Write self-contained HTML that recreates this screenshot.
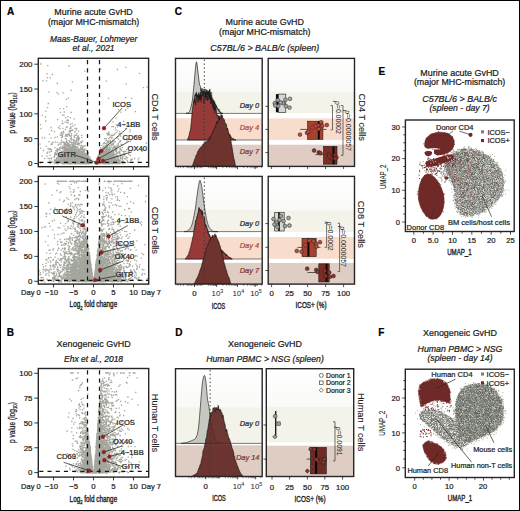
<!DOCTYPE html>
<html><head><meta charset="utf-8"><style>
html,body{margin:0;padding:0;background:#fff;width:520px;height:511px;overflow:hidden;font-family:"Liberation Sans", sans-serif;}
svg text{font-family:"Liberation Sans", sans-serif;}
</style></head><body>
<svg width="520" height="511" viewBox="0 0 520 511" font-family='"Liberation Sans", sans-serif' style="display:block">
<rect x="0" y="0" width="520" height="511" fill="#fff"/>
<text x="7.1" y="14.8" font-size="10" text-anchor="start" fill="#000" stroke="#000" stroke-width="0.22" font-weight="bold">A</text>
<text x="6.7" y="335.6" font-size="10" text-anchor="start" fill="#000" stroke="#000" stroke-width="0.22" font-weight="bold">B</text>
<text x="174.8" y="14.8" font-size="10" text-anchor="start" fill="#000" stroke="#000" stroke-width="0.22" font-weight="bold">C</text>
<text x="175.3" y="336.1" font-size="10" text-anchor="start" fill="#000" stroke="#000" stroke-width="0.22" font-weight="bold">D</text>
<text x="378.4" y="75.3" font-size="10" text-anchor="start" fill="#000" stroke="#000" stroke-width="0.22" font-weight="bold">E</text>
<text x="378.3" y="336.3" font-size="10" text-anchor="start" fill="#000" stroke="#000" stroke-width="0.22" font-weight="bold">F</text>
<text transform="translate(93.6,15) scale(1,1.1)" x="0" y="0" font-size="8.95" text-anchor="middle" fill="#1a1a1a" stroke="#1a1a1a" stroke-width="0.22">Murine acute GvHD</text>
<text transform="translate(93.6,25.3) scale(1,1.1)" x="0" y="0" font-size="8.85" text-anchor="middle" fill="#1a1a1a" stroke="#1a1a1a" stroke-width="0.22">(major MHC-mismatch)</text>
<text transform="translate(93.6,42.2) scale(1,1.1)" x="0" y="0" font-size="8.4" text-anchor="middle" fill="#1a1a1a" stroke="#1a1a1a" stroke-width="0.22" font-style="italic">Maas-Bauer, Lohmeyer</text>
<text transform="translate(93.6,51.3) scale(1,1.1)" x="0" y="0" font-size="8.5" text-anchor="middle" fill="#1a1a1a" stroke="#1a1a1a" stroke-width="0.22" font-style="italic">et al., 2021</text>
<text transform="translate(264.8,25.3) scale(1,1.1)" x="0" y="0" font-size="8.95" text-anchor="middle" fill="#1a1a1a" stroke="#1a1a1a" stroke-width="0.22">Murine acute GvHD</text>
<text transform="translate(264.8,35) scale(1,1.1)" x="0" y="0" font-size="8.85" text-anchor="middle" fill="#1a1a1a" stroke="#1a1a1a" stroke-width="0.22">(major MHC-mismatch)</text>
<text transform="translate(264.8,51.2) scale(1,1.1)" x="0" y="0" font-size="8.9" text-anchor="middle" fill="#1a1a1a" stroke="#1a1a1a" stroke-width="0.22" font-style="italic">C57BL/6 &gt; BALB/c (spleen)</text>
<text transform="translate(459.6,75.5) scale(1,1.1)" x="0" y="0" font-size="8.95" text-anchor="middle" fill="#1a1a1a" stroke="#1a1a1a" stroke-width="0.22">Murine acute GvHD</text>
<text transform="translate(459.6,85.3) scale(1,1.1)" x="0" y="0" font-size="8.85" text-anchor="middle" fill="#1a1a1a" stroke="#1a1a1a" stroke-width="0.22">(major MHC-mismatch)</text>
<text transform="translate(459.6,102.2) scale(1,1.1)" x="0" y="0" font-size="8.95" text-anchor="middle" fill="#1a1a1a" stroke="#1a1a1a" stroke-width="0.22" font-style="italic">C57BL/6 &gt; BALB/c</text>
<text transform="translate(459.6,111.3) scale(1,1.1)" x="0" y="0" font-size="8.7" text-anchor="middle" fill="#1a1a1a" stroke="#1a1a1a" stroke-width="0.22" font-style="italic">(spleen - day 7)</text>
<text transform="translate(93.6,347.3) scale(1,1.1)" x="0" y="0" font-size="8.95" text-anchor="middle" fill="#1a1a1a" stroke="#1a1a1a" stroke-width="0.22">Xenogeneic GvHD</text>
<text transform="translate(93.6,362.3) scale(1,1.1)" x="0" y="0" font-size="8.5" text-anchor="middle" fill="#1a1a1a" stroke="#1a1a1a" stroke-width="0.22" font-style="italic">Ehx et al., 2018</text>
<text transform="translate(265,347.2) scale(1,1.1)" x="0" y="0" font-size="8.95" text-anchor="middle" fill="#1a1a1a" stroke="#1a1a1a" stroke-width="0.22">Xenogeneic GvHD</text>
<text transform="translate(265,362) scale(1,1.1)" x="0" y="0" font-size="8.66" text-anchor="middle" fill="#1a1a1a" stroke="#1a1a1a" stroke-width="0.22" font-style="italic">Human PBMC &gt; NSG (spleen)</text>
<text transform="translate(460,336.3) scale(1,1.1)" x="0" y="0" font-size="8.95" text-anchor="middle" fill="#1a1a1a" stroke="#1a1a1a" stroke-width="0.22">Xenogeneic GvHD</text>
<text transform="translate(460,351.6) scale(1,1.1)" x="0" y="0" font-size="8.76" text-anchor="middle" fill="#1a1a1a" stroke="#1a1a1a" stroke-width="0.22" font-style="italic">Human PBMC &gt; NSG</text>
<text transform="translate(460,361) scale(1,1.1)" x="0" y="0" font-size="8.7" text-anchor="middle" fill="#1a1a1a" stroke="#1a1a1a" stroke-width="0.22" font-style="italic">(spleen - day 14)</text>
<clipPath id="vc1"><rect x="38.3" y="58.3" width="110.3" height="108.39999999999999"/></clipPath>
<g clip-path="url(#vc1)">
<path d="M106.9 155.6h0M101.4 161.0h0M73.5 163.1h0M63.9 154.2h0M101.8 162.9h0M103.9 155.1h0M74.6 150.9h0M97.9 162.8h0M60.5 142.9h0M90.0 162.1h0M74.7 160.6h0M74.5 151.6h0M74.6 149.5h0M67.2 158.8h0M62.9 123.5h0M78.4 160.2h0M86.1 158.9h0M81.0 161.1h0M75.1 161.8h0M118.0 136.6h0M97.3 158.8h0M68.1 163.1h0M102.0 161.9h0M107.3 157.8h0M125.4 163.0h0M113.5 159.4h0M78.4 153.8h0M85.8 154.4h0M87.8 155.7h0M68.6 145.9h0M73.6 146.0h0M61.7 154.6h0M104.2 155.8h0M91.1 161.7h0M69.6 159.5h0M58.4 157.2h0M99.9 162.8h0M90.6 161.9h0M107.4 158.1h0M67.1 144.9h0M71.0 156.5h0M54.0 162.5h0M86.6 161.2h0M102.0 156.4h0M70.4 124.1h0M81.5 152.0h0M79.7 161.7h0M79.2 162.6h0M68.2 143.5h0M66.6 144.6h0M74.2 158.6h0M105.0 163.8h0M70.1 156.8h0M106.5 158.4h0M111.4 137.9h0M79.9 162.4h0M106.8 159.5h0M76.2 162.0h0M98.8 160.6h0M109.7 158.0h0M86.1 160.7h0M88.3 152.3h0M98.7 162.5h0M67.2 161.7h0M101.5 163.2h0M75.2 156.5h0M76.9 162.5h0M84.1 162.5h0M76.8 163.8h0M75.1 149.1h0M72.3 160.5h0M98.3 159.1h0M79.2 138.0h0M70.0 162.2h0M112.8 159.5h0M99.1 163.3h0M98.6 163.2h0M57.3 162.5h0M65.9 157.6h0M72.8 156.2h0M68.3 160.0h0M87.9 162.6h0M76.6 158.6h0M72.8 159.3h0M61.6 161.1h0M71.9 159.3h0M113.4 155.4h0M101.2 161.7h0M98.7 162.2h0M83.3 162.8h0M115.5 158.9h0M97.3 163.8h0M100.7 161.2h0M77.3 162.4h0M74.7 157.0h0M82.2 163.4h0M75.4 158.8h0M70.8 159.2h0M48.5 149.1h0M97.5 162.7h0M75.2 158.2h0M103.2 159.5h0M68.9 146.7h0M77.6 153.2h0M68.4 157.6h0M98.2 159.6h0M86.0 163.1h0M70.9 138.6h0M110.7 155.0h0M81.5 161.0h0M60.2 161.1h0M118.6 146.1h0M107.5 148.7h0M109.6 153.3h0M109.8 137.4h0M71.3 136.9h0M68.2 159.7h0M116.1 157.3h0M71.7 160.7h0M125.6 110.0h0M67.2 157.6h0M73.7 151.2h0M70.9 162.2h0M78.4 158.6h0M101.5 162.7h0M102.6 151.4h0M75.7 161.1h0M120.4 156.4h0M75.0 128.3h0M80.4 160.3h0M80.5 158.5h0M78.9 156.3h0M75.8 153.6h0M80.5 155.2h0M78.0 159.3h0M86.4 156.4h0M73.0 161.3h0M99.0 158.4h0M75.5 156.3h0M60.4 154.3h0M72.5 156.6h0M70.1 160.5h0M76.6 162.6h0M75.6 147.3h0M67.4 162.6h0M103.6 156.4h0M79.1 160.1h0M74.7 162.2h0M114.1 162.8h0M74.4 162.3h0M75.0 161.1h0M109.5 149.2h0M99.4 161.1h0M112.7 163.5h0M90.1 163.2h0M47.5 77.6h0M102.7 151.6h0M72.8 160.8h0M81.2 162.4h0M72.9 162.7h0M69.7 151.4h0M109.0 161.3h0M114.8 161.1h0M113.5 153.0h0M84.2 161.2h0M103.2 161.1h0M59.9 148.5h0M56.0 161.2h0M75.2 155.7h0M82.6 163.1h0M105.4 162.8h0M58.5 162.9h0M107.3 163.7h0M70.3 163.5h0M79.7 160.5h0M75.3 161.2h0M62.9 151.7h0M80.8 163.4h0M89.0 163.8h0M103.6 161.1h0M102.6 160.1h0M99.8 156.5h0M105.5 156.9h0M107.4 161.8h0M70.2 158.0h0M57.3 161.2h0M82.4 162.9h0M80.8 149.3h0M67.0 158.7h0M108.8 134.8h0M105.9 161.3h0M70.8 159.7h0M63.7 108.6h0M68.6 154.3h0M103.1 159.7h0M70.7 160.9h0M91.8 163.4h0M69.7 163.2h0M109.1 145.6h0M67.9 152.6h0M79.6 150.8h0M87.6 158.8h0M86.8 160.0h0M48.3 103.5h0M76.5 156.0h0M110.8 158.2h0M84.6 162.1h0M77.6 155.9h0M111.3 154.6h0M70.5 161.4h0M64.9 158.8h0M122.4 159.4h0M99.1 162.9h0M84.5 163.5h0M83.2 162.4h0M90.1 161.0h0M84.0 160.9h0M86.2 161.4h0M110.9 143.0h0M72.6 162.6h0M75.7 158.9h0M66.2 160.2h0M72.7 155.5h0M82.0 163.4h0M125.9 67.4h0M69.8 159.8h0M107.1 163.7h0M47.8 65.7h0M76.4 156.2h0M77.2 160.2h0M75.4 147.9h0M106.9 158.1h0M69.5 155.9h0M87.5 157.8h0M99.3 163.7h0M106.3 155.2h0M100.7 161.1h0M78.6 154.1h0M103.2 161.7h0M71.5 142.4h0M105.4 160.6h0M71.5 150.3h0M108.2 158.5h0M73.0 157.9h0M66.4 156.2h0M61.2 132.6h0M75.0 154.8h0M82.3 153.7h0M105.3 158.9h0M83.5 161.5h0M75.7 154.1h0M88.2 163.5h0M106.9 161.3h0M101.0 163.7h0M71.0 159.5h0M83.7 161.0h0M71.8 148.9h0M110.0 155.5h0M74.3 159.4h0M71.0 161.5h0M69.8 156.0h0M125.9 128.6h0M120.8 158.3h0M74.8 163.1h0M87.9 162.7h0M62.8 154.2h0M70.5 158.3h0M82.0 153.1h0M110.7 149.2h0M84.1 160.6h0M63.7 142.5h0M85.8 160.0h0M105.8 163.8h0M107.1 148.9h0M71.0 159.0h0M107.2 157.7h0M103.1 157.1h0M78.4 163.4h0M99.0 158.9h0M73.9 144.0h0M124.2 125.4h0M82.1 161.1h0M101.4 153.9h0M58.2 157.1h0M74.7 163.7h0M110.9 161.2h0M69.3 151.0h0M88.7 160.7h0M82.9 152.2h0M105.4 161.1h0M111.9 137.3h0M69.7 157.8h0M87.7 161.9h0M107.9 155.0h0M79.1 160.1h0M83.0 159.8h0M73.3 153.9h0M74.4 135.1h0M117.1 162.4h0M99.5 161.1h0M101.9 161.1h0M81.4 158.3h0M128.1 139.5h0M82.3 158.1h0M65.5 157.9h0M103.5 161.2h0M58.6 161.5h0M91.2 163.0h0M112.0 163.5h0M102.9 159.3h0M105.5 145.8h0M104.7 159.5h0M70.0 128.4h0M109.7 160.3h0M109.6 157.7h0M72.7 158.5h0M106.5 159.5h0M68.7 151.5h0M104.3 160.7h0M81.3 160.3h0M98.6 160.1h0M114.6 158.7h0M81.4 163.6h0M49.5 158.8h0M105.6 158.8h0M99.3 155.5h0M81.3 151.9h0M104.5 159.7h0M73.6 159.4h0M87.2 160.3h0M77.5 157.4h0M96.2 163.6h0M83.3 162.6h0M82.2 163.8h0M74.0 153.3h0M111.2 162.4h0M69.5 152.2h0M102.6 161.8h0M104.3 155.4h0M83.1 162.8h0M87.7 162.3h0M81.7 135.4h0M105.4 160.1h0M107.5 161.5h0M73.3 156.2h0M108.0 156.9h0M71.8 150.1h0M66.9 134.6h0M71.3 158.9h0M84.7 154.2h0M82.1 160.3h0M106.8 163.4h0M60.8 158.3h0M61.0 161.9h0M100.1 162.2h0M72.6 163.3h0M56.2 153.7h0M69.4 161.8h0M80.6 142.2h0M80.2 163.1h0M64.6 162.5h0M106.2 162.3h0M66.4 163.2h0M64.1 145.2h0M83.2 163.7h0M67.1 162.3h0M88.0 160.8h0M103.9 154.8h0M102.2 160.6h0M68.5 163.5h0M103.8 156.0h0M80.5 163.5h0M86.7 163.5h0M108.3 154.8h0M75.9 163.1h0M102.7 163.7h0M51.5 130.5h0M71.5 153.0h0M80.2 156.3h0M103.0 157.7h0M104.2 157.9h0M109.0 147.9h0M111.4 163.5h0M78.0 158.3h0M102.6 160.5h0M108.7 162.0h0M100.7 161.4h0M65.6 147.7h0M79.2 162.1h0M103.1 154.4h0M71.0 157.3h0M85.7 157.7h0M108.6 153.6h0M104.0 160.9h0M74.1 155.0h0M84.9 160.7h0M113.3 145.1h0M105.9 153.8h0M78.5 162.9h0M88.3 162.7h0M79.6 160.9h0M80.8 161.9h0M115.3 159.4h0M70.4 159.7h0M118.6 156.1h0M109.5 150.3h0M79.7 162.0h0M109.1 163.8h0M71.5 158.7h0M73.6 160.4h0M86.3 161.7h0M60.8 157.3h0M100.8 162.9h0M98.8 160.8h0M102.1 160.3h0M81.9 163.3h0M112.9 147.4h0M102.3 157.7h0M118.7 161.7h0M79.9 150.1h0M102.9 148.4h0M108.9 154.1h0M118.2 143.5h0M68.1 162.6h0M76.0 156.3h0M78.5 159.3h0M114.2 162.9h0M72.8 155.7h0M74.6 154.6h0M71.7 162.9h0M61.8 163.7h0M69.7 153.6h0M64.3 149.2h0M70.8 158.7h0M67.8 151.0h0M114.7 161.0h0M83.5 162.6h0M81.8 163.5h0M105.8 157.9h0M55.0 147.6h0M103.3 152.7h0M81.1 162.6h0M76.4 155.4h0M69.7 130.5h0M42.0 156.2h0M104.5 157.6h0M86.1 155.9h0M101.6 158.8h0M101.6 159.2h0M81.6 160.9h0M70.9 157.1h0M139.2 137.9h0M80.4 162.9h0M113.3 156.0h0M69.4 152.5h0M80.7 154.6h0M100.6 163.0h0M72.0 157.5h0M78.4 151.7h0M76.2 159.7h0M104.5 161.6h0M103.3 162.2h0M62.6 157.8h0M128.6 162.3h0M71.5 162.1h0M103.6 162.1h0M103.2 163.1h0M87.7 157.6h0M108.1 150.0h0M87.0 157.0h0M66.3 156.3h0M107.1 154.5h0M86.0 163.4h0M81.4 161.4h0M70.2 132.2h0M86.7 163.7h0M90.3 159.1h0M69.8 162.9h0M70.9 163.4h0M81.9 158.7h0M61.5 162.9h0M84.0 149.7h0M99.0 162.9h0M123.5 121.3h0M71.6 160.9h0M77.0 162.0h0M71.4 156.3h0M110.5 162.1h0M75.1 156.0h0M104.8 149.1h0M79.1 153.8h0M64.1 158.5h0M75.3 162.9h0M104.4 157.4h0M72.9 147.4h0M99.1 159.2h0M79.1 154.5h0M61.5 140.3h0M80.8 163.3h0M104.2 162.5h0M75.0 158.9h0M75.2 131.9h0M85.4 161.2h0M98.2 158.3h0M86.9 157.3h0M79.0 162.5h0M74.8 157.1h0M105.3 153.2h0M109.2 157.1h0M103.8 161.9h0M103.8 161.8h0M119.0 162.1h0M71.6 161.6h0M79.3 160.6h0M70.2 160.4h0M69.3 149.6h0M70.7 162.3h0M74.2 158.6h0M71.6 161.6h0M103.4 160.4h0M120.3 140.7h0M84.0 157.3h0M66.4 152.1h0M82.6 162.5h0M84.1 162.9h0M62.6 158.4h0M103.7 154.5h0M66.1 160.8h0M105.1 160.3h0M58.0 163.4h0M104.6 162.1h0M112.7 156.5h0M107.2 156.0h0M75.7 141.9h0M66.3 155.0h0M80.2 162.1h0M108.9 145.0h0M104.5 148.3h0M64.2 156.1h0M70.4 139.1h0M109.3 159.3h0M58.3 161.9h0M70.1 159.1h0M47.7 152.1h0M102.2 163.5h0M113.8 155.0h0M81.0 162.3h0M80.6 160.7h0M85.9 157.5h0M106.1 158.9h0M100.3 153.0h0M73.9 163.1h0M58.3 156.6h0M104.5 138.6h0M111.4 152.4h0M73.6 154.2h0M83.1 160.0h0M72.7 157.4h0M76.7 159.4h0M111.8 160.9h0M79.1 152.5h0M81.1 148.0h0M99.0 159.9h0M97.8 163.6h0M113.6 152.3h0M83.2 161.9h0M84.6 163.7h0M80.1 151.0h0M78.6 161.1h0M110.4 158.9h0M85.3 160.8h0M117.1 152.8h0M85.2 162.8h0M86.7 163.3h0M66.0 147.2h0M106.9 163.3h0M69.8 160.4h0M81.2 155.4h0M61.3 133.3h0M77.7 159.3h0M105.2 162.0h0M103.5 153.2h0M117.4 163.7h0M60.8 159.5h0M132.8 138.1h0M81.6 155.3h0M108.1 160.7h0M71.8 157.7h0M73.0 160.6h0M99.6 160.9h0M70.8 159.6h0M108.7 150.0h0M83.0 156.2h0M87.4 159.5h0M71.4 163.7h0M111.5 138.1h0M107.1 159.0h0M67.1 154.9h0M68.8 143.5h0M63.3 160.6h0M89.9 158.9h0M121.1 144.3h0M108.4 160.5h0M82.3 157.4h0M102.8 163.2h0M82.7 157.3h0M71.5 143.1h0M78.9 151.5h0M100.5 161.3h0M78.8 150.9h0M82.8 163.5h0M73.7 151.1h0M100.0 160.9h0M86.8 160.5h0M109.6 162.4h0M76.0 160.3h0M64.0 115.2h0M109.2 161.6h0M71.9 142.6h0M80.6 151.5h0M98.6 160.5h0M114.6 157.0h0M99.2 161.0h0M58.6 158.4h0M68.3 162.7h0M75.7 158.7h0M71.8 154.4h0M78.6 158.5h0M85.8 158.4h0M65.0 154.3h0M76.9 161.4h0M60.6 156.2h0M121.0 158.2h0M106.1 158.3h0M79.4 159.9h0M120.3 158.1h0M109.5 161.1h0M67.2 142.5h0M115.2 160.0h0M72.8 130.0h0M108.0 157.0h0M81.2 158.3h0M85.6 160.8h0M75.2 158.0h0M69.6 160.4h0M79.4 156.8h0M65.9 157.8h0M67.4 126.8h0M76.8 151.3h0M107.9 159.4h0M87.7 160.7h0M100.1 161.9h0M120.4 136.0h0M56.7 161.3h0M82.1 157.0h0M65.5 159.2h0M116.4 132.4h0M104.2 160.9h0M54.5 156.6h0M96.7 163.6h0M119.5 151.7h0M114.2 156.2h0M84.3 163.4h0M72.0 162.9h0M73.2 153.5h0M75.7 157.5h0M74.5 159.7h0M70.6 130.3h0M104.8 154.2h0M103.3 155.8h0M86.4 160.1h0M88.4 161.8h0M77.2 149.4h0M77.8 143.2h0M81.3 148.5h0M119.8 131.6h0M78.3 155.4h0M88.1 162.4h0M73.3 146.4h0M102.3 161.1h0M103.4 159.1h0M73.8 144.5h0M60.8 159.5h0M70.4 151.1h0M87.9 152.8h0M111.9 155.7h0M83.0 158.4h0M68.3 159.7h0M104.5 161.1h0M99.9 155.9h0M92.2 161.8h0M116.2 156.0h0M79.1 161.8h0M107.7 160.0h0M76.2 152.1h0M77.2 162.9h0M77.9 160.6h0M81.1 162.7h0M107.5 157.6h0M84.1 161.5h0M112.8 154.1h0M109.7 159.7h0M113.7 161.1h0M63.5 149.0h0M83.4 162.4h0M75.6 160.8h0M64.5 160.7h0M126.8 137.9h0M65.2 158.7h0M71.0 158.4h0M105.9 150.9h0M56.4 159.0h0M115.3 162.4h0M66.1 161.3h0M51.6 158.1h0M103.1 156.4h0M70.5 163.8h0M87.2 161.4h0M87.1 155.2h0M117.3 147.1h0M108.2 141.6h0M84.6 162.8h0M54.4 160.9h0M82.3 161.9h0M73.0 150.8h0M106.7 158.7h0M61.7 159.8h0M69.2 154.8h0M77.5 137.2h0M71.4 163.3h0M69.3 154.8h0M110.4 158.0h0M59.2 154.0h0M102.0 163.2h0M106.4 156.9h0M65.7 163.0h0M72.0 160.1h0M75.1 160.6h0M76.6 161.1h0M120.3 157.4h0M86.4 163.8h0M62.4 158.0h0M87.8 161.3h0M105.8 157.3h0M99.6 159.1h0M105.9 139.0h0M84.0 162.4h0M77.4 163.6h0M80.0 157.2h0M81.9 151.5h0M111.4 163.7h0M106.0 152.0h0M102.2 162.6h0M113.0 151.6h0M77.2 161.0h0M60.5 148.2h0M111.5 160.2h0M112.4 163.8h0M81.5 160.1h0M71.3 163.4h0M105.7 156.1h0M68.9 145.3h0M101.6 161.8h0M74.6 161.3h0M84.9 162.2h0M85.6 161.1h0M69.4 161.6h0M76.0 159.9h0M85.3 156.7h0M69.5 158.2h0M113.9 158.1h0M107.9 133.7h0M103.2 150.8h0M77.4 154.8h0M81.4 159.8h0M102.1 156.7h0M65.3 153.9h0M108.2 162.6h0M100.0 160.0h0M76.8 162.7h0M102.4 159.4h0M71.6 162.8h0M85.0 149.1h0M99.6 158.5h0M70.5 163.6h0M65.8 134.4h0M69.4 156.9h0M66.5 162.9h0M100.6 156.0h0M114.7 159.9h0M50.0 149.6h0M72.9 160.3h0M66.2 153.1h0M72.3 159.8h0M79.0 162.4h0M72.2 162.3h0M68.7 155.4h0M69.1 158.3h0M84.9 157.8h0M81.2 162.9h0M71.5 162.3h0M64.9 142.5h0M102.1 153.8h0M107.5 157.9h0M72.2 145.3h0M103.2 162.2h0M82.6 160.3h0M78.2 148.3h0M79.5 163.8h0M102.4 154.5h0M62.3 161.7h0M66.0 160.8h0M66.7 154.3h0M68.5 120.9h0M81.3 162.5h0M107.6 161.5h0M87.9 162.4h0M104.7 162.3h0M65.3 160.3h0M65.0 145.8h0M62.9 158.7h0M85.5 159.9h0M82.4 155.6h0M104.5 163.8h0M70.8 155.6h0M103.7 163.6h0M101.5 157.4h0M77.5 162.5h0M102.2 158.8h0M112.5 158.0h0M68.6 161.4h0M77.6 162.7h0M50.0 163.4h0M79.9 154.0h0M109.2 161.0h0M62.9 128.3h0M63.9 161.7h0M102.7 161.6h0M81.7 159.0h0M105.0 163.7h0M68.6 163.4h0M70.3 161.2h0M98.9 163.7h0M70.5 158.7h0M107.7 161.0h0M100.1 159.8h0M70.6 159.4h0M113.6 152.4h0M65.3 162.1h0M111.9 161.3h0M77.0 156.3h0M119.5 163.1h0M65.9 150.7h0M85.7 163.1h0M74.0 155.4h0M79.8 150.0h0M106.0 161.3h0M98.3 162.4h0M66.2 162.2h0M76.1 156.1h0M75.0 163.3h0M119.7 142.0h0M71.8 162.4h0M67.2 150.9h0M69.7 162.0h0M104.0 158.6h0M77.3 159.5h0M101.4 162.7h0M109.7 150.0h0M120.6 141.0h0M105.7 163.2h0M83.4 163.7h0M69.2 161.2h0M74.3 158.5h0M103.2 158.4h0M71.3 156.1h0M66.3 157.8h0M72.8 156.7h0M83.6 161.5h0M105.7 157.1h0M65.0 143.6h0M114.7 157.5h0M72.4 157.3h0M84.0 159.1h0M96.8 159.7h0M80.2 151.9h0M65.1 157.7h0M103.7 159.9h0M102.2 163.7h0M81.9 159.2h0M117.6 160.6h0M73.4 155.8h0M71.2 161.2h0M74.9 159.4h0M73.6 163.3h0M80.5 161.9h0M72.3 159.4h0M104.1 163.2h0M85.1 156.9h0M75.4 154.7h0M87.5 160.4h0M58.8 144.4h0M104.7 155.8h0M99.0 163.7h0M109.0 157.3h0M87.9 162.8h0M98.4 161.3h0M69.3 162.3h0M98.6 157.3h0M119.1 162.2h0M81.5 155.1h0M51.2 137.8h0M86.8 154.5h0M75.7 135.3h0M76.4 138.5h0M100.4 163.3h0M116.2 147.7h0M67.7 156.8h0M83.0 158.6h0M87.8 162.8h0M98.1 163.6h0M99.0 159.5h0M63.3 152.0h0M70.5 149.4h0M77.9 159.4h0M72.6 157.5h0M65.4 163.5h0M65.6 162.5h0M102.0 155.8h0M77.1 155.7h0M73.6 147.6h0M61.0 142.6h0M65.8 152.1h0M89.1 161.4h0M54.6 155.7h0M75.2 146.5h0M67.3 163.3h0M71.8 153.9h0M68.3 160.4h0M78.0 156.1h0M100.9 154.6h0M70.2 117.7h0M72.5 158.4h0M81.4 161.8h0M80.9 160.1h0M107.2 153.5h0M103.3 161.5h0M73.9 160.3h0M108.0 161.6h0M85.0 153.5h0M112.0 138.1h0M120.0 163.7h0M74.2 118.9h0M73.2 154.6h0M80.3 160.5h0M109.0 162.0h0M80.3 162.5h0M81.0 157.1h0M77.1 162.7h0M76.2 159.2h0M147.2 87.1h0M106.1 160.5h0M86.1 163.4h0M80.1 152.7h0M97.8 163.5h0M108.4 155.1h0M102.1 161.1h0M72.3 161.2h0M90.4 160.4h0M83.8 162.9h0M69.0 161.6h0M57.7 153.8h0M91.5 163.5h0M110.2 161.2h0M101.7 161.3h0M76.3 157.1h0M78.1 162.0h0M78.3 150.8h0M87.3 161.7h0M65.8 158.0h0M65.0 158.5h0M104.4 162.3h0M79.0 161.6h0M79.3 162.1h0M111.5 163.2h0M117.7 160.9h0M130.5 141.4h0M79.6 159.9h0M76.9 163.0h0M73.8 158.2h0M72.6 156.5h0M84.0 157.2h0M102.6 161.4h0M110.8 135.8h0M104.7 161.3h0M76.6 162.1h0M67.0 144.6h0M81.9 158.6h0M78.6 162.3h0M106.1 150.5h0M85.2 163.6h0M71.2 160.1h0M112.3 149.9h0M104.8 150.9h0M75.4 163.7h0M72.5 149.1h0M100.7 161.7h0M105.9 153.9h0M105.3 160.2h0M74.4 153.5h0M107.7 135.2h0M87.6 161.1h0M67.9 153.1h0M82.5 161.6h0M72.2 161.5h0M103.4 163.2h0M101.3 162.8h0M71.8 160.0h0M64.3 160.6h0M106.5 162.1h0M73.7 152.4h0M106.9 160.1h0M76.7 147.3h0M55.2 160.5h0M78.8 163.3h0M68.1 149.7h0M77.7 161.3h0M106.8 155.4h0M117.8 160.4h0M74.6 154.3h0M71.7 157.5h0M80.6 147.2h0M83.9 159.6h0M83.6 158.5h0M100.3 162.0h0M106.1 154.5h0M74.7 161.5h0M71.8 147.3h0M62.3 148.4h0M112.9 145.2h0M82.2 153.5h0M110.0 149.5h0M101.0 163.2h0M78.9 161.8h0M85.3 154.8h0M68.5 162.0h0M98.6 162.6h0M107.6 155.1h0M70.5 162.5h0M77.3 162.4h0M113.3 158.1h0M77.2 160.3h0M108.0 161.0h0M86.5 163.4h0M109.2 163.7h0M104.4 157.2h0M123.4 151.3h0M88.3 158.4h0M115.2 150.3h0M78.5 160.4h0M58.3 145.1h0M75.4 155.0h0M101.5 160.5h0M77.7 159.3h0M76.9 139.4h0M108.9 151.1h0M81.1 145.3h0M70.4 144.9h0M112.8 149.6h0M107.4 155.0h0M64.3 161.4h0M106.8 154.9h0M73.7 161.6h0M74.4 161.8h0M83.9 161.1h0M107.7 161.5h0M105.0 158.2h0M80.1 163.0h0M75.0 157.5h0M73.1 142.6h0M79.0 157.9h0M59.9 108.6h0M65.6 161.5h0M105.2 158.0h0M87.8 162.7h0M85.3 163.5h0M75.4 148.5h0M104.4 161.3h0M71.6 162.9h0M59.8 160.5h0M99.3 159.1h0M100.9 152.2h0M65.2 152.7h0M115.5 127.8h0M109.4 153.7h0M65.7 156.3h0M75.2 160.0h0M76.3 156.1h0M76.9 141.9h0M74.9 163.2h0M73.8 163.6h0M107.8 154.2h0M74.3 156.5h0M109.0 157.4h0M105.0 160.2h0M103.6 163.2h0M122.0 155.4h0M84.1 162.8h0M107.0 159.6h0M86.8 158.8h0M76.0 160.7h0M102.4 159.2h0M70.6 163.3h0M96.2 162.2h0M101.0 156.2h0M104.0 148.7h0M81.4 152.4h0M78.2 158.7h0M84.7 162.3h0M70.9 157.4h0M89.4 160.6h0M84.0 154.4h0M104.0 157.0h0M59.7 162.6h0M87.1 160.4h0M50.0 155.2h0M103.6 162.3h0M65.8 151.2h0M90.9 161.7h0M101.5 160.4h0M105.7 160.0h0M85.6 155.9h0M73.5 163.7h0M105.5 154.9h0M75.0 158.6h0M130.1 129.9h0M64.2 112.0h0M98.7 157.0h0M78.9 163.5h0M72.1 159.1h0M84.7 157.0h0M62.6 156.2h0M102.5 163.1h0M103.9 163.7h0M111.9 161.5h0M109.4 161.8h0M65.9 160.6h0M71.7 162.6h0M70.1 158.2h0M78.4 160.4h0M102.0 160.6h0M72.2 156.0h0M77.2 160.5h0M70.6 155.5h0M72.5 155.2h0M69.9 157.9h0M98.8 162.8h0M109.5 155.7h0M86.6 160.2h0M65.0 159.0h0M76.3 163.7h0M90.7 161.0h0M116.4 150.8h0M96.8 163.1h0M60.0 155.0h0M52.3 74.5h0M99.1 162.8h0M69.7 151.4h0M83.5 163.4h0M59.9 128.6h0M70.7 161.9h0M77.7 155.0h0M108.8 159.9h0M103.7 159.3h0M87.4 161.0h0M109.7 162.2h0M73.2 158.2h0M103.1 153.5h0M69.4 159.1h0M81.9 163.4h0M70.4 150.4h0M73.5 149.2h0M100.0 159.9h0M119.4 153.0h0M73.8 156.6h0M75.4 163.6h0M66.3 157.1h0M68.2 157.2h0M78.9 160.4h0M83.6 160.6h0M104.5 160.6h0M128.8 147.1h0M82.9 159.4h0M102.7 158.3h0M102.8 157.9h0M88.0 161.8h0M102.9 161.6h0M106.2 157.5h0M106.8 156.6h0M109.0 160.9h0M106.6 163.7h0M78.7 151.5h0M77.6 159.1h0M113.5 163.1h0M66.3 162.3h0M105.4 163.5h0M100.6 160.5h0M85.0 161.0h0M105.7 163.0h0M101.3 162.0h0M78.0 160.7h0M105.4 163.5h0M97.4 161.6h0M62.8 141.8h0M75.7 148.9h0M108.7 162.4h0M83.3 162.0h0M100.5 154.6h0M76.1 129.8h0M73.4 144.9h0M101.4 158.2h0M108.3 142.7h0M106.6 162.8h0M79.6 155.6h0M104.3 163.3h0M86.3 159.0h0M71.8 161.8h0M73.5 160.7h0M65.1 155.6h0M73.1 161.0h0M80.4 151.8h0M99.4 163.3h0M76.4 163.4h0M70.2 162.7h0M101.6 159.9h0M77.4 137.8h0M69.2 135.0h0M108.7 142.8h0M102.5 160.2h0M68.6 161.9h0M82.7 163.0h0M55.2 163.5h0M109.8 155.0h0M71.3 150.7h0M113.2 148.4h0M70.5 158.9h0M104.7 162.0h0M72.6 158.0h0M68.7 159.1h0M112.4 156.9h0M113.3 126.6h0M103.1 152.4h0M80.4 149.2h0M73.8 156.4h0M84.5 162.2h0M99.5 158.8h0M105.0 162.6h0M84.5 161.7h0M65.1 162.0h0M65.6 151.0h0M101.2 159.3h0M106.8 161.2h0M108.7 159.9h0M85.3 162.2h0M103.7 149.3h0M74.2 161.1h0M73.4 162.3h0M62.9 162.5h0M68.3 154.4h0M89.0 160.7h0M99.3 157.2h0M101.0 160.3h0M103.6 162.5h0M109.5 160.0h0M91.3 161.4h0M90.1 163.2h0M108.5 150.9h0M101.1 155.6h0M60.9 157.8h0M98.7 162.3h0M82.8 161.6h0M64.1 160.9h0M87.5 153.8h0M72.8 158.6h0M100.6 159.7h0M104.5 162.9h0M75.3 162.6h0M81.5 154.3h0M103.5 160.5h0M118.4 163.7h0M110.0 163.2h0M69.8 158.9h0M80.4 156.0h0M66.6 106.7h0M82.1 160.8h0M81.1 154.2h0M84.7 159.2h0M143.0 149.1h0M105.2 156.7h0M79.4 158.5h0M116.7 149.4h0M100.8 155.8h0M114.4 154.1h0M75.7 162.9h0M81.7 163.8h0M109.0 155.6h0M88.3 158.2h0M78.8 161.8h0M70.6 150.6h0M107.8 162.9h0M89.1 162.7h0M104.0 161.5h0M98.6 161.7h0M72.2 158.2h0M88.5 163.7h0M76.3 163.7h0M68.9 161.1h0M88.0 159.7h0M66.1 158.0h0M101.9 162.6h0M107.5 161.6h0M99.7 161.7h0M90.5 161.8h0M72.1 163.1h0M80.7 161.5h0M74.9 156.7h0M71.9 161.6h0M78.9 161.2h0M103.9 145.8h0M102.7 153.4h0M81.5 142.7h0M69.3 151.8h0M104.8 162.2h0M43.5 150.5h0M51.9 143.2h0M49.9 160.8h0M87.7 162.0h0M108.8 154.8h0M75.5 159.3h0M85.7 158.1h0M72.1 161.0h0M132.1 159.5h0M107.9 157.5h0M59.7 155.2h0M82.1 156.5h0M97.6 162.9h0M72.8 158.4h0M98.3 156.7h0M88.1 153.7h0M104.4 142.4h0M105.9 163.4h0M83.7 162.1h0M78.7 160.4h0M105.7 163.2h0M72.9 144.3h0M74.9 148.5h0M101.3 161.5h0M105.4 158.5h0M99.5 161.2h0M73.8 159.7h0M61.0 148.2h0M69.1 140.6h0M82.1 159.3h0M88.1 161.9h0M85.4 163.3h0M70.2 158.9h0M78.7 159.6h0M68.5 163.4h0M80.6 156.7h0M82.5 161.5h0M76.3 163.4h0M70.3 162.4h0M128.8 154.5h0M89.7 162.0h0M86.7 163.3h0M111.7 154.8h0M82.0 158.7h0M72.8 161.9h0M77.2 157.6h0M71.5 163.1h0M72.6 162.9h0M81.8 160.7h0M87.5 158.4h0M99.7 163.8h0M98.3 161.7h0M80.4 163.0h0M68.6 159.5h0M114.2 162.3h0M112.0 162.9h0M83.0 158.7h0M107.1 156.1h0M83.4 159.4h0M106.8 156.5h0M110.7 155.9h0M79.3 163.1h0M105.4 161.3h0M79.7 163.4h0M63.7 132.7h0M97.8 163.5h0M88.8 163.6h0M97.1 161.7h0M73.5 159.7h0M77.1 162.5h0M68.3 98.1h0M97.7 161.5h0M102.2 159.0h0M75.0 163.5h0M64.3 159.8h0M68.5 143.4h0M77.5 163.5h0M98.0 163.1h0M68.3 153.6h0M107.8 163.6h0M79.2 161.5h0M99.4 154.0h0M106.0 150.2h0M88.2 162.1h0M102.2 155.2h0M72.3 153.7h0M61.7 157.3h0M105.2 162.3h0M111.5 155.1h0M81.0 162.7h0M114.1 163.6h0M76.1 152.8h0M106.1 154.7h0M66.2 156.8h0M82.6 147.8h0M104.9 159.6h0M67.7 157.9h0M62.9 156.3h0M107.9 151.6h0M61.6 133.9h0M73.6 159.0h0M51.0 127.5h0M109.3 162.3h0M104.4 160.5h0M60.1 160.7h0M67.2 152.9h0M85.7 155.9h0M115.8 146.4h0M96.0 163.2h0M65.6 143.1h0M115.2 141.4h0M108.9 156.2h0M57.3 83.5h0M73.0 162.5h0M138.9 158.2h0M106.4 162.1h0M78.6 131.2h0M103.3 159.4h0M62.0 142.1h0M101.7 157.7h0M109.7 157.1h0M77.4 160.0h0M83.2 161.1h0M100.6 162.9h0M60.2 161.2h0M111.3 162.3h0M86.6 156.5h0M108.0 155.6h0M76.1 162.5h0M106.6 162.6h0M80.9 161.6h0M70.7 154.8h0M74.2 154.6h0M82.2 154.3h0M103.3 157.5h0M47.0 73.7h0M77.4 160.7h0M112.4 149.7h0M116.8 149.9h0M101.6 163.0h0M109.0 147.9h0M74.1 163.7h0M78.7 163.2h0M102.9 151.9h0M106.6 150.7h0M78.6 162.2h0M75.2 159.4h0M102.3 161.4h0M86.4 162.9h0M90.6 162.2h0M68.0 163.5h0M81.5 155.6h0M66.5 127.3h0M78.4 159.4h0M70.0 142.2h0M57.3 158.1h0M76.0 162.9h0M68.0 162.8h0M95.9 163.6h0M80.8 159.8h0M110.1 154.6h0M97.5 163.3h0M80.1 160.3h0M77.5 159.6h0M107.3 162.0h0M114.1 160.2h0M107.1 160.5h0M78.7 162.5h0M126.8 140.8h0M81.8 157.9h0M83.0 160.9h0M106.4 158.4h0M83.3 154.6h0M78.8 163.2h0M83.7 161.9h0M71.8 147.9h0M102.2 160.8h0M70.7 150.7h0M76.1 147.2h0M103.7 163.5h0M69.7 152.7h0M110.2 153.5h0M65.5 159.8h0M99.1 162.2h0M61.6 155.1h0M106.1 160.2h0M89.5 162.9h0M71.0 159.6h0M129.8 126.2h0M81.8 158.2h0M86.1 163.5h0M79.7 158.0h0M77.0 160.9h0M108.5 155.1h0M115.7 147.3h0M77.8 161.0h0M75.3 159.5h0M81.8 157.1h0M59.2 149.8h0M85.9 161.6h0M111.1 157.0h0M102.8 163.6h0M50.3 77.9h0M75.7 144.4h0M80.6 157.8h0M110.8 162.0h0M76.0 161.3h0M70.5 152.4h0M77.5 158.1h0M71.9 150.3h0M70.1 163.8h0M106.7 156.5h0M130.0 131.9h0M74.2 136.6h0M77.2 152.2h0M71.0 128.2h0M80.7 160.6h0M86.4 162.8h0M69.6 160.2h0M59.4 159.9h0M107.0 133.7h0M99.9 162.6h0M63.6 163.8h0M107.9 134.9h0M86.7 160.9h0M69.9 161.0h0M70.5 159.5h0M106.1 156.1h0M78.5 151.0h0M80.1 160.8h0M104.9 157.3h0M79.4 162.2h0M101.0 159.8h0M61.2 133.2h0M120.2 149.7h0M66.9 156.0h0M105.6 163.2h0M88.0 160.5h0M83.0 160.0h0M98.2 159.3h0M71.8 156.7h0M86.5 159.3h0M115.7 154.9h0M63.1 155.7h0M40.6 163.1h0M73.0 154.3h0M97.6 157.9h0M77.0 156.2h0M87.7 161.5h0M105.5 149.4h0M85.8 163.0h0M66.0 162.9h0M68.8 156.2h0M119.3 153.7h0M98.5 163.5h0M107.4 161.8h0M95.4 162.6h0M107.0 158.6h0M81.4 161.5h0M115.2 163.7h0M71.6 147.7h0M78.7 158.1h0M68.2 144.6h0M87.3 163.0h0M67.5 156.9h0M114.2 134.6h0M105.6 160.6h0M106.9 163.8h0M74.8 157.5h0M99.6 163.5h0M113.0 163.3h0M75.3 162.3h0M75.8 141.8h0M96.7 161.5h0M68.1 122.9h0M102.6 150.4h0M61.5 153.1h0M84.8 163.7h0M69.4 162.4h0M79.7 160.4h0M64.1 162.9h0M68.9 148.4h0M71.7 161.8h0M49.5 134.4h0M45.5 117.0h0M79.9 162.2h0M70.3 142.0h0M123.4 153.7h0M109.5 134.3h0M68.8 158.8h0M81.1 162.1h0M70.1 162.8h0M99.2 160.7h0M68.1 162.2h0M73.6 162.8h0M83.4 161.0h0M105.1 158.6h0M89.5 161.0h0M83.7 162.1h0M101.9 163.7h0M101.5 153.5h0M84.1 160.1h0M112.7 144.2h0M102.5 159.2h0M77.4 146.8h0M112.2 162.9h0M86.0 161.7h0M113.3 140.4h0M67.7 145.6h0M81.8 156.7h0M73.3 163.5h0M90.6 159.5h0M86.2 157.2h0M112.9 162.2h0M103.7 161.7h0M77.5 158.9h0M100.8 159.7h0M81.3 162.7h0M48.1 158.2h0M86.7 162.8h0M116.0 159.9h0M69.7 162.2h0M65.2 155.4h0M58.5 94.1h0M112.8 163.4h0M107.3 163.4h0M108.8 163.8h0M104.1 159.9h0M99.4 163.5h0M76.2 151.4h0M78.0 137.2h0M82.5 160.4h0M82.2 162.3h0M77.7 162.2h0M111.6 159.0h0M77.1 162.4h0M82.6 161.8h0M114.5 163.0h0M107.6 162.6h0M107.5 155.7h0M82.6 161.4h0M66.8 158.5h0M90.3 160.8h0M120.5 160.2h0M73.7 151.7h0M110.6 159.8h0M70.4 162.4h0M82.6 160.0h0M66.6 151.3h0M75.3 163.3h0M73.0 161.0h0M73.1 159.9h0M64.4 144.2h0M70.0 161.5h0M63.3 157.5h0M101.6 161.4h0M127.4 160.3h0M64.3 146.6h0M118.1 163.6h0M84.8 163.0h0M105.2 161.8h0M67.1 155.2h0M106.0 159.8h0M73.9 161.2h0M99.2 163.7h0M102.1 160.3h0M88.4 160.5h0M79.9 156.0h0M77.5 154.4h0M83.4 163.8h0M78.9 155.5h0M101.6 151.1h0M90.9 161.0h0M84.2 157.5h0M97.2 163.3h0M79.9 160.4h0M85.0 153.9h0M62.4 137.1h0M72.9 163.6h0M58.6 160.7h0M73.4 163.5h0M70.5 163.6h0M120.8 157.4h0M70.0 156.5h0M67.5 155.0h0M68.6 162.0h0M105.7 158.3h0M71.9 130.5h0M77.7 161.2h0M55.5 152.7h0M98.8 159.3h0M111.9 162.6h0M63.2 159.5h0M74.4 163.2h0M86.1 156.3h0M45.8 111.2h0M70.5 159.2h0M116.5 125.0h0M62.8 157.1h0M107.1 151.1h0M98.2 163.5h0M84.5 162.8h0M102.0 155.6h0M68.9 163.5h0M68.1 160.0h0M77.1 149.4h0M104.5 160.8h0M99.2 162.5h0M86.2 162.2h0M112.7 157.2h0M63.6 160.7h0M112.8 161.8h0M67.0 159.0h0M114.9 146.4h0M74.7 163.5h0M135.4 111.7h0M106.5 161.1h0M86.3 160.6h0M106.3 162.4h0M73.6 159.5h0M76.9 163.2h0M103.2 159.4h0M101.0 162.6h0M64.7 150.1h0M68.6 162.4h0M71.1 153.6h0M70.7 163.3h0M78.8 151.8h0M99.1 157.0h0M120.3 133.9h0M103.4 162.4h0M74.0 160.3h0M61.2 163.2h0M71.1 158.1h0M99.6 163.1h0M89.4 159.0h0M86.9 163.6h0M104.8 159.2h0M76.6 156.9h0M107.3 156.1h0M73.2 162.8h0M71.9 157.1h0M111.2 160.0h0M57.3 148.6h0M74.0 162.8h0M84.9 161.8h0M118.5 109.6h0M68.2 162.0h0M62.2 158.3h0M71.4 158.7h0M90.7 162.1h0M79.6 160.9h0M71.5 161.3h0M71.7 161.1h0M72.7 155.6h0M83.4 155.7h0M72.7 160.7h0M111.8 135.1h0M68.9 161.0h0M68.5 156.2h0M72.3 151.6h0M83.1 150.9h0M69.9 160.6h0M105.1 155.2h0M109.1 148.3h0M71.7 162.2h0M104.2 156.8h0M77.5 157.6h0M70.0 148.5h0M81.6 149.3h0M76.9 158.0h0M98.5 162.9h0M105.3 163.4h0M64.2 157.8h0M74.6 137.3h0M69.6 158.3h0M81.8 162.3h0M100.5 161.3h0M65.3 149.0h0M77.2 159.7h0M69.3 163.0h0M100.7 163.4h0M104.1 162.3h0M102.5 156.1h0M78.7 160.3h0M67.2 154.0h0M78.6 162.3h0M100.4 161.8h0M84.1 155.3h0M72.9 152.7h0M79.7 161.0h0M102.0 151.2h0M85.5 161.2h0M67.9 160.8h0M119.1 160.5h0M84.1 154.2h0M58.0 162.2h0M115.1 160.7h0M77.4 163.4h0M67.6 159.5h0M73.7 160.8h0M81.3 156.9h0M108.1 158.8h0M71.3 162.7h0M95.7 162.7h0M63.3 158.3h0M69.1 135.7h0M69.6 161.3h0M81.1 163.1h0M100.7 69.1h0M113.6 157.8h0M83.3 163.2h0M67.6 156.8h0M80.6 160.8h0M75.8 155.6h0M79.2 160.7h0M87.8 162.8h0M106.0 156.6h0M64.9 145.6h0M80.3 159.6h0M83.9 161.4h0M102.2 159.0h0M57.8 162.7h0M79.7 143.7h0M66.5 159.0h0M78.2 156.8h0M70.8 156.2h0M65.6 162.9h0M100.6 156.7h0M109.5 161.3h0M78.2 161.5h0M51.5 149.6h0M104.3 158.0h0M82.9 162.3h0M73.6 155.1h0M61.9 161.4h0M103.5 154.6h0M83.2 151.0h0M101.3 162.9h0M80.8 157.9h0M73.3 158.6h0M112.5 163.1h0M89.0 162.7h0M108.8 159.4h0M71.3 155.8h0M79.0 153.8h0M69.8 155.3h0M125.7 151.5h0M100.1 162.7h0M84.9 162.1h0M105.3 162.9h0M72.2 156.2h0M115.0 158.7h0M70.5 156.7h0M105.3 150.9h0M72.2 146.9h0M82.6 160.6h0M80.1 161.2h0M76.1 160.9h0M68.8 161.9h0M73.8 161.6h0M87.0 162.6h0M73.5 163.0h0M66.4 163.3h0M89.0 161.6h0M72.6 150.8h0M77.6 161.5h0M107.8 150.9h0M106.2 146.5h0M82.2 163.1h0M79.1 161.9h0M68.8 159.5h0M119.8 152.1h0M76.0 154.3h0M98.3 161.0h0M104.9 160.3h0M88.0 156.6h0M70.1 163.5h0M104.8 163.6h0M72.5 160.1h0M63.6 159.5h0M58.6 157.2h0M104.7 163.2h0M107.5 151.9h0M103.5 163.1h0M77.1 160.9h0M75.1 157.3h0M114.1 156.9h0M61.7 137.7h0M91.3 162.8h0M107.5 157.9h0M80.9 163.1h0M114.4 163.1h0M66.5 139.2h0M111.8 155.3h0M99.3 162.8h0M116.5 147.6h0M81.8 145.6h0M110.7 161.7h0M64.9 149.6h0M78.1 161.7h0M69.3 146.5h0M105.3 162.7h0M96.6 159.9h0M98.8 163.2h0M105.6 151.0h0M88.5 156.5h0M109.1 150.5h0M63.7 147.6h0M102.6 162.2h0M114.9 133.6h0M72.6 163.1h0M100.7 162.9h0M82.3 147.1h0M102.1 152.1h0M106.6 148.7h0M74.3 163.0h0M108.8 157.9h0M100.0 162.3h0M82.6 152.1h0M70.8 159.5h0M103.8 149.9h0M71.5 157.7h0M88.6 161.0h0M74.2 160.5h0M111.0 145.3h0M66.7 161.2h0M74.6 131.8h0M106.9 159.1h0M77.3 162.1h0M62.9 157.9h0M71.8 163.1h0M117.3 162.6h0M75.8 157.4h0M103.8 157.4h0M96.5 161.4h0M73.7 156.6h0M75.6 144.6h0M70.0 155.5h0M106.3 156.9h0M143.5 87.6h0M60.7 161.8h0M65.3 144.0h0M77.6 161.4h0M62.2 136.6h0M98.3 163.4h0M83.9 153.8h0M81.5 157.7h0M103.6 161.1h0M67.1 155.4h0M107.4 155.4h0M70.6 153.5h0M88.5 163.1h0M64.2 154.2h0M81.3 159.5h0M77.1 161.0h0M120.5 155.5h0M90.1 163.6h0M107.5 160.7h0M99.8 157.8h0M79.1 154.9h0M84.8 159.1h0M84.8 163.6h0M89.5 163.7h0M78.4 162.3h0M78.8 144.4h0M67.2 157.3h0M70.6 162.8h0M87.2 162.0h0M79.5 157.3h0M71.1 160.7h0M65.0 122.1h0M81.1 159.2h0M75.3 163.8h0M68.4 161.9h0M78.9 162.4h0M67.2 161.9h0M104.3 155.6h0M128.8 152.6h0M103.1 159.6h0M109.9 161.6h0M75.0 157.9h0M81.6 163.4h0M120.4 148.1h0M71.1 160.8h0M56.6 163.4h0M102.3 150.3h0M82.0 157.3h0M54.8 153.4h0M75.1 163.0h0M70.3 162.1h0M77.4 157.6h0M74.2 162.1h0M107.7 155.4h0M74.1 160.8h0M76.6 163.2h0M115.6 149.0h0M74.8 149.4h0M64.6 148.9h0M71.9 163.3h0M61.6 160.8h0M107.2 146.0h0M71.4 160.5h0M118.2 157.9h0M74.4 150.5h0M75.1 150.8h0M84.9 153.8h0M79.5 162.2h0M99.3 159.0h0M96.1 163.8h0M115.5 162.6h0M109.6 155.9h0M107.9 155.3h0M87.2 162.0h0M60.7 158.4h0M60.6 160.7h0M78.9 161.0h0M116.8 162.9h0M107.7 153.5h0M102.4 163.5h0M66.9 160.6h0M72.1 155.4h0M78.9 139.1h0M76.5 162.5h0M81.5 160.4h0M70.7 158.3h0M74.8 157.0h0M68.4 163.7h0M84.1 151.7h0M100.6 163.6h0M66.2 148.4h0M66.1 163.3h0M64.6 149.5h0M84.3 161.7h0M81.6 137.7h0M81.5 142.0h0M82.6 162.2h0M99.7 161.6h0M70.7 163.3h0M96.4 162.7h0M74.3 159.2h0M66.0 162.8h0M80.0 155.8h0M76.7 157.5h0M118.8 161.9h0M70.0 162.1h0M87.7 162.0h0M79.9 156.5h0M110.0 159.7h0M101.2 159.3h0M99.9 156.3h0M65.6 163.3h0M62.7 162.3h0M85.3 156.4h0M81.0 158.9h0M104.6 160.4h0M110.6 162.1h0M82.4 159.7h0M76.8 157.8h0M88.8 156.9h0M100.2 155.7h0M56.9 150.5h0M77.9 162.3h0M66.7 147.0h0M84.2 146.2h0M76.3 162.9h0M79.6 157.7h0M54.4 131.7h0M104.6 161.3h0M78.9 143.6h0M69.1 151.8h0M104.8 163.3h0M71.0 162.7h0M65.8 161.5h0M105.8 161.4h0M68.9 161.6h0M98.7 162.6h0M107.4 160.1h0M73.2 159.0h0M121.5 150.5h0M106.9 154.5h0M98.7 161.6h0M75.6 149.7h0M105.2 163.5h0M104.4 152.4h0M99.0 155.1h0M118.6 159.4h0M89.4 159.0h0M46.6 80.9h0M76.6 156.5h0M70.2 161.6h0M108.9 150.1h0M77.6 163.4h0M79.8 156.8h0M89.2 160.9h0M108.1 157.7h0M101.7 162.0h0M73.7 158.8h0M83.2 160.3h0M98.9 161.8h0M69.2 152.8h0M84.8 159.1h0M86.4 160.1h0M104.9 147.7h0M69.9 156.2h0M56.3 150.1h0M115.9 129.9h0M109.8 148.2h0M71.1 162.8h0M88.1 156.1h0M87.3 161.7h0M97.9 161.3h0M80.3 163.4h0M105.9 163.7h0M73.6 162.0h0M76.9 162.8h0M127.8 108.1h0M103.7 150.7h0M90.1 163.3h0M79.5 156.5h0M78.0 160.9h0M103.0 158.7h0M82.5 156.4h0M105.8 157.3h0M103.2 162.8h0M74.1 153.2h0M86.4 162.6h0M81.0 160.8h0M90.5 162.4h0M68.1 163.2h0M78.8 157.0h0M103.6 163.0h0M86.9 162.8h0M84.5 161.2h0M123.5 161.1h0M71.1 161.2h0M82.0 156.7h0M106.2 163.6h0M70.7 159.9h0M105.9 156.7h0M106.1 162.1h0M101.2 163.3h0M78.3 139.8h0M63.8 156.0h0M130.4 155.5h0M122.8 157.4h0M73.4 162.6h0M68.5 155.1h0M84.3 158.8h0M75.4 143.6h0M72.5 157.6h0M66.9 150.4h0M77.4 162.4h0M120.8 154.1h0M64.6 144.1h0M82.2 149.3h0M77.6 162.6h0M78.6 152.2h0M76.9 162.4h0M111.8 163.3h0M67.1 149.6h0M98.7 158.8h0M104.9 159.9h0M67.7 162.6h0M81.2 153.9h0M95.4 163.5h0M102.5 151.7h0M65.7 161.4h0M76.0 161.6h0M72.8 153.9h0M117.4 69.5h0M105.6 153.3h0M99.1 163.2h0M87.0 160.3h0M51.4 149.8h0M89.5 161.5h0M87.6 162.5h0M106.8 152.5h0M42.2 115.3h0M83.2 161.7h0M65.3 159.1h0M73.4 153.2h0M87.7 156.7h0M82.6 158.6h0M78.3 161.0h0M103.8 162.5h0M84.0 162.1h0M75.9 160.4h0M102.9 160.2h0M80.1 157.8h0M103.1 163.3h0M102.8 159.1h0M62.3 121.2h0M113.2 156.5h0M61.6 156.9h0M106.0 160.7h0M105.3 161.4h0M72.0 150.6h0M79.7 161.0h0M84.4 162.1h0M73.4 151.8h0M74.7 157.0h0M70.9 158.5h0M69.1 148.6h0M79.6 160.4h0M66.4 99.3h0M103.6 159.5h0M66.2 163.5h0M103.0 162.2h0M76.9 159.3h0M119.5 160.2h0M64.3 151.2h0M70.8 162.4h0M67.1 163.3h0M82.0 160.0h0M66.3 163.5h0M76.2 161.4h0M98.8 162.6h0M80.7 155.2h0M80.1 162.2h0M70.5 131.2h0M107.1 155.7h0M113.8 147.9h0M112.0 159.7h0M106.7 154.8h0M72.9 161.9h0M106.1 155.0h0M70.4 160.5h0M64.5 148.5h0M83.5 163.4h0M82.2 163.7h0M63.6 153.4h0M84.4 162.6h0M76.7 128.5h0M56.6 158.0h0M110.1 161.2h0M85.6 158.8h0M78.6 153.8h0M61.0 152.7h0M78.2 149.6h0M74.9 124.9h0M121.6 161.9h0M78.6 161.5h0M120.4 162.3h0M73.3 150.1h0M118.4 163.0h0M67.2 154.9h0M71.2 156.2h0M88.1 158.4h0M90.6 162.2h0M76.4 161.3h0M107.0 157.1h0M66.2 159.3h0M101.5 162.6h0M138.3 159.8h0M79.3 161.6h0M115.8 151.6h0M65.0 156.1h0M104.7 162.0h0M110.7 154.1h0M77.3 158.4h0M80.1 162.6h0M65.8 160.1h0M82.1 163.1h0M102.4 163.7h0M65.8 148.7h0M114.4 161.0h0M109.1 146.5h0M101.9 163.1h0M82.6 155.9h0M78.0 159.4h0M79.9 153.5h0M64.9 152.3h0M81.3 158.7h0M74.8 141.0h0M112.1 135.5h0M76.9 163.5h0M110.9 155.8h0M75.5 161.8h0M114.1 147.2h0M108.6 141.2h0M87.6 161.5h0M76.6 141.5h0M84.2 157.0h0M74.6 154.7h0M99.9 160.7h0M76.5 140.4h0M71.5 160.8h0M106.7 147.0h0M104.4 162.1h0M71.7 159.2h0M73.9 159.4h0M64.8 162.4h0M76.8 153.7h0M82.1 158.7h0M102.8 159.4h0M109.8 162.9h0M76.2 158.0h0M66.3 153.6h0M71.2 162.7h0M72.3 163.5h0M99.4 163.8h0M101.1 161.3h0M65.1 147.3h0M105.5 158.7h0M72.7 157.8h0M127.5 157.6h0M73.0 153.9h0M81.4 161.1h0M85.7 153.8h0M79.3 163.0h0M79.5 161.3h0M72.9 160.5h0M77.7 161.3h0M91.9 163.7h0M82.8 158.2h0M113.5 155.9h0M73.1 139.3h0M70.6 152.0h0M65.6 162.6h0M62.4 160.2h0M105.5 153.6h0M44.7 158.3h0M106.0 156.0h0M100.1 160.3h0M76.9 155.2h0M63.0 160.1h0M106.0 152.9h0M79.7 157.4h0M59.4 160.8h0M79.9 160.1h0M81.4 163.1h0M83.9 163.6h0M102.1 162.9h0M100.5 158.6h0M45.7 121.0h0M75.2 153.1h0M88.8 163.2h0M101.3 160.6h0M68.0 149.3h0M70.3 158.9h0M87.9 157.1h0M79.0 163.2h0M73.3 154.5h0M80.2 157.6h0M99.2 163.5h0M68.9 161.1h0M108.4 160.4h0M77.3 160.1h0M126.1 156.9h0M71.8 140.3h0M73.2 161.6h0M71.0 158.4h0M40.1 144.2h0M95.7 163.3h0M115.1 149.2h0M40.8 148.2h0M67.0 159.1h0M113.0 143.5h0M69.2 157.5h0M85.9 163.8h0M69.5 161.9h0M87.9 158.3h0M104.2 158.8h0M83.7 163.4h0M80.2 155.2h0M78.6 143.0h0M74.1 163.0h0M75.0 160.9h0M135.2 122.1h0M64.5 155.1h0M72.6 151.9h0M67.1 159.7h0M69.3 163.7h0M99.4 162.7h0M85.6 163.4h0M79.0 156.3h0M84.5 158.5h0M106.5 151.3h0M99.3 156.6h0M75.3 156.6h0M90.9 160.1h0M110.6 155.9h0M65.7 159.8h0M73.4 162.7h0M65.4 138.7h0M82.6 148.3h0M82.1 163.2h0M104.7 161.7h0M131.8 159.1h0M109.1 163.7h0M48.0 148.7h0M116.0 147.8h0M96.4 162.1h0M64.3 147.3h0M81.9 159.3h0M50.2 148.7h0M103.5 158.7h0M88.9 162.0h0M105.2 162.3h0M115.3 158.7h0M73.0 160.6h0M80.8 163.5h0M78.3 158.9h0M86.2 163.1h0M103.7 159.1h0M68.1 155.6h0M101.2 163.0h0M83.7 157.8h0M96.6 162.6h0M65.6 159.5h0M64.2 145.6h0M85.4 163.6h0M103.5 161.4h0M71.3 163.6h0M101.8 145.4h0M82.7 159.6h0M77.8 161.7h0M105.1 162.7h0M77.0 163.3h0M88.6 161.1h0M60.7 147.2h0M82.9 149.3h0M84.1 160.9h0M56.6 154.9h0M57.6 151.2h0M65.6 144.4h0M85.2 160.6h0M69.3 157.6h0M73.5 163.0h0M66.4 155.8h0M78.2 148.1h0M81.2 160.3h0M105.6 163.2h0M64.9 156.0h0M81.0 151.8h0M77.2 162.3h0M102.8 151.0h0M81.7 162.5h0M78.0 161.3h0M107.2 152.9h0M116.1 162.6h0M47.0 153.3h0M55.7 160.9h0M106.5 162.0h0M70.0 163.1h0M79.5 163.8h0M101.3 158.8h0M71.8 158.4h0M65.4 160.7h0M80.5 153.7h0M72.7 160.3h0M90.0 157.1h0M105.0 159.0h0M71.7 161.6h0M71.4 146.8h0M107.0 149.6h0M110.4 153.8h0M56.0 159.7h0M61.1 158.4h0M75.7 162.4h0M108.7 158.7h0M51.5 158.5h0M82.5 141.0h0M90.8 161.2h0M109.0 156.4h0M76.6 158.1h0M87.6 156.3h0M75.8 155.0h0M67.3 162.5h0M106.8 161.2h0M71.9 163.3h0M87.7 99.1h0M106.3 159.6h0M77.6 157.7h0M66.5 142.2h0M106.4 162.7h0M106.6 145.8h0M105.5 152.7h0M76.8 149.8h0M81.2 163.8h0M81.3 156.0h0M104.8 161.7h0M75.7 155.0h0M75.8 163.2h0M111.8 154.4h0M73.3 153.1h0M67.8 116.6h0M69.3 155.2h0M106.3 160.0h0M61.2 155.5h0M75.5 161.2h0M121.2 133.8h0M82.5 152.8h0M86.4 162.8h0M68.0 159.8h0M99.0 161.5h0M84.8 163.1h0M72.2 162.8h0M70.7 162.1h0M103.6 160.8h0M90.1 163.5h0M74.7 143.1h0M99.9 157.6h0M117.8 130.8h0M69.2 153.8h0M88.9 161.2h0M85.8 159.5h0M102.4 157.8h0M113.4 159.0h0M73.9 159.4h0M71.4 159.0h0M107.5 161.7h0M96.9 162.4h0M106.3 156.7h0M117.8 163.4h0M103.9 155.5h0M109.0 150.9h0M66.5 135.7h0M69.6 162.0h0M70.9 155.9h0M85.7 160.2h0M75.5 161.0h0M66.5 158.5h0M120.2 160.2h0M72.2 158.8h0M104.0 154.5h0M52.0 161.4h0M78.6 159.8h0M85.5 155.4h0M63.7 159.3h0M71.5 135.4h0M78.8 158.3h0M84.2 154.0h0M70.2 162.7h0M77.3 162.3h0M62.0 132.5h0M116.3 161.9h0M77.8 162.4h0M87.3 159.1h0M69.5 141.7h0M102.3 162.4h0M76.0 155.7h0M75.0 161.7h0M63.5 131.3h0M99.3 162.0h0M83.8 162.2h0M70.6 156.6h0M90.9 159.6h0M90.8 162.4h0M70.6 159.8h0M102.9 159.0h0M64.9 157.1h0M99.7 158.0h0M84.1 162.0h0M101.7 162.2h0M72.8 155.7h0M99.6 163.7h0M68.4 161.5h0M85.1 162.7h0M106.6 162.5h0M69.2 160.2h0M80.5 161.9h0M60.2 142.8h0M104.0 158.1h0M101.8 161.9h0M80.4 159.4h0M77.5 163.4h0M65.7 149.6h0M112.9 160.2h0M78.3 156.1h0M61.6 151.5h0M100.1 162.8h0M84.6 163.4h0M68.8 133.9h0M72.4 81.9h0M86.9 163.3h0M106.7 144.4h0M80.7 161.4h0M76.4 160.9h0M124.5 151.4h0M99.1 163.4h0M108.6 151.9h0M105.2 152.2h0M103.7 158.4h0M81.3 163.7h0M99.7 162.1h0M70.9 163.8h0M75.7 163.1h0M77.5 160.1h0M108.8 133.3h0M100.3 162.0h0M74.6 163.5h0M83.6 159.5h0M85.9 162.4h0M103.6 157.6h0M76.7 159.5h0M108.3 161.5h0M78.3 158.5h0M71.7 160.9h0M104.6 152.6h0M85.1 160.6h0M80.8 156.1h0M73.9 141.3h0M60.6 162.2h0M106.2 160.9h0M69.3 162.5h0M83.0 161.9h0M76.7 160.9h0M107.9 151.4h0M104.8 163.6h0M98.6 160.9h0M100.9 155.8h0M70.5 162.7h0M72.3 159.8h0M64.8 162.8h0M97.8 161.7h0M101.3 162.6h0M73.5 154.5h0M105.5 160.7h0M100.2 157.7h0M78.2 135.9h0M66.4 155.7h0M66.7 155.3h0M117.8 159.1h0M72.9 163.1h0M81.4 162.9h0M67.7 162.9h0M91.3 162.4h0M97.1 160.2h0M73.9 156.2h0M66.3 148.4h0M83.0 157.3h0M67.2 154.9h0M78.6 162.0h0M72.3 158.1h0M71.3 162.7h0M82.8 154.4h0M57.3 152.2h0M110.0 157.8h0M66.5 154.2h0M117.8 156.8h0M72.1 161.4h0M122.7 156.5h0M79.5 161.6h0M110.4 159.9h0M87.8 163.5h0M81.6 161.9h0M78.8 161.4h0M72.3 163.7h0M87.7 158.1h0M78.0 161.6h0M71.7 163.3h0M70.7 163.3h0M76.8 149.6h0M78.6 138.5h0M101.3 160.2h0M82.0 163.6h0M84.7 162.5h0M72.1 159.9h0M99.9 163.3h0M65.0 156.4h0M105.6 149.8h0M85.1 162.0h0M109.5 161.5h0M106.6 163.2h0M81.2 163.3h0M76.0 152.9h0M76.1 162.3h0M107.6 151.4h0M103.2 163.4h0M95.1 163.0h0M107.2 152.5h0M73.1 162.4h0M86.5 150.3h0M72.8 152.1h0M100.9 163.1h0M67.5 159.7h0M70.2 159.0h0M98.6 160.0h0M114.8 147.3h0M123.6 162.9h0M128.4 151.6h0M107.6 158.2h0M107.4 158.8h0M69.8 163.1h0M69.1 159.0h0M113.9 156.0h0M104.2 157.9h0M75.1 161.2h0M65.8 162.1h0M71.3 148.0h0M76.8 162.2h0M81.4 161.5h0M113.1 147.7h0M68.7 161.1h0M78.8 163.7h0M88.2 158.0h0M106.0 155.8h0M73.0 157.3h0M62.5 163.0h0M57.7 161.7h0M57.5 142.4h0M72.1 159.8h0M71.1 90.3h0M75.5 161.7h0M77.8 161.5h0M101.8 159.4h0M129.0 152.0h0M68.5 160.7h0M76.8 161.6h0M55.4 142.2h0M97.5 162.7h0M102.7 159.8h0M110.7 157.9h0M83.0 162.9h0M79.3 158.3h0M69.5 155.7h0M79.6 155.4h0M142.2 151.4h0M66.4 158.8h0M41.0 128.7h0M74.6 156.4h0M117.2 155.5h0M78.6 156.8h0M67.9 163.0h0M102.6 157.7h0M103.9 163.5h0M102.2 163.4h0M80.7 163.1h0M68.2 149.0h0M116.3 162.6h0M86.0 157.2h0M100.6 161.8h0M127.7 162.5h0M70.9 160.8h0M70.9 155.5h0M87.1 162.8h0M79.4 160.9h0M68.1 158.8h0M100.5 157.1h0M84.3 160.7h0M81.9 163.6h0M81.0 162.8h0M73.5 159.0h0M67.1 155.7h0M75.8 146.5h0M69.1 154.9h0M74.9 162.1h0M81.1 158.5h0M64.4 154.1h0M75.2 162.9h0M78.1 163.7h0M101.8 160.0h0M107.7 142.8h0M113.4 160.3h0M62.4 154.7h0M87.4 163.0h0M73.0 162.4h0M62.8 134.5h0M105.7 157.9h0M70.2 163.5h0M85.3 163.4h0M76.8 133.6h0M57.2 163.8h0M81.4 155.6h0M67.5 157.2h0M102.3 163.2h0M72.6 161.0h0M84.8 156.0h0M65.0 163.8h0M71.5 162.6h0M66.2 136.1h0M101.0 159.2h0M89.4 159.8h0M72.7 152.3h0M70.6 157.3h0M106.6 162.8h0M108.6 153.8h0M68.2 158.1h0M62.7 151.2h0M103.9 158.6h0M117.2 138.2h0M99.3 155.7h0M102.2 156.9h0M83.1 159.0h0M100.2 160.4h0M77.0 143.8h0M124.8 158.6h0M114.3 134.3h0M42.9 80.6h0M105.4 162.2h0M98.6 155.3h0M104.2 159.4h0M73.4 152.2h0M72.2 158.8h0M57.8 149.7h0M73.7 159.3h0M84.4 162.3h0M116.7 157.1h0M79.0 158.0h0M76.6 141.5h0M114.0 147.4h0M66.6 160.8h0M99.1 159.1h0M101.0 151.5h0M70.9 160.5h0M72.9 154.8h0M66.3 159.1h0M89.4 159.7h0M78.1 154.0h0M84.9 163.0h0M88.7 159.6h0M86.8 162.1h0M85.2 157.8h0M82.2 160.7h0M76.2 158.4h0M112.6 141.4h0M68.2 160.0h0M142.0 151.0h0M65.0 153.6h0M73.7 161.1h0M74.0 139.6h0M99.6 157.5h0M71.1 156.9h0M63.2 92.9h0M112.9 153.8h0M65.6 117.7h0M116.6 149.9h0M62.5 162.9h0M67.0 149.0h0M84.5 162.4h0M76.9 153.2h0M75.1 158.4h0M72.4 159.0h0M108.0 155.3h0M74.1 145.7h0M97.9 161.4h0M114.8 162.3h0M79.8 161.8h0M63.7 161.0h0M63.8 161.3h0M68.8 160.0h0M83.4 158.9h0M91.3 160.2h0M86.5 162.6h0M108.3 160.2h0M67.4 155.1h0M77.1 162.5h0M119.8 160.9h0M78.9 155.5h0M121.1 149.7h0M81.0 155.1h0M73.4 161.0h0M108.5 156.6h0M110.9 160.5h0M83.4 161.2h0M71.3 163.6h0M107.5 163.7h0M78.9 163.6h0M110.2 155.2h0M80.7 156.4h0M113.2 135.3h0M105.8 158.1h0M73.0 159.2h0M84.0 158.9h0M56.8 159.8h0M100.6 147.7h0M76.4 158.9h0M105.8 156.0h0M104.7 156.0h0M76.3 158.6h0M105.5 161.7h0M98.0 161.6h0M103.9 157.5h0M111.2 158.8h0M73.4 159.7h0M103.5 155.2h0M104.4 159.6h0M71.0 161.8h0M111.7 153.9h0M122.4 161.3h0M109.8 153.3h0M98.8 163.8h0M68.2 156.9h0M101.1 156.5h0M88.0 163.8h0M107.6 161.3h0M60.5 159.2h0M113.4 158.1h0M103.4 163.6h0M102.7 160.4h0M78.4 137.8h0M78.8 153.9h0M108.8 161.0h0M79.8 156.4h0M85.4 159.7h0M98.3 158.1h0M108.0 160.9h0M68.6 159.4h0M76.7 160.8h0M81.7 152.7h0M80.9 160.1h0M86.4 163.7h0M70.5 162.9h0M60.2 155.2h0M88.5 163.4h0M116.5 157.8h0M85.5 158.2h0M103.2 161.7h0M97.6 159.2h0M73.5 161.3h0M84.4 163.1h0M72.0 149.5h0M100.0 161.5h0M104.4 162.1h0M75.2 163.4h0M84.9 162.2h0M100.5 159.6h0M88.4 161.3h0M69.9 153.5h0M100.0 159.0h0M62.3 148.4h0M102.1 158.4h0M112.6 162.2h0M75.6 163.3h0M99.3 162.8h0M84.8 153.5h0M78.0 161.2h0M86.1 162.8h0M106.2 140.7h0M67.7 156.2h0M109.6 158.2h0M47.6 107.6h0M78.8 160.7h0M105.3 162.9h0M73.3 148.0h0M66.0 163.0h0M102.8 147.5h0M74.6 153.0h0M107.7 155.8h0M75.6 152.1h0M107.6 157.8h0M107.9 163.3h0M119.3 163.6h0M98.8 161.3h0M108.8 138.4h0M78.8 162.9h0M99.4 159.2h0M84.1 151.4h0M90.2 161.2h0M81.6 163.5h0M111.8 144.6h0M83.0 152.3h0M78.0 158.5h0M106.6 158.8h0M101.5 163.5h0M79.3 161.2h0M61.2 135.3h0M71.6 156.4h0M78.3 157.4h0M101.9 155.5h0M68.3 160.5h0M70.4 157.4h0M108.4 153.5h0M74.2 141.0h0M73.4 159.6h0M75.7 159.2h0M71.9 144.6h0M54.7 154.8h0M46.8 156.0h0M110.2 140.1h0M117.7 145.6h0M71.5 162.9h0M101.9 163.6h0M64.6 153.2h0M104.0 156.5h0M107.6 158.3h0M78.5 163.0h0M100.7 159.4h0M83.1 146.1h0M104.0 162.8h0M112.9 161.9h0M62.1 123.6h0M104.0 163.3h0M76.9 161.3h0M67.0 146.6h0M81.9 156.2h0M69.6 163.5h0M85.3 159.7h0M87.6 162.2h0M70.2 163.4h0M104.9 159.2h0M87.8 163.4h0M78.0 163.6h0M81.3 163.6h0M79.5 160.6h0M111.1 160.2h0M62.7 155.5h0M109.4 163.8h0M70.1 147.4h0M107.5 149.8h0M103.3 158.6h0M116.5 155.9h0M109.3 157.0h0M102.9 150.4h0M72.1 157.0h0M67.8 120.0h0M100.6 162.2h0M108.6 155.7h0M106.4 161.7h0M86.5 160.1h0M87.7 163.2h0M87.4 160.6h0M71.8 162.8h0M110.8 158.7h0M86.0 162.5h0M103.9 158.0h0M67.2 159.4h0M79.4 160.9h0M110.4 159.2h0M60.3 135.1h0M110.5 158.1h0M54.3 157.3h0M100.9 163.0h0M82.0 162.6h0M95.9 161.9h0M83.7 162.8h0M81.0 142.1h0M101.1 153.3h0M68.8 163.5h0M80.7 163.2h0M103.3 161.2h0M105.1 162.8h0M110.9 141.5h0M103.6 162.3h0M71.1 138.2h0M130.7 159.8h0M107.4 162.5h0M108.3 157.9h0M75.5 163.3h0M102.3 160.0h0M76.7 157.6h0M73.4 162.7h0M74.2 160.3h0M126.7 149.6h0M103.9 155.8h0M67.5 153.6h0M80.7 160.0h0M70.0 162.5h0M110.7 160.9h0M78.9 150.0h0M49.0 141.7h0M102.5 153.8h0M67.7 152.3h0M82.8 163.6h0M106.7 154.8h0M81.3 153.4h0M106.3 160.9h0M109.8 148.5h0M82.0 157.9h0M102.7 154.9h0M49.0 91.8h0M88.5 163.7h0M64.5 158.6h0M80.2 158.0h0M78.3 160.1h0M78.3 161.8h0M103.9 145.9h0M112.5 163.5h0M73.7 161.1h0M106.5 155.2h0M116.0 163.7h0M76.5 135.3h0M68.8 151.1h0M106.0 156.8h0M107.9 142.0h0M110.4 162.5h0M70.4 161.0h0M106.6 154.0h0M101.5 159.7h0M68.9 159.6h0M105.2 158.8h0M64.0 156.0h0M85.2 163.8h0M82.6 162.4h0M70.5 147.3h0M44.8 137.8h0M103.5 143.6h0M84.6 163.6h0M71.9 162.6h0M76.2 152.5h0M62.7 146.4h0M76.1 162.8h0M102.8 159.2h0M122.0 145.0h0M113.2 157.1h0M74.5 163.5h0M72.8 158.1h0M71.4 162.2h0M67.9 150.2h0M61.7 162.8h0M85.4 156.3h0M76.4 162.9h0M108.8 142.5h0M105.7 155.4h0M72.6 158.1h0M105.2 161.5h0M110.9 157.8h0M119.7 148.9h0M40.9 64.0h0M104.8 157.2h0M78.8 161.2h0M79.7 163.4h0M75.5 154.2h0M71.4 138.8h0M65.4 155.2h0M80.3 159.6h0M71.9 162.4h0M104.4 163.6h0M88.4 163.2h0M60.2 161.5h0M106.2 158.1h0M98.6 159.6h0M90.0 160.1h0M117.4 159.7h0M75.3 161.0h0M77.7 161.6h0M70.6 163.7h0M69.5 160.9h0M57.7 119.6h0M69.9 146.0h0M109.7 161.6h0M69.1 157.3h0M64.2 158.3h0M101.2 158.6h0M50.7 163.2h0M86.7 163.6h0M66.3 163.4h0M78.9 145.0h0M72.5 162.4h0M108.6 155.7h0M85.8 158.0h0M62.7 161.8h0M109.9 154.6h0M124.1 152.9h0M103.2 163.5h0M111.2 147.3h0M84.2 162.3h0M65.4 150.9h0M78.6 156.6h0M68.5 159.0h0M85.5 163.5h0M81.8 149.7h0M83.8 163.6h0M100.8 163.5h0M85.7 163.2h0M108.7 132.2h0M114.5 146.7h0M66.7 163.1h0M118.4 159.4h0M86.2 161.2h0M97.9 162.4h0M80.3 153.7h0M88.8 160.8h0M77.8 151.3h0M87.3 154.8h0M70.5 158.7h0M85.6 162.7h0M113.1 121.9h0M104.1 149.1h0M67.9 134.2h0M75.4 142.6h0M107.9 152.6h0M99.0 162.6h0M67.1 163.0h0M65.9 158.3h0M72.2 123.3h0M74.6 150.7h0M126.0 158.9h0M124.2 155.6h0M111.6 152.0h0M109.5 156.1h0M69.2 162.5h0M55.1 162.8h0M86.3 163.2h0M74.4 157.7h0M108.0 162.7h0M107.3 160.7h0M81.4 158.2h0M126.9 126.0h0M74.2 163.6h0M77.0 155.0h0M104.1 162.7h0M81.6 159.2h0M82.1 149.9h0M105.7 163.5h0M61.2 155.6h0M116.2 157.0h0M107.1 145.2h0M106.5 155.7h0M52.0 161.9h0M73.9 160.4h0M99.6 163.1h0M106.4 155.2h0M113.7 158.6h0M77.6 162.8h0M107.3 163.2h0M109.0 158.5h0M56.5 161.4h0M114.4 146.2h0M95.7 162.4h0M105.7 149.9h0M67.4 143.5h0M55.0 137.5h0M113.6 143.2h0M74.6 160.8h0M70.0 162.0h0M69.3 161.7h0M66.7 156.1h0M80.4 162.2h0M103.4 154.7h0M110.6 142.4h0M74.3 163.4h0M80.0 161.8h0M70.6 150.9h0M100.9 149.6h0M69.3 160.3h0M88.0 160.9h0M139.5 73.3h0M102.5 162.8h0M54.3 159.9h0M68.9 150.7h0M86.6 162.3h0M60.8 152.6h0M107.4 159.7h0M122.8 163.6h0M109.5 150.9h0M70.8 160.9h0M69.4 163.5h0M114.8 150.0h0M68.2 156.5h0M97.2 162.3h0M76.8 162.9h0M67.1 154.6h0M73.4 154.5h0M103.5 152.8h0M99.2 162.5h0M88.9 158.6h0M72.5 161.5h0M130.1 125.8h0M75.1 157.6h0M71.2 112.5h0M106.4 161.4h0M65.2 152.3h0M75.6 163.7h0M98.5 163.2h0M80.8 160.1h0M100.3 153.7h0M83.8 161.3h0M66.8 120.3h0M69.0 162.5h0M73.4 143.8h0M69.9 163.2h0M102.7 162.3h0M61.2 154.6h0M104.4 151.7h0M100.7 163.1h0M100.9 161.1h0M99.9 162.4h0M85.1 158.9h0M124.6 154.7h0M65.1 161.2h0M51.3 144.7h0M103.3 162.2h0M67.9 152.5h0M71.4 133.7h0M79.9 163.5h0M81.4 159.9h0M116.3 148.4h0M84.1 160.0h0M72.3 163.7h0M65.8 154.0h0M73.8 160.8h0M108.1 142.7h0M108.5 155.3h0M83.4 160.6h0M80.9 163.1h0M70.9 161.9h0M112.9 153.1h0M106.2 147.7h0M70.6 160.3h0M73.1 157.9h0M100.6 161.8h0M98.0 156.9h0M82.8 147.3h0M88.0 162.9h0M122.4 161.1h0M87.4 157.0h0M113.0 162.3h0M117.1 153.3h0M101.4 163.7h0M105.6 155.0h0M101.9 151.2h0M73.5 163.1h0M85.7 157.7h0M108.4 160.3h0M81.2 158.3h0M108.2 154.7h0M81.0 159.8h0M116.0 153.9h0M103.2 159.2h0M75.7 163.4h0M75.5 160.4h0M108.6 98.4h0M46.4 146.3h0M74.5 160.2h0M74.1 161.3h0M69.8 163.7h0M98.2 159.9h0M76.4 151.0h0M91.4 163.1h0M108.9 162.9h0M67.0 157.5h0M78.8 150.1h0M75.9 158.4h0M66.2 162.2h0M72.7 162.4h0M77.5 162.3h0M105.0 162.7h0M78.9 163.7h0M70.2 154.8h0M80.4 160.8h0M107.0 160.5h0M68.1 163.6h0M74.4 155.7h0M66.7 158.5h0M58.8 149.4h0M101.3 160.3h0M65.6 162.7h0M110.4 152.6h0M104.3 153.8h0M77.7 158.2h0M74.8 161.1h0M68.6 154.2h0M105.9 160.6h0M110.7 143.6h0M69.0 153.1h0M71.7 155.3h0M84.1 162.6h0M67.0 155.8h0M74.0 162.0h0M98.9 162.6h0M112.8 155.7h0M71.6 156.2h0M104.1 160.9h0M79.7 162.8h0M64.2 144.4h0M68.2 163.8h0M61.1 157.8h0M59.2 156.7h0M83.4 160.3h0M113.5 153.7h0M81.7 162.9h0M84.0 160.4h0M73.8 160.0h0M105.3 162.6h0M55.2 154.7h0M101.7 160.1h0M70.6 152.9h0M63.8 161.5h0M110.8 159.9h0M51.5 151.4h0M84.6 159.5h0M74.0 162.2h0M76.4 156.3h0M88.0 163.6h0M101.9 161.9h0M113.3 151.1h0M84.1 160.8h0M69.2 153.4h0M67.3 136.2h0M112.8 160.6h0M72.7 162.7h0M111.9 126.7h0M75.3 161.4h0M76.9 160.1h0M118.6 139.2h0M62.6 146.7h0M73.3 151.4h0M105.3 148.4h0M99.9 161.1h0M68.4 161.8h0M75.7 161.4h0M98.1 159.2h0M72.9 145.5h0M106.6 146.2h0M82.3 160.6h0M104.0 162.8h0M67.2 152.7h0M78.2 161.2h0M74.6 149.8h0M95.3 162.5h0M65.4 129.4h0M106.1 158.8h0M70.9 155.3h0M98.0 156.3h0M98.8 155.4h0M75.4 160.2h0M69.6 162.1h0M73.5 147.6h0M65.4 163.5h0M72.6 158.6h0M72.6 161.5h0M105.2 160.8h0M76.2 163.0h0M117.1 145.2h0M70.9 163.2h0M66.8 122.3h0M105.7 158.8h0M87.4 157.9h0M90.2 161.9h0M59.6 147.8h0M75.9 160.9h0M77.9 157.1h0M98.8 163.1h0M85.6 156.8h0M70.8 126.8h0M52.3 144.2h0M81.2 160.9h0M74.2 155.4h0M99.0 160.6h0M84.5 161.6h0M99.0 162.7h0M101.1 154.2h0M70.6 150.1h0M105.5 158.4h0M71.2 162.4h0M84.6 162.2h0M104.5 162.4h0M85.8 153.4h0M62.8 148.9h0M77.8 155.0h0M63.4 156.1h0M64.1 162.1h0M83.7 155.1h0M114.5 159.3h0M102.8 158.4h0M68.8 154.2h0M62.6 115.2h0M73.6 151.7h0M71.7 163.7h0M100.5 163.7h0M84.4 149.1h0M109.3 157.2h0M83.3 162.4h0M113.7 161.8h0M77.6 159.3h0M68.7 161.7h0M110.4 160.4h0M105.0 163.3h0M84.8 159.6h0M113.8 153.1h0M100.2 162.9h0M72.8 151.4h0M85.3 145.9h0M83.1 159.1h0M126.2 83.8h0M96.2 161.5h0M91.0 163.1h0M105.3 154.2h0M72.7 161.1h0M82.1 160.2h0M70.1 152.1h0M111.2 151.0h0M90.5 161.3h0M82.9 152.7h0M67.6 163.1h0M80.7 163.5h0M118.6 163.4h0M63.7 157.7h0M90.3 161.5h0M67.5 148.6h0M80.0 151.3h0M68.2 156.1h0M76.1 154.7h0M81.2 160.3h0M85.8 158.6h0M63.2 161.5h0M106.0 154.8h0M73.8 152.6h0M82.9 158.7h0M72.0 156.6h0M101.4 162.2h0M77.0 155.2h0M99.7 162.3h0M62.5 136.1h0M80.7 156.8h0M103.6 163.7h0M110.7 157.7h0M103.9 160.9h0M58.2 159.1h0M110.0 156.7h0M77.4 161.5h0M82.4 160.0h0M88.2 152.7h0M120.9 112.1h0M68.0 160.5h0M83.7 156.1h0M73.9 163.6h0M79.0 162.0h0M112.1 157.8h0M66.2 157.5h0M102.3 159.8h0M81.0 158.1h0M103.5 162.9h0M116.6 161.8h0M109.5 152.3h0M84.1 152.8h0M69.1 157.7h0M80.4 162.2h0M102.4 162.1h0M102.9 163.1h0M66.9 154.8h0M112.6 151.6h0M65.4 157.9h0M76.5 152.7h0M102.6 162.4h0M116.3 117.8h0M100.1 163.0h0M73.4 161.7h0M103.7 163.2h0M78.4 136.9h0M115.6 163.1h0M84.7 156.0h0M77.0 156.6h0M73.8 153.2h0M86.2 162.8h0M102.0 157.4h0M76.9 156.8h0M66.8 160.0h0M103.9 156.6h0M62.0 160.5h0M73.3 153.0h0M71.7 156.1h0M108.5 161.5h0M71.0 162.8h0M71.2 162.3h0M60.0 126.2h0M79.2 160.1h0M101.3 159.5h0M69.8 144.8h0M66.5 145.3h0M76.9 155.1h0M66.8 141.0h0M111.7 157.5h0M69.7 161.9h0M109.0 163.4h0M71.0 151.5h0M119.6 163.5h0M79.3 152.4h0M84.1 163.7h0M68.2 159.6h0M75.0 157.4h0M81.7 163.5h0M86.2 163.7h0M86.8 160.0h0M70.6 154.5h0M82.6 159.0h0M99.2 157.8h0M69.0 160.9h0M102.8 150.5h0M88.7 162.3h0M88.5 163.7h0M66.8 154.0h0M114.2 156.0h0M82.6 158.5h0M82.5 162.5h0M104.2 147.1h0M116.2 160.8h0M69.9 163.6h0M87.0 160.6h0M80.5 153.8h0M79.5 162.6h0M69.3 134.4h0M68.0 158.9h0M70.9 155.9h0M87.0 157.2h0M78.4 156.5h0M60.9 144.5h0M111.2 162.4h0M105.3 162.0h0M79.7 154.7h0M78.6 158.7h0M67.9 156.4h0M82.9 154.5h0M75.5 160.1h0M75.8 158.4h0M75.7 158.5h0M71.5 162.3h0M65.1 136.2h0M111.2 145.6h0M108.2 153.0h0M69.7 159.0h0M116.0 162.0h0M72.4 156.4h0M108.8 149.8h0M131.2 160.3h0M85.6 163.6h0M84.8 155.9h0M85.3 163.8h0M105.7 157.4h0M106.1 152.8h0M82.4 155.4h0M68.4 148.5h0M105.8 162.0h0M71.4 161.1h0M75.3 160.0h0M68.9 161.2h0M77.5 157.9h0M110.2 162.4h0M75.7 156.6h0M73.0 159.6h0M99.9 162.0h0M80.6 157.1h0M104.8 160.5h0M103.7 162.1h0M104.1 158.7h0M110.9 157.5h0M125.7 97.6h0M87.4 162.1h0M83.2 157.3h0M87.8 159.9h0M73.4 159.6h0M72.3 163.5h0M72.4 162.4h0M76.7 161.3h0M40.4 124.7h0M79.6 153.8h0M103.6 161.6h0M88.2 159.7h0M67.5 160.2h0M85.1 158.0h0M80.7 156.2h0M106.1 153.0h0M77.3 157.7h0M66.5 156.8h0M88.5 157.9h0M80.1 159.3h0M71.9 159.5h0M101.6 155.7h0M55.8 150.9h0M69.5 162.3h0M67.8 156.4h0M62.2 163.6h0M69.3 160.8h0M110.4 143.7h0M78.5 160.8h0M116.9 152.4h0M66.8 155.0h0M98.7 157.5h0M65.4 161.5h0M78.0 160.5h0M103.3 151.3h0M102.8 158.3h0M88.7 162.9h0M57.4 136.8h0M77.1 157.1h0M75.0 158.6h0M102.7 160.0h0M65.8 161.4h0M79.6 149.3h0M76.1 153.8h0M53.1 142.2h0M60.9 154.6h0M106.7 155.3h0M107.3 155.5h0M106.0 162.6h0M115.1 141.5h0M73.5 162.3h0M102.7 153.6h0M78.4 160.5h0M77.3 159.1h0M87.2 163.0h0M99.4 163.8h0M100.9 158.1h0M72.8 156.8h0M64.1 150.9h0M87.8 160.8h0M76.6 162.4h0M100.7 158.3h0M71.9 161.8h0M106.9 158.7h0M79.8 158.9h0M70.6 157.1h0M107.1 158.2h0M96.7 161.2h0M84.8 150.9h0M60.0 150.7h0M122.7 158.6h0M121.6 150.8h0M66.7 160.4h0M103.3 163.1h0M106.9 158.5h0M74.4 163.8h0M55.3 161.2h0M111.6 150.8h0M100.6 161.3h0M76.2 154.6h0M80.7 153.6h0M68.4 147.1h0M70.4 162.9h0M74.7 159.2h0M69.5 134.9h0M131.8 98.4h0M127.3 161.1h0M116.2 161.7h0M57.0 92.7h0M77.0 152.4h0M107.1 152.3h0M86.8 163.7h0M122.4 147.5h0M77.2 152.7h0M83.4 157.3h0M117.0 163.0h0M81.0 158.4h0M108.6 160.9h0M107.3 147.5h0M69.8 163.2h0M85.7 162.9h0M100.3 162.5h0M102.5 159.9h0M107.7 152.4h0M102.7 163.2h0M77.5 144.5h0M101.2 158.9h0M78.2 158.6h0M73.5 159.5h0M81.5 151.5h0M111.7 157.7h0M87.5 163.0h0M106.6 140.6h0M109.6 162.1h0M62.9 147.4h0M125.8 159.1h0M100.4 161.1h0M105.7 159.2h0M79.0 139.6h0M112.1 156.0h0M83.8 153.1h0M106.9 161.7h0M104.5 163.4h0M73.1 161.1h0M102.1 162.7h0M83.8 156.6h0M69.6 158.4h0M70.9 162.3h0M100.0 163.4h0M70.2 156.5h0M69.4 161.0h0M101.0 162.8h0M58.2 156.0h0M82.8 158.7h0M77.3 155.4h0M117.1 161.7h0M65.2 160.9h0M98.7 163.2h0M60.5 112.3h0M84.3 163.7h0M74.4 163.2h0M134.7 158.5h0M76.7 162.9h0M73.7 162.2h0M90.6 161.8h0M67.3 158.3h0M65.0 147.8h0M73.0 156.7h0M76.0 153.5h0M88.2 154.1h0M104.6 163.4h0M67.1 158.1h0M114.3 141.9h0M83.0 161.5h0M99.9 161.0h0M113.0 143.7h0M51.0 158.1h0M65.1 158.5h0M110.2 141.4h0M67.0 160.7h0M69.6 153.9h0M68.5 163.6h0M111.4 162.6h0M73.5 162.9h0M75.4 158.3h0M67.0 160.5h0M74.7 163.1h0M100.4 163.1h0M106.3 163.7h0M73.9 151.1h0M81.6 157.4h0M98.5 161.5h0M76.0 151.5h0M98.5 162.8h0M96.1 162.4h0M71.3 159.4h0M112.1 153.1h0M72.6 146.7h0M78.4 140.8h0M75.5 163.1h0M69.7 136.0h0M78.2 161.0h0M67.6 157.7h0M71.7 157.8h0M101.2 162.7h0M109.2 157.3h0M80.1 159.6h0M74.5 157.8h0M77.7 162.3h0M100.7 159.8h0M103.2 159.4h0M112.8 149.4h0M58.5 127.6h0M119.1 161.3h0M69.2 66.0h0M75.8 160.1h0M109.0 163.1h0M101.7 163.1h0M101.0 163.6h0M72.9 163.7h0M103.6 154.2h0M71.9 162.0h0M76.2 162.2h0M105.2 156.9h0M81.4 153.3h0M60.2 152.9h0M131.1 139.6h0M74.9 158.0h0M66.1 152.4h0M101.5 161.1h0M76.5 163.2h0M80.1 163.0h0M78.0 163.0h0M99.6 163.1h0M84.9 71.2h0M83.6 163.3h0M67.4 149.2h0M72.9 126.0h0M59.2 157.8h0M78.2 163.7h0M106.7 159.7h0M59.1 160.6h0M113.1 154.8h0M83.6 152.4h0M76.3 156.3h0M73.8 161.4h0M78.7 158.7h0M102.3 157.9h0M101.9 160.7h0M104.5 159.2h0M62.6 160.8h0M65.9 152.0h0M102.5 160.5h0M109.6 151.3h0M72.9 163.6h0M106.3 81.1h0M81.8 159.9h0M99.0 158.3h0M106.4 163.1h0M106.3 155.9h0M126.2 157.2h0M110.3 163.5h0M99.7 163.2h0M114.6 160.1h0M107.0 142.6h0M60.8 159.6h0M68.7 157.2h0M74.1 146.8h0M105.0 163.4h0M104.5 162.4h0M106.2 163.8h0M115.3 151.5h0M83.1 162.4h0M101.9 163.2h0M62.7 162.9h0M75.3 152.7h0M79.8 155.5h0M111.2 163.6h0M89.3 162.0h0M70.3 142.0h0M105.0 162.7h0M105.7 157.0h0M105.5 157.4h0M108.9 152.6h0M106.6 162.5h0M69.4 161.0h0M80.9 158.8h0M74.8 160.9h0M114.3 156.2h0M105.0 143.7h0M69.0 156.6h0M81.9 151.7h0M106.0 143.8h0M68.9 151.5h0M105.3 152.9h0M102.6 160.1h0M87.3 158.0h0M81.5 162.7h0M81.5 163.4h0M88.6 161.0h0M57.8 163.8h0M100.8 157.8h0M68.5 160.9h0M66.2 160.0h0M102.2 160.1h0M102.1 158.7h0M82.5 160.1h0M57.7 162.4h0M61.0 159.1h0M105.1 154.0h0M100.5 149.4h0M108.1 141.0h0M108.4 155.0h0M69.0 159.2h0M70.6 153.5h0M76.8 161.0h0M117.6 162.4h0M80.1 157.8h0M81.7 163.0h0M86.2 158.1h0M90.2 163.7h0M124.9 153.8h0M80.3 159.7h0M78.6 153.4h0M73.6 159.2h0M66.5 153.2h0M49.7 152.0h0M80.6 155.7h0M72.2 149.2h0M80.7 148.1h0M85.6 162.9h0M110.5 153.9h0M86.9 155.2h0M66.8 157.8h0M71.7 156.9h0M76.0 157.4h0M84.5 163.5h0M71.9 158.7h0M104.9 163.4h0M71.8 163.5h0M87.1 157.7h0M64.0 160.2h0M104.7 163.3h0M64.5 159.4h0M76.8 160.9h0M88.8 163.7h0M91.7 161.4h0M109.6 160.9h0M102.5 162.5h0M115.2 148.5h0M66.7 160.8h0M80.1 152.4h0M59.2 162.0h0M73.1 158.3h0M105.2 159.0h0M103.6 162.6h0M118.5 152.1h0M103.0 162.6h0M106.7 161.5h0M119.1 133.7h0M110.5 163.5h0M146.4 143.2h0M116.7 160.1h0M80.5 161.1h0M89.1 161.9h0M72.1 160.2h0M88.6 161.4h0M97.0 162.6h0M81.9 160.1h0M77.2 159.8h0M105.4 160.0h0M79.5 159.2h0M116.8 163.5h0M73.9 161.7h0M81.9 163.3h0M75.5 163.8h0M65.6 160.3h0M107.5 163.3h0M100.9 162.6h0M91.8 161.4h0M80.8 160.8h0M85.3 161.9h0M69.9 135.9h0M89.1 162.3h0M94.5 163.4h0M84.3 163.1h0M78.7 156.8h0M76.0 148.0h0M100.9 162.4h0M72.2 148.1h0M68.7 163.0h0M113.4 143.5h0M73.4 161.4h0M65.6 158.7h0M109.2 153.0h0M88.1 160.9h0M62.5 160.4h0M114.7 158.4h0M78.3 143.4h0M66.6 151.4h0M78.3 163.6h0M77.1 153.8h0M76.5 156.3h0M115.2 163.0h0M81.9 161.2h0M86.8 160.0h0M66.6 157.1h0M69.2 131.6h0M112.3 157.6h0M77.2 161.3h0M117.6 126.8h0M42.3 137.8h0M88.3 162.1h0M74.1 163.6h0M106.2 138.9h0M73.1 163.0h0M82.8 155.1h0M124.2 155.0h0M79.2 138.3h0M71.8 160.4h0M69.1 158.2h0M70.3 160.5h0M90.2 162.7h0M118.1 145.2h0" stroke="#a3a69c" stroke-width="1.3" stroke-linecap="square" fill="none"/>
<line x1="87.5" y1="60.1" x2="87.5" y2="166.7" stroke="#151515" stroke-width="1.25" stroke-dasharray="4.1 4.1"/>
<line x1="99.5" y1="60.1" x2="99.5" y2="166.7" stroke="#151515" stroke-width="1.25" stroke-dasharray="4.1 4.1"/>
<line x1="39.3" y1="162.4" x2="148.6" y2="162.4" stroke="#151515" stroke-width="1.25" stroke-dasharray="4.1 4.1"/>
<line x1="104" y1="128.2" x2="121.9" y2="108.2" stroke="#2a2a2a" stroke-width="0.75"/>
<line x1="101.3" y1="150.8" x2="127.2" y2="128.2" stroke="#2a2a2a" stroke-width="0.75"/>
<line x1="98.6" y1="158.8" x2="129.2" y2="141.2" stroke="#2a2a2a" stroke-width="0.75"/>
<line x1="103" y1="160.9" x2="131.9" y2="151.9" stroke="#2a2a2a" stroke-width="0.75"/>
<line x1="96.6" y1="162.5" x2="75.5" y2="155.2" stroke="#2a2a2a" stroke-width="0.75"/>
<circle cx="104" cy="128.2" r="1.85" fill="#9d1c1e" stroke="#701214" stroke-width="0.4"/>
<circle cx="101.3" cy="150.8" r="1.85" fill="#9d1c1e" stroke="#701214" stroke-width="0.4"/>
<circle cx="98.6" cy="158.8" r="1.85" fill="#9d1c1e" stroke="#701214" stroke-width="0.4"/>
<circle cx="103" cy="160.9" r="1.85" fill="#9d1c1e" stroke="#701214" stroke-width="0.4"/>
<circle cx="96.6" cy="162.5" r="1.85" fill="#9d1c1e" stroke="#701214" stroke-width="0.4"/>
</g>
<text x="112.4" y="106.7" font-size="7.6" text-anchor="start" fill="#222" stroke="#222" stroke-width="0.22">ICOS</text>
<text x="117.3" y="127.1" font-size="7.6" text-anchor="start" fill="#222" stroke="#222" stroke-width="0.22">4−1BB</text>
<text x="122.6" y="140" font-size="7.6" text-anchor="start" fill="#222" stroke="#222" stroke-width="0.22">CD69</text>
<text x="127.6" y="150.7" font-size="7.6" text-anchor="start" fill="#222" stroke="#222" stroke-width="0.22">OX40</text>
<text x="57.8" y="156.6" font-size="7.6" text-anchor="start" fill="#222" stroke="#222" stroke-width="0.22">GITR</text>
<rect x="38.3" y="58.3" width="110.3" height="108.4" fill="none" stroke="#262626" stroke-width="1.4"/>
<line x1="34.3" y1="163.5" x2="38.3" y2="163.5" stroke="#222" stroke-width="0.9"/>
<text x="32.5" y="166.35" font-size="7.9" text-anchor="end" fill="#222" stroke="#222" stroke-width="0.22">0</text>
<line x1="34.3" y1="138.68" x2="38.3" y2="138.68" stroke="#222" stroke-width="0.9"/>
<text x="32.5" y="141.53" font-size="7.9" text-anchor="end" fill="#222" stroke="#222" stroke-width="0.22">50</text>
<line x1="34.3" y1="113.85" x2="38.3" y2="113.85" stroke="#222" stroke-width="0.9"/>
<text x="32.5" y="116.7" font-size="7.9" text-anchor="end" fill="#222" stroke="#222" stroke-width="0.22">100</text>
<line x1="34.3" y1="89.03" x2="38.3" y2="89.03" stroke="#222" stroke-width="0.9"/>
<text x="32.5" y="91.88" font-size="7.9" text-anchor="end" fill="#222" stroke="#222" stroke-width="0.22">150</text>
<line x1="34.3" y1="64.2" x2="38.3" y2="64.2" stroke="#222" stroke-width="0.9"/>
<text x="32.5" y="67.05" font-size="7.9" text-anchor="end" fill="#222" stroke="#222" stroke-width="0.22">200</text>
<line x1="53.5" y1="166.7" x2="53.5" y2="170" stroke="#222" stroke-width="0.9"/>
<line x1="73.5" y1="166.7" x2="73.5" y2="170" stroke="#222" stroke-width="0.9"/>
<line x1="93.5" y1="166.7" x2="93.5" y2="170" stroke="#222" stroke-width="0.9"/>
<line x1="113.5" y1="166.7" x2="113.5" y2="170" stroke="#222" stroke-width="0.9"/>
<line x1="133.5" y1="166.7" x2="133.5" y2="170" stroke="#222" stroke-width="0.9"/>
<clipPath id="vc2"><rect x="38.3" y="176.3" width="110.39999999999999" height="107.80000000000001"/></clipPath>
<g clip-path="url(#vc2)">
<path d="M112.5 261.8h0M112.1 229.5h0M84.6 280.3h0M100.9 242.1h0M103.9 271.4h0M82.3 252.1h0M58.2 280.6h0M84.0 277.9h0M90.8 278.9h0M90.4 275.8h0M116.2 272.0h0M70.6 267.7h0M101.1 270.5h0M101.4 257.0h0M104.9 243.5h0M97.9 271.9h0M98.3 254.3h0M98.1 272.0h0M86.5 271.9h0M86.5 280.7h0M72.8 237.7h0M95.1 273.2h0M90.7 271.8h0M97.7 257.4h0M81.3 210.7h0M99.7 273.9h0M86.8 280.9h0M86.9 278.5h0M98.5 253.8h0M97.2 280.4h0M80.7 204.3h0M85.1 275.3h0M55.1 267.0h0M80.1 278.8h0M95.9 280.2h0M99.5 276.2h0M116.0 252.1h0M101.1 280.5h0M65.1 257.7h0M81.6 273.1h0M89.0 275.0h0M102.2 279.6h0M123.5 267.9h0M85.8 277.7h0M81.8 278.3h0M112.0 234.5h0M92.1 275.9h0M54.6 266.8h0M89.2 279.9h0M95.3 279.1h0M97.3 276.1h0M97.3 278.0h0M96.4 275.4h0M90.6 278.7h0M97.5 280.1h0M97.5 275.2h0M80.7 272.0h0M100.9 268.1h0M103.3 267.6h0M87.9 260.5h0M97.8 281.3h0M103.2 281.3h0M83.6 243.6h0M101.0 281.6h0M110.6 266.5h0M94.3 277.1h0M121.8 256.7h0M72.7 279.9h0M104.7 206.5h0M80.4 276.2h0M82.6 261.8h0M86.0 270.9h0M80.7 217.3h0M85.5 234.5h0M97.0 272.9h0M68.7 256.6h0M73.9 271.9h0M87.9 271.6h0M90.0 266.2h0M98.8 262.1h0M73.3 192.4h0M96.1 265.4h0M83.7 216.9h0M75.2 263.8h0M96.4 278.7h0M78.8 235.5h0M82.5 263.3h0M100.8 274.5h0M80.9 276.0h0M88.7 254.1h0M69.1 258.5h0M104.8 280.4h0M91.2 278.6h0M111.1 276.2h0M98.3 274.5h0M78.5 255.2h0M92.1 279.6h0M105.6 277.5h0M100.3 281.3h0M123.9 269.1h0M120.6 251.2h0M71.7 273.2h0M92.0 280.8h0M86.4 270.2h0M97.8 278.6h0M73.9 273.7h0M52.4 273.6h0M59.7 199.9h0M66.2 267.9h0M89.9 262.2h0M102.9 269.3h0M113.6 223.0h0M99.5 278.2h0M73.2 226.2h0M86.0 276.0h0M63.7 265.9h0M121.9 254.6h0M75.7 237.6h0M87.2 280.2h0M91.6 280.8h0M99.1 270.4h0M64.2 264.5h0M82.0 244.5h0M107.5 271.8h0M130.5 250.0h0M76.8 275.8h0M103.0 265.0h0M85.0 273.2h0M74.3 281.4h0M90.3 269.8h0M104.1 276.7h0M89.3 265.3h0M86.3 260.7h0M87.2 255.4h0M89.2 276.2h0M87.1 276.1h0M86.6 248.8h0M88.0 270.9h0M106.4 277.7h0M117.4 236.0h0M86.9 280.5h0M124.8 209.7h0M79.7 251.9h0M110.1 269.6h0M103.9 278.6h0M109.1 266.4h0M94.9 280.1h0M99.8 239.9h0M77.3 273.5h0M103.8 236.3h0M67.3 271.1h0M108.2 280.1h0M87.8 270.1h0M102.9 266.1h0M91.5 269.2h0M82.0 204.5h0M100.2 261.2h0M91.9 274.1h0M95.3 279.4h0M83.5 270.4h0M92.8 279.7h0M87.5 277.8h0M109.6 261.8h0M89.9 268.1h0M104.0 265.3h0M86.7 281.6h0M89.2 274.0h0M89.9 266.2h0M76.4 182.8h0M65.8 244.6h0M70.9 228.6h0M113.9 272.9h0M96.5 260.0h0M96.4 279.9h0M84.3 281.1h0M119.5 277.3h0M98.1 251.4h0M64.6 261.8h0M114.7 278.2h0M83.8 274.4h0M77.3 269.1h0M91.0 273.3h0M103.0 273.6h0M67.0 260.3h0M72.0 276.7h0M74.7 275.7h0M75.1 259.2h0M100.9 272.2h0M95.6 275.7h0M103.8 281.8h0M71.7 253.1h0M108.0 226.1h0M76.8 271.1h0M113.4 259.9h0M88.4 263.7h0M101.4 276.8h0M71.9 268.9h0M100.5 278.7h0M137.0 240.8h0M116.6 275.4h0M89.1 263.6h0M82.8 272.7h0M95.4 276.0h0M117.7 186.0h0M116.8 257.9h0M94.7 279.7h0M101.5 273.6h0M73.7 270.6h0M76.1 274.3h0M85.9 274.8h0M99.0 281.7h0M100.0 272.9h0M111.4 274.8h0M99.6 265.8h0M90.6 279.4h0M54.9 276.6h0M90.2 261.9h0M97.4 255.4h0M100.3 273.0h0M86.9 265.1h0M85.3 276.2h0M70.8 280.3h0M74.4 244.7h0M119.6 267.2h0M86.0 277.7h0M99.6 253.3h0M80.3 245.9h0M106.8 254.8h0M113.4 265.3h0M99.6 279.7h0M80.1 275.8h0M112.4 268.8h0M119.8 220.8h0M88.2 258.9h0M71.3 233.7h0M51.4 269.6h0M102.4 267.6h0M99.3 281.7h0M102.8 233.8h0M103.2 242.3h0M115.1 276.3h0M71.5 271.9h0M110.0 279.5h0M79.8 280.4h0M103.9 266.2h0M83.0 279.7h0M69.7 236.7h0M87.9 264.9h0M87.5 274.8h0M89.7 280.8h0M95.1 281.0h0M105.5 272.4h0M96.7 259.6h0M80.9 245.4h0M102.8 205.0h0M111.6 273.3h0M102.3 274.7h0M97.0 275.9h0M43.7 279.7h0M104.7 274.3h0M84.6 248.7h0M96.3 280.3h0M65.2 278.9h0M102.1 254.0h0M87.2 253.1h0M84.2 272.0h0M96.3 275.4h0M74.6 280.2h0M88.8 278.9h0M66.5 275.3h0M110.1 262.2h0M85.5 190.3h0M113.2 243.5h0M72.1 269.8h0M101.0 267.9h0M96.7 279.7h0M52.4 221.0h0M91.6 274.6h0M77.4 224.3h0M85.6 281.5h0M87.7 273.3h0M80.7 230.4h0M111.3 265.9h0M87.2 281.2h0M99.6 251.9h0M87.8 277.1h0M87.2 248.2h0M106.5 278.2h0M123.6 258.9h0M76.9 236.3h0M74.9 281.3h0M79.0 243.1h0M90.3 273.6h0M88.7 270.9h0M115.7 256.1h0M101.1 267.8h0M108.9 229.1h0M98.3 260.5h0M102.3 280.7h0M78.3 259.3h0M98.9 250.9h0M79.8 254.5h0M95.5 281.4h0M83.2 278.3h0M106.1 279.5h0M107.0 279.5h0M87.3 281.1h0M109.4 276.4h0M89.8 276.8h0M111.3 271.2h0M82.5 254.2h0M115.5 265.3h0M63.0 233.1h0M100.0 260.1h0M97.6 268.1h0M133.3 241.2h0M100.8 274.3h0M95.1 273.7h0M88.7 267.0h0M98.9 276.0h0M111.9 281.5h0M111.5 281.6h0M107.9 280.4h0M99.8 262.3h0M106.0 273.3h0M84.0 277.8h0M53.9 269.0h0M87.8 260.4h0M68.3 279.0h0M65.8 274.7h0M91.1 281.1h0M85.1 261.1h0M87.7 272.5h0M72.9 266.5h0M89.4 270.5h0M82.9 258.6h0M120.6 264.7h0M72.3 279.9h0M84.9 255.2h0M92.5 281.0h0M78.4 275.9h0M95.5 275.3h0M88.3 255.8h0M113.9 181.3h0M92.7 281.3h0M112.9 281.6h0M75.8 280.7h0M72.5 266.2h0M46.1 269.1h0M73.2 276.7h0M88.7 276.0h0M80.4 247.1h0M87.3 277.5h0M86.7 259.3h0M104.7 276.7h0M64.3 265.7h0M106.9 269.1h0M104.0 270.3h0M88.0 280.4h0M59.5 260.2h0M84.2 265.2h0M67.8 271.6h0M118.0 245.2h0M109.6 242.7h0M86.0 273.3h0M84.4 266.4h0M85.3 273.5h0M102.7 279.0h0M105.8 275.2h0M96.4 276.7h0M100.3 281.5h0M75.9 279.1h0M96.8 263.6h0M101.7 273.9h0M66.8 261.5h0M99.6 266.9h0M64.3 200.5h0M93.0 280.4h0M63.3 277.9h0M104.6 260.9h0M82.6 278.8h0M103.1 250.1h0M107.5 245.1h0M92.0 281.0h0M100.6 246.9h0M111.8 189.9h0M91.9 280.0h0M80.7 266.9h0M89.4 276.6h0M101.1 258.9h0M72.4 240.4h0M101.1 281.1h0M103.1 272.9h0M101.1 273.0h0M84.8 262.1h0M97.4 266.1h0M47.1 279.1h0M110.5 232.4h0M108.8 274.1h0M97.6 276.3h0M107.3 269.8h0M88.9 278.9h0M81.4 277.3h0M118.6 252.3h0M74.8 274.6h0M90.2 266.5h0M80.9 268.7h0M78.1 246.7h0M99.0 259.8h0M91.5 271.9h0M71.5 273.5h0M89.5 273.1h0M92.3 279.2h0M64.7 253.8h0M97.1 272.5h0M86.9 253.2h0M100.7 271.6h0M96.5 275.7h0M57.0 269.5h0M104.7 275.1h0M118.2 237.8h0M72.4 263.7h0M90.6 280.8h0M106.9 270.1h0M98.2 280.3h0M106.3 280.4h0M87.5 272.2h0M142.5 273.7h0M99.8 276.9h0M106.5 268.1h0M80.0 279.8h0M89.5 268.4h0M96.7 271.8h0M91.3 280.7h0M92.5 281.7h0M66.3 181.3h0M101.5 259.8h0M86.6 240.0h0M102.4 273.1h0M90.7 274.5h0M95.0 280.5h0M122.4 281.2h0M114.1 263.2h0M88.3 276.1h0M98.2 280.5h0M80.7 269.6h0M73.1 276.4h0M81.2 248.0h0M98.4 270.3h0M85.4 255.1h0M106.1 259.8h0M70.0 279.0h0M77.9 279.6h0M73.4 278.1h0M95.6 274.0h0M83.1 254.8h0M85.0 252.3h0M59.6 227.8h0M107.1 253.5h0M83.0 280.4h0M84.4 245.8h0M145.4 201.5h0M120.9 206.4h0M61.1 250.3h0M76.1 280.7h0M80.6 245.7h0M82.3 261.1h0M121.5 273.2h0M127.8 247.5h0M89.2 271.7h0M113.1 271.4h0M82.2 267.5h0M134.6 230.0h0M107.6 273.6h0M104.6 278.8h0M94.6 279.4h0M84.5 280.2h0M77.1 264.4h0M81.8 241.4h0M106.8 268.9h0M99.8 277.0h0M114.1 268.9h0M109.5 207.6h0M78.9 273.6h0M64.0 276.0h0M73.6 258.9h0M91.5 276.5h0M105.9 248.8h0M118.2 250.6h0M98.2 277.4h0M100.3 268.4h0M97.9 262.6h0M59.4 264.5h0M99.0 279.9h0M121.3 274.4h0M98.5 278.8h0M98.8 268.4h0M90.7 273.0h0M97.4 281.3h0M104.4 247.1h0M96.9 264.7h0M84.0 261.2h0M119.6 272.8h0M79.0 272.1h0M121.8 275.8h0M107.0 276.2h0M88.3 191.7h0M74.2 254.8h0M99.0 276.7h0M101.5 280.7h0M88.4 278.4h0M99.3 280.5h0M77.0 248.8h0M98.7 278.5h0M86.4 273.3h0M115.7 276.3h0M86.3 280.9h0M85.8 258.0h0M127.1 261.2h0M104.9 281.2h0M71.1 252.5h0M67.8 277.1h0M75.1 280.2h0M73.3 268.4h0M90.0 276.5h0M96.0 268.3h0M142.6 280.9h0M97.4 281.6h0M98.5 263.7h0M105.8 275.4h0M95.9 266.4h0M118.4 281.5h0M116.1 270.8h0M74.2 277.9h0M97.9 280.6h0M83.7 268.8h0M86.6 278.9h0M112.7 241.1h0M87.7 281.0h0M81.7 279.3h0M82.8 249.8h0M68.6 281.1h0M96.8 277.1h0M76.8 273.4h0M101.5 263.4h0M88.2 251.1h0M62.6 181.2h0M96.7 277.0h0M127.1 260.3h0M120.6 244.0h0M75.2 276.4h0M87.0 280.1h0M89.2 271.6h0M85.6 265.5h0M87.4 268.5h0M92.3 277.8h0M60.5 259.0h0M91.0 274.6h0M98.6 278.0h0M84.1 233.7h0M90.8 265.8h0M114.6 273.6h0M121.1 281.5h0M95.6 277.6h0M71.9 270.8h0M78.6 215.2h0M74.4 278.8h0M64.5 278.5h0M112.2 266.9h0M80.7 268.0h0M84.8 254.4h0M76.1 278.1h0M79.7 264.9h0M98.6 277.2h0M105.3 263.3h0M76.9 257.5h0M97.4 277.9h0M125.4 181.3h0M107.6 265.4h0M72.9 279.0h0M99.2 264.5h0M101.3 281.6h0M59.5 181.2h0M99.5 270.1h0M97.2 267.1h0M105.7 279.1h0M130.6 261.9h0M80.3 276.3h0M96.3 275.9h0M85.6 258.0h0M86.5 280.2h0M72.1 270.8h0M53.4 266.6h0M69.5 275.1h0M107.6 259.7h0M74.8 279.9h0M93.2 280.0h0M108.8 243.3h0M85.7 252.5h0M98.4 278.3h0M107.4 279.9h0M85.8 281.7h0M117.1 236.0h0M87.3 265.8h0M79.6 245.2h0M112.5 240.5h0M91.1 276.8h0M98.9 272.2h0M95.6 270.7h0M87.0 272.8h0M103.3 281.2h0M87.6 272.3h0M68.0 269.1h0M67.2 280.0h0M81.6 273.1h0M104.5 268.3h0M90.4 278.0h0M81.5 279.1h0M78.8 240.5h0M107.9 181.4h0M61.2 234.2h0M113.3 256.0h0M72.0 279.2h0M86.7 181.3h0M91.0 272.1h0M45.9 263.3h0M71.0 264.6h0M91.7 280.6h0M101.8 279.7h0M87.5 252.4h0M96.6 279.9h0M110.8 251.8h0M89.3 275.8h0M96.5 279.4h0M97.8 279.9h0M88.8 278.7h0M74.9 268.4h0M108.5 216.6h0M55.4 280.0h0M89.2 260.2h0M108.3 262.9h0M80.7 262.3h0M86.1 244.1h0M57.8 181.3h0M75.8 262.4h0M90.3 263.4h0M88.5 273.1h0M78.6 199.7h0M98.5 278.6h0M81.7 274.5h0M80.9 272.3h0M76.3 276.1h0M111.4 242.4h0M79.8 246.8h0M113.0 224.6h0M65.7 268.1h0M102.1 281.0h0M104.9 278.4h0M82.3 258.6h0M79.2 259.8h0M100.1 278.6h0M103.5 244.7h0M89.0 280.0h0M66.6 270.7h0M117.6 196.8h0M100.1 281.4h0M119.2 273.6h0M83.6 258.1h0M101.0 229.1h0M104.5 278.3h0M80.5 267.9h0M99.1 268.2h0M80.3 249.2h0M67.0 274.8h0M85.5 264.7h0M91.2 281.4h0M78.7 267.1h0M101.7 270.8h0M101.4 233.4h0M106.5 267.1h0M71.5 280.3h0M63.4 278.6h0M91.6 274.7h0M109.2 267.9h0M86.4 250.1h0M104.8 280.1h0M83.8 268.9h0M102.6 276.7h0M75.5 275.4h0M97.6 275.5h0M80.1 281.7h0M85.5 275.1h0M128.1 238.4h0M84.6 265.4h0M65.8 262.8h0M90.4 275.8h0M99.0 278.6h0M72.2 239.0h0M88.3 251.8h0M141.5 225.0h0M79.2 270.3h0M124.0 266.6h0M81.6 263.6h0M91.7 270.9h0M79.3 250.5h0M65.4 262.9h0M81.9 280.0h0M78.3 270.9h0M86.3 278.7h0M115.3 277.6h0M74.0 281.4h0M116.6 239.5h0M103.0 242.7h0M85.5 278.5h0M95.4 281.6h0M86.3 277.6h0M87.0 273.6h0M101.1 252.5h0M83.0 273.1h0M100.6 280.0h0M97.8 262.4h0M101.7 265.8h0M125.4 215.6h0M100.8 260.6h0M115.2 277.2h0M50.2 249.9h0M126.0 281.2h0M103.0 259.9h0M88.2 251.3h0M95.5 280.6h0M87.0 243.5h0M99.6 279.1h0M87.8 281.0h0M70.0 264.3h0M52.9 277.5h0M98.9 242.1h0M93.0 279.1h0M110.0 269.6h0M105.1 210.3h0M83.1 265.0h0M84.7 273.6h0M87.1 278.2h0M83.4 250.7h0M86.5 273.6h0M102.0 261.7h0M85.3 277.8h0M114.8 263.9h0M92.9 279.1h0M106.8 263.9h0M97.3 262.9h0M129.5 216.1h0M88.9 274.1h0M86.8 273.5h0M89.3 281.1h0M95.0 276.6h0M101.8 221.6h0M89.4 274.2h0M78.1 252.4h0M94.0 279.3h0M91.7 277.3h0M106.1 276.3h0M85.1 229.7h0M101.2 277.5h0M89.4 272.9h0M79.2 278.7h0M92.6 279.2h0M103.8 217.0h0M117.5 269.6h0M97.4 275.2h0M85.7 281.8h0M86.1 260.3h0M108.2 266.5h0M121.4 181.2h0M64.3 262.6h0M91.8 280.1h0M96.0 269.3h0M112.7 279.7h0M97.2 272.3h0M77.4 251.8h0M46.1 273.8h0M105.8 260.3h0M98.4 263.4h0M98.4 279.2h0M116.7 268.7h0M107.8 277.1h0M86.9 270.3h0M112.3 270.4h0M85.9 277.0h0M98.7 281.7h0M85.9 273.8h0M98.4 260.9h0M98.2 278.9h0M72.9 249.8h0M105.0 209.0h0M97.9 250.0h0M97.9 276.0h0M85.2 275.7h0M99.5 268.1h0M89.3 281.6h0M98.2 251.4h0M45.8 271.0h0M83.3 279.7h0M97.9 277.4h0M100.1 268.8h0M79.8 269.5h0M110.0 266.8h0M76.7 267.3h0M119.4 243.7h0M96.3 281.0h0M87.9 248.9h0M88.2 245.5h0M97.9 267.2h0M107.4 259.7h0M102.4 278.0h0M101.4 270.9h0M86.2 277.0h0M97.4 275.9h0M89.4 279.7h0M97.0 265.7h0M87.8 280.8h0M83.3 275.7h0M72.0 277.9h0M98.7 273.6h0M96.6 275.1h0M87.0 278.8h0M87.2 239.8h0M104.6 271.3h0M91.0 277.1h0M103.3 240.4h0M80.8 275.7h0M110.9 270.7h0M96.9 281.4h0M58.1 276.6h0M90.3 271.3h0M102.0 277.8h0M84.5 280.8h0M95.2 274.7h0M87.3 255.6h0M91.7 277.7h0M97.2 259.3h0M90.1 277.0h0M62.3 269.0h0M69.8 277.7h0M86.3 231.3h0M56.8 190.5h0M75.2 273.2h0M130.6 181.2h0M96.2 262.9h0M95.6 268.4h0M85.5 278.6h0M76.4 281.3h0M78.8 246.6h0M66.9 213.0h0M82.8 255.7h0M110.4 253.0h0M107.6 280.3h0M91.4 277.9h0M83.9 265.9h0M87.9 263.4h0M89.3 264.2h0M108.0 273.7h0M76.8 275.1h0M77.8 278.4h0M90.9 280.1h0M106.8 267.7h0M106.2 278.2h0M87.7 255.6h0M118.8 276.1h0M64.7 239.5h0M82.1 255.2h0M87.3 281.3h0M91.3 280.5h0M98.9 281.4h0M128.7 208.5h0M105.1 271.4h0M92.3 279.9h0M62.0 271.6h0M131.9 271.6h0M85.3 270.3h0M84.0 245.6h0M98.5 267.0h0M106.1 275.9h0M88.5 258.2h0M89.2 279.4h0M115.0 277.0h0M111.2 280.1h0M84.8 281.5h0M58.6 272.8h0M97.4 262.4h0M89.4 271.9h0M97.5 272.2h0M109.3 278.4h0M91.3 280.7h0M88.1 265.6h0M83.3 279.9h0M119.3 257.7h0M101.7 256.1h0M120.7 275.5h0M81.0 279.1h0M102.2 212.5h0M77.7 270.8h0M67.2 265.1h0M103.2 276.3h0M98.9 242.6h0M98.6 275.9h0M98.0 258.5h0M88.6 270.7h0M105.7 263.1h0M87.2 260.0h0M89.2 273.0h0M83.6 275.7h0M103.1 277.7h0M86.0 250.5h0M84.8 281.7h0M116.1 273.0h0M97.4 266.5h0M97.9 272.9h0M86.1 258.9h0M80.6 247.4h0M120.8 274.5h0M99.3 275.0h0M89.4 272.7h0M78.7 265.3h0M96.2 262.7h0M97.5 259.7h0M108.0 280.8h0M103.1 219.9h0M99.8 257.9h0M96.7 267.2h0M108.1 280.4h0M102.3 272.7h0M104.7 280.8h0M70.5 252.8h0M96.0 262.0h0M81.4 276.4h0M91.6 277.1h0M102.2 271.4h0M74.4 270.0h0M60.5 223.1h0M104.0 273.1h0M107.0 276.1h0M92.1 276.4h0M95.9 276.7h0M85.4 280.2h0M107.1 272.8h0M101.5 281.2h0M75.9 280.8h0M116.9 246.9h0M108.2 270.4h0M100.5 249.8h0M108.6 279.7h0M90.9 279.0h0M110.9 241.8h0M105.6 278.7h0M86.5 261.7h0M82.0 272.9h0M88.0 256.8h0M43.3 272.1h0M95.9 264.4h0M96.3 263.8h0M101.9 216.7h0M101.7 275.2h0M113.1 276.6h0M50.8 262.4h0M99.4 265.6h0M131.5 271.1h0M56.3 264.8h0M108.1 253.4h0M98.9 273.4h0M101.5 221.3h0M87.1 247.6h0M57.7 266.9h0M130.5 271.0h0M78.4 266.3h0M61.5 245.4h0M79.1 209.6h0M79.9 274.1h0M79.5 211.7h0M69.8 264.6h0M74.9 244.5h0M101.3 267.4h0M101.6 279.9h0M88.3 280.5h0M82.7 280.3h0M66.0 274.2h0M101.8 240.4h0M90.6 265.1h0M94.1 279.9h0M89.9 279.6h0M64.7 263.7h0M100.5 230.4h0M110.3 262.2h0M84.6 271.0h0M91.0 274.3h0M102.6 265.8h0M116.1 279.1h0M103.4 270.6h0M110.5 181.3h0M118.5 276.5h0M83.0 262.9h0M72.2 253.8h0M68.2 264.8h0M89.9 273.2h0M79.4 278.1h0M77.2 277.5h0M90.6 269.4h0M91.9 281.6h0M97.7 280.6h0M64.2 263.0h0M118.3 181.2h0M86.1 276.6h0M97.6 265.7h0M119.3 268.8h0M79.5 276.3h0M98.7 258.1h0M100.4 272.5h0M84.0 266.7h0M88.0 275.5h0M103.3 281.6h0M95.7 279.4h0M71.3 277.3h0M89.5 268.1h0M88.9 281.7h0M63.1 244.6h0M77.2 272.7h0M120.8 278.5h0M91.0 271.3h0M75.5 257.0h0M83.7 258.3h0M102.9 280.3h0M87.2 275.8h0M89.7 271.7h0M84.8 278.8h0M90.9 279.4h0M119.2 278.7h0M74.0 262.8h0M68.7 273.0h0M59.9 265.5h0M132.6 279.3h0M128.6 257.5h0M115.6 278.3h0M91.6 279.0h0M100.7 241.9h0M86.7 260.7h0M111.7 241.2h0M97.3 273.3h0M65.8 181.2h0M88.1 279.5h0M100.6 272.3h0M73.2 264.8h0M102.8 280.3h0M91.4 276.6h0M87.7 278.4h0M87.0 278.0h0M113.7 274.2h0M103.6 258.8h0M102.0 252.6h0M101.4 270.4h0M114.1 260.8h0M64.4 258.6h0M101.5 280.1h0M81.7 210.9h0M75.4 279.3h0M61.1 276.6h0M104.8 242.0h0M84.2 270.3h0M104.2 251.3h0M84.5 262.3h0M87.6 260.3h0M121.4 280.3h0M79.0 271.1h0M67.9 221.9h0M98.0 263.0h0M101.6 281.5h0M79.0 277.6h0M89.4 266.0h0M78.8 239.3h0M88.8 279.6h0M99.6 270.4h0M104.9 263.3h0M79.1 279.7h0M88.8 276.7h0M96.8 272.2h0M106.8 269.2h0M84.1 265.4h0M97.0 270.3h0M68.5 268.2h0M97.6 277.4h0M88.2 261.6h0M79.7 269.0h0M81.2 256.8h0M87.1 279.2h0M58.5 181.3h0M102.0 247.2h0M98.7 254.3h0M89.7 257.9h0M85.9 265.1h0M104.4 271.7h0M92.2 281.4h0M83.1 281.4h0M89.7 272.1h0M101.4 275.4h0M124.3 192.9h0M45.9 259.6h0M89.0 263.3h0M88.3 264.0h0M62.0 258.4h0M96.6 279.2h0M77.1 262.5h0M73.1 278.3h0M109.1 261.9h0M86.4 266.6h0M96.3 267.9h0M83.2 277.6h0M100.5 270.9h0M146.1 196.0h0M84.3 276.0h0M84.4 279.5h0M87.4 260.9h0M58.1 262.9h0M135.8 255.7h0M75.5 281.7h0M79.3 274.9h0M87.3 267.0h0M88.0 253.1h0M96.7 275.7h0M89.9 270.0h0M113.4 246.3h0M95.2 277.1h0M88.3 279.4h0M116.9 252.7h0M85.2 270.9h0M97.9 273.2h0M89.2 278.5h0M103.8 257.5h0M108.4 258.0h0M91.1 280.7h0M88.0 279.8h0M90.3 264.3h0M88.4 270.0h0M130.7 269.9h0M88.0 278.0h0M101.9 270.0h0M90.7 277.3h0M91.1 281.8h0M87.6 247.3h0M108.8 273.8h0M69.9 264.7h0M89.9 277.0h0M94.3 281.0h0M100.6 269.1h0M110.0 254.4h0M90.4 261.6h0M99.5 264.0h0M101.8 274.2h0M98.9 244.7h0M110.8 281.5h0M104.9 259.4h0M93.3 281.7h0M86.8 268.2h0M86.3 240.7h0M80.7 224.6h0M92.6 280.1h0M108.7 224.0h0M96.4 264.4h0M89.8 273.9h0M73.3 256.5h0M73.1 222.9h0M109.3 278.5h0M107.6 259.1h0M91.3 280.0h0M72.5 276.5h0M81.1 237.1h0M104.5 248.6h0M89.3 280.7h0M84.3 261.6h0M81.2 280.7h0M87.3 270.7h0M89.3 269.7h0M115.3 281.4h0M85.9 276.4h0M128.6 279.2h0M97.2 267.2h0M112.9 205.1h0M84.0 252.9h0M100.6 273.1h0M89.1 273.1h0M94.9 273.5h0M117.6 279.5h0M103.9 281.6h0M68.2 258.2h0M92.1 277.6h0M77.6 269.4h0M86.7 253.9h0M81.7 277.8h0M72.4 272.6h0M120.2 226.0h0M98.7 244.9h0M107.4 271.5h0M118.3 269.4h0M89.4 259.3h0M106.2 247.1h0M118.4 242.5h0M90.8 270.9h0M88.5 273.6h0M97.4 277.1h0M120.0 277.1h0M102.7 280.7h0M69.4 239.9h0M87.1 262.1h0M90.4 280.8h0M122.6 254.5h0M112.2 278.2h0M88.5 254.1h0M95.6 270.2h0M91.1 276.2h0M76.8 280.9h0M101.4 270.6h0M79.9 250.4h0M97.4 279.3h0M102.1 261.2h0M84.9 272.5h0M88.7 260.4h0M94.7 275.9h0M75.4 275.2h0M61.3 260.2h0M89.6 268.0h0M87.7 268.0h0M97.7 281.6h0M91.5 281.6h0M97.8 255.6h0M86.7 252.5h0M86.1 273.5h0M80.3 273.2h0M99.8 276.0h0M93.1 281.2h0M95.1 273.4h0M91.2 280.4h0M109.1 181.2h0M118.9 267.4h0M83.9 258.5h0M91.5 279.6h0M96.9 274.5h0M83.9 263.8h0M87.5 279.3h0M81.9 268.9h0M61.9 242.3h0M70.8 205.3h0M138.6 278.8h0M104.5 253.0h0M79.4 279.0h0M117.2 278.0h0M70.9 273.8h0M99.6 281.4h0M91.1 265.0h0M82.5 272.2h0M82.4 266.7h0M96.1 277.8h0M108.8 280.7h0M118.7 257.2h0M99.2 245.0h0M66.3 251.8h0M68.8 263.9h0M73.4 260.6h0M94.2 280.0h0M73.1 221.4h0M109.1 278.7h0M68.9 262.4h0M115.7 272.3h0M100.6 278.4h0M83.9 267.5h0M60.1 271.2h0M134.0 269.6h0M124.6 193.3h0M75.3 261.5h0M87.1 274.4h0M101.3 280.0h0M53.4 265.1h0M88.5 279.9h0M72.6 273.3h0M111.9 266.6h0M103.6 278.9h0M61.0 261.9h0M88.3 276.4h0M85.4 272.2h0M97.6 257.4h0M95.9 266.7h0M130.5 275.3h0M82.2 244.9h0M106.0 274.5h0M67.7 259.5h0M102.6 273.2h0M82.2 258.4h0M79.8 281.5h0M87.3 258.7h0M106.6 265.7h0M80.3 279.2h0M103.4 278.5h0M58.5 270.6h0M75.5 257.5h0M89.9 274.5h0M97.7 279.0h0M90.4 268.6h0M86.5 272.9h0M103.8 279.8h0M91.8 280.7h0M104.7 270.5h0M62.5 269.3h0M90.9 280.3h0M87.0 280.6h0M78.4 233.1h0M86.4 251.7h0M112.9 248.4h0M73.3 255.5h0M89.1 280.7h0M91.3 276.3h0M88.2 274.3h0M103.3 263.6h0M76.0 261.5h0M120.5 234.9h0M75.7 280.5h0M84.5 256.2h0M87.2 257.7h0M128.7 280.1h0M96.9 272.4h0M96.2 272.9h0M110.9 276.1h0M99.7 269.6h0M104.3 279.6h0M87.5 275.8h0M104.7 263.9h0M79.3 270.7h0M140.2 223.2h0M54.4 234.9h0M83.4 235.3h0M113.8 267.5h0M97.5 264.6h0M95.4 280.3h0M80.2 277.3h0M92.8 280.4h0M69.0 267.3h0M94.8 280.0h0M76.8 252.8h0M95.5 270.7h0M107.2 266.3h0M95.3 280.4h0M81.0 268.8h0M102.0 217.3h0M88.6 255.6h0M88.9 260.5h0M101.9 277.9h0M91.9 273.5h0M87.3 248.1h0M128.7 259.9h0M98.7 275.9h0M75.2 253.8h0M102.8 250.3h0M91.1 270.2h0M86.1 249.9h0M97.0 276.7h0M68.8 264.3h0M58.7 184.1h0M86.1 263.7h0M102.9 190.5h0M87.4 281.6h0M85.3 278.1h0M77.5 262.0h0M87.2 257.3h0M87.5 275.8h0M83.5 275.1h0M78.9 195.0h0M98.3 274.1h0M87.5 278.5h0M137.2 267.2h0M81.0 276.8h0M79.0 269.8h0M65.5 278.3h0M95.6 279.6h0M72.3 280.9h0M106.9 265.6h0M97.7 272.3h0M100.5 275.1h0M103.6 275.4h0M113.4 250.0h0M84.7 277.5h0M88.3 262.5h0M100.7 250.1h0M99.0 279.3h0M86.6 264.2h0M89.8 279.2h0M64.0 233.1h0M96.9 270.1h0M114.7 261.5h0M103.4 250.8h0M78.3 256.8h0M92.2 280.1h0M77.1 231.8h0M91.5 280.2h0M73.6 250.6h0M82.4 272.6h0M84.4 267.5h0M89.8 270.1h0M117.1 238.5h0M98.1 257.7h0M99.1 275.2h0M103.8 251.9h0M81.7 251.9h0M72.6 261.0h0M86.5 272.6h0M109.1 266.0h0M98.9 275.6h0M84.7 266.3h0M116.7 281.5h0M76.8 278.9h0M98.5 245.1h0M100.0 271.5h0M100.0 252.1h0M98.5 261.5h0M104.0 242.5h0M81.4 266.8h0M112.9 258.1h0M96.5 275.4h0M91.0 276.8h0M81.0 247.0h0M111.2 268.2h0M100.3 269.6h0M103.7 279.2h0M77.7 226.3h0M64.9 280.8h0M85.8 261.4h0M83.0 261.8h0M87.3 279.8h0M78.3 272.0h0M79.7 232.4h0M69.7 281.5h0M81.6 272.6h0M51.9 281.0h0M86.2 275.6h0M110.2 281.0h0M124.7 181.2h0M124.6 181.3h0M86.6 281.1h0M94.5 278.9h0M82.5 265.7h0M81.7 269.1h0M98.4 271.5h0M120.9 273.9h0M99.8 279.6h0M76.4 212.8h0M96.7 260.1h0M85.3 276.6h0M107.6 271.1h0M123.6 276.5h0M96.3 276.7h0M100.2 274.5h0M81.1 262.1h0M87.3 272.9h0M101.2 255.8h0M77.1 281.0h0M67.4 273.5h0M79.4 280.1h0M82.7 268.2h0M104.0 259.4h0M87.7 278.1h0M104.3 274.6h0M105.0 278.3h0M86.9 272.8h0M54.3 273.5h0M83.1 278.4h0M62.5 269.6h0M92.4 280.7h0M125.3 277.9h0M90.3 261.5h0M101.9 260.4h0M108.9 254.9h0M88.5 265.6h0M80.1 280.9h0M81.4 278.7h0M97.2 258.8h0M114.1 269.5h0M66.4 274.0h0M92.1 277.1h0M90.4 277.2h0M98.4 269.9h0M91.0 277.0h0M108.3 264.4h0M79.8 238.9h0M116.6 262.4h0M98.6 273.4h0M102.5 278.6h0M80.7 275.1h0M126.2 244.7h0M118.6 271.4h0M79.7 275.5h0M97.2 264.5h0M84.1 263.4h0M69.1 258.8h0M88.1 279.0h0M85.7 277.5h0M68.8 279.8h0M87.6 278.8h0M111.2 267.1h0M104.4 268.8h0M87.6 279.4h0M97.2 278.4h0M111.5 257.6h0M64.1 270.2h0M85.2 280.5h0M90.3 269.4h0M75.0 267.3h0M57.7 244.5h0M75.4 272.4h0M95.7 275.4h0M86.4 241.8h0M84.1 281.7h0M90.6 268.2h0M112.9 279.7h0M83.2 275.6h0M108.6 223.6h0M147.2 278.7h0M77.3 276.6h0M87.3 246.9h0M83.6 272.2h0M128.7 181.4h0M90.3 276.8h0M107.1 280.1h0M89.8 277.7h0M100.1 259.8h0M90.3 276.0h0M56.5 260.7h0M88.3 268.0h0M102.9 270.2h0M101.0 222.5h0M89.0 280.7h0M99.2 260.1h0M64.7 280.2h0M102.5 241.6h0M77.1 232.4h0M109.6 267.3h0M114.2 254.7h0M102.9 279.9h0M81.7 261.5h0M102.0 280.4h0M95.0 277.7h0M96.6 264.6h0M97.6 274.9h0M99.8 270.3h0M101.5 281.3h0M95.6 279.7h0M137.0 279.1h0M98.6 269.3h0M101.0 272.2h0M99.5 272.1h0M81.9 278.8h0M87.6 241.4h0M95.9 272.5h0M91.2 278.0h0M122.3 250.5h0M102.1 277.6h0M88.7 281.4h0M85.4 274.6h0M105.6 250.3h0M96.9 272.2h0M80.5 278.9h0M84.5 275.8h0M90.1 280.4h0M96.1 267.0h0M87.2 258.3h0M90.1 274.4h0M79.8 235.1h0M99.3 281.0h0M104.9 255.0h0M90.3 277.7h0M85.7 270.9h0M104.0 233.7h0M86.3 261.2h0M88.3 280.6h0M112.1 260.8h0M81.6 259.6h0M129.4 264.6h0M96.2 275.4h0M64.0 269.0h0M134.7 277.9h0M130.4 188.4h0M95.2 276.4h0M72.2 264.1h0M83.0 224.3h0M119.9 232.2h0M74.1 277.0h0M92.3 279.4h0M108.2 264.5h0M90.3 270.3h0M76.4 274.5h0M89.9 269.0h0M75.7 250.6h0M85.5 226.9h0M97.9 269.4h0M97.7 261.2h0M101.4 275.1h0M97.5 280.4h0M60.1 239.5h0M98.4 271.8h0M98.4 275.1h0M91.5 272.1h0M72.7 247.8h0M96.1 275.4h0M90.6 274.1h0M78.5 277.3h0M116.6 270.2h0M78.9 270.1h0M95.9 275.4h0M75.9 279.1h0M56.2 275.7h0M108.5 276.4h0M90.1 277.7h0M84.1 265.6h0M97.4 257.6h0M102.2 281.5h0M87.3 260.7h0M80.9 273.9h0M61.6 281.8h0M98.7 262.4h0M95.8 280.1h0M98.1 255.7h0M77.5 279.1h0M75.0 228.8h0M96.8 265.9h0M94.0 281.6h0M107.6 273.8h0M84.5 255.5h0M106.2 276.4h0M98.3 281.7h0M98.9 278.8h0M80.9 255.0h0M103.0 274.2h0M92.3 278.7h0M80.9 264.9h0M66.0 281.2h0M85.2 252.7h0M48.2 258.6h0M89.5 256.4h0M85.7 277.2h0M77.7 239.3h0M98.6 247.8h0M112.0 257.7h0M61.0 264.9h0M53.2 265.0h0M108.6 247.5h0M92.6 277.6h0M79.3 274.2h0M89.5 279.8h0M85.8 274.4h0M74.7 237.7h0M92.8 281.5h0M97.6 276.2h0M104.5 243.6h0M99.2 277.2h0M85.2 278.9h0M104.8 279.3h0M109.5 277.5h0M91.5 274.1h0M99.5 267.4h0M68.2 264.1h0M100.5 240.8h0M65.6 223.7h0M98.7 259.3h0M91.8 280.8h0M102.4 281.8h0M99.7 258.9h0M84.9 238.3h0M108.1 254.5h0M85.4 272.5h0M97.5 281.0h0M85.3 280.7h0M96.1 281.2h0M85.5 237.3h0M95.7 274.2h0M102.4 252.6h0M95.0 275.1h0M117.3 200.3h0M104.0 228.9h0M101.9 243.7h0M82.6 266.2h0M85.2 263.6h0M98.0 271.6h0M103.2 265.6h0M84.7 278.3h0M99.3 269.2h0M88.8 272.8h0M73.2 273.3h0M96.7 269.0h0M116.4 280.5h0M78.0 243.5h0M88.0 266.1h0M112.8 212.0h0M87.3 278.0h0M89.8 278.2h0M96.9 261.7h0M99.7 267.6h0M99.5 272.7h0M99.4 274.0h0M76.6 207.4h0M87.7 276.2h0M71.9 278.3h0M107.8 264.3h0M86.8 281.3h0M103.7 277.2h0M96.7 277.9h0M105.5 278.2h0M115.9 238.0h0M60.0 281.8h0M99.9 281.2h0M96.7 280.4h0M107.3 263.5h0M84.3 281.6h0M75.6 269.6h0M113.3 269.7h0M116.7 252.9h0M101.9 278.8h0M78.0 278.8h0M68.7 271.7h0M67.2 253.6h0M81.7 215.9h0M134.9 256.9h0M111.6 276.6h0M89.8 279.5h0M43.3 269.3h0M108.4 266.7h0M69.6 181.3h0M88.5 267.5h0M100.1 279.6h0M86.4 267.2h0M87.5 252.9h0M74.0 262.5h0M113.2 239.4h0M99.8 263.7h0M88.0 275.1h0M90.1 267.5h0M79.0 271.7h0M74.4 259.7h0M89.9 260.1h0M85.5 267.5h0M74.7 280.4h0M98.8 277.8h0M79.2 252.9h0M65.5 258.9h0M91.8 274.2h0M90.2 270.1h0M103.0 271.4h0M115.1 259.0h0M86.6 256.2h0M65.0 212.2h0M69.5 253.6h0M102.3 281.3h0M121.7 266.6h0M107.0 281.6h0M105.5 258.6h0M85.4 237.3h0M108.6 279.5h0M97.1 279.9h0M94.6 280.8h0M71.2 268.0h0M90.8 275.2h0M70.9 271.2h0M108.4 244.0h0M105.8 268.4h0M80.9 273.2h0M104.5 266.8h0M106.1 279.8h0M95.2 274.0h0M82.8 270.1h0M88.2 261.4h0M70.8 254.8h0M113.3 276.1h0M97.4 271.4h0M136.7 269.3h0M115.2 267.8h0M78.5 267.7h0M119.7 258.5h0M97.0 277.3h0M87.2 262.0h0M101.1 261.2h0M88.2 268.2h0M66.1 280.3h0M117.5 253.0h0M89.4 281.6h0M100.4 280.3h0M104.8 261.4h0M111.5 276.5h0M90.1 278.3h0M84.7 262.8h0M81.8 276.1h0M132.5 266.2h0M105.9 272.0h0M41.7 277.9h0M65.1 272.2h0M102.4 257.3h0M57.3 181.2h0M73.6 255.9h0M96.8 262.8h0M84.8 266.2h0M84.0 275.3h0M106.8 277.6h0M99.5 267.3h0M104.2 260.9h0M98.6 271.0h0M96.6 277.1h0M88.2 262.8h0M77.9 279.5h0M86.5 239.1h0M99.0 262.5h0M84.2 258.5h0M91.5 274.6h0M95.0 277.6h0M83.0 228.9h0M91.2 277.4h0M82.4 278.2h0M54.5 220.2h0M77.7 266.4h0M91.3 268.9h0M87.0 267.8h0M111.5 272.3h0M105.0 224.0h0M115.3 270.3h0M77.2 237.8h0M110.0 277.7h0M77.5 280.1h0M68.5 274.6h0M75.6 270.5h0M84.2 279.5h0M129.3 279.6h0M72.8 206.7h0M73.7 268.5h0M78.8 225.0h0M75.8 236.8h0M105.2 264.1h0M54.8 208.1h0M81.3 280.3h0M91.4 280.1h0M104.3 278.4h0M90.4 277.2h0M82.7 281.8h0M96.5 272.6h0M106.3 276.7h0M54.2 276.2h0M96.7 272.7h0M104.5 238.6h0M60.7 267.4h0M105.4 187.8h0M80.0 228.5h0M84.6 263.5h0M75.4 260.2h0M103.5 278.4h0M90.0 279.8h0M135.2 272.1h0M101.3 259.5h0M101.3 223.9h0M68.1 254.2h0M87.4 270.0h0M96.8 273.6h0M101.3 239.2h0M86.6 267.0h0M96.6 273.4h0M102.9 204.0h0M82.1 210.8h0M100.5 256.0h0M107.9 251.8h0M77.9 274.3h0M84.8 263.4h0M85.3 266.0h0M95.2 279.9h0M78.0 275.0h0M112.6 270.5h0M52.9 260.4h0M99.2 261.4h0M73.0 228.2h0M104.9 216.7h0M110.8 258.0h0M71.5 181.1h0M63.4 251.4h0M82.1 265.6h0M98.2 272.1h0M85.9 273.8h0M67.6 272.2h0M87.2 272.5h0M120.1 181.4h0M84.4 276.9h0M86.6 249.3h0M90.2 271.4h0M101.0 279.6h0M101.7 275.4h0M102.8 279.5h0M102.8 224.4h0M88.7 275.0h0M99.2 270.2h0M114.0 276.0h0M81.3 263.1h0M41.4 281.3h0M124.6 181.3h0M106.0 246.2h0M90.3 261.9h0M106.0 278.3h0M63.5 201.7h0M82.9 279.6h0M87.0 275.7h0M77.8 181.1h0M75.5 261.8h0M96.4 277.2h0M81.2 254.3h0M101.6 273.0h0M82.1 246.9h0M97.0 255.5h0M102.8 259.3h0M79.2 241.8h0M84.4 240.8h0M100.9 253.4h0M87.3 276.5h0M52.8 250.2h0M55.8 264.3h0M79.6 281.6h0M74.1 274.7h0M103.8 242.0h0M96.3 280.3h0M63.8 256.5h0M107.4 265.9h0M87.0 277.6h0M97.1 278.1h0M80.6 269.4h0M89.5 260.1h0M114.9 249.5h0M103.1 274.9h0M103.7 235.9h0M104.2 278.6h0M98.5 262.8h0M125.2 275.2h0M85.5 276.1h0M99.4 254.8h0M122.7 279.7h0M78.4 272.1h0M97.7 281.4h0M90.9 268.4h0M86.9 275.1h0M110.8 268.7h0M84.9 248.0h0M70.4 241.2h0M64.2 276.3h0M77.6 259.7h0M86.0 259.2h0M94.5 279.5h0M88.9 276.3h0M90.4 279.8h0M91.6 278.4h0M77.4 210.7h0M97.0 278.4h0M96.1 270.5h0M97.4 263.9h0M83.2 244.2h0M84.3 233.3h0M99.6 277.8h0M138.5 185.5h0M79.0 247.3h0M79.2 274.8h0M78.8 274.1h0M85.5 256.7h0M72.9 277.0h0M96.1 266.9h0M97.0 268.2h0M104.0 281.7h0M100.1 260.4h0M91.9 274.4h0M83.2 254.8h0M89.2 262.4h0M86.0 258.3h0M79.9 246.0h0M98.9 267.8h0M110.7 268.4h0M90.8 271.4h0M68.5 277.9h0M79.7 257.2h0M106.5 277.8h0M90.4 266.8h0M108.8 225.7h0M89.2 278.6h0M89.5 276.8h0M94.6 280.0h0M97.0 271.1h0M50.7 266.8h0M86.0 232.0h0M122.0 237.1h0M90.9 276.6h0M90.8 276.5h0M99.8 261.7h0M115.9 267.9h0M81.8 267.3h0M80.1 251.1h0M58.1 227.6h0M96.9 260.3h0M78.7 260.8h0M97.1 266.5h0M104.6 275.0h0M114.5 280.9h0M102.8 272.5h0M87.8 274.0h0M86.3 269.9h0M100.6 235.8h0M97.1 275.2h0M85.2 278.5h0M75.0 276.9h0M84.1 279.4h0M72.8 276.3h0M83.3 276.4h0M89.4 281.7h0M79.4 278.0h0M90.4 281.5h0M100.4 271.0h0M61.8 181.3h0M95.7 278.9h0M112.0 279.0h0M100.5 254.5h0M90.5 271.9h0M82.4 274.1h0M87.4 252.6h0M98.6 272.2h0M103.4 276.9h0M101.2 273.9h0M89.1 281.2h0M98.6 278.7h0M59.9 281.1h0M86.9 272.3h0M86.2 263.2h0M73.5 271.1h0M90.1 281.2h0M74.5 182.7h0M85.2 234.9h0M79.0 280.3h0M93.0 280.1h0M121.5 269.4h0M99.9 250.5h0M103.4 279.9h0M85.5 277.2h0M67.5 281.6h0M108.3 241.9h0M80.8 275.2h0M89.8 275.3h0M72.8 277.4h0M108.2 279.4h0M85.0 275.1h0M96.1 280.1h0M80.4 263.6h0M83.3 245.7h0M67.2 273.9h0M110.5 272.5h0M78.8 249.4h0M122.0 183.7h0M107.4 222.8h0M105.5 262.1h0M114.0 269.7h0M87.7 267.0h0M86.3 251.9h0M82.7 267.1h0M90.9 280.1h0M87.2 255.8h0M83.0 278.8h0M88.8 281.0h0M119.2 206.3h0M79.0 270.0h0M48.8 257.7h0M102.8 279.8h0M91.8 274.5h0M91.3 278.7h0M96.7 270.5h0M127.4 234.7h0M126.9 267.6h0M82.1 247.8h0M85.5 272.8h0M84.4 251.4h0M95.8 279.7h0M92.4 278.0h0M90.7 272.5h0M107.5 251.5h0M86.6 276.3h0M88.4 281.3h0M119.7 275.3h0M85.3 275.1h0M48.9 250.4h0M110.5 270.1h0M85.6 264.4h0M76.9 239.2h0M72.4 278.6h0M98.8 264.7h0M78.3 271.3h0M78.8 204.5h0M99.9 277.6h0M83.2 269.1h0M90.4 264.3h0M87.4 269.5h0M94.6 280.5h0M97.7 275.8h0M87.0 270.4h0M125.1 249.5h0M50.0 226.3h0M92.8 277.5h0M79.8 240.9h0M87.7 263.7h0M81.2 281.1h0M83.0 228.9h0M101.9 261.1h0M108.6 277.2h0M83.9 274.7h0M82.1 272.5h0M70.7 217.6h0M68.3 239.2h0M68.1 264.7h0M88.3 274.8h0M90.0 277.9h0M82.9 273.6h0M73.7 264.3h0M88.6 260.4h0M86.2 273.3h0M112.1 265.2h0M110.3 267.4h0M130.3 257.0h0M88.2 259.1h0M84.1 217.7h0M78.0 274.8h0M108.3 254.4h0M104.3 261.2h0M115.7 261.7h0M96.2 281.0h0M71.8 275.4h0M125.3 275.0h0M77.6 277.0h0M100.3 258.4h0M109.1 275.8h0M94.8 276.9h0M89.2 254.6h0M114.8 269.8h0M81.6 245.7h0M98.1 274.4h0M114.3 181.3h0M91.1 279.8h0M112.2 265.5h0M82.9 235.6h0M64.7 212.4h0M111.1 281.1h0M106.0 281.5h0M81.2 280.3h0M62.2 181.2h0M98.7 258.7h0M97.2 255.7h0M84.7 264.0h0M86.3 267.7h0M95.0 271.2h0M126.3 260.0h0M84.5 269.2h0M81.0 262.5h0M74.6 269.5h0M85.1 258.4h0M90.2 275.9h0M79.6 281.0h0M84.8 268.8h0M102.0 273.1h0M103.3 260.2h0M90.0 274.4h0M84.2 269.4h0M115.7 233.3h0M117.8 280.6h0M77.2 278.7h0M108.7 280.8h0M66.9 271.9h0M45.8 265.9h0M117.0 273.9h0M76.1 243.2h0M118.4 276.4h0M113.4 272.1h0M66.0 265.6h0M85.1 265.5h0M78.7 243.5h0M82.1 268.0h0M102.6 253.4h0M83.0 279.4h0M103.2 280.5h0M84.1 228.0h0M85.2 281.8h0M101.9 279.0h0M98.2 264.1h0M71.8 280.5h0M100.5 271.5h0M95.4 272.5h0M91.1 268.0h0M84.6 280.3h0M100.8 279.5h0M112.4 277.5h0M104.2 278.3h0M86.5 271.0h0M78.9 267.0h0M87.2 273.8h0M91.7 281.5h0M89.7 277.2h0M91.8 279.7h0M82.5 277.8h0M53.6 280.5h0M84.4 262.8h0M89.2 262.0h0M87.0 266.1h0M94.9 281.6h0M100.1 255.7h0M88.9 273.8h0M77.8 266.0h0M90.3 275.0h0M80.0 220.6h0M91.0 271.0h0M99.2 238.4h0M61.6 275.9h0M78.2 281.7h0M92.2 278.0h0M88.6 266.9h0M89.0 275.3h0M95.6 276.0h0M84.5 217.7h0M107.7 251.3h0M90.2 277.1h0M98.9 250.9h0M117.1 274.1h0M82.4 221.1h0M76.8 240.6h0M88.7 275.1h0M75.1 269.9h0M111.9 276.0h0M86.1 278.4h0M75.7 214.9h0M86.9 277.8h0M114.0 277.1h0M79.2 251.0h0M98.8 276.1h0M101.7 278.7h0M89.2 256.2h0M64.0 226.1h0M100.8 268.5h0M98.9 268.5h0M76.1 270.4h0M83.3 271.7h0M103.0 267.3h0M96.5 277.4h0M88.7 278.6h0M86.2 270.6h0M77.7 231.5h0M89.9 273.6h0M99.0 279.3h0M105.7 271.8h0M80.8 270.4h0M112.2 275.4h0M109.0 229.9h0M76.5 248.0h0M84.5 273.9h0M118.9 188.9h0M80.6 279.4h0M83.8 272.2h0M99.5 276.3h0M98.7 276.0h0M127.8 281.8h0M61.7 281.6h0M82.8 275.2h0M89.7 267.9h0M81.6 252.9h0M68.5 278.6h0M87.0 263.2h0M89.0 256.2h0M79.4 233.7h0M91.7 276.4h0M99.7 242.2h0M91.0 271.7h0M107.4 278.5h0M84.5 259.1h0M56.8 211.0h0M99.0 264.0h0M97.6 269.3h0M53.4 273.8h0M120.6 272.5h0M81.6 257.8h0M97.8 256.0h0M76.5 242.4h0M103.4 276.1h0M103.5 262.8h0M85.6 273.7h0M89.1 277.5h0M87.3 279.5h0M102.7 276.1h0M99.0 258.1h0M82.4 279.2h0M95.0 278.9h0M80.5 250.1h0M77.7 257.0h0M108.1 262.1h0M99.3 246.7h0M80.4 208.9h0M108.4 280.4h0M61.1 278.2h0M62.1 271.5h0M95.7 278.4h0M88.4 269.0h0M101.7 277.4h0M88.8 277.7h0M101.0 279.8h0M97.7 271.2h0M84.2 272.2h0M131.1 278.0h0M115.1 254.9h0M104.6 181.4h0M88.5 276.1h0M83.6 277.6h0M97.4 267.8h0M91.8 274.8h0M69.1 256.8h0M120.8 268.3h0M91.7 281.1h0M73.6 224.0h0M92.2 275.1h0M83.7 244.6h0M76.0 267.0h0M102.9 229.8h0M82.2 276.6h0M75.2 278.9h0M99.8 276.3h0M84.4 272.8h0M118.9 276.3h0M84.3 280.7h0M114.5 273.8h0M110.8 224.2h0M108.7 272.8h0M88.4 264.9h0M82.7 231.6h0M95.8 265.0h0M98.9 275.5h0M87.7 256.7h0M87.9 273.2h0M87.6 278.3h0M83.2 280.8h0M87.8 252.9h0M98.0 267.0h0M104.4 280.7h0M77.0 267.4h0M90.9 270.8h0M68.9 248.6h0M54.8 271.9h0M91.2 269.2h0M59.7 276.3h0M89.2 267.0h0M85.8 278.1h0M78.4 279.7h0M65.1 273.0h0M110.8 188.4h0M81.6 249.7h0M72.2 272.8h0M85.3 260.1h0M124.0 270.8h0M73.0 181.3h0M54.6 238.1h0M85.5 256.3h0M68.5 277.0h0M82.9 226.1h0M81.7 277.0h0M66.2 277.4h0M103.9 220.5h0M113.4 279.6h0M84.7 259.5h0M75.6 262.8h0M86.0 268.0h0M102.5 257.6h0M97.3 270.9h0M135.3 277.2h0M89.9 255.9h0M87.4 181.3h0M98.0 266.2h0M92.8 278.6h0M60.8 181.4h0M70.7 217.2h0M83.2 271.7h0M87.7 281.7h0M83.8 245.7h0M80.3 273.3h0M80.9 281.0h0M85.6 237.8h0M90.6 277.1h0M115.5 259.4h0M62.2 279.6h0M98.5 275.8h0M110.8 280.1h0M100.5 260.1h0M87.7 272.2h0M69.6 246.7h0M80.6 278.6h0M104.5 279.3h0M107.7 264.3h0M97.1 277.2h0M70.7 271.4h0M97.6 267.6h0M109.8 241.8h0M86.1 260.2h0M73.6 277.5h0M105.6 277.2h0M74.2 264.3h0M84.6 279.5h0M53.6 259.3h0M78.5 275.5h0M105.6 274.8h0M84.7 239.6h0M105.0 269.6h0M120.0 276.7h0M101.6 280.3h0M88.8 279.9h0M114.5 261.1h0M89.4 275.2h0M70.6 242.9h0M96.0 264.1h0M118.0 255.7h0M97.5 277.2h0M74.5 195.4h0M76.4 280.2h0M124.2 271.0h0M94.1 280.8h0M77.4 278.1h0M79.9 280.2h0M100.8 272.8h0M111.3 273.8h0M89.5 281.5h0M105.0 241.2h0M66.1 243.7h0M68.3 278.6h0M109.2 256.5h0M74.0 263.7h0M112.6 277.5h0M85.4 273.5h0M98.0 280.0h0M101.2 237.6h0M87.5 271.4h0M101.2 267.8h0M88.6 274.8h0M76.1 250.1h0M89.5 262.7h0M117.7 241.4h0M101.1 280.3h0M109.1 260.0h0M85.6 181.2h0M69.5 271.4h0M104.4 275.8h0M135.4 272.9h0M103.6 269.0h0M130.4 272.0h0M97.9 264.3h0M141.2 221.9h0M54.4 277.3h0M90.9 281.5h0M90.0 265.2h0M103.7 264.0h0M98.6 259.8h0M56.1 263.2h0M78.8 247.0h0M94.5 277.7h0M80.3 276.6h0M96.8 262.3h0M71.6 280.6h0M90.7 270.9h0M118.2 275.2h0M97.0 279.2h0M85.5 181.3h0M100.5 280.2h0M118.5 278.1h0M120.9 253.5h0M51.2 272.7h0M49.0 275.5h0M91.2 278.5h0M107.9 243.4h0M88.7 259.9h0M78.0 245.7h0M90.3 273.1h0M96.2 273.8h0M112.8 273.4h0M106.5 232.1h0M77.0 230.9h0M68.3 251.6h0M72.8 272.3h0M109.9 279.8h0M100.8 267.8h0M95.5 275.4h0M86.4 262.9h0M56.4 273.3h0M92.4 276.5h0M79.8 278.7h0M101.5 268.7h0M103.7 268.9h0M55.6 261.9h0M104.1 262.2h0M88.8 270.5h0M80.1 258.6h0M111.2 202.8h0M107.8 270.3h0M83.8 252.4h0M64.6 254.3h0M117.0 279.7h0M99.7 281.4h0M90.3 274.3h0M70.8 276.5h0M107.2 280.1h0M88.5 275.8h0M104.9 181.3h0M91.6 280.4h0M99.5 269.9h0M58.2 181.3h0M89.8 267.7h0M85.7 266.8h0M90.2 278.7h0M97.2 277.7h0M85.2 278.0h0M87.5 278.3h0M83.8 277.9h0M88.1 270.4h0M69.5 274.6h0M136.0 264.2h0M124.7 231.3h0M99.8 276.7h0M96.4 267.7h0M129.0 181.2h0M80.2 281.5h0M92.8 277.6h0M97.5 260.7h0M86.7 275.3h0M79.2 266.8h0M91.2 279.0h0M90.0 278.1h0M110.7 281.4h0M102.7 261.9h0M101.2 281.4h0M84.0 181.4h0M51.9 195.2h0M106.5 242.5h0M102.9 238.8h0M83.5 277.6h0M58.8 281.7h0M102.8 280.9h0M78.9 268.1h0M80.9 226.9h0M96.0 268.8h0M73.3 272.0h0M86.4 247.6h0M108.4 257.0h0M80.5 269.1h0M98.2 253.3h0M117.6 199.9h0M44.5 281.8h0M68.9 242.4h0M101.4 276.4h0M104.4 278.8h0M82.6 281.5h0M92.1 275.2h0M92.7 277.1h0M89.9 269.0h0M128.4 261.0h0M98.6 277.3h0M84.5 278.4h0M125.6 279.1h0M104.3 266.6h0M87.4 244.6h0M118.4 253.6h0M88.4 263.2h0M98.5 279.0h0M74.9 265.2h0M106.5 266.8h0M104.5 279.7h0M70.1 188.7h0M77.1 205.0h0M91.4 268.1h0M68.1 245.5h0M68.2 199.3h0M87.1 243.4h0M72.5 274.2h0M103.1 280.9h0M105.8 278.6h0M99.7 238.8h0M70.7 278.6h0M103.3 236.2h0M92.5 281.0h0M63.9 251.8h0M69.1 266.9h0M81.5 259.5h0M107.1 261.3h0M90.5 274.5h0M96.0 267.3h0M119.3 265.6h0M83.0 280.6h0M65.1 243.7h0M80.1 276.1h0M64.5 256.0h0M81.2 248.2h0M72.3 273.1h0M99.2 280.0h0M92.5 280.1h0M103.6 277.0h0M103.3 249.2h0M71.3 280.5h0M84.1 256.2h0M89.2 276.4h0M97.3 279.0h0M81.3 242.3h0M90.9 271.6h0M82.6 276.9h0M110.5 249.9h0M82.7 237.5h0M97.0 259.7h0M86.9 276.5h0M89.4 276.6h0M102.6 276.9h0M109.2 240.3h0M120.4 277.4h0M57.5 271.4h0M89.1 267.5h0M88.2 263.4h0M115.6 196.9h0M81.6 274.0h0M104.5 236.8h0M76.6 245.5h0M95.8 276.9h0M98.1 275.8h0M88.3 273.2h0M89.3 265.8h0M89.9 260.8h0M67.1 281.1h0M83.4 280.9h0M83.2 276.9h0M101.5 250.5h0M87.3 244.4h0M98.0 280.4h0M81.9 268.6h0M110.7 263.8h0M96.4 267.2h0M99.0 271.1h0M91.0 274.2h0M74.0 272.2h0M77.1 233.8h0M80.5 258.7h0M103.5 281.6h0M69.3 246.6h0M86.4 257.3h0M109.4 267.6h0M96.9 274.7h0M87.3 261.7h0M99.6 268.8h0M107.3 197.7h0M85.1 269.2h0M101.0 274.0h0M109.2 272.8h0M84.0 264.2h0M100.1 258.2h0M105.0 280.6h0M104.7 276.2h0M65.0 248.0h0M90.6 279.2h0M105.0 242.2h0M94.8 280.6h0M57.8 279.7h0M112.5 274.8h0M106.7 272.1h0M99.9 253.6h0M83.0 280.7h0M94.6 278.1h0M86.8 281.7h0M111.3 277.4h0M66.6 208.5h0M88.3 278.6h0M106.7 261.1h0M105.4 274.0h0M89.2 256.4h0M86.4 274.4h0M92.0 279.7h0M126.9 280.1h0M88.8 275.9h0M77.3 278.2h0M64.7 278.4h0M96.4 279.9h0M119.7 279.4h0M89.1 267.6h0M89.1 261.7h0M96.2 278.4h0M69.3 280.0h0M113.1 272.3h0M108.9 262.8h0M98.3 275.8h0M76.7 278.7h0M78.0 258.0h0M95.6 281.5h0M91.5 276.3h0M83.2 240.6h0M95.8 270.5h0M103.4 258.2h0M90.2 281.1h0M80.4 235.9h0M84.7 277.4h0M95.2 275.9h0M102.3 273.1h0M111.1 259.1h0M113.7 254.0h0M115.1 222.1h0M91.6 276.5h0M90.1 275.8h0M90.7 263.6h0M83.4 281.2h0M95.4 280.4h0M84.9 261.9h0M99.9 277.1h0M88.2 272.2h0M104.2 274.4h0M116.0 181.2h0M102.2 277.7h0M96.5 268.2h0M106.2 271.9h0M97.2 261.8h0M111.7 270.5h0M73.2 264.1h0M107.4 256.2h0M68.5 265.4h0M89.5 279.9h0M104.0 280.3h0M87.0 274.6h0M100.8 271.8h0M89.4 274.1h0M102.4 266.2h0M96.6 261.5h0M73.8 270.5h0M89.3 276.6h0M85.1 280.7h0M100.6 276.8h0M96.9 272.9h0M116.3 258.2h0M89.0 279.3h0M99.2 269.0h0M91.5 271.7h0M107.2 267.7h0M83.3 231.5h0M101.5 234.9h0M89.1 258.0h0M99.4 272.8h0M80.9 269.3h0M98.3 271.9h0M84.1 246.3h0M50.2 265.5h0M77.8 259.4h0M110.8 276.2h0M83.4 279.3h0M74.9 278.6h0M105.3 281.4h0M105.8 275.2h0M79.8 280.9h0M76.8 273.6h0M91.6 269.7h0M81.9 271.1h0M102.3 273.5h0M73.8 280.2h0M44.8 270.0h0M46.7 260.1h0M67.1 271.9h0M99.2 275.4h0M104.2 260.7h0M96.4 278.5h0M103.0 269.5h0M86.1 273.4h0M80.7 212.4h0M94.2 279.3h0M75.3 229.6h0M99.7 270.6h0M89.6 267.9h0M87.1 252.0h0M84.0 260.4h0M63.4 278.7h0M81.5 278.0h0M81.9 220.7h0M68.4 243.1h0M88.0 270.3h0M87.4 266.4h0M84.0 271.9h0M83.7 277.3h0M109.0 266.4h0M96.1 267.0h0M100.9 249.5h0M142.3 280.4h0M115.2 277.7h0M116.3 268.0h0M64.9 252.6h0M80.3 280.4h0M87.0 277.8h0M84.1 244.8h0M77.3 246.7h0M107.9 274.5h0M88.6 269.5h0M82.5 279.6h0M79.4 273.3h0M43.1 277.7h0M70.4 206.4h0M73.1 264.2h0M61.0 191.6h0M102.1 274.0h0M79.8 269.8h0M79.3 266.5h0M99.5 246.7h0M88.0 275.2h0M89.3 259.1h0M95.0 281.0h0M86.5 280.5h0M124.3 273.1h0M99.0 272.2h0M39.9 274.6h0M98.9 277.0h0M95.8 275.6h0M76.7 198.7h0M71.1 274.7h0M67.3 253.7h0M97.4 270.9h0M79.8 264.6h0M75.7 241.1h0M95.4 277.8h0M84.5 228.6h0M102.2 244.6h0M87.4 244.7h0M125.9 248.7h0M136.2 277.8h0M126.1 247.2h0M86.8 274.0h0M104.3 235.5h0M83.5 270.6h0M86.9 245.6h0M108.0 252.3h0M101.6 280.7h0M79.4 265.4h0M106.5 276.1h0M60.1 280.9h0M105.5 274.1h0M101.6 249.6h0M93.0 281.2h0M86.8 241.6h0M67.8 277.7h0M96.3 273.5h0M115.5 181.1h0M71.8 259.3h0M101.9 230.5h0M71.5 260.5h0M100.2 276.4h0M98.1 278.8h0M85.6 235.8h0M114.8 243.0h0M65.6 252.5h0M116.6 279.3h0M130.9 249.7h0M90.7 271.4h0M106.1 276.9h0M90.4 279.7h0M91.5 271.9h0M97.4 281.2h0M86.4 276.3h0M77.3 277.6h0M86.9 265.1h0M96.0 279.3h0M88.2 281.6h0M85.1 274.1h0M89.3 262.9h0M98.2 281.6h0M97.6 275.2h0M83.1 281.4h0M82.5 268.6h0M91.4 277.5h0M84.1 214.9h0M99.5 276.2h0M90.3 264.1h0M84.8 261.5h0M98.0 257.8h0M87.0 268.5h0M98.1 264.4h0M98.5 268.8h0M101.3 250.3h0M106.7 234.0h0M58.3 211.6h0M104.2 274.8h0M100.3 271.4h0M58.5 248.5h0M97.5 270.3h0M100.1 279.9h0M99.7 276.1h0M99.9 247.2h0M111.7 266.3h0M87.2 272.2h0M90.9 275.3h0M127.7 181.3h0M88.9 277.4h0M75.1 227.8h0M119.1 258.4h0M129.2 263.7h0M95.9 272.9h0M82.1 245.1h0M79.0 275.3h0M116.9 263.7h0M96.5 276.7h0M97.8 263.4h0M102.7 265.2h0M112.1 263.0h0M108.8 251.2h0M83.8 271.6h0M130.7 258.7h0M89.0 260.7h0M85.9 275.4h0M131.6 274.5h0M99.5 266.6h0M85.1 242.7h0M81.5 254.5h0M77.9 239.8h0M78.6 248.3h0M90.9 269.9h0M85.4 276.3h0M64.8 249.8h0M86.1 230.9h0M112.3 269.5h0M82.7 281.4h0M104.6 252.5h0M110.4 270.3h0M108.9 233.8h0M88.9 256.9h0M113.6 184.4h0M95.2 272.4h0M85.8 269.0h0M113.7 231.2h0M67.8 219.2h0M83.0 264.9h0M97.1 280.2h0M101.6 268.4h0M79.9 206.2h0M111.0 258.3h0M107.5 281.6h0M90.0 270.0h0M82.9 280.5h0M86.0 263.6h0M96.4 268.9h0M95.7 277.9h0M108.1 271.3h0M49.7 213.7h0M111.0 190.8h0M77.1 253.0h0M90.8 269.8h0M106.3 270.2h0M83.1 247.3h0M98.4 276.7h0M109.1 269.5h0M82.8 252.1h0M101.3 249.9h0M102.9 257.7h0M88.8 278.7h0M107.4 265.0h0M48.1 273.4h0M89.3 272.3h0M78.5 281.4h0M114.8 214.6h0M101.3 253.0h0M87.4 271.2h0M99.5 280.9h0M73.5 277.1h0M100.4 277.2h0M83.7 278.5h0M69.6 263.3h0M127.4 196.6h0M82.1 280.2h0M106.7 236.6h0M54.5 265.2h0M95.0 281.6h0M112.2 257.2h0M85.9 233.1h0M107.0 260.3h0M98.5 276.1h0M82.3 273.0h0M96.7 261.0h0M90.6 274.8h0M87.5 281.3h0M95.6 273.9h0M84.9 273.4h0M108.2 270.6h0M79.0 280.5h0M81.7 219.8h0M98.5 252.7h0M123.0 277.2h0M101.5 271.3h0M88.9 249.3h0M104.7 247.2h0M71.1 280.2h0M118.1 191.1h0M97.7 277.2h0M76.4 257.6h0M79.5 247.8h0M101.8 279.2h0M65.8 275.4h0M104.1 281.0h0M118.9 223.8h0M56.9 278.9h0M86.6 259.7h0M68.3 220.6h0M55.5 276.8h0M96.7 281.5h0M50.9 257.4h0M99.7 240.2h0M46.0 213.5h0M102.4 235.3h0M97.6 275.4h0M81.3 262.4h0M99.9 280.4h0M106.0 271.4h0M81.9 276.6h0M114.6 277.8h0M91.8 274.0h0M94.2 279.8h0M106.6 274.1h0M107.8 277.1h0M85.1 279.7h0M103.8 275.9h0M79.2 277.8h0M97.0 263.9h0M104.1 204.9h0M109.7 279.4h0M97.9 281.1h0M91.4 277.5h0M100.4 270.5h0M71.4 249.1h0M116.9 268.7h0M98.8 266.9h0M116.5 262.1h0M109.1 247.3h0M101.0 253.2h0M92.4 280.1h0M88.5 273.1h0M99.3 244.5h0M81.0 269.0h0M112.2 237.8h0M91.4 273.0h0M120.2 273.4h0M72.5 257.3h0M100.9 269.0h0M85.1 238.4h0M97.7 266.1h0M89.1 281.3h0M87.0 268.7h0M97.5 254.3h0M84.0 280.3h0M87.2 181.2h0M101.1 276.3h0M88.5 270.6h0M99.2 264.8h0M99.9 269.4h0M92.7 278.9h0M108.5 252.7h0M53.2 273.0h0M102.7 217.3h0M126.8 279.6h0M129.3 236.9h0M114.1 278.9h0M78.8 262.6h0M76.5 212.4h0M55.0 278.6h0M85.2 233.1h0M84.1 276.4h0M60.6 242.0h0M101.2 279.4h0M78.4 277.3h0M75.0 278.7h0M84.7 243.2h0M134.5 275.4h0M60.9 277.0h0M79.7 242.5h0M84.0 275.9h0M95.6 275.2h0M101.9 277.0h0M109.1 238.5h0M99.7 263.8h0M116.0 271.7h0M83.6 181.1h0M113.6 229.7h0M77.6 270.2h0M98.6 279.2h0M85.8 276.5h0M63.0 258.2h0M88.3 281.4h0M74.8 277.8h0M86.0 279.4h0M80.8 274.9h0M79.6 276.3h0M103.0 261.8h0M101.2 268.8h0M91.0 269.8h0M100.8 276.6h0M68.7 248.2h0M97.9 275.3h0M79.8 252.4h0M88.5 270.0h0M109.0 276.4h0M74.6 256.3h0M84.9 235.4h0M136.4 275.1h0M114.7 281.1h0M112.9 280.0h0M111.1 188.2h0M92.0 278.4h0M103.6 271.2h0M82.6 238.3h0M96.5 268.3h0M91.1 272.2h0M88.5 264.0h0M72.0 268.2h0M120.6 192.4h0M68.3 204.3h0M83.1 263.7h0M122.0 280.5h0M109.7 194.6h0M96.4 280.7h0M105.2 254.4h0M91.4 276.9h0M96.8 271.1h0M102.6 260.4h0M58.1 181.4h0M97.2 277.3h0M85.0 265.9h0M67.4 276.7h0M91.5 269.5h0M91.2 268.7h0M78.8 265.8h0M85.1 276.1h0M101.3 264.9h0M60.6 181.3h0M119.9 267.5h0M100.4 280.1h0M78.3 271.2h0M130.4 181.3h0M75.4 273.4h0M108.9 281.3h0M88.5 265.3h0M116.2 279.9h0M95.8 280.6h0M92.2 273.2h0M76.0 181.3h0M119.2 281.3h0M96.1 278.1h0M84.8 249.4h0M84.0 211.4h0M84.6 240.2h0M113.4 269.8h0M102.7 268.0h0M118.9 274.8h0M89.9 269.7h0M80.7 275.8h0M65.4 267.7h0M88.7 262.1h0M78.9 277.3h0M91.3 277.0h0M67.0 262.1h0M81.0 249.4h0M120.4 278.7h0M126.5 231.7h0M49.1 271.3h0M83.1 241.9h0M103.5 249.1h0M81.8 233.2h0M98.6 265.7h0M67.9 275.1h0M86.5 273.7h0M77.6 272.3h0M109.8 278.0h0M107.0 268.2h0M96.1 276.1h0M69.0 263.7h0M106.5 280.9h0M79.8 223.5h0M104.4 260.0h0M88.5 270.4h0M77.7 280.7h0M106.3 215.2h0M61.6 278.1h0M119.8 261.2h0M86.4 279.1h0M90.9 279.2h0M48.1 262.2h0M96.1 268.8h0M76.3 280.4h0M96.2 276.8h0M87.0 269.8h0M84.6 229.2h0M99.6 258.1h0M64.1 261.8h0M89.5 279.4h0M86.5 276.2h0M91.5 269.2h0M108.8 277.9h0M98.1 273.9h0M106.6 251.5h0M133.6 203.1h0M97.8 281.2h0M72.1 272.5h0M62.5 248.5h0M120.0 269.5h0M115.7 263.3h0M118.0 277.7h0M104.6 280.4h0M91.0 267.7h0M132.1 271.5h0M108.0 251.1h0M96.8 276.1h0M85.6 279.5h0M98.6 270.5h0M83.1 277.2h0M103.0 281.3h0M74.0 270.1h0M88.8 268.5h0M81.3 281.0h0M104.3 247.0h0M97.4 269.0h0M101.6 273.5h0M74.3 220.7h0M117.5 239.4h0M79.0 262.6h0M79.8 281.3h0M73.4 264.9h0M95.5 275.6h0M81.3 243.0h0M114.9 235.3h0M88.4 268.6h0M71.8 268.5h0M99.6 276.0h0M66.6 239.1h0M82.6 271.4h0M98.7 271.9h0M82.6 260.4h0M91.9 275.4h0M99.6 258.4h0M72.7 271.0h0M80.2 247.7h0M90.0 278.9h0M76.3 276.1h0M95.8 281.2h0M81.2 268.3h0M90.0 265.4h0M89.9 275.8h0M87.0 268.0h0M67.3 266.8h0M109.2 251.4h0M66.4 277.0h0M125.6 275.9h0M96.4 279.6h0M105.7 207.8h0M95.2 273.8h0M101.8 247.1h0M137.1 268.6h0M90.3 267.7h0M85.1 263.6h0M81.7 275.9h0M92.5 280.0h0M83.0 278.4h0M102.1 256.3h0M106.6 273.5h0M101.6 278.6h0M99.0 254.2h0M76.2 280.6h0M105.5 260.1h0M97.9 280.0h0M92.7 279.9h0M117.7 242.8h0M81.9 249.7h0M97.3 278.0h0M84.5 278.8h0M77.3 274.7h0M116.8 270.9h0M71.0 270.7h0M80.1 280.5h0M86.9 266.5h0M86.7 236.9h0M98.7 278.1h0M101.6 275.6h0M99.6 248.7h0M104.2 275.3h0M75.4 254.4h0M55.5 279.1h0M81.8 213.1h0M97.7 276.7h0M73.5 268.4h0M57.7 267.6h0M78.4 273.4h0M96.6 272.5h0M121.6 275.9h0M83.0 256.1h0M86.8 274.9h0M89.0 255.1h0M112.7 269.4h0M101.3 261.2h0M103.4 216.3h0M107.3 269.2h0M98.7 245.4h0M94.8 281.3h0M99.1 254.3h0M102.4 277.8h0M53.7 278.2h0M105.6 270.5h0M87.7 261.5h0M100.2 230.3h0M88.1 279.2h0M72.7 181.1h0M76.0 256.7h0M110.8 271.2h0M91.1 269.8h0M81.4 276.3h0M102.3 257.8h0M126.1 266.7h0M70.3 253.0h0M127.2 267.7h0M108.5 278.4h0M86.2 277.5h0M113.0 277.9h0M98.0 272.9h0M82.1 270.1h0M95.1 277.7h0M130.9 270.5h0M89.6 275.4h0M77.3 208.8h0M96.0 280.0h0M89.1 277.3h0M99.6 274.1h0M91.5 274.8h0M71.1 184.3h0M91.1 279.5h0M96.7 281.4h0M80.0 213.8h0M130.7 272.6h0M106.3 263.1h0M96.3 268.8h0M70.8 272.3h0M88.4 281.4h0M83.8 267.7h0M143.8 270.0h0M101.1 270.3h0M97.1 279.4h0M112.7 254.9h0M67.8 269.9h0M105.0 275.1h0M96.4 280.0h0M97.2 276.5h0M104.8 259.1h0M104.9 181.1h0M100.5 275.1h0M113.4 263.3h0M100.6 264.7h0M87.4 273.4h0M85.3 267.9h0M87.2 253.1h0M105.3 269.8h0M97.6 270.2h0M77.7 264.7h0M87.7 281.6h0M86.2 254.9h0M85.3 250.4h0M95.7 268.2h0M83.9 281.1h0M78.2 279.0h0M87.9 190.8h0M85.6 231.6h0M109.5 263.3h0M89.4 255.0h0M88.3 260.1h0M100.9 269.9h0M113.8 233.2h0M50.1 269.1h0M107.3 261.4h0M87.0 280.3h0M91.5 278.9h0M89.2 279.3h0M91.7 276.1h0M99.6 235.9h0M111.7 280.2h0M119.3 249.9h0M107.2 273.1h0M70.5 280.2h0M88.1 267.8h0M84.2 277.8h0M110.5 273.0h0M58.9 248.1h0M83.4 278.2h0M97.6 253.3h0M88.0 277.2h0M74.5 216.8h0M87.5 259.1h0M85.3 272.8h0M102.5 238.8h0M117.6 198.8h0M92.1 281.6h0M83.0 257.5h0M117.4 263.3h0M80.7 275.9h0M86.0 274.6h0M98.2 277.9h0M113.6 281.4h0M113.9 266.1h0M79.8 195.0h0M89.9 271.8h0M85.0 251.6h0M116.4 247.3h0M70.4 269.8h0M76.3 281.3h0M96.0 275.8h0M88.9 279.2h0M105.0 281.0h0M120.8 257.1h0M84.8 242.8h0M78.3 275.7h0M102.1 280.7h0M90.3 278.6h0M86.6 181.3h0M103.1 263.0h0M71.0 276.3h0M83.5 271.5h0M107.1 269.6h0M67.4 275.3h0M90.2 266.7h0M67.0 273.8h0M100.2 258.5h0M71.2 226.0h0M101.6 225.2h0M86.0 280.5h0M75.0 270.2h0M119.4 181.2h0M90.1 279.0h0M95.0 274.6h0M118.3 222.7h0M102.9 246.5h0M113.4 269.6h0M71.8 243.6h0M98.1 252.0h0M80.8 275.6h0M84.2 266.6h0M106.4 277.3h0M80.7 263.5h0M82.0 271.6h0M97.7 263.4h0M109.0 275.9h0M58.1 181.4h0M71.2 267.8h0M87.6 276.8h0M96.1 274.5h0M87.6 270.6h0M86.5 240.3h0M81.5 264.4h0M65.1 277.4h0M100.9 269.1h0M88.5 272.5h0M90.9 267.1h0M121.5 267.0h0M54.7 279.3h0M86.4 278.8h0M142.1 253.6h0M68.6 265.8h0M95.8 278.1h0M98.4 251.8h0M79.3 264.2h0M79.9 261.9h0M106.1 272.0h0M66.7 197.8h0M130.2 250.0h0M90.5 271.1h0M95.8 274.3h0M95.7 276.2h0M105.5 255.0h0M87.5 271.0h0M111.0 265.9h0M96.7 280.3h0M74.9 274.0h0M90.9 270.6h0M108.1 269.2h0M97.6 273.0h0M96.2 268.0h0M91.3 280.9h0M82.8 278.2h0M107.6 265.3h0M79.6 276.6h0M80.7 260.3h0M111.0 272.5h0M77.9 278.3h0M92.4 278.9h0M136.9 265.9h0M104.9 274.3h0M111.4 217.0h0M84.1 256.6h0M109.4 270.5h0M106.8 259.7h0M95.1 273.4h0M78.7 281.5h0M54.2 271.8h0M98.6 254.7h0M99.4 272.8h0M95.4 274.0h0M48.8 203.0h0M97.0 264.7h0M121.0 242.1h0M53.2 279.7h0M77.6 270.7h0M88.4 248.6h0M97.4 265.7h0M78.7 227.2h0M84.9 240.6h0M115.2 204.6h0M92.1 273.9h0M75.8 273.3h0M109.0 241.5h0M101.5 272.5h0M119.9 279.8h0M102.9 214.2h0M96.7 269.3h0M64.6 279.4h0M114.0 260.3h0M82.8 267.3h0M71.5 275.2h0M88.1 273.6h0M83.0 273.2h0M100.5 261.2h0M88.1 263.3h0M85.8 267.4h0M79.0 181.2h0M85.9 272.3h0M74.4 278.1h0M91.8 276.0h0M83.6 262.4h0M116.9 260.3h0M88.2 277.5h0M99.0 256.7h0M105.7 260.2h0M63.3 274.7h0M110.7 244.4h0M84.4 275.9h0M73.9 266.1h0M105.5 277.5h0M68.4 267.6h0M86.7 265.4h0M105.8 253.5h0M85.5 240.9h0M55.4 280.0h0M40.9 274.4h0M119.2 281.3h0M85.4 274.0h0M90.1 270.5h0M102.0 275.7h0M98.9 273.2h0M97.6 274.0h0M96.7 262.4h0M72.1 265.3h0M95.9 279.6h0M85.5 279.6h0M112.5 236.5h0M103.9 278.8h0M66.3 278.5h0M89.4 277.5h0M103.4 234.7h0M103.4 214.2h0M88.3 259.7h0M101.6 257.1h0M99.8 256.2h0M101.8 271.6h0M103.6 270.7h0M112.6 235.7h0M97.7 272.1h0M100.0 271.6h0M94.4 276.5h0M98.1 269.8h0M83.3 264.7h0M81.0 279.0h0M99.5 239.1h0M115.4 181.4h0M82.0 265.1h0M116.2 273.5h0M97.3 276.5h0M87.9 267.3h0M96.5 281.7h0M108.5 193.0h0M90.1 278.5h0M89.3 280.8h0M98.2 255.2h0M100.9 273.8h0M81.0 270.9h0M73.6 278.6h0M87.2 278.4h0M73.8 260.2h0M76.8 277.2h0M78.3 276.3h0M98.1 267.9h0M103.5 277.2h0M70.6 275.2h0M98.0 270.7h0M90.2 276.7h0M80.4 278.4h0M81.5 257.5h0M87.1 281.1h0M113.2 273.7h0M80.1 275.2h0M64.9 259.2h0M120.7 276.8h0M82.1 268.6h0M98.5 278.4h0M73.9 261.4h0M76.6 262.3h0M97.6 272.2h0M85.8 270.4h0M67.4 264.4h0M95.0 275.0h0M81.2 270.4h0M89.0 270.0h0M100.6 281.8h0M101.6 265.5h0M89.2 272.9h0M109.3 273.5h0M90.7 263.5h0M86.5 268.0h0M77.8 277.6h0M75.2 264.2h0M97.2 264.5h0M99.5 274.1h0M113.8 265.0h0M116.8 279.8h0M97.4 259.7h0M84.0 277.8h0M79.9 263.9h0M110.8 280.4h0M80.8 271.9h0M118.7 181.2h0M66.7 277.0h0M90.6 278.3h0M84.5 272.9h0M100.9 267.8h0M85.0 275.2h0M90.7 280.4h0M98.5 274.3h0M91.8 280.2h0M82.0 280.9h0M85.9 266.1h0M129.6 266.2h0M81.6 250.8h0M81.9 268.0h0M83.2 280.7h0M91.9 275.5h0M114.0 237.3h0M70.8 276.4h0M107.7 276.4h0M72.8 223.2h0M81.4 281.5h0M98.2 281.7h0M73.9 189.6h0M69.5 251.9h0M91.8 281.2h0M76.8 263.9h0M84.3 268.6h0M80.6 278.7h0M81.0 281.1h0M92.5 278.2h0M78.6 253.4h0M87.7 275.8h0M83.5 264.3h0M117.8 275.7h0M48.2 236.1h0M123.0 181.2h0M100.5 277.6h0M99.3 245.1h0M136.5 260.9h0M81.8 275.4h0M78.0 269.7h0M86.7 280.4h0M73.5 280.3h0M64.8 281.1h0M59.0 273.7h0M108.7 275.7h0M92.2 274.0h0M98.6 277.5h0M87.9 251.0h0M70.7 281.0h0M97.6 280.4h0M89.2 281.0h0M111.4 279.2h0M91.7 273.8h0M60.0 192.5h0M83.6 277.1h0M82.2 271.8h0M78.3 280.6h0M87.0 279.0h0M88.3 261.0h0M97.7 253.1h0M144.9 244.7h0M108.1 264.1h0M80.9 259.0h0M107.3 236.0h0M107.4 264.0h0M105.0 272.9h0M102.5 281.2h0M99.3 263.2h0M69.9 268.8h0M91.8 278.4h0M72.0 279.2h0M90.0 278.9h0M94.8 280.5h0M95.6 281.0h0M89.7 280.8h0M73.4 269.1h0M86.6 268.1h0M104.7 279.6h0M91.4 269.5h0M117.5 280.1h0M97.0 263.9h0M43.6 267.0h0M91.7 274.3h0M79.3 250.1h0M100.2 240.0h0M61.3 255.3h0M95.6 267.3h0M74.9 278.8h0M100.1 280.2h0M85.0 259.4h0M110.6 277.0h0M83.4 258.3h0M89.2 266.0h0M86.2 229.2h0M103.3 273.0h0M87.4 271.4h0M91.9 275.3h0M66.5 253.4h0M91.7 279.2h0M101.9 256.6h0M103.9 272.8h0M99.0 239.6h0M57.5 183.4h0M68.0 228.8h0M130.6 280.6h0M89.0 274.4h0M74.1 258.8h0M87.8 272.1h0M84.8 259.0h0M78.2 251.8h0M83.0 276.7h0M110.7 278.8h0M69.8 275.7h0M88.4 277.4h0M97.9 266.8h0M98.4 278.2h0M61.6 242.6h0M99.9 276.7h0M101.9 281.5h0M81.6 276.3h0M86.5 276.2h0M88.5 251.6h0M90.7 266.8h0M73.4 268.0h0M78.6 277.0h0M73.7 281.1h0M68.6 261.0h0M86.7 273.2h0M135.0 255.9h0M104.0 202.2h0M126.3 266.5h0M118.3 277.3h0M89.6 280.9h0M65.0 279.4h0M112.3 260.1h0M99.6 280.5h0M77.3 271.1h0M96.7 261.4h0M88.9 276.4h0M95.6 269.0h0M104.6 240.6h0M102.3 281.6h0M128.3 266.9h0M98.2 279.6h0M102.4 281.1h0M57.7 250.4h0M116.5 269.4h0M58.6 281.8h0M121.1 273.9h0M79.3 273.6h0M102.2 262.2h0M88.1 258.7h0M111.9 222.3h0M80.6 244.8h0M117.8 275.7h0M84.9 244.5h0M68.9 279.7h0M76.7 281.3h0M73.5 269.8h0M101.8 270.7h0M131.3 212.1h0M88.4 274.1h0M95.9 278.4h0M65.5 260.4h0M110.2 181.3h0M65.1 256.2h0M96.1 276.9h0M103.5 279.9h0M109.8 266.7h0M100.5 267.9h0M62.8 266.9h0M89.8 277.0h0M115.2 181.4h0M107.1 254.0h0M115.7 265.7h0M80.4 281.2h0M102.9 280.8h0M93.1 281.5h0M68.4 277.1h0M104.6 280.8h0M95.1 279.4h0M83.1 280.8h0M90.4 271.4h0M109.9 281.3h0M99.8 251.5h0M97.8 270.6h0M83.8 276.2h0M97.3 272.4h0M99.3 258.8h0M82.8 274.8h0M136.1 250.1h0M88.0 279.3h0M83.4 243.2h0M88.3 257.9h0M82.7 278.1h0M102.1 241.4h0M85.6 279.6h0M103.7 268.0h0M96.4 279.4h0M115.7 271.7h0M102.3 237.6h0M105.9 266.9h0M129.7 278.4h0M98.9 265.4h0M83.8 251.8h0M72.1 238.9h0M74.8 199.6h0M99.3 267.4h0M89.0 253.5h0M82.7 269.2h0M86.2 261.1h0M85.9 266.3h0M112.8 271.8h0M105.7 267.2h0M101.1 275.1h0M80.6 225.5h0M100.7 230.6h0M92.4 281.0h0M73.5 271.1h0M86.8 281.2h0M78.4 277.7h0M96.3 275.5h0M94.7 280.9h0M71.8 260.2h0M90.3 266.3h0M73.0 278.5h0M86.2 260.8h0M121.2 238.6h0M64.1 275.8h0M80.5 277.6h0M87.4 259.6h0M96.6 281.7h0M82.9 231.3h0M104.2 263.4h0M111.0 249.8h0M85.5 248.0h0M100.9 279.3h0M87.3 271.4h0M90.0 259.3h0M41.0 277.7h0M100.3 278.5h0M108.0 234.0h0M90.2 272.1h0M83.6 243.6h0M102.0 281.2h0M47.3 270.0h0M117.8 235.9h0M117.5 281.6h0M106.6 261.6h0M73.1 264.5h0M134.7 260.0h0M101.6 276.6h0M74.5 266.8h0M100.3 272.5h0M109.6 277.2h0M100.3 244.2h0M111.7 254.0h0M94.5 279.5h0M74.2 266.7h0M106.4 232.5h0M103.3 276.7h0M108.7 280.9h0M98.0 276.7h0M90.3 275.9h0M67.5 268.7h0M106.5 251.6h0M81.7 278.4h0M88.0 255.2h0M101.3 237.2h0M94.2 281.8h0M59.1 275.1h0M107.4 278.0h0M115.7 263.6h0M127.2 263.4h0M83.5 270.2h0M66.1 277.7h0M78.1 225.8h0M138.7 277.4h0M87.9 263.7h0M66.5 270.2h0M87.2 265.4h0M110.4 269.6h0M123.6 256.7h0M86.7 279.4h0M114.4 260.9h0M95.2 280.7h0M99.8 263.6h0M95.7 276.3h0M99.7 245.2h0M119.0 274.7h0M90.8 280.6h0M72.1 280.6h0M82.0 270.6h0M82.1 181.3h0M89.8 263.4h0M90.1 274.5h0M73.7 257.5h0M77.7 250.5h0M88.6 269.8h0M106.0 192.5h0M90.8 270.5h0M97.2 281.1h0M71.4 261.1h0M106.5 265.1h0M87.2 251.0h0M76.0 269.5h0M89.1 263.7h0M49.1 272.0h0M86.7 267.9h0M82.4 265.6h0M112.9 281.4h0M79.5 255.6h0M96.8 275.1h0M115.9 256.6h0M81.6 268.9h0M74.0 273.0h0M83.4 239.4h0M90.7 268.5h0M126.3 236.0h0M112.2 265.6h0M86.2 266.0h0M101.4 279.3h0M110.8 281.1h0M95.9 266.8h0M103.7 251.6h0M100.1 249.4h0M95.8 272.6h0M96.2 268.2h0M102.8 253.4h0M121.0 250.6h0M75.9 269.0h0M95.6 276.9h0M123.3 278.0h0M111.7 260.8h0M99.8 263.4h0M120.4 277.9h0M75.2 267.4h0M87.1 263.7h0M110.1 268.8h0M52.7 265.9h0M96.0 277.5h0M88.7 249.1h0M81.2 276.9h0M90.2 277.8h0M118.3 266.6h0M87.3 261.9h0M74.6 221.9h0M100.0 266.8h0M104.9 275.2h0M96.9 275.5h0M98.0 277.4h0M83.7 276.9h0M96.4 281.6h0M77.9 277.6h0M87.4 269.4h0M88.9 271.2h0M101.0 277.8h0M106.3 251.3h0M98.7 271.5h0M101.0 262.7h0M101.3 253.7h0M95.3 279.1h0M95.5 275.1h0M86.5 250.7h0M86.7 272.6h0M90.7 272.5h0M98.5 244.8h0M87.3 277.6h0M86.5 276.7h0M79.1 277.7h0M89.4 262.0h0M102.7 240.8h0M113.5 279.8h0M89.7 269.5h0M85.0 280.9h0M109.2 266.4h0M68.0 277.6h0M75.5 265.9h0M69.5 263.3h0M118.3 277.6h0M104.1 262.1h0M99.2 272.9h0M100.3 279.1h0M97.7 278.4h0M100.8 275.7h0M101.7 273.3h0M95.7 274.9h0M58.6 279.5h0M112.3 277.6h0M87.8 268.2h0M95.8 274.4h0M63.4 269.5h0M73.2 219.1h0M95.2 281.5h0M85.6 239.4h0M96.1 272.5h0M84.5 262.5h0M104.5 280.6h0M50.2 253.3h0M88.3 280.4h0M83.1 242.3h0M87.5 268.3h0M100.8 271.8h0M75.1 256.5h0M106.2 256.3h0M115.9 276.3h0M105.0 267.3h0M65.4 181.4h0M100.4 249.9h0M73.9 221.4h0M71.4 278.8h0M86.3 281.0h0M82.6 273.0h0M86.6 277.8h0M109.2 257.4h0M112.1 219.4h0M89.1 281.0h0M95.7 264.6h0M106.6 239.0h0M117.6 280.6h0M70.6 209.0h0M87.1 275.9h0M81.1 247.0h0M80.0 240.8h0M102.1 263.1h0M61.3 280.1h0M98.4 273.7h0M72.6 274.1h0M81.4 265.3h0M82.9 261.3h0M62.0 181.1h0M66.6 261.2h0M107.7 246.2h0M91.1 274.8h0M112.4 263.2h0M87.7 270.4h0M89.7 275.1h0M110.3 263.8h0M120.5 245.9h0M80.8 279.6h0M96.4 280.8h0M72.7 279.9h0M97.5 267.7h0M91.1 270.2h0M98.2 269.6h0M109.5 247.9h0M79.6 275.8h0M88.5 273.0h0M138.3 279.2h0M91.3 270.7h0M82.4 265.7h0M105.3 258.3h0M109.1 182.5h0M81.8 274.7h0M75.0 269.5h0M87.9 251.9h0M122.5 181.3h0M94.6 281.5h0M82.4 275.8h0M114.7 246.1h0M100.9 277.5h0M94.6 279.4h0M87.8 281.2h0M109.7 251.8h0M96.3 276.9h0M66.9 238.9h0M65.5 281.3h0M130.9 272.0h0M42.2 281.2h0M105.4 266.3h0M89.6 262.7h0M75.4 214.7h0M98.5 276.1h0M76.8 281.2h0M71.7 266.6h0M83.3 255.6h0M114.3 281.5h0M104.7 277.1h0M75.5 204.5h0M104.0 255.3h0M92.8 279.8h0M91.7 279.3h0M96.8 273.1h0M80.6 245.6h0M87.3 250.1h0M108.6 279.5h0M91.3 280.0h0M78.3 227.4h0M99.2 263.6h0M74.1 269.4h0M104.3 256.6h0M62.9 276.9h0M96.3 280.4h0M85.3 280.7h0M88.0 253.5h0M99.7 279.4h0M97.0 267.3h0M84.1 261.7h0M88.7 279.1h0M100.6 255.6h0M87.4 275.9h0M91.1 274.6h0M139.8 264.8h0M111.5 279.9h0M84.8 226.5h0M95.7 269.1h0M75.7 278.5h0M111.1 280.2h0M84.1 280.9h0M91.4 279.3h0M106.4 250.8h0M76.7 270.6h0M86.8 278.7h0M88.8 254.5h0M62.8 181.2h0M104.2 272.5h0M83.5 280.2h0M85.6 235.2h0M86.4 239.4h0M76.3 276.6h0M84.0 264.7h0M73.6 208.0h0M82.4 277.3h0M89.2 276.0h0M82.6 250.7h0M107.0 280.2h0M104.7 263.3h0M87.2 258.2h0M88.5 260.2h0M118.1 238.8h0M88.9 259.0h0M97.2 270.1h0M97.6 259.5h0M98.2 272.3h0M83.0 263.1h0M94.8 275.0h0M96.7 279.0h0M86.3 281.6h0M89.8 273.3h0M66.4 217.0h0M113.4 267.4h0M95.3 275.0h0M39.2 270.8h0M91.8 279.5h0M84.1 250.9h0M78.1 274.7h0M95.1 276.2h0M81.9 226.3h0M77.1 262.1h0M102.5 281.4h0M99.8 249.1h0M84.1 261.1h0M98.1 248.5h0M66.0 277.4h0M91.1 268.8h0M106.0 278.5h0M67.9 227.0h0M75.4 261.6h0M76.9 264.0h0M97.6 269.0h0M85.4 233.3h0M96.6 278.5h0M73.4 274.6h0M87.4 280.6h0M79.1 277.6h0M53.9 281.4h0M104.0 272.3h0M144.8 274.0h0M103.7 257.1h0M92.9 281.0h0M100.6 237.2h0M101.5 273.2h0M107.5 270.7h0M105.9 269.3h0M107.2 253.8h0M91.1 281.1h0M82.0 276.4h0M111.9 255.9h0M88.4 278.9h0M98.9 251.9h0M103.7 272.5h0M84.2 267.8h0M45.3 184.2h0M86.5 281.7h0M95.5 270.2h0M83.1 254.8h0M139.5 267.0h0M89.1 257.8h0M88.8 281.2h0M98.6 261.2h0M86.3 258.9h0M67.0 260.8h0M91.9 277.7h0M80.0 248.6h0M99.0 253.9h0M88.0 263.7h0M113.8 260.0h0M57.6 279.6h0M62.6 278.0h0M65.3 278.7h0M90.3 268.8h0M102.9 236.2h0M76.8 280.3h0M97.9 267.3h0M86.1 268.5h0M70.9 266.6h0M107.5 272.3h0M105.3 265.8h0M129.6 257.2h0M90.3 278.1h0M99.8 256.3h0M72.9 274.9h0M85.2 273.9h0M84.8 272.5h0M113.2 268.2h0M85.8 281.4h0M58.2 269.4h0M124.7 273.9h0M87.8 256.8h0M84.8 248.9h0M72.5 278.5h0M111.3 181.3h0M105.7 266.7h0M104.5 234.2h0M104.5 279.5h0M85.3 278.1h0M82.9 279.3h0M98.0 271.4h0M88.1 260.9h0M105.3 272.0h0M81.1 277.8h0M81.6 247.0h0M120.4 272.9h0M87.6 280.1h0M86.5 270.9h0M100.2 258.2h0M84.0 273.1h0M109.1 277.1h0M105.7 278.2h0M126.2 181.3h0M72.4 181.1h0M88.8 266.8h0M94.0 281.5h0M101.7 224.2h0M80.9 280.1h0M76.3 268.0h0M101.3 250.2h0M80.4 277.0h0M83.0 271.6h0M85.4 267.0h0M87.8 274.9h0M82.5 246.8h0M104.5 280.8h0M92.8 279.8h0M97.4 277.3h0M103.6 278.0h0M58.0 258.7h0M74.7 270.9h0M86.2 272.1h0M88.1 257.5h0M81.9 277.5h0M85.8 279.0h0M87.5 249.1h0M87.3 261.1h0M66.0 230.6h0M86.1 252.8h0M99.3 280.6h0M104.1 281.0h0M111.7 274.3h0M84.0 260.1h0M89.6 265.4h0M90.3 279.4h0M83.0 247.6h0M86.1 268.9h0M79.2 245.8h0M66.8 259.8h0M106.6 246.8h0M92.5 278.6h0M98.5 262.2h0M102.9 264.2h0M68.5 280.4h0M80.8 274.0h0M102.0 264.0h0M86.2 278.5h0M90.7 269.8h0M64.5 278.5h0M102.7 247.8h0M107.6 258.8h0M87.3 251.8h0M106.2 242.0h0M70.2 268.9h0M55.6 253.8h0M112.0 274.0h0M91.5 270.9h0M88.2 271.3h0M95.8 265.2h0M102.1 273.8h0M86.1 268.2h0M87.3 281.1h0M78.4 279.3h0M90.9 266.2h0M98.6 264.5h0M103.1 281.6h0M115.3 276.8h0M89.2 275.7h0M86.7 279.9h0M123.6 258.4h0M62.6 270.1h0M100.2 254.3h0M76.2 267.4h0M97.4 276.8h0M84.7 240.3h0M100.2 280.0h0M117.3 262.6h0M88.5 272.5h0M83.2 276.7h0M114.8 181.4h0M85.7 280.9h0M87.1 275.9h0M81.8 245.9h0M110.6 278.9h0M86.5 278.9h0M98.2 259.7h0M80.9 277.1h0M99.9 273.5h0M137.3 256.1h0M74.7 276.7h0M98.4 276.9h0M77.2 273.6h0M72.8 281.6h0M80.9 263.8h0M99.4 271.1h0M118.0 236.7h0M81.8 278.3h0M89.2 280.2h0M75.2 243.0h0M81.9 261.7h0M89.8 277.5h0M90.7 277.4h0M67.7 275.5h0M107.5 270.2h0M105.9 271.6h0M78.2 273.1h0M100.7 252.4h0M92.2 276.0h0M79.1 271.8h0M118.7 214.2h0M78.0 272.4h0M83.7 244.1h0M121.0 281.5h0M75.9 263.7h0M100.0 279.2h0M65.0 229.1h0M99.1 280.2h0M105.1 276.9h0M82.7 266.7h0M83.6 264.5h0M111.4 271.4h0M91.0 277.3h0M105.6 272.8h0M72.4 265.6h0M82.7 236.2h0M72.9 279.7h0M90.3 280.4h0M98.3 272.6h0M68.9 247.9h0M108.1 236.0h0M119.2 256.7h0M100.2 281.3h0M77.1 265.5h0M89.3 275.9h0M108.8 269.9h0M109.6 228.6h0M82.0 269.9h0M97.1 276.7h0M105.9 279.6h0M83.5 261.7h0M96.7 279.9h0M114.1 255.6h0M85.3 259.0h0M77.5 264.6h0M84.8 270.2h0M105.7 280.8h0M99.5 280.9h0M116.3 280.1h0M104.0 259.1h0M87.6 251.1h0M78.9 222.9h0M81.5 280.1h0M107.5 280.8h0M97.2 271.4h0M95.1 277.4h0M102.2 280.9h0M88.6 271.4h0M90.8 271.1h0M88.1 278.9h0M101.7 254.2h0M106.9 281.2h0M114.2 275.6h0M90.3 274.2h0M80.7 265.7h0M65.2 248.8h0M114.9 257.8h0M62.1 259.0h0M78.1 267.2h0M99.8 245.5h0M64.0 181.2h0M114.0 242.5h0M99.6 264.5h0M53.4 278.7h0M88.2 212.7h0M91.9 276.0h0M89.1 274.6h0M103.6 278.6h0M86.1 273.8h0M89.7 260.0h0M96.5 274.1h0M85.9 264.7h0M71.8 233.8h0M108.6 274.8h0M86.8 265.0h0M98.4 279.7h0M107.1 274.7h0M113.2 219.4h0M99.8 256.9h0M99.2 243.5h0M71.8 259.4h0M113.0 277.7h0M100.4 259.4h0M109.3 273.6h0M98.6 274.6h0M85.9 249.7h0M103.6 264.5h0M95.6 272.7h0M97.3 276.8h0M77.6 243.7h0M98.4 273.9h0M105.8 278.0h0M91.7 275.5h0M85.2 267.9h0M87.2 253.0h0M91.6 280.7h0M123.8 270.7h0M100.4 242.6h0M91.9 278.3h0M96.0 277.3h0M126.9 181.3h0M44.5 226.9h0M78.3 274.3h0M87.6 279.7h0M91.2 277.2h0M76.7 281.5h0M78.2 277.1h0M110.7 272.8h0M70.6 203.5h0M89.9 269.8h0M106.7 260.9h0M58.0 277.2h0M114.3 267.2h0M108.0 268.3h0M108.4 212.7h0M88.6 265.6h0M96.5 274.3h0M84.1 279.6h0M80.9 280.2h0M105.0 235.4h0M119.2 271.4h0M85.1 277.0h0M87.7 261.8h0M89.8 257.7h0M114.5 258.9h0M73.6 181.3h0M61.3 259.9h0M95.9 277.3h0M96.1 281.2h0M92.4 280.2h0M95.8 281.7h0M91.2 275.5h0M96.0 274.9h0M71.1 253.2h0M133.5 242.3h0M116.8 263.9h0M73.2 274.0h0M74.4 257.0h0M78.0 278.4h0M75.1 266.1h0M86.0 259.6h0M88.8 275.2h0M92.1 276.1h0M80.9 273.4h0M76.3 280.6h0M75.5 277.8h0M129.9 233.7h0M77.3 181.3h0M77.7 275.1h0M99.9 258.9h0M74.2 181.2h0M80.7 250.0h0M116.3 234.0h0M89.0 279.4h0M75.2 271.4h0M83.7 254.0h0M69.0 276.1h0M83.9 280.5h0M99.9 281.3h0M107.4 211.8h0M84.5 275.3h0M111.8 269.9h0M87.0 272.2h0M101.2 279.3h0M70.1 262.9h0M80.6 274.5h0M67.8 268.6h0M123.0 275.7h0M99.1 270.0h0M101.3 278.9h0M103.6 236.1h0M70.7 237.7h0M89.6 262.1h0M103.4 281.2h0M101.8 275.9h0M76.1 267.2h0M91.7 281.6h0M85.9 246.3h0M118.4 253.5h0M82.3 244.0h0M101.5 273.5h0M104.5 258.5h0M90.9 278.2h0M71.2 266.8h0M84.3 274.7h0M49.1 223.3h0M105.1 212.4h0M74.2 246.4h0M73.5 260.2h0M80.7 269.2h0M87.6 254.1h0M113.1 252.5h0M89.7 280.0h0M87.7 270.7h0M88.9 279.7h0M85.0 278.7h0M80.5 278.1h0M88.0 272.6h0M111.9 192.9h0M113.5 264.0h0M70.7 274.1h0M104.1 257.1h0M103.2 281.1h0M59.4 276.1h0M81.0 261.9h0M78.9 276.1h0M87.7 277.1h0M91.1 277.0h0M88.2 277.8h0M69.3 262.0h0M99.7 280.7h0M129.3 181.1h0M112.2 227.8h0M98.3 244.9h0M99.9 268.1h0M77.4 270.6h0M98.4 278.0h0M97.6 274.3h0M91.3 275.4h0M119.2 280.9h0M102.7 280.4h0M88.0 281.1h0M101.8 275.6h0M89.0 278.3h0M98.5 273.3h0M102.3 280.6h0M109.3 260.9h0M109.3 277.9h0M86.1 259.4h0M88.8 274.9h0M114.3 237.5h0M99.3 257.8h0M108.6 268.5h0M79.5 224.1h0M92.3 276.9h0M99.8 230.3h0M103.9 272.6h0M103.2 223.9h0M88.9 273.8h0M91.1 276.5h0M92.4 279.4h0M89.8 280.3h0M91.5 277.2h0M83.3 277.4h0M80.8 271.3h0M96.6 278.9h0M111.5 274.1h0M112.8 274.6h0M80.2 280.5h0M100.9 274.2h0M91.3 278.4h0M108.9 187.3h0M77.0 271.3h0M74.2 265.1h0M80.2 276.2h0M102.8 262.1h0M131.6 274.4h0M89.0 257.1h0M102.6 268.3h0M79.4 259.7h0M82.8 263.4h0M77.7 259.2h0M115.4 274.3h0M90.4 280.2h0M101.0 277.4h0M97.9 260.9h0M57.2 262.1h0M95.0 279.4h0M97.4 280.2h0M87.4 280.0h0M80.7 260.7h0M85.0 276.7h0M99.5 280.1h0M109.5 275.6h0M79.4 258.6h0M134.6 247.2h0M104.6 275.2h0M77.4 254.3h0M80.9 264.7h0M98.4 277.6h0M104.3 280.2h0M108.3 212.5h0M99.9 281.4h0M102.1 240.5h0M106.3 260.0h0M101.3 262.0h0M99.2 278.8h0M116.1 281.2h0M92.6 280.7h0M98.2 273.8h0M76.0 264.5h0M103.3 253.1h0M83.8 268.6h0M84.3 275.9h0M45.5 241.7h0M89.5 280.7h0M110.4 277.6h0M91.7 271.5h0M86.9 268.3h0M83.7 274.9h0M105.1 280.7h0M64.1 245.1h0M98.8 281.8h0M88.7 267.6h0M88.6 271.6h0M85.6 249.3h0M100.3 278.8h0M98.0 277.2h0M78.1 273.4h0M90.7 268.7h0M82.0 270.2h0M104.7 181.1h0M74.6 268.3h0M80.7 212.5h0M98.2 259.0h0M103.1 280.7h0M79.0 273.0h0M125.5 254.0h0M74.8 262.7h0M100.6 273.0h0M60.6 272.5h0M74.5 249.9h0M92.5 281.3h0M76.3 276.0h0M107.7 221.0h0M63.2 244.6h0M118.0 278.6h0M104.7 260.1h0M76.6 277.7h0M90.7 269.0h0M90.1 261.5h0M106.2 278.8h0M91.6 274.6h0M96.0 275.0h0M99.8 275.8h0M83.7 278.4h0M58.4 213.3h0M97.8 277.0h0M88.3 257.7h0M98.6 272.1h0M99.4 271.7h0M84.3 224.8h0M79.7 277.9h0M108.3 234.1h0M126.6 221.7h0M98.5 268.9h0M87.2 278.9h0M110.4 217.8h0M98.2 278.8h0M74.8 242.6h0M76.9 260.2h0M98.7 263.9h0M83.4 246.5h0M118.8 276.3h0M99.2 271.1h0M84.7 254.3h0M77.4 274.9h0M83.1 265.0h0M77.4 278.7h0M98.1 277.6h0M115.8 277.8h0M94.5 277.5h0M88.8 273.9h0M75.6 240.3h0M94.0 280.1h0M78.0 269.6h0M113.2 221.9h0M104.0 280.0h0M83.3 278.8h0M74.4 278.0h0M85.1 248.3h0M124.3 271.5h0M77.1 245.0h0M91.5 277.0h0M75.1 264.0h0M85.7 279.7h0M131.9 181.3h0M99.2 238.1h0M65.9 267.6h0M99.0 269.7h0M99.0 268.1h0M116.2 246.9h0M108.3 216.8h0M77.8 280.7h0M85.4 281.6h0M95.7 279.9h0M96.3 271.9h0M60.5 254.0h0M88.9 265.6h0M106.7 268.5h0M105.9 259.6h0M112.2 279.1h0M95.2 281.4h0M101.2 255.6h0M59.6 273.0h0M119.6 253.2h0M87.3 269.7h0M108.6 215.5h0M97.6 270.0h0M81.5 233.8h0M83.7 273.9h0M84.0 279.4h0M100.1 275.6h0M107.2 280.8h0M77.8 280.6h0M85.6 243.2h0M81.6 278.0h0M64.6 273.9h0M87.2 250.9h0M98.4 262.5h0M102.6 277.6h0M84.9 279.3h0M77.0 279.5h0M98.7 255.6h0M109.1 281.4h0M103.4 269.0h0M90.5 268.4h0M90.0 277.3h0M102.8 271.6h0M81.5 264.4h0M98.5 251.8h0M97.9 272.3h0M108.1 259.3h0M86.5 271.2h0M86.5 251.3h0M91.6 275.2h0M84.3 276.3h0M78.2 187.6h0M74.6 218.3h0M99.5 264.4h0M77.5 224.3h0M113.4 241.8h0M77.0 278.5h0M70.6 181.4h0M105.2 249.6h0M100.6 277.4h0M114.8 239.7h0M112.3 234.0h0M73.3 271.5h0M104.0 278.9h0M102.1 254.5h0M94.5 281.5h0M114.1 275.6h0M101.1 251.0h0M87.4 276.8h0M117.9 233.7h0M94.8 275.6h0M104.7 267.2h0M89.6 264.1h0M89.1 275.8h0M48.5 280.8h0M85.0 267.7h0M112.8 270.7h0M73.9 276.2h0M77.1 260.6h0M86.0 279.5h0M102.9 219.5h0M97.0 279.7h0M90.5 278.9h0M82.4 277.5h0M82.2 274.5h0M86.6 263.4h0M86.9 278.2h0M85.2 275.6h0M104.6 265.8h0M83.5 261.0h0M98.7 280.8h0M84.5 247.8h0M88.6 266.2h0M70.8 272.1h0M108.3 274.4h0M91.2 270.1h0M110.1 280.5h0M74.9 258.2h0M83.5 271.6h0M99.6 239.2h0M102.8 279.6h0M101.5 279.7h0M97.8 280.0h0M86.2 247.3h0M101.2 279.4h0M112.0 194.7h0M88.6 256.1h0M81.0 272.1h0M100.8 266.3h0M81.2 264.5h0M98.3 279.5h0M103.3 273.3h0M97.2 274.4h0M75.9 262.3h0M104.5 281.7h0M68.3 271.8h0M85.7 264.9h0M78.3 263.2h0M79.8 181.1h0M98.7 278.1h0M87.1 268.6h0M97.5 259.8h0M86.7 277.5h0M90.5 276.7h0M80.0 277.0h0M101.9 267.1h0M82.5 237.0h0M74.6 229.6h0M88.8 271.9h0M95.5 276.4h0M71.7 254.3h0M98.0 277.8h0M72.9 248.6h0M80.1 262.1h0M64.5 243.4h0M99.9 253.8h0M103.7 275.9h0M98.1 279.7h0M95.2 278.0h0M84.2 271.3h0M125.7 277.0h0M64.3 248.5h0M79.1 277.6h0M96.2 275.0h0M105.2 250.5h0M87.0 261.5h0M81.0 276.6h0M122.8 255.9h0M98.2 278.1h0M91.8 272.7h0M118.5 280.1h0M88.1 265.9h0M67.8 274.1h0M102.9 281.5h0M123.5 278.1h0M84.7 221.3h0M99.3 243.3h0M110.5 249.8h0M115.2 280.5h0M106.7 264.7h0M86.9 270.2h0M107.5 254.1h0M128.6 276.0h0M103.2 251.5h0M86.5 239.7h0M50.3 260.8h0M106.3 260.5h0M103.7 276.4h0M98.3 270.0h0M94.7 279.4h0M80.6 232.0h0M123.1 276.7h0M112.0 277.9h0M115.9 245.4h0M97.1 281.2h0M104.7 181.3h0M104.9 262.8h0M76.3 275.6h0M109.8 273.7h0M78.3 236.9h0M77.1 262.8h0M102.0 281.6h0M75.5 253.6h0M84.2 222.0h0M91.0 278.4h0M98.1 278.3h0M112.2 234.7h0M99.9 248.2h0M92.5 276.6h0M57.6 241.5h0M74.7 196.1h0M59.8 260.0h0M99.7 251.5h0M116.1 280.4h0M86.0 280.1h0M121.7 277.4h0M104.0 196.9h0M68.8 275.6h0M112.0 240.6h0M86.9 273.9h0M85.3 275.1h0M84.5 256.7h0M120.6 277.0h0M101.6 281.7h0M78.6 276.9h0M79.8 259.0h0M81.0 268.6h0M78.3 272.1h0M85.4 270.2h0M102.6 271.7h0M86.6 255.6h0M91.3 278.0h0M105.2 280.6h0M88.5 252.4h0M75.4 261.3h0M110.7 266.7h0M98.8 253.8h0M100.4 261.6h0M71.9 277.3h0M71.5 243.5h0M98.0 277.4h0M118.7 262.8h0M60.7 280.5h0M98.1 268.4h0M91.3 268.4h0M97.9 279.9h0M72.1 267.4h0M56.7 253.1h0M82.2 243.0h0M69.8 246.3h0M100.7 277.4h0M138.8 278.8h0M102.4 263.5h0M90.6 273.4h0M99.0 184.0h0M75.3 246.7h0M98.6 280.4h0M74.5 241.6h0M85.9 281.7h0M100.7 259.5h0M81.9 263.0h0M73.5 278.6h0M103.0 264.1h0M83.3 278.0h0M101.9 226.0h0M87.1 276.3h0M88.7 259.1h0M101.5 271.5h0M97.3 281.6h0M96.1 268.8h0M86.2 264.3h0M80.6 258.8h0M102.4 266.0h0M99.7 277.8h0M80.5 259.7h0M96.8 277.2h0M100.0 253.9h0M108.1 245.0h0M82.6 276.3h0M90.3 275.5h0M105.3 263.0h0M102.1 260.2h0M100.2 280.9h0M61.4 278.1h0M100.7 258.5h0M114.9 233.8h0M107.0 275.6h0M77.0 274.9h0M126.2 281.3h0M88.1 267.2h0M116.0 240.5h0M123.3 268.4h0M91.4 278.2h0M106.2 278.9h0M81.7 276.4h0M112.1 278.3h0M73.6 264.2h0M87.8 250.9h0M45.8 275.4h0M88.0 278.7h0M106.4 269.8h0M89.5 274.2h0M96.6 273.2h0M91.2 280.0h0M112.3 279.2h0M91.0 273.4h0M70.3 238.7h0M100.4 256.7h0M99.2 278.1h0M97.7 280.1h0M77.5 273.8h0M95.0 278.4h0M71.1 253.8h0M64.3 273.8h0M55.3 257.2h0M101.7 278.2h0M58.0 234.5h0M102.7 259.9h0M99.2 268.5h0M90.6 265.3h0M97.6 270.6h0M86.5 275.7h0M98.3 259.7h0M97.5 262.9h0M78.4 246.2h0M85.9 270.0h0M81.6 276.1h0M98.6 242.1h0M95.9 270.7h0M91.6 270.3h0M104.9 209.4h0M74.3 254.2h0M96.9 262.1h0M123.8 259.7h0M92.8 281.6h0M79.4 271.1h0M73.7 259.5h0M92.0 273.4h0M95.2 280.0h0M83.5 264.1h0M120.7 278.1h0M89.1 260.9h0M87.8 268.1h0M98.6 276.4h0M99.3 271.0h0M69.4 277.9h0M88.3 280.4h0M92.2 276.8h0M121.8 275.4h0M130.7 201.7h0M108.6 254.9h0M89.4 252.7h0M102.0 212.4h0M99.8 281.4h0M79.7 276.6h0M87.8 280.7h0M75.1 280.6h0M56.8 274.8h0M110.5 272.6h0M82.2 256.3h0M87.8 279.7h0M85.1 271.1h0M78.5 254.3h0M147.7 279.1h0M76.6 271.1h0M97.4 256.6h0M88.4 249.1h0M75.2 249.0h0M114.8 271.9h0M91.4 272.8h0M105.6 248.2h0M83.8 264.7h0M91.6 275.6h0M90.5 280.0h0M84.5 278.8h0M99.7 259.8h0M80.6 243.9h0M86.8 274.9h0M79.0 274.6h0M73.5 272.7h0M108.6 272.4h0M105.0 271.4h0M91.4 278.3h0M81.6 181.3h0M80.4 272.6h0M104.7 235.9h0M96.4 281.6h0M99.4 279.0h0M99.6 275.7h0M105.0 277.1h0M88.0 272.1h0M88.1 261.4h0M89.9 278.0h0M119.5 200.6h0M76.8 275.0h0M99.6 267.4h0M91.7 272.0h0M89.6 281.6h0M108.1 223.7h0M102.3 218.2h0M100.4 228.3h0M80.6 242.9h0M80.8 274.0h0M88.5 258.1h0M82.4 265.3h0M98.2 281.6h0M92.8 277.2h0M92.2 273.4h0M79.5 272.5h0M96.8 281.6h0M82.5 272.9h0M82.3 269.6h0M86.6 261.9h0M86.3 277.6h0M122.8 253.5h0M72.5 264.7h0M95.7 276.7h0M106.1 267.0h0M94.3 281.3h0M121.7 256.6h0M82.1 278.2h0M95.6 279.9h0M91.8 279.1h0M97.6 272.9h0M105.9 280.0h0M100.3 267.4h0M114.6 232.0h0M121.5 181.3h0M97.1 275.7h0M100.2 268.2h0M102.9 264.4h0M58.2 181.1h0M98.5 276.7h0M69.2 275.5h0M91.4 273.6h0M89.5 264.0h0M99.1 273.8h0M53.7 273.7h0M118.4 279.9h0M112.8 278.0h0M106.9 234.4h0M103.7 261.3h0M85.5 280.6h0M100.9 266.1h0M100.6 240.2h0M125.0 222.7h0M89.4 274.1h0M111.8 277.8h0M117.6 266.0h0M87.0 281.1h0M92.1 275.3h0M87.8 254.1h0M106.4 275.8h0M110.2 263.5h0M79.4 281.0h0M75.4 270.6h0M87.1 280.5h0M76.7 265.3h0M72.5 274.8h0M90.2 280.3h0M111.5 281.4h0M85.9 259.3h0M106.8 258.1h0M91.0 280.6h0M95.2 278.4h0M106.4 198.4h0M78.0 276.2h0M78.9 218.9h0M97.1 257.9h0M84.0 280.8h0M83.4 277.8h0M97.1 262.1h0M142.3 269.4h0M96.2 267.6h0M90.7 273.5h0M112.5 275.5h0M110.1 264.5h0M95.7 278.9h0M88.8 280.9h0M91.7 276.7h0M99.7 271.2h0M128.3 276.4h0M97.3 271.5h0M129.6 208.6h0M78.4 270.6h0M102.3 278.5h0M96.4 281.4h0M108.5 279.0h0M113.9 248.6h0M109.0 202.3h0M112.8 281.3h0M80.8 279.7h0M95.8 278.0h0M83.5 238.2h0M85.0 266.8h0M98.6 277.6h0M98.6 250.9h0M96.9 277.8h0M100.0 256.3h0M111.1 275.3h0M95.9 269.0h0M108.3 272.1h0M86.3 274.2h0M96.8 277.8h0M123.3 246.2h0M72.4 276.8h0M93.0 280.3h0M116.0 255.0h0M79.0 267.3h0M111.5 242.1h0M99.6 244.9h0M84.8 236.6h0M125.5 258.3h0M118.1 270.0h0M83.7 269.3h0M89.7 270.8h0M95.2 278.3h0M80.0 259.3h0M103.8 253.0h0M106.4 279.9h0M98.6 244.7h0M100.5 255.0h0M69.6 280.5h0M88.3 273.5h0M116.4 279.7h0M100.1 248.4h0M80.4 281.7h0M117.5 271.9h0M110.0 274.2h0M91.5 281.5h0M113.6 269.6h0M81.2 264.7h0M101.9 261.3h0M91.1 272.5h0M99.9 255.8h0M115.6 252.0h0M99.1 260.2h0M88.7 266.2h0M108.9 263.0h0M97.4 277.7h0M115.0 243.0h0M69.6 281.4h0M97.1 254.8h0M78.4 198.3h0M98.2 280.6h0M100.2 265.5h0M70.0 272.7h0M65.1 253.1h0M115.5 275.6h0M81.0 258.5h0M91.8 281.3h0M92.7 277.5h0M86.7 271.0h0M85.3 267.3h0M109.5 243.7h0M81.5 181.3h0M89.8 271.9h0M87.7 247.6h0M106.4 265.7h0M102.8 262.2h0M115.7 281.0h0M100.9 277.1h0M111.0 279.3h0M87.1 261.5h0M76.0 248.0h0M88.0 245.4h0M83.8 272.8h0M75.1 280.7h0M77.1 276.6h0M49.4 280.1h0M113.3 248.0h0M111.0 245.3h0M99.8 278.7h0M116.2 272.4h0M97.6 277.0h0M73.7 276.7h0M115.5 267.8h0M96.8 266.0h0M103.6 272.9h0M67.0 266.1h0M100.3 266.6h0M91.6 278.4h0M74.8 258.3h0M89.4 281.3h0M113.4 281.6h0M104.6 271.9h0M90.4 281.6h0M70.0 250.4h0M71.4 194.8h0M86.1 264.1h0M86.0 266.6h0M90.5 270.2h0M97.0 279.1h0M102.6 220.3h0M84.0 259.3h0M78.6 239.7h0M117.3 263.0h0M98.1 249.0h0M79.2 266.2h0M101.8 281.2h0M130.3 264.9h0M63.8 264.4h0M102.0 264.0h0M108.0 278.1h0M87.9 268.7h0M112.3 280.5h0M84.8 181.3h0M87.2 258.2h0M86.7 263.6h0M103.9 271.9h0M88.7 277.7h0M102.4 248.8h0M101.8 257.0h0M68.2 281.4h0M104.2 239.0h0M104.6 267.4h0M70.6 265.0h0M98.1 258.2h0M78.4 266.5h0M76.8 266.1h0M117.5 279.6h0M101.2 254.3h0M121.8 181.1h0M114.9 273.2h0M82.5 270.5h0M102.4 262.0h0M78.7 250.0h0M97.4 266.6h0M74.5 209.8h0M103.7 245.8h0M99.9 279.2h0M113.7 277.3h0M48.8 270.2h0M96.4 281.0h0M85.2 270.7h0M104.3 263.8h0M75.2 241.3h0M101.6 272.5h0M79.9 249.2h0M68.5 249.5h0M74.4 249.0h0M99.0 277.6h0M103.8 280.5h0M98.8 241.5h0M89.2 266.5h0M89.8 272.0h0M113.2 274.4h0M66.2 268.9h0M85.3 262.9h0M73.3 277.0h0M102.9 254.1h0M98.4 276.5h0M89.6 258.1h0M106.3 280.6h0M108.2 260.9h0M86.8 280.7h0M82.6 265.4h0M91.8 270.6h0M82.3 277.1h0M85.7 278.2h0M73.7 235.3h0M78.1 277.2h0M108.7 239.1h0M85.6 273.0h0M87.4 273.2h0M73.7 259.9h0M99.1 275.6h0M82.6 256.4h0M83.8 252.4h0M54.9 279.2h0M117.4 248.8h0M105.6 279.6h0M97.4 251.0h0M97.4 278.5h0M99.8 268.1h0M79.6 268.9h0M67.9 209.9h0M81.9 257.4h0M119.2 269.6h0M136.1 272.9h0M91.9 276.6h0M92.8 280.0h0M108.7 267.0h0M84.7 223.9h0M110.4 263.4h0M63.0 277.6h0M82.7 219.9h0M106.6 240.9h0M123.9 274.1h0M89.6 269.9h0M108.6 274.4h0M103.8 199.5h0M102.1 239.1h0M139.8 279.8h0M90.9 273.0h0M100.2 271.3h0M113.3 256.7h0M85.8 272.8h0M98.3 255.6h0M82.8 236.7h0M116.6 205.5h0M86.5 279.9h0M91.1 269.5h0M75.2 279.2h0M76.6 260.0h0M89.5 261.1h0M76.6 279.4h0M84.4 273.4h0M90.2 271.7h0M91.0 280.5h0M84.2 266.1h0M98.5 244.9h0M66.7 241.5h0M115.5 273.2h0M106.6 243.7h0M83.0 259.2h0M111.6 238.8h0M120.3 267.4h0M91.0 270.3h0M90.5 273.9h0M100.6 278.1h0M96.9 277.3h0M103.1 271.3h0M43.1 269.7h0M85.5 260.3h0M104.5 269.0h0M79.4 280.1h0M102.0 280.0h0M78.7 236.5h0M111.2 275.6h0M89.0 258.8h0M79.1 278.5h0M102.0 265.0h0M91.7 276.9h0M120.6 270.6h0M73.3 272.9h0M80.3 191.5h0M98.7 281.8h0M107.7 264.4h0M90.8 281.3h0M119.5 276.5h0M111.8 268.1h0M64.9 275.4h0M87.9 277.8h0M89.5 259.5h0M106.6 279.4h0M83.7 281.2h0M81.7 245.3h0M89.2 260.5h0M99.6 243.3h0M89.6 256.0h0M95.6 281.6h0M96.4 281.1h0M99.7 274.0h0M79.5 252.8h0M72.3 202.9h0M89.6 269.8h0M104.7 268.9h0M96.2 277.6h0M101.5 229.9h0M90.7 266.6h0M90.2 264.0h0M70.2 281.4h0M98.4 281.5h0M71.7 244.2h0M105.0 279.6h0M99.6 275.7h0M83.2 277.4h0M82.8 274.6h0M65.1 281.5h0M129.2 258.9h0M111.8 261.0h0M98.8 275.8h0M95.9 275.3h0M79.5 270.7h0M86.2 251.6h0M101.3 261.5h0M97.9 280.1h0M98.1 267.6h0M88.0 247.5h0M89.9 272.7h0M119.1 279.5h0M82.7 211.7h0M81.8 252.4h0M79.7 259.2h0M99.8 279.0h0M115.0 263.2h0M76.8 236.5h0M98.9 280.7h0M106.4 263.6h0M94.8 278.6h0M79.5 251.1h0M106.5 254.5h0M88.9 267.4h0M98.5 243.3h0M105.2 281.1h0M88.6 268.7h0M93.9 281.8h0M118.1 224.5h0M80.1 279.9h0M95.8 272.3h0M73.7 267.2h0M84.7 280.6h0M84.1 274.1h0M83.6 258.0h0M91.0 281.5h0M85.1 257.8h0M81.5 270.7h0M83.2 231.8h0M91.0 276.9h0M94.5 280.7h0M100.3 263.4h0M89.5 279.9h0M75.9 245.3h0M87.2 272.3h0M86.8 276.4h0M106.3 277.0h0M72.9 269.7h0M89.7 273.2h0M70.7 269.0h0M62.2 181.3h0M82.4 274.9h0M80.1 268.4h0M86.1 270.5h0M91.0 268.9h0M90.1 276.2h0M134.6 271.1h0M91.6 280.8h0M117.0 181.2h0M95.4 277.8h0M94.6 276.8h0M108.6 220.1h0M121.0 265.5h0M84.3 279.6h0M89.6 278.7h0M87.4 253.8h0M85.0 274.0h0M82.4 237.7h0M81.3 272.0h0M87.1 275.1h0M73.6 267.7h0M90.9 281.7h0M85.7 232.4h0M95.8 272.3h0M76.8 270.7h0M90.0 268.6h0M112.5 195.1h0M54.0 274.9h0M87.5 270.1h0M99.6 266.8h0M91.8 276.2h0M70.6 191.8h0M101.5 280.8h0M77.0 244.3h0M86.6 260.9h0M90.0 281.4h0M66.9 274.0h0M109.3 206.0h0M108.8 270.1h0M121.9 279.6h0M105.6 278.7h0M96.6 273.1h0M141.3 258.1h0M99.9 274.5h0M88.0 248.9h0M98.5 269.4h0M119.4 237.9h0M76.2 271.8h0M85.8 269.0h0M122.0 230.1h0M78.9 269.9h0M75.3 278.0h0M96.8 272.6h0M108.3 280.1h0M124.2 281.2h0M92.1 279.3h0M75.3 231.3h0M92.8 278.5h0M92.2 278.8h0M75.2 206.4h0M69.3 269.0h0M42.6 264.6h0M98.1 281.6h0M91.0 276.0h0M88.1 269.8h0M91.1 278.6h0M128.3 248.7h0M102.3 230.6h0M91.4 277.3h0M100.6 235.3h0M100.5 273.5h0M90.8 270.3h0M81.0 245.8h0M110.8 244.9h0M101.0 254.8h0M105.3 252.9h0M80.6 277.5h0M76.9 250.7h0M88.5 259.0h0M103.0 276.3h0M95.9 279.0h0M88.4 245.7h0M95.7 268.3h0M110.5 273.1h0M95.6 273.9h0M104.9 277.9h0M46.8 213.8h0M96.1 277.2h0M101.1 257.6h0M111.7 274.8h0M84.1 265.4h0M103.8 210.5h0M74.1 277.1h0M111.6 273.5h0M103.8 271.6h0M75.2 280.4h0M87.6 258.8h0M104.9 274.9h0M90.8 281.5h0M89.4 266.0h0M91.3 279.2h0M109.3 271.4h0M87.4 254.6h0M96.6 273.7h0M97.6 267.6h0M106.3 280.0h0M120.9 281.8h0M100.4 276.4h0M79.3 281.3h0M114.4 194.2h0M74.9 267.3h0M92.7 280.8h0M69.5 238.3h0M91.6 271.1h0M102.7 212.9h0M88.5 279.5h0M98.4 279.3h0M99.0 243.5h0M118.3 260.2h0M76.8 216.6h0M87.1 242.2h0M125.1 279.3h0M79.2 267.3h0M86.1 243.0h0M98.5 262.4h0M69.1 278.0h0M91.7 281.3h0M100.4 268.2h0M103.9 264.5h0M80.2 273.3h0M85.0 267.8h0M82.5 232.9h0M98.3 278.2h0M104.3 273.3h0M95.8 280.2h0M98.8 251.6h0M81.6 268.1h0M118.7 267.4h0M79.0 257.5h0M104.5 281.6h0M96.4 280.5h0M101.4 263.2h0M119.7 254.2h0M85.1 264.7h0M78.3 254.2h0M110.5 256.4h0M92.0 276.4h0M103.6 278.3h0M88.4 246.2h0M117.6 249.8h0M111.9 279.3h0M73.1 247.7h0M92.1 280.4h0M143.5 254.6h0M86.4 275.2h0M108.6 269.5h0M86.0 277.1h0M120.5 278.8h0M87.8 259.8h0M72.3 273.1h0M84.9 273.9h0M82.8 238.4h0M83.4 274.5h0M59.6 274.9h0M91.0 277.7h0M88.3 280.1h0M141.9 275.0h0M95.6 269.3h0M108.8 237.1h0M96.9 270.8h0M91.5 277.1h0M98.4 280.0h0M104.2 279.7h0M104.6 276.2h0M88.5 278.7h0M78.9 255.0h0M118.4 272.2h0M106.0 195.7h0M85.3 280.3h0M77.3 246.8h0M42.2 227.6h0M90.0 261.2h0M104.4 181.2h0M112.7 264.4h0M100.8 280.0h0M94.6 278.1h0M87.6 280.2h0M48.0 245.3h0M84.6 265.5h0M88.3 252.6h0M53.4 248.9h0M87.4 269.4h0M107.8 270.2h0M85.2 269.0h0M85.4 252.6h0M103.6 244.1h0M84.5 274.9h0M90.1 276.6h0M119.4 275.9h0M113.1 274.4h0M107.1 275.8h0M83.0 264.3h0M89.2 270.2h0M106.5 276.6h0M121.2 181.2h0M87.7 260.6h0M59.2 276.0h0M90.2 281.6h0M109.1 270.6h0M98.9 274.6h0M99.4 269.8h0M83.1 259.2h0M113.0 251.1h0M102.6 280.5h0M91.9 275.4h0M82.8 266.3h0M96.5 264.0h0M73.8 279.8h0M100.6 258.5h0M88.1 272.5h0M101.8 272.0h0M108.0 270.3h0M75.1 240.5h0M89.9 281.1h0M46.5 253.1h0M79.6 239.4h0M74.2 272.7h0M83.7 250.1h0M100.0 278.5h0M70.2 253.3h0M112.0 273.6h0M91.1 271.2h0M95.2 281.0h0M103.7 204.4h0M101.9 244.8h0M89.0 280.8h0M64.2 267.7h0M98.6 274.6h0M101.5 270.8h0M81.6 274.2h0M101.7 269.1h0M95.6 280.5h0M79.5 275.7h0M120.0 270.4h0M105.6 281.5h0M45.6 226.8h0M74.8 278.9h0M84.5 275.8h0M85.9 275.7h0M125.2 277.2h0M91.2 280.5h0M97.1 263.0h0M103.0 277.7h0M110.9 280.1h0M74.1 191.5h0M82.7 276.4h0M101.0 273.3h0M85.2 279.4h0M84.0 229.7h0M102.1 259.6h0M80.2 278.9h0M106.6 234.0h0M85.9 252.4h0M89.3 258.5h0M97.3 276.9h0M104.9 277.3h0M69.1 186.7h0M98.3 276.3h0M104.8 275.6h0M91.3 280.5h0M99.2 279.4h0M90.3 275.3h0M99.4 238.4h0M106.6 258.8h0M102.5 261.2h0M97.5 267.7h0M91.0 275.3h0M81.0 245.9h0M89.8 278.6h0M112.7 235.8h0M91.9 278.4h0M98.5 274.3h0M89.4 269.5h0M80.0 260.7h0M74.4 269.8h0M117.8 230.0h0M85.7 277.6h0M124.1 263.5h0M77.9 250.7h0M109.3 277.9h0M88.6 276.0h0M83.7 275.4h0M85.9 269.5h0M84.7 278.5h0M113.3 267.4h0M111.9 198.9h0M83.8 241.9h0M130.5 181.3h0M96.3 270.8h0M121.0 274.9h0M91.5 278.7h0M85.1 241.3h0M67.5 278.2h0M82.8 249.9h0M90.3 276.9h0M107.4 280.6h0M85.5 268.3h0M77.6 271.4h0M104.5 266.3h0M110.2 259.3h0M88.5 203.6h0M106.7 199.8h0M131.3 181.2h0M97.7 261.7h0M84.7 268.1h0M91.4 275.9h0M70.7 259.9h0M98.1 255.9h0M76.3 198.7h0M80.6 278.6h0M96.5 260.1h0M106.3 281.5h0M102.2 231.4h0M107.0 268.5h0M85.4 270.5h0M78.7 258.8h0M120.9 279.6h0M84.1 272.6h0M75.4 279.9h0M78.8 274.6h0M79.0 267.9h0M70.4 272.7h0M90.8 269.5h0M89.5 266.5h0M73.2 275.5h0M89.1 267.0h0M77.9 280.7h0M96.4 271.1h0M97.0 278.9h0M106.9 280.1h0M99.0 272.6h0M98.9 269.0h0M97.8 270.9h0M95.7 273.3h0M68.9 259.7h0M46.4 216.4h0M108.1 272.9h0M102.0 272.2h0M100.7 263.4h0M92.0 276.8h0M92.5 281.3h0M97.1 279.0h0M83.4 267.6h0M85.9 276.1h0M89.7 266.1h0M80.0 236.8h0M106.5 275.8h0M121.6 215.3h0M79.1 277.9h0M80.7 277.8h0M101.1 275.6h0M125.7 274.6h0M96.7 271.8h0M111.2 224.8h0M50.7 209.4h0M78.1 281.2h0M84.9 269.4h0M95.4 275.5h0M97.4 268.4h0M87.0 246.6h0M52.8 230.2h0M109.5 246.7h0M98.2 281.6h0M109.4 240.6h0M70.7 217.6h0M68.7 268.1h0M105.9 256.9h0M61.1 276.0h0M91.6 281.6h0M107.5 181.4h0M107.5 281.4h0M102.3 281.4h0M85.7 264.7h0M86.3 251.5h0M127.1 203.7h0M81.2 276.4h0M52.7 278.5h0M84.0 260.4h0M98.6 276.1h0M84.2 263.9h0M78.8 240.0h0M75.1 260.0h0M67.6 266.0h0M100.2 272.2h0M89.1 280.3h0M94.7 274.5h0M116.1 271.7h0M90.7 267.9h0M82.7 277.5h0M107.2 195.5h0M88.8 270.5h0M65.7 256.6h0M120.6 281.2h0M70.0 228.2h0M120.3 264.9h0M74.0 277.6h0M104.0 270.5h0M84.7 279.5h0M66.6 271.5h0M98.3 274.1h0M73.4 274.6h0M103.7 272.5h0M40.3 272.7h0M53.6 279.5h0M73.8 280.6h0M83.7 233.6h0M79.7 272.6h0M87.2 274.4h0M85.5 246.8h0M101.3 277.7h0M119.6 245.5h0M95.5 276.5h0M105.6 276.7h0M90.0 258.2h0M113.8 280.0h0M85.5 281.1h0M80.8 268.8h0M92.4 279.1h0M80.6 263.4h0M97.2 271.1h0M104.8 263.0h0" stroke="#a3a69c" stroke-width="1.3" stroke-linecap="square" fill="none"/>
<line x1="87.5" y1="178.1" x2="87.5" y2="284.1" stroke="#151515" stroke-width="1.25" stroke-dasharray="4.1 4.1"/>
<line x1="99.5" y1="178.1" x2="99.5" y2="284.1" stroke="#151515" stroke-width="1.25" stroke-dasharray="4.1 4.1"/>
<line x1="39.3" y1="280.4" x2="148.7" y2="280.4" stroke="#151515" stroke-width="1.25" stroke-dasharray="4.1 4.1"/>
<line x1="82.8" y1="225.2" x2="62.3" y2="216" stroke="#2a2a2a" stroke-width="0.75"/>
<line x1="108.5" y1="236.3" x2="127.8" y2="225.5" stroke="#2a2a2a" stroke-width="0.75"/>
<line x1="101.3" y1="252.4" x2="132.1" y2="245.3" stroke="#2a2a2a" stroke-width="0.75"/>
<line x1="100.3" y1="270.1" x2="123.5" y2="261" stroke="#2a2a2a" stroke-width="0.75"/>
<line x1="95.1" y1="280" x2="115.6" y2="276.1" stroke="#2a2a2a" stroke-width="0.75"/>
<circle cx="82.8" cy="225.2" r="1.85" fill="#9d1c1e" stroke="#701214" stroke-width="0.4"/>
<circle cx="108.5" cy="236.3" r="1.85" fill="#9d1c1e" stroke="#701214" stroke-width="0.4"/>
<circle cx="101.3" cy="252.4" r="1.85" fill="#9d1c1e" stroke="#701214" stroke-width="0.4"/>
<circle cx="100.3" cy="270.1" r="1.85" fill="#9d1c1e" stroke="#701214" stroke-width="0.4"/>
<circle cx="95.1" cy="280" r="1.85" fill="#9d1c1e" stroke="#701214" stroke-width="0.4"/>
</g>
<text x="52.9" y="213.5" font-size="7.6" text-anchor="start" fill="#222" stroke="#222" stroke-width="0.22">CD69</text>
<text x="116.4" y="223.4" font-size="7.6" text-anchor="start" fill="#222" stroke="#222" stroke-width="0.22">4−1BB</text>
<text x="115.4" y="245.5" font-size="7.6" text-anchor="start" fill="#222" stroke="#222" stroke-width="0.22">ICOS</text>
<text x="114.7" y="258.9" font-size="7.6" text-anchor="start" fill="#222" stroke="#222" stroke-width="0.22">OX40</text>
<text x="115.4" y="276.8" font-size="7.6" text-anchor="start" fill="#222" stroke="#222" stroke-width="0.22">GITR</text>
<rect x="38.3" y="176.3" width="110.4" height="107.8" fill="none" stroke="#262626" stroke-width="1.4"/>
<line x1="34.3" y1="281.3" x2="38.3" y2="281.3" stroke="#222" stroke-width="0.9"/>
<text x="32.5" y="284.15" font-size="7.9" text-anchor="end" fill="#222" stroke="#222" stroke-width="0.22">0</text>
<line x1="34.3" y1="256.38" x2="38.3" y2="256.38" stroke="#222" stroke-width="0.9"/>
<text x="32.5" y="259.23" font-size="7.9" text-anchor="end" fill="#222" stroke="#222" stroke-width="0.22">50</text>
<line x1="34.3" y1="231.45" x2="38.3" y2="231.45" stroke="#222" stroke-width="0.9"/>
<text x="32.5" y="234.3" font-size="7.9" text-anchor="end" fill="#222" stroke="#222" stroke-width="0.22">100</text>
<line x1="34.3" y1="206.53" x2="38.3" y2="206.53" stroke="#222" stroke-width="0.9"/>
<text x="32.5" y="209.38" font-size="7.9" text-anchor="end" fill="#222" stroke="#222" stroke-width="0.22">150</text>
<line x1="34.3" y1="181.6" x2="38.3" y2="181.6" stroke="#222" stroke-width="0.9"/>
<text x="32.5" y="184.45" font-size="7.9" text-anchor="end" fill="#222" stroke="#222" stroke-width="0.22">200</text>
<line x1="53.5" y1="284.1" x2="53.5" y2="287.4" stroke="#222" stroke-width="0.9"/>
<line x1="73.5" y1="284.1" x2="73.5" y2="287.4" stroke="#222" stroke-width="0.9"/>
<line x1="93.5" y1="284.1" x2="93.5" y2="287.4" stroke="#222" stroke-width="0.9"/>
<line x1="113.5" y1="284.1" x2="113.5" y2="287.4" stroke="#222" stroke-width="0.9"/>
<line x1="133.5" y1="284.1" x2="133.5" y2="287.4" stroke="#222" stroke-width="0.9"/>
<clipPath id="vc3"><rect x="38.3" y="368.5" width="110.39999999999999" height="108.60000000000002"/></clipPath>
<g clip-path="url(#vc3)">
<path d="M104.7 447.2h0M119.4 472.9h0M116.7 453.6h0M96.4 468.2h0M112.6 444.5h0M96.7 470.0h0M86.4 436.5h0M87.7 472.3h0M109.7 431.0h0M99.5 472.0h0M106.0 401.0h0M99.4 442.6h0M111.2 430.7h0M87.5 467.5h0M83.6 457.6h0M81.0 384.7h0M95.0 473.0h0M82.5 423.1h0M113.1 433.9h0M85.3 463.7h0M106.7 463.6h0M107.0 401.7h0M78.5 465.0h0M89.1 452.5h0M88.6 472.2h0M105.5 465.9h0M87.2 433.7h0M89.1 472.7h0M97.6 457.7h0M85.6 457.7h0M103.8 465.0h0M95.4 464.4h0M100.3 441.1h0M88.1 473.0h0M101.3 441.7h0M85.6 430.6h0M79.6 455.4h0M103.5 432.3h0M103.1 464.3h0M127.8 452.7h0M96.2 461.8h0M96.9 460.5h0M95.6 471.6h0M100.0 416.4h0M83.5 461.9h0M87.3 449.2h0M97.1 461.8h0M92.0 465.8h0M98.4 455.4h0M108.7 379.9h0M96.6 471.8h0M96.0 466.0h0M102.7 460.9h0M124.9 460.5h0M86.9 457.3h0M87.6 470.7h0M87.3 452.5h0M100.9 435.7h0M87.4 472.2h0M98.1 460.0h0M110.4 455.4h0M108.7 465.7h0M100.5 412.6h0M111.2 463.7h0M90.4 457.2h0M99.8 463.8h0M96.1 452.3h0M115.9 469.1h0M100.1 458.1h0M122.6 421.6h0M90.7 465.0h0M95.0 468.5h0M88.2 471.7h0M101.6 437.4h0M99.5 462.7h0M95.5 467.9h0M89.3 466.5h0M97.8 443.8h0M96.1 454.3h0M96.3 472.8h0M96.5 463.1h0M105.7 464.3h0M83.8 450.9h0M94.9 466.4h0M99.7 472.8h0M98.5 458.2h0M106.7 458.3h0M98.9 436.8h0M67.4 453.6h0M79.3 469.9h0M95.9 465.7h0M96.4 448.4h0M104.1 458.3h0M99.6 457.8h0M86.5 470.7h0M95.9 472.6h0M89.6 463.1h0M95.4 470.7h0M106.3 372.9h0M84.7 469.7h0M87.8 462.0h0M99.7 469.5h0M103.1 449.9h0M99.0 468.7h0M106.5 388.6h0M89.6 466.3h0M83.6 451.1h0M82.7 462.7h0M102.1 440.3h0M88.9 438.7h0M96.2 459.2h0M101.3 464.7h0M104.3 402.9h0M97.8 423.4h0M112.7 419.8h0M90.3 465.9h0M88.3 470.8h0M98.5 465.7h0M87.1 433.1h0M87.2 466.7h0M103.3 383.3h0M90.4 462.6h0M89.8 452.1h0M91.0 469.9h0M98.6 471.4h0M89.1 461.9h0M85.4 471.8h0M82.5 432.8h0M85.4 471.8h0M101.1 413.8h0M85.3 455.7h0M103.9 453.6h0M106.4 423.6h0M98.2 438.4h0M91.7 459.8h0M96.5 462.7h0M97.1 444.5h0M90.0 466.1h0M82.5 454.7h0M91.3 468.3h0M101.1 437.5h0M87.2 450.3h0M108.7 378.8h0M108.3 458.2h0M90.5 470.4h0M91.6 469.8h0M90.8 472.3h0M102.5 434.7h0M99.4 406.7h0M95.8 457.7h0M100.3 450.5h0M94.7 468.0h0M112.0 461.4h0M100.0 433.5h0M92.2 466.0h0M97.7 469.2h0M86.2 466.0h0M86.6 443.6h0M98.8 426.4h0M89.5 453.4h0M89.4 471.4h0M90.7 464.5h0M91.1 468.8h0M92.0 467.8h0M100.8 470.8h0M84.0 439.1h0M114.0 472.4h0M80.1 468.0h0M95.6 466.0h0M110.5 447.7h0M91.9 470.3h0M114.3 468.4h0M97.5 433.3h0M99.6 416.3h0M108.5 450.5h0M125.5 401.8h0M94.9 468.0h0M113.1 451.6h0M106.9 401.2h0M96.4 465.4h0M108.1 452.4h0M94.7 472.7h0M108.0 413.0h0M99.6 472.7h0M83.1 440.3h0M132.2 455.4h0M89.2 441.8h0M99.5 411.6h0M107.4 456.7h0M99.4 462.1h0M99.3 450.9h0M102.6 459.2h0M87.8 451.8h0M110.0 466.8h0M89.1 463.2h0M98.2 443.5h0M88.7 450.1h0M87.7 472.6h0M100.5 422.6h0M102.7 465.4h0M101.8 439.8h0M97.0 438.6h0M81.5 466.4h0M88.1 449.6h0M87.7 449.7h0M97.4 468.7h0M98.5 467.7h0M99.8 435.4h0M86.3 429.4h0M110.8 449.1h0M92.3 470.8h0M97.4 467.0h0M101.5 460.5h0M102.8 467.1h0M98.7 448.1h0M85.4 469.8h0M89.6 461.2h0M102.9 417.4h0M101.4 407.2h0M101.4 436.3h0M111.5 410.1h0M121.5 405.1h0M104.5 458.4h0M85.4 450.8h0M92.4 471.6h0M91.4 470.9h0M98.6 451.9h0M90.6 470.0h0M90.8 467.0h0M97.7 444.9h0M90.2 460.3h0M106.6 399.3h0M95.8 447.2h0M101.1 404.2h0M72.6 466.6h0M86.8 441.2h0M112.9 469.2h0M113.0 422.9h0M97.6 440.8h0M98.5 465.2h0M100.6 450.3h0M83.7 436.7h0M105.2 468.2h0M82.4 382.6h0M85.6 468.3h0M77.7 465.7h0M95.3 465.6h0M104.0 468.2h0M95.1 471.2h0M96.7 451.6h0M103.4 464.1h0M84.2 438.9h0M87.1 442.3h0M84.8 470.9h0M99.8 411.5h0M99.9 456.1h0M81.2 466.0h0M98.2 454.7h0M102.0 455.0h0M88.4 468.2h0M88.8 454.4h0M109.0 466.1h0M96.8 459.0h0M112.9 443.9h0M99.9 433.4h0M99.8 465.2h0M85.8 471.5h0M82.1 452.1h0M87.9 451.3h0M95.7 454.2h0M88.4 452.3h0M88.7 468.2h0M86.6 456.4h0M101.1 427.0h0M91.5 464.5h0M101.5 435.3h0M110.3 423.4h0M94.5 468.6h0M101.8 450.4h0M92.1 468.7h0M107.2 460.0h0M105.2 465.5h0M103.5 455.3h0M87.8 458.7h0M86.0 465.4h0M83.2 418.8h0M109.7 421.7h0M96.2 453.3h0M90.3 468.2h0M137.9 404.9h0M95.6 462.6h0M98.2 461.6h0M95.7 462.6h0M81.8 464.8h0M87.8 451.7h0M99.4 434.4h0M76.5 415.9h0M115.9 471.9h0M101.5 459.0h0M98.0 447.2h0M96.2 466.9h0M107.9 389.1h0M106.9 419.5h0M81.3 422.2h0M112.4 470.9h0M104.0 430.1h0M104.6 407.7h0M86.2 467.7h0M102.1 381.3h0M82.8 468.9h0M87.3 445.8h0M90.1 455.9h0M95.7 471.6h0M113.8 438.8h0M98.3 423.2h0M92.9 472.9h0M96.7 446.8h0M95.0 472.4h0M71.9 421.5h0M97.7 463.7h0M95.0 460.6h0M91.2 467.9h0M119.8 430.3h0M86.8 427.3h0M101.8 456.2h0M116.6 391.5h0M115.7 445.2h0M86.3 418.5h0M100.4 448.6h0M94.7 470.0h0M90.0 459.8h0M115.8 438.7h0M103.4 468.4h0M82.7 439.3h0M123.9 425.6h0M100.7 460.5h0M97.8 465.1h0M96.6 472.7h0M97.7 470.9h0M109.2 421.9h0M113.7 373.1h0M85.6 465.1h0M96.4 440.7h0M109.7 438.8h0M98.2 468.4h0M88.0 460.4h0M102.1 458.3h0M94.7 465.3h0M106.0 443.5h0M87.7 454.3h0M107.9 446.2h0M105.5 385.7h0M85.5 436.5h0M108.5 372.8h0M100.3 434.4h0M87.6 459.0h0M76.1 378.6h0M91.0 454.9h0M102.1 449.8h0M84.5 445.2h0M102.9 472.4h0M85.7 471.2h0M76.8 454.0h0M99.3 472.7h0M112.6 463.7h0M86.1 436.3h0M96.2 455.9h0M90.5 467.9h0M103.8 447.9h0M99.4 465.1h0M97.8 461.9h0M104.6 451.4h0M104.4 457.6h0M101.8 466.5h0M97.4 433.7h0M95.3 472.0h0M99.3 455.1h0M96.1 452.0h0M95.3 472.0h0M102.1 465.1h0M84.9 470.6h0M88.0 447.3h0M85.5 452.4h0M99.6 468.8h0M133.4 442.4h0M99.5 442.6h0M103.5 444.7h0M91.2 465.8h0M102.5 403.3h0M100.0 434.9h0M101.5 455.5h0M95.9 466.9h0M95.3 462.8h0M95.9 468.5h0M91.8 473.0h0M97.7 441.8h0M91.8 467.0h0M84.1 452.5h0M101.1 433.3h0M114.1 454.9h0M100.1 398.5h0M95.1 469.9h0M97.2 440.4h0M113.4 428.2h0M86.6 457.5h0M101.1 444.9h0M99.7 461.7h0M100.5 463.2h0M99.9 452.6h0M89.2 454.4h0M94.4 472.7h0M88.4 442.5h0M98.6 465.5h0M100.1 461.3h0M84.8 471.3h0M95.9 461.8h0M98.1 460.6h0M104.8 468.1h0M101.0 473.0h0M95.7 455.2h0M108.1 462.3h0M91.6 464.8h0M88.8 469.4h0M89.9 456.1h0M99.2 442.7h0M98.7 431.2h0M92.7 472.6h0M91.9 466.8h0M100.7 455.8h0M90.1 471.3h0M99.5 440.0h0M92.2 468.0h0M92.6 470.0h0M102.8 420.3h0M98.5 449.3h0M89.3 441.7h0M102.9 414.3h0M99.6 418.1h0M118.3 418.2h0M114.5 434.9h0M113.2 462.1h0M88.9 469.5h0M100.4 462.6h0M92.1 468.4h0M123.6 415.5h0M92.8 471.9h0M89.8 469.6h0M111.7 395.7h0M109.8 470.1h0M79.4 456.1h0M89.8 463.1h0M91.4 458.5h0M91.2 463.5h0M103.3 463.0h0M107.4 432.0h0M99.1 442.6h0M96.6 445.6h0M95.5 468.7h0M99.0 430.9h0M98.6 472.1h0M88.6 447.0h0M128.2 457.1h0M95.5 454.9h0M100.6 457.3h0M116.1 408.5h0M99.2 458.2h0M100.3 470.7h0M97.6 470.8h0M97.1 449.2h0M85.0 462.5h0M97.9 465.7h0M101.4 406.0h0M98.6 472.1h0M120.1 384.8h0M97.5 467.6h0M99.9 459.0h0M96.5 471.2h0M115.0 469.6h0M106.7 445.1h0M77.0 451.5h0M103.0 402.0h0M106.2 436.9h0M106.1 459.4h0M100.6 469.3h0M89.4 468.3h0M97.1 454.0h0M92.0 464.2h0M87.6 451.1h0M91.2 465.2h0M98.9 427.4h0M79.7 465.8h0M89.9 449.2h0M97.8 465.2h0M90.6 471.8h0M102.5 410.7h0M100.4 423.2h0M87.4 436.0h0M88.2 460.0h0M96.8 449.1h0M91.1 465.0h0M100.0 399.5h0M107.9 446.4h0M92.1 470.9h0M101.2 467.3h0M97.8 453.6h0M101.3 456.1h0M105.8 409.8h0M102.6 409.2h0M87.6 441.5h0M97.6 464.1h0M90.9 469.4h0M89.0 446.0h0M90.1 467.4h0M101.2 424.1h0M100.7 418.1h0M95.1 470.6h0M96.8 472.0h0M100.8 458.7h0M96.4 463.9h0M98.7 460.8h0M137.9 467.1h0M101.2 457.4h0M96.6 467.0h0M81.0 428.1h0M88.8 452.1h0M96.2 470.8h0M100.3 455.0h0M85.8 432.6h0M98.7 435.0h0M91.6 464.6h0M100.1 460.5h0M103.6 419.8h0M101.0 447.3h0M99.0 428.5h0M91.2 468.9h0M111.3 422.3h0M88.2 461.2h0M100.4 452.8h0M114.9 449.0h0M103.6 444.5h0M83.4 445.3h0M98.9 471.1h0M92.1 467.5h0M95.8 462.3h0M98.0 421.1h0M90.5 471.8h0M94.7 468.2h0M101.1 468.3h0M99.2 437.6h0M89.6 451.3h0M96.7 464.9h0M98.3 460.4h0M85.5 426.4h0M95.9 451.1h0M84.1 457.9h0M101.0 444.0h0M86.9 468.6h0M99.1 469.1h0M82.5 472.7h0M87.2 438.5h0M91.5 466.5h0M100.1 449.3h0M100.2 469.8h0M96.3 472.1h0M98.2 468.3h0M95.4 461.9h0M102.7 467.5h0M96.3 447.5h0M98.3 460.4h0M91.6 471.9h0M100.2 438.5h0M85.7 467.1h0M96.1 458.4h0M92.5 469.5h0M98.4 430.7h0M87.4 467.6h0M105.1 443.7h0M90.4 457.7h0M98.0 462.7h0M80.1 385.6h0M83.2 466.5h0M101.9 457.0h0M108.4 432.0h0M122.9 430.1h0M101.8 414.3h0M91.1 470.2h0M89.3 457.5h0M116.7 423.3h0M89.3 446.5h0M100.2 466.5h0M71.5 400.8h0M90.3 461.7h0M90.0 458.0h0M101.9 435.7h0M101.1 467.8h0M105.5 471.4h0M87.7 456.9h0M97.1 456.5h0M108.7 450.7h0M117.7 466.8h0M77.0 454.3h0M110.8 471.3h0M115.3 425.5h0M71.7 431.9h0M91.3 471.7h0M103.6 449.1h0M92.6 471.1h0M108.8 430.7h0M96.5 452.5h0M91.6 468.8h0M101.4 450.9h0M103.6 460.2h0M116.3 454.2h0M87.8 469.6h0M92.2 467.4h0M88.8 436.8h0M91.0 470.2h0M106.0 409.8h0M98.7 420.3h0M105.1 422.1h0M102.8 432.4h0M92.4 468.5h0M101.4 386.5h0M96.8 470.5h0M100.8 470.6h0M106.9 407.4h0M96.1 453.7h0M110.7 443.2h0M111.0 458.7h0M99.0 472.8h0M100.4 430.0h0M97.6 470.8h0M107.6 402.5h0M100.1 460.3h0M97.6 469.7h0M95.0 469.7h0M98.6 440.7h0M99.5 449.4h0M84.5 463.8h0M96.4 468.6h0M85.9 468.3h0M100.0 437.2h0M91.7 464.4h0M100.2 468.8h0M112.1 460.0h0M111.4 469.6h0M99.9 435.2h0M97.5 472.0h0M98.2 453.4h0M98.3 466.3h0M95.7 472.9h0M109.1 469.9h0M87.5 472.6h0M97.8 427.8h0M107.3 451.5h0M95.4 460.2h0M89.7 472.8h0M99.1 453.6h0M102.6 444.4h0M100.5 465.3h0M88.4 464.9h0M102.5 433.8h0M98.5 466.9h0M100.7 446.3h0M90.5 464.1h0M90.7 455.8h0M81.6 458.8h0M89.6 442.9h0M95.4 458.8h0M99.0 438.0h0M102.6 417.5h0M104.0 470.7h0M89.1 445.1h0M99.2 444.2h0M86.8 444.6h0M90.8 472.9h0M98.7 464.8h0M105.9 436.6h0M87.8 451.5h0M90.8 456.0h0M79.4 428.6h0M87.9 460.0h0M101.0 442.1h0M91.0 471.1h0M89.9 459.7h0M101.3 459.1h0M95.6 469.0h0M88.6 438.0h0M98.1 417.5h0M100.0 469.0h0M89.7 453.2h0M86.6 465.5h0M89.9 459.6h0M87.0 432.5h0M108.3 420.9h0M116.9 372.9h0M89.0 441.8h0M97.9 444.1h0M96.6 467.3h0M121.6 445.8h0M101.2 437.4h0M99.3 442.3h0M106.9 429.7h0M106.8 460.3h0M115.1 467.8h0M88.2 452.4h0M80.4 448.3h0M91.8 471.0h0M79.0 405.0h0M90.2 467.9h0M106.7 431.1h0M97.2 460.2h0M96.1 472.7h0M101.6 468.8h0M87.0 471.0h0M100.3 408.3h0M107.0 434.7h0M95.9 458.9h0M99.5 436.1h0M108.4 416.5h0M104.0 462.8h0M96.1 453.2h0M90.5 469.1h0M97.2 448.0h0M100.5 441.1h0M98.5 461.9h0M99.9 414.8h0M95.4 469.9h0M90.3 466.1h0M105.2 431.9h0M91.8 464.7h0M107.6 437.8h0M113.0 472.4h0M102.1 467.1h0M98.9 467.3h0M88.2 467.6h0M108.2 471.3h0M100.3 416.4h0M96.8 440.5h0M106.3 472.6h0M108.0 471.4h0M129.1 462.6h0M99.9 451.2h0M101.8 441.9h0M103.1 445.8h0M91.5 463.8h0M108.8 458.5h0M89.6 468.0h0M97.3 469.6h0M99.8 467.3h0M87.8 458.2h0M85.7 415.1h0M97.4 454.4h0M91.6 462.8h0M89.9 466.6h0M86.6 445.8h0M101.4 458.2h0M84.2 461.6h0M92.9 470.1h0M79.5 403.9h0M113.2 457.2h0M97.6 468.6h0M102.4 434.9h0M87.7 444.9h0M101.3 454.6h0M102.1 430.8h0M106.3 399.1h0M100.2 447.5h0M97.9 441.7h0M87.6 440.9h0M92.0 471.2h0M100.7 472.3h0M86.2 462.9h0M85.5 455.4h0M96.4 447.0h0M98.9 419.3h0M97.5 441.4h0M102.5 411.1h0M97.3 472.0h0M103.2 459.1h0M91.5 465.0h0M107.4 466.6h0M74.9 422.3h0M97.7 459.9h0M89.7 460.8h0M105.4 471.7h0M102.0 462.3h0M87.0 461.5h0M85.3 465.0h0M97.5 453.7h0M100.8 391.3h0M99.1 437.9h0M100.7 452.5h0M87.8 446.4h0M90.9 464.5h0M111.5 417.2h0M92.4 467.4h0M101.6 465.1h0M105.3 430.4h0M85.1 470.6h0M85.3 466.3h0M92.6 470.0h0M100.3 403.3h0M91.6 470.0h0M79.2 415.5h0M114.1 375.5h0M91.1 461.6h0M113.2 461.3h0M106.9 415.7h0M107.5 435.9h0M98.9 450.0h0M84.8 468.1h0M100.7 420.0h0M109.7 467.2h0M102.4 390.9h0M97.7 472.9h0M97.5 466.5h0M90.3 465.9h0M116.3 462.7h0M91.7 464.6h0M92.0 469.9h0M67.7 456.4h0M111.7 419.9h0M85.2 462.3h0M92.0 472.1h0M98.2 444.6h0M96.1 460.0h0M97.7 457.9h0M79.7 453.8h0M92.6 472.9h0M96.9 456.9h0M90.6 457.5h0M110.8 459.3h0M100.6 428.3h0M88.3 459.0h0M86.4 443.5h0M115.2 412.5h0M90.0 465.1h0M95.7 461.7h0M99.0 440.6h0M97.1 444.8h0M103.2 468.5h0M97.0 443.1h0M98.3 453.4h0M89.6 465.8h0M100.1 461.7h0M112.2 397.7h0M119.8 442.1h0M90.4 466.9h0M100.7 413.0h0M88.3 451.0h0M85.8 461.5h0M96.3 448.7h0M89.5 467.3h0M90.0 461.8h0M102.8 448.5h0M100.8 417.8h0M98.6 463.4h0M104.2 444.2h0M79.7 427.0h0M87.9 453.3h0M97.9 451.2h0M80.1 409.6h0M95.7 463.8h0M89.7 453.7h0M90.0 463.2h0M83.6 459.9h0M99.2 454.5h0M106.8 435.8h0M100.2 467.3h0M108.0 407.7h0M88.4 471.3h0M119.6 451.0h0M95.8 457.0h0M102.8 378.9h0M86.3 471.1h0M105.1 465.7h0M81.6 466.2h0M97.3 462.0h0M88.9 462.9h0M116.5 444.1h0M102.6 446.6h0M95.9 472.4h0M89.6 446.2h0M89.2 462.0h0M100.2 435.2h0M96.9 462.6h0M90.0 467.5h0M92.2 471.8h0M90.0 458.5h0M92.7 471.5h0M103.6 441.9h0M88.7 469.9h0M89.3 472.8h0M86.8 445.9h0M108.9 447.6h0M97.4 469.2h0M87.3 450.2h0M99.0 471.2h0M91.5 464.4h0M88.1 436.0h0M97.5 435.1h0M106.2 400.0h0M89.4 471.6h0M102.6 466.6h0M109.4 429.6h0M101.2 463.2h0M83.8 425.1h0M105.1 385.2h0M120.4 468.9h0M76.2 409.7h0M89.0 449.5h0M101.5 470.1h0M92.5 472.2h0M100.0 441.4h0M86.7 442.1h0M100.4 407.5h0M84.5 418.3h0M96.1 461.7h0M96.7 470.6h0M90.0 462.4h0M100.3 464.0h0M105.4 465.4h0M86.3 456.7h0M105.7 416.0h0M92.6 473.0h0M90.1 471.1h0M96.5 444.4h0M97.7 462.4h0M97.9 460.8h0M107.9 461.5h0M90.7 468.9h0M81.3 472.0h0M95.6 462.6h0M108.3 446.2h0M83.5 471.4h0M108.5 406.9h0M86.1 471.7h0M104.5 426.8h0M98.5 429.0h0M101.3 456.6h0M95.8 461.3h0M71.8 427.9h0M92.5 472.8h0M98.4 463.9h0M104.6 466.7h0M85.8 454.0h0M99.4 411.6h0M104.6 463.4h0M104.5 402.6h0M103.6 411.2h0M100.5 471.0h0M106.2 459.8h0M97.3 455.0h0M88.9 470.2h0M90.0 464.8h0M90.7 462.5h0M91.5 465.2h0M93.0 471.5h0M100.8 453.8h0M90.8 471.5h0M91.3 467.2h0M89.8 454.1h0M98.8 473.0h0M107.2 466.8h0M98.4 440.8h0M89.2 458.6h0M86.6 444.4h0M81.5 466.2h0M84.5 443.8h0M109.0 445.7h0M106.6 403.6h0M77.0 441.2h0M103.2 401.5h0M90.6 462.6h0M80.5 472.1h0M116.7 453.5h0M86.3 440.2h0M79.4 470.2h0M115.6 450.6h0M98.9 464.3h0M100.4 412.4h0M95.3 472.9h0M90.0 470.2h0M117.0 468.6h0M99.7 461.4h0M102.3 468.6h0M101.0 462.3h0M96.8 471.1h0M73.4 463.9h0M103.8 472.7h0M89.3 464.2h0M101.9 432.0h0M99.2 414.9h0M101.8 403.7h0M88.7 470.3h0M92.2 469.7h0M100.5 469.2h0M104.4 437.1h0M110.2 447.8h0M86.9 445.2h0M90.0 453.8h0M101.1 468.2h0M78.1 455.8h0M103.4 454.3h0M107.9 385.6h0M96.2 451.4h0M99.2 454.2h0M89.6 453.8h0M78.9 463.8h0M88.5 448.4h0M96.6 448.0h0M90.9 463.8h0M86.1 454.7h0M100.3 431.8h0M87.4 464.2h0M106.9 425.3h0M103.0 445.3h0M86.6 468.9h0M98.5 458.3h0M101.7 466.6h0M89.7 463.8h0M87.5 438.6h0M82.5 433.2h0M103.2 468.6h0M99.5 460.3h0M96.1 469.7h0M89.0 470.8h0M78.7 449.8h0M97.5 457.8h0M97.0 439.5h0M101.7 465.5h0M101.3 383.3h0M84.5 471.3h0M102.5 465.6h0M108.3 426.2h0M87.2 462.4h0M84.8 447.6h0M89.6 462.0h0M101.0 395.4h0M99.0 417.3h0M108.8 450.0h0M91.3 462.6h0M87.8 433.4h0M104.5 435.6h0M90.8 457.1h0M99.1 461.3h0M83.6 463.4h0M97.5 472.5h0M86.6 436.5h0M100.4 471.1h0M85.0 464.9h0M105.7 471.7h0M104.0 460.7h0M77.8 461.4h0M82.8 437.0h0M90.0 467.8h0M99.8 471.7h0M88.2 449.0h0M110.9 444.3h0M96.7 443.7h0M95.6 472.6h0M103.7 423.0h0M86.4 465.4h0M99.0 451.5h0M91.2 459.2h0M87.8 462.8h0M92.0 471.4h0M99.7 454.0h0M103.8 467.1h0M99.5 450.4h0M80.4 423.4h0M96.2 465.8h0M95.5 462.4h0M86.1 434.0h0M108.9 460.0h0M110.3 372.9h0M98.4 420.1h0M88.4 459.9h0M114.9 456.7h0M86.7 422.5h0M95.5 456.8h0M91.1 461.7h0M90.9 466.0h0M95.7 456.5h0M97.1 448.8h0M97.8 465.1h0M106.3 404.1h0M95.3 467.2h0M107.6 451.4h0M97.9 433.2h0M104.8 432.7h0M99.1 414.5h0M98.4 453.3h0M96.3 468.0h0M89.9 454.4h0M86.7 447.8h0M91.9 467.6h0M89.5 470.9h0M95.7 468.0h0M105.0 394.5h0M96.6 458.1h0M89.5 459.1h0M98.4 444.7h0M101.2 402.2h0M90.6 466.5h0M98.5 468.8h0M100.6 451.8h0M88.1 466.6h0M99.9 445.9h0M97.5 436.9h0M90.5 465.3h0M82.7 469.2h0M89.0 468.7h0M100.2 414.4h0M87.5 465.9h0M105.9 434.0h0M122.3 443.2h0M104.7 412.7h0M100.5 454.0h0M100.1 449.4h0M92.9 470.8h0M84.3 465.8h0M94.5 466.7h0M103.9 466.4h0M104.8 439.2h0M65.9 466.2h0M97.1 472.2h0M112.1 402.5h0M104.8 424.7h0M95.7 463.2h0M91.0 468.0h0M86.2 440.0h0M87.6 438.2h0M101.4 438.9h0M107.3 419.9h0M99.3 439.9h0M101.3 436.1h0M98.3 463.6h0M105.3 466.6h0M89.3 457.4h0M108.5 463.8h0M99.0 425.4h0M84.3 464.7h0M94.8 471.7h0M99.5 431.2h0M105.4 460.5h0M97.8 459.1h0M90.4 455.1h0M96.0 464.0h0M114.5 426.4h0M97.2 438.4h0M101.0 440.8h0M102.6 449.6h0M88.5 464.3h0M90.5 457.3h0M91.6 461.1h0M89.9 466.3h0M103.0 465.4h0M75.8 458.6h0M90.5 452.2h0M95.3 465.6h0M95.9 470.2h0M81.4 437.7h0M103.2 467.6h0M86.6 440.6h0M86.7 458.2h0M107.5 449.3h0M99.2 466.4h0M114.9 423.4h0M96.9 464.8h0M90.9 454.4h0M100.2 469.9h0M101.1 459.8h0M103.1 425.2h0M112.4 431.7h0M97.8 462.3h0M104.1 461.0h0M110.7 422.6h0M92.8 472.9h0M102.8 436.7h0M89.0 461.2h0M96.1 459.6h0M98.7 455.0h0M86.6 449.4h0M86.9 461.8h0M103.8 465.5h0M94.9 467.9h0M98.2 462.4h0M92.0 472.0h0M106.8 462.7h0M110.0 435.2h0M96.2 462.9h0M98.1 458.1h0M104.7 385.4h0M98.7 463.9h0M85.6 459.1h0M96.9 440.9h0M95.8 463.6h0M87.7 465.1h0M87.9 457.8h0M88.3 471.4h0M83.0 438.7h0M81.0 442.5h0M91.4 472.7h0M87.5 454.3h0M105.3 431.9h0M108.9 470.1h0M111.8 427.2h0M95.8 456.6h0M97.1 437.0h0M87.8 449.3h0M85.7 471.8h0M83.8 440.8h0M83.8 433.7h0M88.0 455.9h0M92.2 469.3h0M91.0 456.7h0M121.1 431.3h0M97.5 470.7h0M97.5 465.1h0M86.5 460.4h0M92.7 471.5h0M88.5 461.9h0M88.1 462.6h0M92.5 472.9h0M91.1 468.8h0M95.9 468.2h0M72.9 446.1h0M100.2 458.7h0M101.6 415.4h0M88.7 438.6h0M79.4 423.9h0M100.4 433.3h0M114.7 440.7h0M97.4 434.1h0M106.8 456.4h0M99.5 402.5h0M123.0 470.9h0M107.5 373.1h0M90.2 465.0h0M89.9 468.3h0M98.2 424.5h0M74.7 450.7h0M85.8 472.0h0M99.4 453.4h0M90.1 451.2h0M126.7 443.4h0M104.0 452.6h0M84.5 461.4h0M101.1 462.2h0M97.5 433.5h0M111.6 395.0h0M100.8 469.6h0M95.9 458.5h0M91.9 465.8h0M91.7 470.1h0M97.7 465.4h0M89.5 463.0h0M88.6 472.3h0M87.3 465.6h0M101.9 451.7h0M103.1 459.1h0M72.5 373.0h0M107.5 392.8h0M87.3 438.3h0M88.7 441.1h0M105.2 472.3h0M89.6 454.7h0M98.5 447.9h0M94.9 463.9h0M99.8 461.3h0M111.2 388.7h0M90.2 472.4h0M134.9 372.9h0M89.3 457.0h0M83.7 457.6h0M89.5 455.5h0M99.6 428.7h0M100.2 421.2h0M113.6 434.4h0M105.3 450.9h0M97.4 447.4h0M87.0 454.8h0M87.8 449.0h0M76.6 432.9h0M107.8 467.8h0M97.3 467.1h0M96.3 455.4h0M88.8 460.3h0M81.8 427.5h0M96.8 466.4h0M70.8 373.0h0M99.2 460.6h0M103.1 437.3h0M103.4 427.9h0M110.0 470.8h0M100.1 399.8h0M134.8 372.9h0M92.0 469.8h0M81.3 446.7h0M87.3 458.3h0M101.3 466.5h0M95.3 470.2h0M101.7 443.5h0M104.7 463.1h0M95.1 466.6h0M105.6 470.7h0M99.6 470.8h0M103.4 454.5h0M120.7 373.1h0M90.9 456.3h0M86.4 438.2h0M83.9 469.1h0M96.1 459.4h0M92.2 472.5h0M92.6 468.0h0M122.6 457.5h0M98.3 459.4h0M97.0 448.9h0M103.5 441.8h0M87.8 469.6h0M90.8 464.6h0M82.8 423.7h0M90.0 454.2h0M90.3 469.9h0M96.6 444.1h0M102.4 395.3h0M105.0 450.5h0M105.2 416.8h0M96.1 472.4h0M96.6 467.7h0M86.4 461.3h0M101.5 414.7h0M98.5 434.9h0M89.5 453.3h0M86.7 455.5h0M90.2 467.0h0M89.5 463.5h0M82.1 448.6h0M90.3 460.5h0M102.5 472.0h0M96.0 472.4h0M107.6 461.2h0M100.1 464.6h0M121.2 373.0h0M88.1 437.9h0M89.2 470.3h0M88.9 466.1h0M99.0 465.3h0M102.3 459.1h0M125.6 467.1h0M109.9 458.1h0M116.3 458.2h0M97.7 462.7h0M100.5 398.2h0M101.0 390.4h0M87.3 448.4h0M94.8 466.4h0M97.0 443.5h0M89.1 463.7h0M101.8 461.3h0M80.7 432.7h0M105.0 391.8h0M97.4 468.2h0M91.1 466.1h0M103.9 450.0h0M97.6 468.2h0M98.0 444.8h0M77.4 468.6h0M103.3 442.4h0M78.4 414.6h0M99.1 454.3h0M97.4 454.6h0M90.1 452.2h0M96.6 452.6h0M89.2 451.4h0M109.5 374.5h0M100.6 435.5h0M91.6 472.6h0M89.2 457.2h0M87.8 441.2h0M89.6 472.3h0M94.7 472.9h0M77.3 428.1h0M96.8 435.8h0M101.2 417.9h0M92.4 468.9h0M101.9 465.1h0M114.7 392.0h0M118.0 441.1h0M84.5 444.8h0M134.9 372.9h0M85.5 451.5h0M89.0 466.1h0M99.8 453.0h0M98.8 430.2h0M97.0 438.5h0M90.5 458.8h0M71.7 372.9h0M98.9 465.0h0M96.7 452.7h0M92.1 469.2h0M91.3 467.5h0M85.5 468.6h0M84.4 462.8h0M101.8 444.3h0M89.3 463.9h0M101.1 464.1h0M98.7 445.1h0M98.4 435.5h0M89.7 472.1h0M86.6 461.7h0M95.6 458.6h0M103.3 460.8h0M95.1 471.4h0M110.7 470.8h0M97.7 466.1h0M105.7 402.3h0M94.6 471.8h0M101.4 435.0h0M126.2 459.3h0M96.8 447.3h0M99.6 440.7h0M95.3 467.9h0M104.6 413.6h0M85.1 417.6h0M90.9 467.5h0M85.0 425.9h0M97.8 451.5h0M106.7 467.8h0M100.1 468.5h0M88.3 464.3h0M113.9 469.0h0M95.7 462.7h0M73.1 438.7h0M99.1 439.4h0M89.6 454.9h0M72.4 380.0h0M106.6 457.1h0M92.1 472.6h0M97.8 440.2h0M102.7 422.1h0M98.9 426.4h0M96.2 467.5h0M96.2 465.0h0M83.3 454.4h0M99.0 460.6h0M96.4 469.9h0M103.1 415.5h0M90.0 451.6h0M100.3 450.0h0M102.8 466.7h0M102.2 450.2h0M87.5 453.6h0M102.1 428.9h0M109.9 449.3h0M102.6 450.0h0M79.0 469.7h0M94.7 470.7h0M98.2 430.6h0M97.9 466.7h0M92.2 467.6h0M77.0 442.1h0M97.1 464.6h0M105.1 442.6h0M77.5 443.4h0M97.8 449.0h0M123.0 444.1h0M111.7 382.4h0M95.3 462.0h0M101.5 464.8h0M101.3 469.5h0M91.9 470.2h0M98.7 468.5h0M83.0 424.2h0M95.7 454.9h0M92.2 467.7h0M95.3 465.1h0M82.4 447.0h0M95.8 470.1h0M102.4 450.2h0M89.4 469.8h0M107.1 419.0h0M88.9 467.8h0M96.7 445.0h0M103.1 469.8h0M97.6 472.7h0M87.1 462.6h0M101.0 472.5h0M103.2 434.4h0M96.3 468.3h0M101.1 467.8h0M90.0 460.4h0M111.9 458.4h0M89.3 469.5h0M104.4 405.8h0M88.6 463.1h0M98.2 468.3h0M98.1 423.1h0M121.4 461.6h0M100.5 451.5h0M90.1 454.3h0M106.7 416.2h0M100.1 465.2h0M119.0 455.5h0M83.3 460.5h0M97.8 437.3h0M90.9 460.3h0M97.2 452.2h0M101.3 437.7h0M107.6 467.4h0M89.9 466.1h0M96.0 457.2h0M85.6 468.1h0M105.9 443.3h0M112.8 439.6h0M85.5 468.1h0M102.8 451.8h0M82.9 434.0h0M97.1 472.8h0M100.6 468.4h0M101.1 458.4h0M108.2 397.4h0M99.7 429.9h0M86.9 461.0h0M97.4 452.8h0M105.2 443.9h0M87.4 461.2h0M105.7 373.0h0M98.5 427.8h0M106.4 443.8h0M90.3 466.9h0M105.9 423.4h0M85.8 442.4h0M98.9 446.4h0M96.0 470.9h0M81.6 469.5h0M104.2 453.8h0M87.1 445.6h0M98.4 435.2h0M95.8 471.8h0M102.3 396.8h0M101.5 425.8h0M96.5 465.8h0M103.8 429.6h0M107.6 401.0h0M88.8 454.4h0M103.8 455.0h0M94.6 469.9h0M86.3 471.0h0M87.7 448.8h0M115.4 467.3h0M101.2 469.9h0M115.5 437.1h0M88.4 467.2h0M98.5 471.2h0M91.7 467.3h0M86.5 440.9h0M85.0 430.6h0M88.2 448.3h0M109.0 403.8h0M88.6 466.7h0M96.1 470.9h0M96.9 440.3h0M99.6 467.6h0M109.3 450.5h0M86.8 432.5h0M131.7 420.0h0M91.5 467.6h0M95.3 466.6h0M100.1 429.8h0M105.7 391.5h0M92.5 472.5h0M98.3 454.4h0M104.2 471.4h0M113.6 405.5h0M88.0 452.8h0M85.2 432.9h0M103.4 453.3h0M85.4 457.1h0M109.7 393.9h0M96.4 452.0h0M91.3 471.4h0M104.2 405.3h0M85.7 420.5h0M88.2 439.7h0M87.8 457.8h0M89.3 457.4h0M97.0 462.4h0M112.3 464.8h0M91.6 469.9h0M87.2 431.1h0M89.6 462.4h0M99.2 447.7h0M84.5 413.5h0M91.2 460.4h0M106.8 454.1h0M99.7 440.9h0M109.4 464.8h0M96.6 460.0h0M84.6 435.6h0M105.2 447.3h0M91.1 457.6h0M103.5 437.8h0M99.3 465.6h0M107.0 465.1h0M84.1 464.8h0M92.1 470.1h0M87.8 457.2h0M103.3 440.7h0M99.6 461.9h0M106.9 454.0h0M101.9 447.9h0M89.3 464.2h0M90.1 448.3h0M113.6 469.6h0M91.8 468.0h0M110.3 382.7h0M99.0 446.2h0M88.4 453.6h0M91.4 465.4h0M105.8 445.2h0M90.8 469.1h0M95.9 455.8h0M103.7 437.9h0M87.8 456.3h0M95.9 446.7h0M99.9 453.1h0M99.1 455.0h0M91.2 470.1h0M92.2 471.4h0M97.0 453.0h0M100.1 413.2h0M110.4 402.6h0M92.5 468.0h0M91.2 458.3h0M101.9 394.8h0M102.0 443.8h0M83.5 461.3h0M88.1 464.8h0M108.9 425.6h0M94.3 469.3h0M79.6 417.9h0M99.9 457.9h0M91.6 463.4h0M109.8 426.5h0M99.5 427.4h0M98.6 458.1h0M98.1 472.4h0M97.8 430.5h0M106.2 426.6h0M96.2 461.2h0M100.7 403.9h0M85.7 412.1h0M91.8 465.7h0M98.5 460.8h0M104.0 444.7h0M96.2 470.8h0M95.1 465.1h0M73.7 424.1h0M87.5 462.3h0M95.8 455.3h0M90.9 462.8h0M102.6 471.9h0M108.0 419.5h0M86.7 433.6h0M84.2 470.0h0M90.7 472.4h0M104.7 398.2h0M100.1 461.5h0M97.2 445.1h0M94.9 470.9h0M103.4 423.1h0M100.1 454.7h0M91.1 468.7h0M91.2 470.7h0M96.3 445.4h0M86.3 473.0h0M119.6 459.4h0M101.6 437.8h0M85.5 471.2h0M80.0 469.9h0M85.0 454.6h0M96.9 471.3h0M96.9 471.3h0M89.8 471.4h0M103.4 470.2h0M97.3 455.4h0M86.5 452.1h0M100.3 438.5h0M90.4 455.2h0M90.6 458.7h0M97.1 446.5h0M97.2 446.3h0M107.4 468.7h0M80.1 463.4h0M100.1 462.5h0M95.2 464.7h0M109.3 469.4h0M91.1 470.9h0M89.6 464.4h0M102.6 459.0h0M90.3 459.2h0M86.5 464.3h0M98.9 439.8h0M100.2 424.6h0M91.7 461.2h0M116.1 424.0h0M101.0 446.9h0M127.5 377.7h0M87.8 458.4h0M96.7 451.7h0M94.6 469.3h0M101.4 456.8h0M107.2 460.1h0M101.7 469.6h0M98.4 459.4h0M96.0 471.3h0M84.1 467.7h0M97.2 463.1h0M91.5 462.9h0M95.5 472.6h0M99.9 454.7h0M108.2 468.8h0M107.6 454.1h0M111.3 464.0h0M92.1 468.3h0M114.6 456.9h0M108.6 462.2h0M95.5 467.4h0M86.5 453.8h0M83.2 428.6h0M103.2 436.6h0M84.2 467.3h0M96.8 438.5h0M88.9 458.2h0M89.5 459.5h0M107.5 436.2h0M102.7 463.7h0M91.9 466.9h0M91.8 472.1h0M88.5 463.3h0M101.4 465.2h0M120.7 401.3h0M104.7 378.1h0M95.3 467.0h0M97.0 470.0h0M107.2 468.1h0M72.9 373.0h0M101.3 453.6h0M96.7 451.4h0M99.2 466.8h0M89.3 454.1h0M104.2 462.0h0M89.0 470.1h0M89.2 448.7h0M99.2 470.8h0M114.2 436.2h0M86.8 472.1h0M120.7 462.7h0M95.2 458.8h0M95.8 464.8h0M119.1 455.6h0M100.7 455.3h0M123.9 443.6h0M90.6 455.2h0M99.1 456.3h0M85.5 451.3h0M100.4 472.5h0M102.2 408.3h0M98.5 441.9h0M101.9 427.5h0M98.0 432.0h0M98.4 441.0h0M107.4 473.0h0M89.1 461.4h0M97.0 458.6h0M84.9 420.2h0M90.3 447.5h0M84.0 425.2h0M91.3 460.1h0M88.5 456.1h0M90.5 463.5h0M104.0 462.0h0M87.9 447.6h0M97.9 468.8h0M98.1 423.4h0M112.0 452.1h0M91.6 468.9h0M78.6 467.9h0M94.9 471.0h0M87.3 427.8h0M70.1 469.9h0M105.8 462.0h0M86.4 431.4h0M114.5 453.5h0M97.4 443.5h0M90.1 454.6h0M97.6 456.0h0M88.1 455.1h0M129.9 373.0h0M98.2 438.8h0M110.8 472.2h0M94.7 469.3h0M97.3 439.7h0M87.4 440.1h0M100.6 465.0h0M97.8 428.9h0M100.1 472.3h0M109.2 455.2h0M113.0 450.8h0M99.9 453.0h0M88.7 443.3h0M92.8 471.5h0M108.4 402.4h0M72.4 443.9h0M91.5 463.7h0M97.1 441.3h0M89.9 466.0h0M98.8 458.6h0M95.6 463.1h0M102.2 422.8h0M90.8 470.2h0M87.6 442.4h0M106.7 440.9h0M87.9 469.4h0M89.8 466.9h0M90.9 460.5h0M95.5 466.7h0M105.0 435.7h0M108.9 456.3h0M88.1 430.8h0M87.0 456.2h0M111.3 459.6h0M105.2 412.1h0M86.1 460.9h0M110.6 421.3h0M100.7 442.8h0M85.2 424.5h0M99.1 429.8h0M96.2 463.2h0M91.4 465.0h0M87.4 457.3h0M91.5 468.6h0M85.7 465.7h0M97.2 454.6h0M127.0 471.7h0M124.9 466.4h0M83.2 451.8h0M109.2 421.6h0M98.2 429.5h0M98.0 470.9h0M90.3 458.3h0M97.4 459.1h0M96.6 444.5h0M107.6 457.6h0M96.7 442.3h0M97.1 439.9h0M101.5 463.6h0M98.5 447.3h0M90.5 462.3h0M96.8 437.1h0M102.6 468.6h0M97.8 448.2h0M90.8 463.2h0M82.8 452.8h0M85.8 422.4h0M87.6 468.2h0M87.1 458.0h0M104.6 461.3h0M99.4 469.8h0M96.0 454.5h0M98.1 441.1h0M96.2 470.0h0M114.7 427.7h0M90.5 460.4h0M81.5 465.0h0M89.8 471.7h0M106.2 424.8h0M115.3 444.0h0M85.6 472.2h0M94.6 472.8h0M96.8 468.5h0M87.5 468.9h0M107.0 411.4h0M83.9 405.1h0M97.3 469.9h0M92.3 472.8h0M76.6 410.8h0M82.4 469.2h0M77.5 377.8h0M86.2 447.7h0M90.0 453.3h0M97.9 467.6h0M100.6 469.1h0M106.3 445.5h0M115.7 469.5h0M89.3 472.7h0M108.5 468.9h0M95.5 456.4h0M96.2 461.9h0M90.0 467.6h0M94.8 461.5h0M89.9 466.1h0M99.0 449.4h0M88.9 472.2h0M90.4 469.5h0M95.7 463.2h0M104.0 443.8h0M109.6 464.9h0M83.2 431.1h0M91.6 470.3h0M111.8 455.0h0M97.7 448.7h0M84.9 465.6h0M97.2 443.0h0M101.5 467.4h0M96.2 463.4h0M90.9 466.4h0M86.5 430.5h0M98.8 421.6h0M106.6 446.7h0M99.4 450.8h0M89.4 466.4h0M107.9 464.4h0M96.4 465.9h0M97.5 452.9h0M85.9 433.2h0M97.2 442.6h0M98.0 446.2h0M84.0 457.1h0M120.9 373.1h0M108.2 472.1h0M92.5 466.6h0M85.9 468.4h0M102.5 420.2h0M95.0 468.1h0M89.0 467.2h0M98.5 447.0h0M112.1 468.8h0M90.0 453.3h0M95.4 460.8h0M88.5 460.2h0M81.2 399.3h0M87.0 470.0h0M102.3 447.5h0M91.4 462.4h0M106.0 446.9h0M99.9 440.0h0M95.7 454.4h0M95.5 456.9h0M96.9 459.2h0M101.5 431.0h0M86.7 432.7h0M96.6 443.6h0M91.0 469.8h0M105.2 472.5h0M90.4 450.0h0M98.8 434.5h0M90.1 467.3h0M89.0 455.6h0M94.8 472.6h0M125.5 433.8h0M86.0 438.9h0M107.3 412.2h0M100.2 418.7h0M96.5 471.6h0M90.3 469.2h0M113.0 403.1h0M83.5 463.7h0M102.1 448.7h0M101.4 467.2h0M97.6 427.2h0M96.7 467.2h0M96.3 466.0h0M97.0 467.2h0M114.2 432.3h0M91.3 465.0h0M88.7 456.2h0M89.5 468.5h0M98.0 432.5h0M90.1 467.4h0M106.4 416.7h0M98.1 423.1h0M121.4 448.8h0M99.9 422.3h0M91.5 470.5h0M104.9 439.8h0M82.9 467.0h0M86.1 435.7h0M81.8 448.7h0M100.2 467.4h0M85.0 452.6h0M105.8 461.5h0M88.2 464.6h0M89.9 460.2h0M88.5 459.4h0M107.7 471.8h0M99.8 471.4h0M69.7 464.3h0M102.6 467.9h0M100.7 422.5h0M88.7 449.1h0M100.1 444.9h0M97.9 451.3h0M95.7 466.3h0M99.5 402.9h0M123.2 373.0h0M91.0 470.8h0M100.2 469.4h0M97.2 448.8h0M88.6 456.9h0M105.5 460.1h0M100.8 431.7h0M94.5 465.9h0M85.9 472.3h0M88.2 438.4h0M102.2 449.0h0M100.8 462.8h0M88.8 459.2h0M97.4 452.9h0M107.1 437.4h0M89.4 468.2h0M101.3 462.5h0M88.7 461.3h0M90.8 471.9h0M82.8 430.1h0M90.0 450.6h0M103.7 428.3h0M102.5 447.2h0M103.4 451.0h0M91.5 467.2h0M90.8 467.2h0M122.8 465.3h0M103.6 467.6h0M92.4 468.5h0M86.4 436.4h0M116.5 465.5h0M97.0 463.5h0M91.0 468.5h0M106.1 467.5h0M92.2 470.2h0M100.3 454.5h0M106.2 459.0h0M97.8 467.4h0M91.5 468.5h0M98.5 465.1h0M94.9 467.0h0M102.2 413.9h0M100.7 390.8h0M102.7 435.0h0M89.7 460.7h0M88.1 468.5h0M90.3 464.4h0M88.6 455.1h0M86.1 469.3h0M97.5 445.7h0M89.4 457.5h0M95.3 456.9h0M74.5 458.4h0M87.6 446.8h0M107.4 447.9h0M90.1 448.6h0M102.3 440.1h0M89.3 471.7h0M116.0 462.9h0M98.9 472.7h0M108.7 453.9h0M96.9 435.9h0M112.0 433.8h0M90.4 469.7h0M89.5 454.9h0M104.1 454.1h0M89.1 446.2h0M100.6 452.3h0M90.0 456.9h0M88.9 458.5h0M97.7 459.7h0M90.5 467.1h0M95.0 466.6h0M99.4 460.0h0M98.0 423.9h0M96.1 461.3h0M89.7 455.6h0M90.9 464.9h0M80.5 470.5h0M97.4 458.3h0M88.8 450.7h0M94.7 468.6h0M119.0 467.4h0M99.4 432.4h0M80.6 449.7h0M96.7 470.1h0M122.0 452.4h0M90.1 467.5h0M119.0 465.7h0M89.9 446.5h0M90.9 469.4h0M100.6 406.7h0M100.0 471.5h0M99.3 412.7h0M82.2 472.7h0M88.1 457.3h0M99.9 453.3h0M87.8 445.2h0M97.2 470.5h0M103.7 403.1h0M103.5 463.0h0M84.4 457.4h0M97.7 468.5h0M96.7 469.9h0M87.4 467.1h0M100.9 395.0h0M89.7 469.5h0M104.1 422.4h0M88.7 468.2h0M98.9 459.7h0M90.9 472.6h0M91.9 471.6h0M99.1 434.0h0M88.2 463.4h0M84.1 433.4h0M92.0 467.0h0M96.8 433.6h0M88.6 444.6h0M88.7 453.1h0M99.9 471.3h0M98.7 434.4h0M104.7 388.2h0M111.8 461.0h0M84.8 471.3h0M97.8 457.8h0M90.5 472.8h0M112.9 443.7h0M105.8 470.5h0M82.6 456.5h0M101.8 429.7h0M89.7 461.1h0M88.0 459.8h0M88.0 443.9h0M102.1 442.3h0M100.5 447.5h0M95.7 462.2h0M88.9 451.8h0M94.8 470.8h0M85.7 432.6h0M89.8 460.3h0M98.4 443.9h0M86.9 447.7h0M97.8 440.6h0M98.8 465.2h0M97.5 456.1h0M109.0 391.2h0M121.1 457.9h0M100.7 463.4h0M96.8 433.6h0M98.1 428.9h0M86.8 437.5h0M133.3 373.0h0M90.3 470.2h0M86.1 449.4h0M100.6 464.4h0M89.9 471.6h0M88.0 434.9h0M96.1 459.6h0M88.3 452.2h0M110.3 451.2h0M100.4 472.2h0M99.6 463.4h0M102.9 462.8h0M104.4 457.7h0M98.8 472.0h0M89.2 461.2h0M94.1 470.7h0M92.4 468.9h0M86.2 459.5h0M88.4 465.7h0M119.2 461.5h0M85.9 462.5h0M117.4 442.5h0M97.4 445.4h0M89.4 470.6h0M89.2 443.5h0M100.1 439.0h0M100.9 440.9h0M90.5 464.5h0M97.0 434.5h0M96.6 448.7h0M99.8 446.1h0M101.4 443.0h0M88.0 437.7h0M115.2 462.0h0M120.3 467.8h0M120.2 435.5h0M91.5 462.5h0M95.4 459.3h0M90.5 462.5h0M87.4 457.0h0M102.7 410.4h0M95.7 470.9h0M87.9 464.6h0M97.7 471.1h0M98.7 432.3h0M95.4 455.6h0M100.8 462.7h0M96.1 469.6h0M105.7 458.9h0M102.9 462.5h0M107.4 385.1h0M100.8 452.3h0M90.9 469.7h0M98.1 424.6h0M96.3 461.9h0M104.2 468.6h0M99.0 462.5h0M88.9 452.3h0M98.0 452.5h0M103.0 395.5h0M91.0 469.1h0M91.4 467.5h0M98.8 465.8h0M87.2 442.1h0M69.8 399.2h0M81.3 431.8h0M96.0 459.8h0M122.5 460.6h0M91.7 472.2h0M85.4 459.3h0M103.9 469.5h0M95.2 460.2h0M129.1 441.0h0M90.2 462.7h0M86.8 457.2h0M85.0 471.1h0M91.2 461.8h0M87.3 460.0h0M106.6 372.8h0M76.9 463.4h0M86.8 442.3h0M85.0 437.8h0M89.4 463.8h0M85.3 412.7h0M84.0 459.6h0M88.7 448.8h0M96.3 466.6h0M89.0 445.5h0M105.7 403.9h0M100.1 448.4h0M102.2 398.1h0M99.1 466.5h0M97.9 443.6h0M124.6 426.2h0M106.3 441.8h0M90.7 455.5h0M83.3 470.3h0M94.4 472.9h0M84.8 466.0h0M96.9 457.6h0M110.0 424.4h0M91.3 469.6h0M95.5 457.0h0M101.3 393.2h0M89.8 462.2h0M81.0 452.2h0M91.8 461.8h0M89.7 465.7h0M108.2 457.8h0M104.9 462.7h0M107.0 442.3h0M88.6 456.7h0M97.6 445.8h0M90.8 464.8h0M90.0 471.3h0M95.7 466.9h0M88.6 439.6h0M89.2 467.0h0M90.1 464.7h0M95.1 471.3h0M108.5 437.2h0M84.5 470.0h0M97.8 453.4h0M120.2 414.9h0M116.8 452.8h0M89.1 453.6h0M104.7 455.3h0M84.1 461.1h0M97.8 468.7h0M113.9 429.8h0M98.9 409.5h0M90.4 455.5h0M110.4 450.1h0M85.5 464.8h0M100.6 425.1h0M102.6 427.3h0M105.4 416.0h0M67.1 431.0h0M88.0 472.4h0M89.4 462.0h0M90.1 447.0h0M100.1 449.2h0M98.3 453.4h0M104.0 461.2h0M78.2 414.6h0M80.6 406.7h0M104.8 427.3h0M111.9 434.6h0M100.2 430.3h0M92.1 471.9h0M79.8 436.9h0M129.6 375.7h0M89.9 467.2h0M80.0 446.6h0M92.8 472.0h0M100.4 458.7h0M90.0 453.6h0M107.0 445.4h0M97.5 449.4h0M81.8 467.5h0M97.9 461.4h0M110.5 428.7h0M102.2 445.7h0M103.7 443.0h0M91.9 468.2h0M90.8 469.2h0M90.1 452.4h0M97.8 468.9h0M99.3 469.4h0M83.6 471.6h0M97.5 467.4h0M86.4 465.4h0M88.5 456.2h0M84.5 432.3h0M110.3 437.0h0M100.7 472.7h0M83.4 454.0h0M96.0 467.3h0M131.3 463.2h0M88.3 456.7h0M97.9 459.2h0M86.0 472.8h0M85.6 454.4h0M89.9 470.9h0M99.9 468.0h0M90.8 468.2h0M95.2 471.4h0M120.2 455.0h0M99.1 463.2h0M101.3 465.3h0M69.7 468.3h0M97.8 451.2h0M87.9 448.4h0M87.4 437.9h0M83.9 432.9h0M90.7 461.4h0M98.3 426.5h0M114.1 469.0h0M98.9 471.7h0M124.1 454.2h0M97.3 462.5h0M94.4 469.7h0M87.8 462.7h0M89.6 459.6h0M86.1 460.3h0M86.3 467.2h0M102.9 472.2h0M90.3 471.7h0M97.8 435.8h0M83.0 457.6h0M106.5 428.3h0M109.5 428.3h0M90.5 467.2h0M83.2 466.5h0M90.6 466.2h0M101.9 454.4h0M83.6 462.6h0M90.5 463.9h0M106.0 461.1h0M89.4 449.0h0M102.7 396.8h0M102.9 433.1h0M112.7 468.4h0M85.1 472.1h0M85.2 471.4h0M98.7 410.7h0M76.3 413.9h0M87.6 437.2h0M95.1 472.9h0M89.3 444.4h0M81.6 472.1h0M98.0 460.4h0M88.8 443.0h0M88.6 466.5h0M98.3 470.9h0M92.8 472.5h0M100.0 461.7h0M84.8 437.2h0M92.1 470.8h0M85.6 461.2h0M99.5 443.0h0M75.3 441.1h0M114.8 471.2h0M91.9 471.6h0M95.4 469.4h0M101.7 462.9h0M89.1 470.2h0M97.8 468.2h0M90.4 464.5h0M97.5 430.4h0M101.6 425.8h0M102.7 462.2h0M100.4 462.5h0M100.9 457.0h0M97.3 445.2h0M91.0 469.8h0M95.2 467.7h0M100.2 400.8h0M87.9 449.5h0M96.5 448.2h0M99.8 467.8h0M75.7 411.7h0M98.8 410.7h0M98.1 471.8h0M109.1 377.7h0M101.2 463.3h0M108.8 450.6h0M88.9 459.3h0M104.2 420.9h0M104.6 445.0h0M104.4 382.3h0M86.0 438.5h0M97.6 424.3h0M104.7 412.4h0M88.8 455.6h0M100.6 450.8h0M91.6 463.1h0M84.7 455.1h0M95.5 459.1h0M85.9 465.7h0M80.7 465.6h0M111.1 444.8h0M97.2 447.5h0M103.7 441.6h0M90.6 471.0h0M96.7 452.9h0M101.3 421.9h0M91.7 469.3h0M115.3 394.7h0M96.4 454.8h0M113.4 448.5h0M89.4 462.7h0M95.2 463.2h0M90.8 472.8h0M113.9 435.5h0M101.5 467.2h0M89.3 466.0h0M94.5 473.0h0M91.4 462.6h0M101.5 399.0h0M111.8 452.9h0M91.2 469.1h0M84.1 467.6h0M100.7 472.1h0M90.6 465.2h0M100.5 455.5h0M98.7 461.7h0M99.6 434.0h0M131.4 470.2h0M92.4 470.2h0M100.3 449.0h0M117.2 417.1h0M98.4 465.2h0M87.6 462.6h0M109.4 458.8h0M99.1 434.3h0M119.9 460.8h0M87.9 452.5h0M100.5 418.5h0M85.7 434.5h0M88.2 467.8h0M126.4 382.1h0M89.5 464.5h0M92.0 469.3h0M107.3 443.1h0M92.0 468.2h0M90.8 471.1h0M81.8 384.1h0M88.7 460.9h0M82.9 454.1h0M80.9 455.1h0M110.6 439.8h0M74.8 467.5h0M101.2 451.0h0M100.6 444.3h0M90.8 462.6h0M99.2 438.3h0M101.9 422.8h0M103.8 463.3h0M105.7 434.1h0M86.2 438.5h0M91.8 468.3h0M81.6 460.2h0M99.9 399.4h0M95.0 466.8h0M96.8 464.3h0M102.7 440.2h0M106.8 440.4h0M91.7 465.4h0M99.1 446.9h0M98.3 467.7h0M101.1 445.0h0M96.9 468.4h0M106.5 450.6h0M103.3 437.2h0M97.7 471.0h0M109.6 468.8h0M101.5 452.2h0M86.0 447.9h0M96.6 448.7h0M104.3 469.9h0M101.5 451.3h0M96.7 441.6h0M95.9 471.7h0M96.1 471.7h0M112.3 444.8h0M103.2 452.2h0M103.0 470.6h0M87.3 468.9h0M112.2 391.7h0M94.4 470.6h0M95.8 455.4h0M88.0 470.1h0M75.1 471.8h0M102.2 452.1h0M86.2 428.5h0M98.5 458.2h0M114.7 441.7h0M100.0 446.4h0M90.1 459.6h0M103.9 442.2h0M97.3 450.8h0M92.4 471.1h0M110.1 408.6h0M102.5 472.5h0M103.9 457.4h0M97.2 447.2h0M102.1 445.3h0M99.1 441.0h0M103.5 438.1h0M107.7 460.9h0M95.1 467.2h0M87.9 446.3h0M88.5 468.1h0M98.6 467.3h0M88.0 464.0h0M94.5 467.9h0M116.7 470.5h0M86.2 453.4h0M101.8 470.4h0M102.2 435.3h0M88.0 443.6h0M73.0 449.3h0M102.2 442.5h0M90.1 459.6h0M96.4 445.6h0M98.5 470.7h0M102.1 453.3h0M81.9 445.0h0M112.8 429.4h0M82.5 468.3h0M99.2 456.4h0M91.9 464.2h0M102.7 416.7h0M103.8 451.9h0M86.9 452.6h0M98.3 460.0h0M101.8 464.7h0M109.7 465.1h0M100.1 427.0h0M89.4 452.8h0M89.1 442.1h0M96.6 462.0h0M114.8 453.6h0M96.9 451.8h0M101.6 450.9h0M100.4 464.6h0M109.3 462.5h0M111.6 408.5h0M109.7 458.6h0M79.1 407.9h0M106.8 466.6h0M87.7 466.2h0M99.9 401.2h0M99.8 399.2h0M116.2 464.0h0M96.3 469.7h0M90.6 467.9h0M91.0 471.7h0M107.3 449.8h0M99.3 456.7h0M86.3 430.5h0M99.4 452.1h0M84.9 437.9h0M97.8 429.7h0M88.5 442.3h0M102.2 460.1h0M88.5 464.8h0M92.1 471.8h0M106.4 402.2h0M97.8 447.8h0M83.1 472.7h0M100.0 438.8h0M81.9 465.0h0M101.3 385.0h0M98.8 452.5h0M96.5 448.6h0M116.3 401.3h0M103.6 470.1h0M105.2 462.1h0M98.3 471.7h0M96.1 467.6h0M105.4 452.6h0M104.6 443.2h0M98.2 471.2h0M107.9 451.3h0M95.4 471.6h0M97.0 445.6h0M96.7 459.2h0M102.0 388.5h0M100.8 467.7h0M101.1 452.3h0M91.5 472.5h0M108.1 384.4h0M100.2 437.5h0M88.7 466.6h0M106.0 465.0h0M91.8 470.6h0M104.2 457.0h0M96.8 445.3h0M84.4 458.0h0M96.1 465.4h0M106.1 450.1h0M83.7 422.8h0M98.9 468.8h0M90.2 460.7h0M100.6 404.1h0M105.0 449.2h0M113.6 374.1h0M104.8 407.2h0M84.9 422.5h0M97.1 438.0h0M97.8 449.1h0M107.2 372.8h0M84.0 408.1h0M82.5 469.6h0M124.1 373.0h0M104.6 405.3h0M95.6 459.2h0M99.2 435.1h0M89.7 445.1h0M98.7 433.3h0M97.8 459.8h0M81.6 402.2h0M85.8 464.1h0M98.9 468.2h0M95.1 465.2h0M80.5 470.2h0M101.2 429.8h0M87.2 470.2h0M79.1 456.1h0M100.1 411.1h0M107.4 458.8h0M106.0 459.0h0M104.1 391.1h0M87.1 454.5h0M112.2 439.0h0M84.2 427.3h0M91.8 467.4h0M97.2 453.9h0M100.9 465.3h0M99.6 436.4h0M98.0 463.3h0M98.7 466.1h0M97.9 442.4h0M91.2 470.8h0M86.6 471.4h0M97.3 456.6h0M100.2 428.7h0M87.9 469.5h0M87.1 448.5h0M85.6 470.1h0M109.6 441.5h0M98.6 437.6h0M82.3 461.4h0M98.5 449.0h0M86.7 450.2h0M86.6 464.7h0M82.5 469.4h0M96.7 471.1h0M100.8 459.4h0M87.9 472.1h0M90.7 458.5h0M98.0 470.3h0M94.9 468.1h0M104.2 402.8h0M117.8 446.5h0M91.7 467.9h0M89.2 453.1h0M101.6 471.5h0M84.9 465.4h0M95.6 456.7h0M109.7 452.6h0M102.0 472.1h0M91.1 456.7h0M89.8 459.7h0M99.6 426.8h0M95.3 465.8h0M101.2 420.9h0M104.8 413.7h0M90.2 450.9h0M90.4 455.0h0M87.9 451.3h0M99.6 457.5h0M89.5 464.6h0M89.9 471.0h0M100.8 449.6h0M99.8 421.3h0M87.6 464.8h0M103.9 439.6h0M88.1 464.7h0M84.4 455.2h0M88.2 452.2h0M106.6 435.9h0M89.2 459.0h0M108.7 436.3h0M80.3 435.7h0M114.9 432.7h0M117.2 434.6h0M88.0 469.8h0M90.2 469.9h0M88.5 461.8h0M90.7 471.7h0M83.1 443.3h0M112.2 442.3h0M105.0 460.2h0M106.2 454.1h0M90.1 460.6h0M108.2 457.8h0M124.8 410.6h0M98.7 450.1h0M88.4 447.1h0M89.6 458.8h0M97.3 435.8h0M128.3 472.7h0M100.6 445.4h0M76.1 470.0h0M102.6 425.9h0M106.8 463.3h0M87.6 434.9h0M137.2 377.8h0M117.0 465.2h0M105.0 442.6h0M103.2 429.5h0M91.0 467.3h0M98.9 425.9h0M98.0 452.0h0M91.0 467.3h0M105.3 417.9h0M82.4 467.8h0M89.7 467.2h0M89.8 471.9h0M99.8 418.2h0M90.2 457.5h0M104.1 430.9h0M98.0 448.1h0M97.5 432.1h0M101.0 472.5h0M83.7 454.8h0M99.6 451.0h0M77.4 453.8h0M97.0 468.0h0M91.3 468.9h0M106.8 456.2h0M80.6 452.3h0M100.8 461.2h0M91.6 472.0h0M96.8 467.7h0M110.6 471.9h0M87.8 393.9h0M88.8 457.3h0M97.1 464.1h0M102.7 456.5h0M110.2 466.9h0M89.0 444.0h0M97.0 469.4h0M92.3 468.9h0M96.3 466.3h0M103.1 465.2h0M81.7 454.2h0M101.7 445.6h0M92.7 472.6h0M101.6 388.8h0M89.4 442.8h0M89.9 469.8h0M82.4 447.9h0M96.8 447.4h0M100.3 425.9h0M86.3 456.7h0M100.5 469.3h0M87.3 455.4h0M87.7 429.1h0M101.7 444.9h0M99.2 418.6h0M95.7 469.5h0M83.7 442.8h0M76.4 466.7h0M90.7 458.7h0M96.2 471.1h0M95.1 459.4h0M116.0 465.9h0M91.7 472.5h0M103.6 391.9h0M100.9 386.9h0M114.2 466.0h0M92.8 472.8h0M99.5 413.7h0M100.1 469.7h0M102.9 452.8h0M89.9 460.4h0M100.7 411.0h0M92.3 466.6h0M90.3 461.6h0M98.4 435.1h0M99.6 463.8h0M87.8 468.0h0M102.1 397.5h0M107.3 436.7h0M98.0 470.1h0M102.4 401.4h0M128.3 446.5h0M91.4 470.2h0M98.6 420.0h0M89.6 451.0h0M101.8 457.2h0M106.4 432.7h0M104.9 395.6h0M96.0 467.8h0M90.7 465.4h0M86.9 472.3h0M107.0 435.2h0M84.6 451.3h0M91.0 467.8h0M92.1 472.3h0M89.5 445.0h0M95.9 457.2h0M100.9 449.4h0M86.1 433.6h0M89.7 467.8h0M88.2 470.8h0M87.2 437.9h0M103.3 461.0h0M104.5 453.6h0M99.1 470.4h0M102.2 451.6h0M121.6 421.9h0M90.9 468.6h0M96.4 459.5h0M102.4 411.8h0M118.1 434.0h0M95.2 460.0h0M103.8 449.5h0M109.0 413.1h0M98.3 460.0h0M91.1 458.7h0M98.3 464.8h0M88.0 472.7h0M103.9 448.7h0M89.5 467.3h0M106.5 463.8h0M104.3 434.5h0M102.0 452.4h0M99.7 444.1h0M84.3 427.0h0M106.2 448.4h0M106.7 451.6h0M98.0 427.8h0M115.5 440.5h0M100.8 435.2h0M97.7 453.2h0M95.6 462.2h0M86.7 436.3h0M74.2 471.5h0M98.5 467.2h0M77.7 372.9h0M97.3 469.6h0M106.5 405.1h0M97.5 464.2h0M85.9 450.7h0M88.0 430.2h0M100.4 472.9h0M103.4 452.0h0M83.8 456.8h0M84.9 472.6h0M107.2 444.3h0M95.3 462.6h0M105.2 399.4h0M97.6 426.5h0M99.9 464.1h0M103.1 468.3h0M108.8 421.3h0M100.8 454.1h0M97.6 446.8h0M113.0 423.8h0M95.4 457.9h0M122.9 472.4h0M83.5 469.6h0M86.6 455.1h0M91.6 472.9h0M119.8 472.3h0M95.5 467.8h0M81.7 442.5h0M90.2 465.1h0M99.8 409.5h0M90.3 464.3h0M104.9 449.5h0M89.5 458.4h0M73.0 418.5h0M86.7 458.1h0M100.3 402.6h0M98.5 425.7h0M99.0 467.3h0M91.1 460.1h0M107.6 440.2h0M110.1 466.0h0M102.1 380.8h0M103.4 444.3h0M121.4 459.6h0M107.0 439.5h0M100.6 417.5h0M100.5 466.4h0M115.7 412.0h0M114.5 449.9h0M105.3 422.0h0M88.5 438.8h0M98.6 462.3h0M82.7 443.4h0M97.4 451.9h0M88.0 461.6h0M98.9 433.5h0M85.2 463.0h0M97.2 471.7h0M87.3 436.5h0M97.2 435.0h0M98.9 456.3h0M98.3 455.6h0M108.7 431.4h0M82.7 460.9h0M97.4 453.2h0M95.7 455.1h0M101.9 455.6h0M95.2 461.3h0M134.9 446.6h0M101.8 467.8h0M89.8 464.1h0M100.9 440.6h0M86.5 442.9h0M91.6 468.5h0M96.6 469.4h0M103.7 458.3h0M104.1 472.6h0M89.0 456.1h0M76.2 464.0h0M97.4 440.2h0M102.7 400.6h0M96.2 472.6h0M100.1 465.5h0M82.9 448.2h0M103.6 382.3h0M97.8 426.0h0M87.3 470.9h0M100.5 457.3h0M87.8 448.6h0M89.5 459.7h0M90.3 462.8h0M88.5 460.2h0M109.7 453.0h0M95.9 459.8h0M110.9 442.3h0M90.8 459.8h0M106.5 444.2h0M87.9 461.1h0M97.0 455.0h0M100.1 438.4h0M80.5 433.3h0M100.1 454.2h0M103.4 450.3h0M98.0 430.5h0M95.0 471.2h0M88.7 452.7h0M102.2 441.4h0M96.3 470.7h0M87.2 445.6h0M82.6 450.8h0M87.6 463.4h0M98.0 450.0h0M89.9 466.6h0M85.5 417.1h0M91.3 459.9h0M101.9 457.7h0M113.1 426.7h0M100.2 429.9h0M106.2 454.1h0M110.8 463.0h0M103.0 409.0h0M90.4 471.8h0M106.6 471.9h0M91.2 469.0h0M91.0 465.6h0M82.4 461.4h0M102.4 470.3h0M88.8 449.9h0M120.0 435.4h0M89.2 446.2h0M86.8 467.6h0M97.3 469.5h0M80.1 437.5h0M100.7 418.4h0M102.7 425.9h0M96.7 437.7h0M97.0 464.5h0M106.9 441.4h0M99.4 428.4h0M108.5 453.8h0M97.7 469.5h0M103.0 472.0h0M98.7 428.9h0M104.1 467.2h0M96.0 463.6h0M129.3 466.5h0M98.4 412.7h0M87.7 463.0h0M86.5 457.1h0M86.8 440.6h0M99.2 451.9h0M91.2 458.7h0M95.5 472.5h0M104.4 467.1h0M79.9 471.8h0M98.6 471.3h0M91.3 471.2h0M102.9 426.2h0M97.9 423.6h0M107.9 412.5h0M97.9 455.1h0M89.4 448.8h0M99.4 407.4h0M114.0 472.5h0M107.3 457.6h0M91.8 466.7h0M101.8 440.6h0M91.3 467.2h0M105.6 455.8h0M95.6 466.2h0M109.7 472.2h0M100.2 446.4h0M119.9 431.4h0M89.4 465.5h0M86.1 450.2h0M82.2 450.8h0M89.3 443.1h0M100.9 452.0h0M85.7 472.4h0M105.4 461.0h0M89.8 469.3h0M100.2 394.0h0M83.7 464.8h0M92.4 469.7h0M108.8 462.1h0M108.5 466.0h0M114.8 419.1h0M109.4 446.2h0M86.9 469.1h0M104.8 469.8h0M101.9 453.9h0M84.9 472.4h0M87.5 470.8h0M109.2 470.7h0M94.8 472.6h0M98.9 452.9h0M100.0 426.8h0M91.0 468.8h0M102.4 419.1h0M104.6 399.6h0M90.3 454.9h0M101.3 442.7h0M96.9 464.5h0M108.2 469.4h0M97.5 466.8h0M97.0 460.6h0M120.4 461.6h0M80.9 462.5h0M88.1 439.6h0M97.2 470.4h0M109.5 442.3h0M100.5 401.8h0M102.9 469.9h0M99.7 471.0h0M88.0 446.1h0M108.7 453.4h0M99.0 436.3h0M97.0 469.5h0M98.8 424.1h0M98.5 472.1h0M102.9 412.7h0M88.3 455.3h0M95.6 469.1h0M99.1 461.0h0M94.8 463.6h0M87.5 452.1h0M116.7 395.0h0M109.0 456.1h0M90.5 459.8h0M103.6 401.0h0M101.0 404.7h0M98.7 454.5h0M94.8 467.4h0M97.6 465.5h0M96.7 460.3h0M86.2 460.8h0M91.7 471.5h0M96.4 458.8h0M103.3 466.9h0M83.5 463.0h0M106.1 453.4h0M97.0 455.4h0M105.1 467.5h0M104.0 468.8h0M91.9 473.0h0M95.0 461.9h0M97.7 444.2h0M97.1 446.4h0M87.0 472.4h0M90.4 468.4h0M91.8 464.2h0M98.9 426.6h0M100.2 439.9h0M116.8 458.4h0M101.9 445.4h0M90.8 461.5h0M88.3 437.1h0M104.5 443.5h0M108.6 462.1h0M96.7 472.0h0M100.8 469.3h0M98.8 453.5h0M91.5 471.3h0M101.6 418.3h0M119.0 408.1h0M100.2 458.3h0M112.9 458.7h0M90.2 467.3h0M95.4 457.5h0M107.3 413.2h0M90.0 450.7h0M87.0 470.0h0M131.7 457.5h0M108.4 469.8h0M105.0 459.2h0M73.4 435.4h0M97.0 438.4h0M100.5 471.2h0M96.0 472.0h0M99.6 469.8h0M113.5 443.6h0M116.1 434.1h0M86.0 452.7h0M92.4 468.9h0M88.7 441.3h0M91.3 467.4h0M96.3 462.0h0M86.9 465.6h0M81.5 459.5h0M99.5 453.3h0M88.0 468.0h0M85.0 460.6h0M105.5 401.6h0M96.7 467.3h0M85.8 470.6h0M98.5 411.4h0M135.7 392.4h0M108.0 461.3h0M97.4 449.0h0M109.5 458.5h0M89.8 469.1h0M99.3 467.4h0M113.1 434.5h0M105.2 469.6h0M91.3 461.3h0M94.9 470.7h0M99.7 443.4h0M94.7 464.2h0M96.6 449.2h0M101.6 441.7h0M100.8 406.8h0M101.5 443.4h0M88.1 443.7h0M98.5 418.2h0M92.5 472.9h0M97.4 468.1h0M103.2 405.3h0M85.6 442.5h0M94.7 470.3h0M106.2 394.8h0M108.3 394.3h0M98.5 470.5h0M101.8 469.8h0M88.7 463.4h0M98.7 426.0h0M111.9 430.1h0M99.7 450.9h0M106.3 457.4h0M98.0 467.8h0M113.2 466.2h0M108.1 426.5h0M97.6 462.0h0M87.7 437.2h0M92.3 469.3h0M103.0 409.3h0M109.2 436.9h0M95.8 459.4h0M100.6 454.9h0M82.2 454.5h0M112.8 455.8h0M97.8 439.8h0M86.5 461.8h0M103.9 416.7h0M87.5 459.7h0M99.8 472.2h0M91.8 472.3h0M99.4 455.6h0M96.0 454.4h0M111.8 458.2h0M101.8 456.6h0M96.3 462.3h0M105.7 472.5h0M99.1 468.9h0M87.4 439.4h0M101.8 446.5h0M100.8 432.0h0M106.3 384.4h0M103.0 466.1h0M95.3 462.8h0M85.3 420.4h0M89.1 463.1h0M96.0 468.4h0M96.4 454.9h0M111.6 422.1h0M92.2 467.7h0M106.4 458.7h0M103.7 465.4h0M97.2 464.3h0M96.9 461.0h0M99.3 459.9h0M94.9 467.1h0M86.1 469.9h0M89.5 467.8h0M114.2 449.5h0M89.1 463.4h0M106.9 390.8h0M79.3 436.8h0M104.8 468.8h0M85.7 459.0h0M87.3 467.2h0M108.6 459.9h0M103.1 467.7h0M85.5 456.1h0M99.1 432.2h0M94.6 472.2h0M88.2 444.8h0M100.9 401.7h0M86.1 466.9h0M117.8 460.3h0M132.0 399.2h0M95.1 462.9h0M115.1 450.7h0M87.1 465.5h0M91.5 472.5h0M105.3 463.4h0M97.8 460.2h0M81.8 431.9h0M86.0 448.8h0M107.3 458.6h0M96.2 443.5h0M100.1 411.4h0M101.1 466.6h0M86.0 470.5h0M129.2 372.9h0M107.5 444.2h0M111.7 455.2h0M68.3 417.2h0M96.5 445.1h0M97.1 456.2h0M97.6 460.2h0M96.3 451.4h0M105.0 432.5h0M89.4 464.9h0M100.4 466.4h0M86.6 471.0h0M91.1 461.0h0M87.1 453.6h0M105.2 441.2h0M90.2 453.3h0M114.0 462.5h0M102.3 434.1h0M95.4 469.5h0M98.1 471.3h0M112.3 406.1h0M83.7 467.7h0M100.1 459.1h0M104.7 456.9h0M90.9 458.3h0M97.5 455.6h0M88.1 462.7h0M82.5 464.8h0M109.1 457.8h0M104.4 441.9h0M91.8 471.8h0M98.8 443.3h0M89.0 443.9h0M100.0 439.4h0M96.2 462.8h0M82.7 471.8h0M100.0 433.1h0M91.8 472.9h0M104.1 457.0h0M96.9 437.0h0M105.8 455.2h0M99.2 419.7h0M85.5 470.3h0M113.0 465.4h0M98.3 462.1h0M102.8 447.5h0M111.1 380.5h0M100.1 431.7h0M99.9 416.3h0M105.1 399.1h0M92.1 467.9h0M108.5 471.6h0M89.4 459.7h0M99.9 455.7h0M106.0 467.5h0M88.7 456.0h0M121.4 450.9h0M106.0 462.8h0M97.3 469.3h0M108.3 453.1h0M96.3 462.8h0M90.1 472.3h0M69.0 413.2h0M90.0 471.5h0M104.6 440.4h0M94.5 467.7h0M95.3 463.5h0M90.1 472.2h0M109.9 456.8h0M97.4 463.9h0M85.0 460.5h0M101.3 448.6h0M97.9 454.2h0M96.3 472.0h0M108.0 438.3h0M102.2 463.0h0M110.1 442.8h0M89.2 465.4h0M90.4 471.5h0M84.8 451.7h0M100.5 434.8h0M96.0 459.0h0M97.1 443.4h0M118.1 468.4h0M95.0 472.3h0M98.9 470.4h0M97.9 428.4h0M101.1 446.0h0M101.1 466.0h0M91.5 461.3h0M100.0 461.8h0M94.3 470.1h0M98.6 436.7h0M88.6 457.5h0M98.0 469.2h0M88.6 439.2h0M101.5 461.6h0M86.4 445.9h0M88.8 463.2h0M108.2 440.3h0M102.5 471.2h0M96.0 471.0h0M106.9 428.5h0M91.8 466.8h0M109.6 439.9h0M112.1 405.5h0M97.1 461.8h0M83.0 463.1h0M116.3 455.5h0M95.8 468.4h0M88.2 466.3h0M90.3 457.4h0M103.8 391.6h0M84.5 413.5h0M89.7 465.2h0M100.3 455.7h0M85.4 462.8h0M107.4 446.6h0M87.0 468.4h0M83.1 467.8h0M107.7 386.1h0M118.6 433.3h0M87.4 458.2h0M96.3 447.7h0M99.2 408.2h0M106.6 422.4h0M112.1 470.4h0M83.3 438.8h0M90.1 458.7h0M86.2 464.9h0M89.1 453.1h0M86.3 449.4h0M109.1 453.5h0M96.8 468.9h0M90.8 467.1h0M86.7 469.2h0M92.0 468.1h0M85.7 414.9h0M87.3 471.4h0M100.6 422.3h0M91.8 472.0h0M85.7 454.6h0M91.0 467.0h0M97.7 472.7h0M81.8 459.8h0M118.0 430.2h0M94.8 467.8h0M92.1 469.6h0M86.8 467.5h0M86.6 432.1h0M87.8 464.6h0M91.6 460.5h0M87.5 431.3h0M90.5 469.7h0M85.1 460.2h0M103.5 419.7h0M105.0 466.9h0M101.4 424.6h0M95.4 472.9h0M114.9 469.6h0M99.8 472.4h0M92.5 471.4h0M98.1 466.0h0M101.7 442.8h0M84.4 452.3h0M98.3 436.3h0M97.3 468.0h0M102.2 460.1h0M81.9 455.3h0M85.4 467.8h0M87.7 457.1h0M116.2 471.7h0M101.6 415.3h0M98.9 469.7h0M103.5 462.0h0M99.8 453.0h0M102.4 425.4h0M103.9 451.7h0M100.8 455.9h0M89.4 464.8h0M96.4 451.6h0M90.5 471.3h0M102.0 470.1h0M103.0 456.3h0M109.3 385.7h0M98.1 441.2h0M91.5 466.9h0M87.5 430.4h0M103.6 468.3h0M105.9 440.4h0M80.0 451.8h0M98.2 467.0h0M95.5 458.9h0M100.9 385.6h0M92.4 471.7h0M102.5 446.0h0M89.4 455.0h0M102.2 399.2h0M77.6 457.8h0M91.1 465.7h0M96.2 462.2h0M95.9 457.2h0M115.9 465.1h0M98.3 460.4h0M89.5 458.4h0M103.2 459.9h0M90.7 464.4h0M97.5 454.5h0M112.6 448.0h0M84.9 472.4h0M91.5 466.9h0M88.1 443.0h0M96.1 465.9h0M89.4 458.7h0M86.5 425.4h0M96.2 470.9h0M107.9 457.3h0M85.7 467.2h0M98.2 463.9h0M90.0 459.6h0M86.0 457.4h0M95.6 472.1h0M107.8 470.9h0M98.7 460.1h0M110.7 466.1h0M131.1 446.3h0M100.3 440.1h0M87.2 469.3h0M85.3 466.5h0M117.7 469.7h0M91.1 467.3h0M90.5 466.6h0M82.9 450.1h0M100.4 456.2h0M99.3 468.7h0M87.6 444.1h0M104.9 448.0h0M98.6 463.1h0M95.5 463.4h0M91.2 461.4h0M119.4 412.6h0M88.2 434.6h0M105.5 448.8h0M109.4 436.7h0M97.2 459.5h0M86.1 468.7h0M83.9 433.1h0M101.9 464.8h0M99.8 463.0h0M102.0 451.3h0M129.1 429.8h0M89.1 465.5h0M96.0 464.9h0M98.4 433.2h0M96.7 470.8h0M87.3 472.2h0M84.5 465.7h0M86.2 431.6h0M85.5 455.4h0M80.7 472.3h0M90.8 457.9h0M87.6 447.4h0M97.3 447.3h0M99.4 470.6h0M109.3 450.3h0M113.2 419.9h0M95.2 472.9h0M84.6 469.2h0M96.8 467.4h0M87.7 437.1h0M98.9 420.5h0M115.2 435.7h0M109.8 461.9h0M81.0 436.1h0M101.1 468.7h0M100.8 448.3h0M90.6 466.9h0M81.8 450.0h0M87.2 468.6h0M98.4 452.9h0M89.8 461.7h0M97.4 471.6h0M99.3 431.3h0M85.9 428.1h0M83.9 453.5h0M96.0 465.1h0M97.0 464.2h0M98.3 425.1h0M106.7 455.0h0M96.0 463.0h0M109.1 447.5h0M101.5 463.2h0M90.6 465.4h0M103.2 406.2h0M91.0 471.1h0M86.7 432.8h0M84.5 463.4h0M87.3 423.9h0M102.0 436.2h0M122.3 465.2h0M107.1 468.8h0M99.6 418.3h0M122.7 446.7h0M100.8 419.0h0M103.7 428.1h0M97.6 461.7h0M92.2 470.9h0M99.4 464.1h0M86.3 419.8h0M90.3 455.6h0M99.8 463.7h0M87.9 462.3h0M106.9 445.9h0M89.0 449.3h0M103.2 458.4h0M92.4 469.6h0M100.6 382.4h0M91.7 471.8h0M89.9 464.8h0M88.0 430.8h0M100.5 468.8h0M89.0 453.7h0M91.1 464.6h0M100.7 472.1h0M94.9 467.1h0M103.1 454.6h0M82.6 446.9h0M89.9 455.4h0M89.0 468.8h0M100.3 414.2h0M89.7 468.0h0M82.7 413.5h0M114.0 458.5h0M101.1 394.3h0M86.4 452.5h0M94.2 471.8h0M96.3 454.3h0M106.1 473.0h0M115.7 454.9h0M89.4 470.7h0M105.6 472.4h0M97.6 429.9h0M100.7 460.7h0M98.5 417.8h0M97.9 449.3h0M100.8 427.0h0M101.6 436.3h0M127.9 402.9h0M97.0 445.2h0M89.7 469.4h0M104.3 451.8h0M91.8 469.0h0M90.3 466.5h0M89.9 460.9h0M88.7 442.7h0M95.2 464.5h0M92.8 472.7h0M112.3 435.6h0M100.9 432.6h0M74.0 453.6h0M85.8 471.9h0M112.7 418.2h0M90.6 461.1h0M101.4 463.8h0M97.5 450.7h0M90.4 461.4h0M89.1 457.5h0M110.0 446.7h0M84.8 458.4h0M103.6 443.8h0M81.8 442.2h0M105.6 420.2h0M97.1 443.7h0M91.9 467.8h0M91.8 469.7h0M99.7 470.4h0M96.5 467.6h0M105.2 442.9h0M89.7 459.7h0M90.3 463.2h0M100.5 416.6h0M109.7 453.1h0M128.7 461.1h0M97.9 439.2h0M89.5 468.6h0M82.9 448.7h0M133.3 373.0h0M87.9 436.3h0M91.1 471.2h0M106.0 396.9h0M94.8 470.9h0M101.3 461.0h0M91.9 467.4h0M100.0 420.4h0M100.0 399.6h0M108.6 417.5h0M106.1 451.9h0M89.8 468.9h0M111.5 450.9h0M108.0 444.2h0M106.3 457.4h0M97.0 464.6h0M99.5 468.3h0M89.8 465.0h0M96.4 472.2h0M107.0 445.4h0M118.9 386.3h0M101.8 383.9h0M96.6 466.3h0M101.0 449.1h0M86.6 424.2h0M91.7 465.9h0M87.8 463.5h0M98.8 422.1h0M100.6 391.8h0M90.1 448.2h0M80.0 447.4h0M84.7 463.5h0M95.6 464.8h0M96.2 470.0h0M95.7 471.0h0M90.5 465.4h0M90.8 456.2h0M113.1 442.2h0M86.0 467.7h0M89.8 471.0h0M121.4 428.8h0M101.7 425.9h0M108.0 470.4h0M84.7 465.4h0M99.1 406.5h0M101.6 462.7h0M109.4 444.2h0M89.3 467.0h0M101.6 437.6h0M104.7 464.0h0M91.2 459.9h0M99.1 425.7h0M100.6 470.8h0M86.8 471.6h0M108.5 467.7h0M96.5 442.6h0M87.1 471.2h0M86.3 471.5h0M87.2 447.1h0M95.7 461.1h0M96.2 469.3h0M84.1 460.9h0M101.7 395.6h0M99.2 454.4h0M97.3 455.4h0M109.6 450.4h0M89.5 447.3h0M89.0 458.5h0M78.7 452.4h0M99.2 469.3h0M90.8 460.8h0M98.2 436.8h0M99.6 471.6h0M103.8 447.2h0M97.3 455.8h0M87.4 427.9h0M100.4 452.9h0M89.0 463.9h0M99.1 469.8h0M102.1 444.4h0M96.5 465.6h0M88.0 438.0h0M91.4 468.8h0M100.7 469.5h0M108.0 467.7h0M111.6 421.4h0M98.4 457.6h0M85.6 439.9h0M96.3 461.1h0M90.9 455.0h0M108.4 424.8h0M83.4 439.9h0M89.7 468.8h0M101.9 443.5h0M103.4 465.7h0M105.1 425.2h0M119.7 415.9h0M89.6 471.9h0M90.5 462.4h0M83.1 450.3h0M114.5 467.9h0M98.9 463.6h0M95.1 466.1h0M102.8 453.8h0M92.3 472.5h0M97.7 454.8h0M88.8 458.8h0M86.6 463.0h0M91.7 467.9h0M89.9 455.2h0M92.6 472.9h0M117.1 400.3h0M92.9 470.2h0M89.6 455.5h0M139.4 461.8h0M101.8 447.1h0M90.5 467.8h0M109.9 442.1h0M91.1 472.2h0M106.1 466.0h0M113.2 441.6h0M86.4 430.7h0M101.8 433.8h0M100.0 461.3h0M80.4 471.8h0M96.3 458.2h0M96.3 456.8h0M101.9 408.1h0M97.1 447.0h0M85.2 422.1h0M91.8 472.2h0M103.4 409.6h0M96.3 459.7h0M101.6 433.9h0M99.8 471.8h0M98.7 453.9h0M89.6 465.5h0M107.6 469.0h0M86.8 467.8h0M106.3 469.9h0M89.8 457.8h0M90.8 465.0h0M99.3 469.6h0M86.3 471.5h0M85.0 459.9h0M97.4 466.2h0M91.7 463.6h0M84.0 424.7h0M98.7 467.5h0M87.4 443.6h0M107.6 444.6h0M82.4 404.1h0M89.6 469.4h0M91.8 465.1h0M94.7 469.0h0M103.7 425.0h0M100.1 434.6h0M103.3 426.1h0M102.9 467.4h0M94.4 470.9h0M79.4 405.5h0M102.1 409.3h0M91.6 466.5h0M105.9 422.5h0M109.4 467.9h0M90.0 467.5h0M102.7 463.0h0M97.5 451.1h0M97.3 458.7h0M84.5 470.7h0M102.1 461.7h0M111.8 460.5h0M86.9 459.2h0M83.2 398.1h0M100.5 450.7h0M103.2 410.8h0M103.0 449.3h0M83.7 447.1h0M88.7 462.1h0M105.8 459.7h0M89.0 464.2h0M127.9 397.0h0M103.1 428.4h0M90.4 466.8h0M105.4 427.3h0M97.3 470.6h0M95.7 457.8h0M101.8 460.5h0M95.0 470.7h0M90.1 451.8h0M102.2 468.5h0M95.3 460.7h0M100.4 441.6h0M95.3 467.3h0M108.1 469.2h0M92.0 466.4h0M100.2 462.1h0M120.9 422.8h0M78.6 390.5h0M97.4 454.2h0M103.0 380.8h0M85.9 449.6h0M96.5 458.6h0M82.7 421.6h0M111.6 403.7h0M101.6 414.0h0M96.2 462.8h0M98.8 458.0h0M95.4 458.3h0M106.3 381.3h0M91.7 468.0h0M103.5 450.3h0M107.4 444.2h0M109.5 448.2h0M91.7 468.1h0M102.1 469.5h0M89.7 453.8h0M98.3 432.4h0M116.0 459.9h0M114.5 427.4h0M127.7 428.5h0M87.8 456.8h0M71.4 465.4h0M97.4 471.9h0M81.5 443.7h0M99.7 459.8h0M90.3 448.3h0M89.5 472.8h0M92.0 468.4h0M91.5 470.5h0M87.3 461.5h0M108.6 429.3h0M88.8 465.3h0M88.5 454.6h0M103.7 456.1h0M92.4 472.3h0M94.5 470.4h0M98.5 434.9h0M85.4 438.1h0M96.4 454.9h0M99.0 457.4h0M90.8 471.7h0M101.0 432.8h0M89.9 452.3h0M88.9 472.2h0M103.7 441.6h0M103.2 386.9h0M90.1 470.1h0M97.5 466.1h0M103.2 434.1h0M106.5 421.2h0M87.3 439.0h0M103.5 428.2h0M100.5 465.4h0M98.7 431.3h0M108.1 444.4h0M81.8 412.7h0M98.4 441.2h0M102.6 443.2h0M87.5 441.8h0M81.7 422.0h0M80.2 445.4h0M103.3 443.0h0M88.2 467.7h0M97.6 462.4h0M98.3 471.0h0M95.9 471.0h0M97.6 467.9h0M102.0 472.1h0M87.0 459.7h0M89.4 451.3h0M102.0 459.1h0M99.2 438.9h0M98.1 467.4h0M105.7 472.6h0M88.2 455.0h0M91.7 469.8h0M97.4 468.7h0M95.7 463.6h0M101.5 464.1h0M80.9 463.9h0M96.5 469.0h0M100.5 451.9h0M91.2 468.3h0M89.9 463.5h0M106.1 443.3h0M84.8 472.6h0M118.1 453.7h0M97.2 440.6h0M90.4 450.8h0M88.3 468.5h0M92.1 468.0h0M97.8 437.9h0M89.9 447.7h0M97.3 469.4h0M81.0 472.6h0M83.4 451.5h0M107.4 472.9h0M78.1 373.0h0M88.0 469.1h0M95.3 459.7h0M89.4 452.3h0M87.9 436.4h0M108.6 448.7h0M86.4 425.5h0M97.9 456.5h0M103.1 444.6h0M110.6 434.6h0M97.3 450.0h0M87.7 453.0h0M89.6 467.8h0M90.7 465.3h0M96.4 460.4h0M89.9 467.5h0M120.1 471.9h0M96.4 453.2h0M83.0 472.9h0M88.4 453.4h0M87.9 469.6h0M89.2 453.0h0M89.7 451.2h0M103.9 409.3h0M98.0 450.7h0M97.8 451.6h0M90.9 458.1h0M98.7 427.9h0M117.0 454.1h0M89.2 463.1h0M94.3 469.5h0M96.7 467.1h0M97.7 453.3h0M86.7 441.8h0M91.4 471.6h0M102.0 468.5h0M105.2 433.0h0M85.3 460.5h0M98.9 451.0h0M118.5 399.6h0M98.8 466.9h0M89.5 445.1h0M107.5 448.2h0M88.8 463.4h0M107.0 430.1h0M111.9 416.1h0M134.6 373.1h0M91.0 460.4h0M104.2 462.8h0M103.6 383.9h0M104.8 429.0h0M91.0 472.2h0M89.9 459.5h0M99.9 472.3h0M97.7 434.5h0M103.1 445.1h0M107.0 466.3h0M116.1 444.3h0M94.5 472.1h0M96.8 464.1h0M89.0 443.4h0M91.1 470.6h0M103.8 458.5h0M96.3 452.8h0M97.7 460.2h0M88.1 468.7h0M99.2 424.7h0M101.0 452.4h0M111.1 435.0h0M82.7 409.8h0M89.6 466.9h0M108.1 468.4h0M99.8 422.5h0M84.3 443.0h0M87.8 469.9h0M107.6 429.4h0M95.5 466.0h0M77.4 471.0h0M113.2 456.0h0M97.2 471.2h0M96.0 470.4h0M105.5 445.9h0M97.6 456.4h0M91.8 467.4h0M92.1 471.8h0M97.8 466.4h0M86.7 457.6h0M101.7 426.9h0M97.2 465.0h0M118.8 472.5h0M96.7 440.3h0M72.5 457.7h0M96.1 460.9h0M101.5 441.3h0M81.4 423.9h0M98.9 438.5h0M103.8 385.3h0M98.3 452.3h0M88.4 465.3h0M84.3 470.0h0M92.2 471.8h0M96.8 448.0h0M96.6 453.8h0M94.8 466.5h0M85.2 437.9h0M97.4 462.9h0M99.1 446.0h0M88.5 466.0h0M90.1 463.2h0M101.7 393.3h0M89.2 460.0h0M96.5 461.4h0M122.2 446.4h0M82.6 454.0h0M113.9 463.5h0M101.9 472.8h0M70.8 456.8h0M103.8 439.0h0M87.5 449.8h0M91.3 464.3h0M98.6 450.5h0M77.9 471.9h0M88.2 455.1h0M107.2 443.0h0M87.5 431.6h0M89.7 454.0h0M90.8 463.9h0M104.4 434.3h0M84.0 418.9h0M100.9 472.8h0M99.6 454.8h0M96.1 450.0h0M101.5 431.8h0M104.5 463.7h0M98.8 446.1h0M119.0 427.7h0M99.1 463.3h0M101.3 472.9h0M99.3 472.8h0M91.0 464.0h0M89.9 470.1h0M79.8 387.7h0M85.5 441.0h0M96.4 471.6h0M95.6 466.3h0M88.9 464.6h0M102.8 462.4h0M88.4 447.7h0M95.3 461.6h0M92.2 468.3h0M89.9 467.3h0M82.4 404.7h0M120.3 459.4h0M103.7 463.6h0M99.2 463.0h0M81.3 384.5h0M98.8 434.3h0M87.0 471.3h0M109.7 416.2h0M96.3 454.3h0M81.0 464.5h0M100.9 460.7h0M117.6 457.2h0M103.0 437.5h0M86.5 433.9h0M90.6 467.5h0M76.4 464.4h0M86.9 465.9h0M89.5 453.5h0M108.8 442.1h0M102.2 417.5h0M130.0 442.2h0M95.2 459.9h0M87.8 470.5h0M113.5 395.3h0M101.7 454.0h0M89.6 465.6h0M91.1 463.6h0M107.8 434.2h0M89.9 472.9h0M105.1 458.1h0M98.6 446.2h0M105.2 460.9h0M98.7 468.3h0M87.8 432.7h0M87.9 453.7h0M87.6 451.9h0M103.5 442.2h0M86.3 438.9h0M79.6 455.5h0M94.3 472.3h0M91.7 471.8h0M86.5 466.8h0M97.3 444.2h0M89.4 471.9h0M103.1 412.0h0M83.3 459.8h0M99.9 422.5h0M81.7 456.0h0M112.6 447.2h0M86.4 466.7h0M97.6 449.9h0M88.2 464.4h0M98.6 468.7h0M88.0 457.5h0M109.2 464.6h0M98.3 468.3h0M91.4 468.8h0M102.7 456.6h0M108.5 458.7h0M90.9 460.0h0M109.3 451.1h0M99.5 459.5h0M97.2 459.2h0M98.2 435.9h0M127.0 383.1h0M92.2 472.2h0M100.4 436.9h0M102.6 472.9h0M91.1 472.7h0M94.7 470.2h0M88.9 453.9h0M102.4 457.6h0M92.3 467.3h0M90.0 467.6h0M113.7 435.1h0M96.3 469.2h0M88.5 470.9h0M111.7 464.1h0M90.1 462.5h0M103.0 457.7h0M96.3 453.3h0M105.8 433.4h0" stroke="#a3a69c" stroke-width="1.3" stroke-linecap="square" fill="none"/>
<line x1="87.5" y1="370.3" x2="87.5" y2="477.1" stroke="#151515" stroke-width="1.25" stroke-dasharray="4.1 4.1"/>
<line x1="99.5" y1="370.3" x2="99.5" y2="477.1" stroke="#151515" stroke-width="1.25" stroke-dasharray="4.1 4.1"/>
<line x1="39.3" y1="471.3" x2="148.7" y2="471.3" stroke="#151515" stroke-width="1.25" stroke-dasharray="4.1 4.1"/>
<line x1="89.2" y1="470.7" x2="63.6" y2="462.3" stroke="#2a2a2a" stroke-width="0.75"/>
<line x1="102.9" y1="436.8" x2="123" y2="425.1" stroke="#2a2a2a" stroke-width="0.75"/>
<line x1="103.8" y1="452.1" x2="122" y2="446" stroke="#2a2a2a" stroke-width="0.75"/>
<line x1="109.5" y1="456.5" x2="122" y2="453.2" stroke="#2a2a2a" stroke-width="0.75"/>
<line x1="104.4" y1="460.2" x2="122.6" y2="466.8" stroke="#2a2a2a" stroke-width="0.75"/>
<circle cx="89.2" cy="470.7" r="1.85" fill="#9d1c1e" stroke="#701214" stroke-width="0.4"/>
<circle cx="102.9" cy="436.8" r="1.85" fill="#9d1c1e" stroke="#701214" stroke-width="0.4"/>
<circle cx="103.8" cy="452.1" r="1.85" fill="#9d1c1e" stroke="#701214" stroke-width="0.4"/>
<circle cx="109.5" cy="456.5" r="1.85" fill="#9d1c1e" stroke="#701214" stroke-width="0.4"/>
<circle cx="104.4" cy="460.2" r="1.85" fill="#9d1c1e" stroke="#701214" stroke-width="0.4"/>
</g>
<text x="56.6" y="459.2" font-size="7.6" text-anchor="start" fill="#222" stroke="#222" stroke-width="0.22">CD69</text>
<text x="116.3" y="424.7" font-size="7.6" text-anchor="start" fill="#222" stroke="#222" stroke-width="0.22">ICOS</text>
<text x="113" y="444.4" font-size="7.6" text-anchor="start" fill="#222" stroke="#222" stroke-width="0.22">OX40</text>
<text x="120.7" y="455.3" font-size="7.6" text-anchor="start" fill="#222" stroke="#222" stroke-width="0.22">4−1BB</text>
<text x="121.8" y="469.1" font-size="7.6" text-anchor="start" fill="#222" stroke="#222" stroke-width="0.22">GITR</text>
<rect x="38.3" y="368.5" width="110.4" height="108.6" fill="none" stroke="#262626" stroke-width="1.4"/>
<line x1="34.3" y1="472.6" x2="38.3" y2="472.6" stroke="#222" stroke-width="0.9"/>
<text x="32.5" y="475.45" font-size="7.9" text-anchor="end" fill="#222" stroke="#222" stroke-width="0.22">0</text>
<line x1="34.3" y1="447.78" x2="38.3" y2="447.78" stroke="#222" stroke-width="0.9"/>
<text x="32.5" y="450.63" font-size="7.9" text-anchor="end" fill="#222" stroke="#222" stroke-width="0.22">25</text>
<line x1="34.3" y1="422.95" x2="38.3" y2="422.95" stroke="#222" stroke-width="0.9"/>
<text x="32.5" y="425.8" font-size="7.9" text-anchor="end" fill="#222" stroke="#222" stroke-width="0.22">50</text>
<line x1="34.3" y1="398.12" x2="38.3" y2="398.12" stroke="#222" stroke-width="0.9"/>
<text x="32.5" y="400.98" font-size="7.9" text-anchor="end" fill="#222" stroke="#222" stroke-width="0.22">75</text>
<line x1="34.3" y1="373.3" x2="38.3" y2="373.3" stroke="#222" stroke-width="0.9"/>
<text x="32.5" y="376.15" font-size="7.9" text-anchor="end" fill="#222" stroke="#222" stroke-width="0.22">100</text>
<line x1="53.5" y1="477.1" x2="53.5" y2="480.4" stroke="#222" stroke-width="0.9"/>
<line x1="73.5" y1="477.1" x2="73.5" y2="480.4" stroke="#222" stroke-width="0.9"/>
<line x1="93.5" y1="477.1" x2="93.5" y2="480.4" stroke="#222" stroke-width="0.9"/>
<line x1="113.5" y1="477.1" x2="113.5" y2="480.4" stroke="#222" stroke-width="0.9"/>
<line x1="133.5" y1="477.1" x2="133.5" y2="480.4" stroke="#222" stroke-width="0.9"/>
<text transform="translate(15.3,112.9) rotate(-90)" x="0" y="0" font-size="8.6" text-anchor="middle" fill="#1c1c1c" stroke="#1c1c1c" stroke-width="0.25" textLength="41" lengthAdjust="spacingAndGlyphs">p value (log<tspan font-size="5.8" dy="1.8">10</tspan><tspan dy="-1.8">)</tspan></text>
<text transform="translate(15.3,230.7) rotate(-90)" x="0" y="0" font-size="8.6" text-anchor="middle" fill="#1c1c1c" stroke="#1c1c1c" stroke-width="0.25" textLength="41" lengthAdjust="spacingAndGlyphs">p value (log<tspan font-size="5.8" dy="1.8">10</tspan><tspan dy="-1.8">)</tspan></text>
<text transform="translate(15.3,422.5) rotate(-90)" x="0" y="0" font-size="8.6" text-anchor="middle" fill="#1c1c1c" stroke="#1c1c1c" stroke-width="0.25" textLength="41" lengthAdjust="spacingAndGlyphs">p value (log<tspan font-size="5.8" dy="1.8">10</tspan><tspan dy="-1.8">)</tspan></text>
<text x="21.1" y="295.1" font-size="7.5" text-anchor="start" fill="#1c1c1c" stroke="#1c1c1c" stroke-width="0.22">Day 0</text>
<text x="58.1" y="295.1" font-size="7.8" text-anchor="end" fill="#1c1c1c" stroke="#1c1c1c" stroke-width="0.22">−10</text>
<text x="78.1" y="295.1" font-size="7.8" text-anchor="end" fill="#1c1c1c" stroke="#1c1c1c" stroke-width="0.22">−5</text>
<text x="93.5" y="295.1" font-size="7.8" text-anchor="middle" fill="#1c1c1c" stroke="#1c1c1c" stroke-width="0.22">0</text>
<text x="113.5" y="295.1" font-size="7.8" text-anchor="middle" fill="#1c1c1c" stroke="#1c1c1c" stroke-width="0.22">5</text>
<text x="133.5" y="295.1" font-size="7.8" text-anchor="middle" fill="#1c1c1c" stroke="#1c1c1c" stroke-width="0.22">10</text>
<text x="141.3" y="295.1" font-size="7.5" text-anchor="start" fill="#1c1c1c" stroke="#1c1c1c" stroke-width="0.22">Day 7</text>
<text x="21.1" y="488.5" font-size="7.5" text-anchor="start" fill="#1c1c1c" stroke="#1c1c1c" stroke-width="0.22">Day 0</text>
<text x="58.1" y="488.5" font-size="7.8" text-anchor="end" fill="#1c1c1c" stroke="#1c1c1c" stroke-width="0.22">−10</text>
<text x="78.1" y="488.5" font-size="7.8" text-anchor="end" fill="#1c1c1c" stroke="#1c1c1c" stroke-width="0.22">−5</text>
<text x="93.5" y="488.5" font-size="7.8" text-anchor="middle" fill="#1c1c1c" stroke="#1c1c1c" stroke-width="0.22">0</text>
<text x="113.5" y="488.5" font-size="7.8" text-anchor="middle" fill="#1c1c1c" stroke="#1c1c1c" stroke-width="0.22">5</text>
<text x="133.5" y="488.5" font-size="7.8" text-anchor="middle" fill="#1c1c1c" stroke="#1c1c1c" stroke-width="0.22">10</text>
<text x="141.3" y="488.5" font-size="7.5" text-anchor="start" fill="#1c1c1c" stroke="#1c1c1c" stroke-width="0.22">Day 7</text>
<text x="69.6" y="307.4" font-size="8.6" fill="#1c1c1c" stroke="#1c1c1c" stroke-width="0.36" textLength="47.6" lengthAdjust="spacingAndGlyphs">Log<tspan font-size="5.6" dy="2.2">2</tspan><tspan dy="-2.2"> fold change</tspan></text>
<text x="69.6" y="501.6" font-size="8.6" fill="#1c1c1c" stroke="#1c1c1c" stroke-width="0.36" textLength="47.6" lengthAdjust="spacingAndGlyphs">Log<tspan font-size="5.6" dy="2.2">2</tspan><tspan dy="-2.2"> fold change</tspan></text>
<text transform="translate(154.9,117) rotate(90)" x="0" y="0" font-size="9.2" text-anchor="middle" dominant-baseline="central" fill="#1c1c1c" stroke="#1c1c1c" stroke-width="0.1">CD4 T cells</text>
<text transform="translate(155.4,230.4) rotate(90)" x="0" y="0" font-size="9.2" text-anchor="middle" dominant-baseline="central" fill="#1c1c1c" stroke="#1c1c1c" stroke-width="0.1">CD8 T cells</text>
<text transform="translate(155.4,423) rotate(90)" x="0" y="0" font-size="9.2" text-anchor="middle" dominant-baseline="central" fill="#1c1c1c" stroke="#1c1c1c" stroke-width="0.1">Human T cells</text>
<text transform="translate(362.2,117.2) rotate(90)" x="0" y="0" font-size="9.2" text-anchor="middle" dominant-baseline="central" fill="#1c1c1c" stroke="#1c1c1c" stroke-width="0.1">CD4 T cells</text>
<text transform="translate(361,224.3) rotate(90)" x="0" y="0" font-size="9.2" text-anchor="middle" dominant-baseline="central" fill="#1c1c1c" stroke="#1c1c1c" stroke-width="0.1">CD8 T cells</text>
<text transform="translate(361,422.1) rotate(90)" x="0" y="0" font-size="9.2" text-anchor="middle" dominant-baseline="central" fill="#1c1c1c" stroke="#1c1c1c" stroke-width="0.1">Human T cells</text>
<clipPath id="cl1"><rect x="175.5" y="58.4" width="86.7" height="108"/></clipPath>
<g clip-path="url(#cl1)">
<linearGradient id="gw" x1="0" y1="0" x2="0" y2="1"><stop offset="0" stop-color="#ffffff"/><stop offset="1" stop-color="#f9f9f7"/></linearGradient>
<rect x="175.5" y="58.4" width="86.7" height="33.1" fill="url(#gw)"/>
<rect x="175.5" y="91.5" width="86.7" height="22" fill="#f3f3e9"/>
<rect x="175.5" y="118.3" width="86.7" height="21.6" fill="#f8ddcc"/>
<rect x="175.5" y="144.7" width="86.7" height="21.7" fill="#dfccc3"/>
<line x1="175.5" y1="113.4" x2="262.2" y2="113.4" stroke="#444" stroke-width="0.7"/>
<line x1="175.5" y1="140" x2="262.2" y2="140" stroke="#444" stroke-width="0.7"/>
<path d="M186.0 113.4L186.0 113.4L186.3 113.3L186.8 113.3L187.4 113.2L188.0 113.0L188.5 112.7L189.0 112.3L189.6 111.4L190.1 110.2L190.5 108.8L191.0 107.0L191.5 105.0L191.9 102.9L192.4 100.2L192.8 97.0L193.4 91.2L194.0 84.5L194.6 78.0L195.0 73.1L195.5 67.9L195.9 63.8L196.4 61.8L197.0 63.8L197.6 69.0L198.2 74.0L198.9 80.0L199.5 85.0L200.0 85.2L200.5 86.6L201.0 89.9L201.4 91.8L201.9 92.6L202.4 91.2L203.0 93.0L203.4 93.7L203.9 91.5L204.4 91.8L205.0 91.3L205.5 93.6L206.0 92.5L206.5 92.8L207.0 95.1L207.5 92.6L208.0 93.2L208.5 90.8L209.0 94.2L209.5 95.2L210.0 94.0L210.5 96.0L211.0 95.9L211.5 98.2L212.0 98.2L212.5 98.2L213.0 99.4L213.5 101.0L214.0 103.2L214.5 102.6L215.0 103.9L215.5 104.3L216.0 105.7L216.5 106.0L217.0 107.9L217.5 108.6L218.0 109.1L218.5 110.8L219.0 111.1L219.6 111.8L220.1 111.5L220.6 112.6L221.0 113.0L221.6 113.3L222.2 113.4L222.7 113.4L223.0 113.4L223.0 113.4Z" fill="#c7c8c2" stroke="#161616" stroke-width="0.65" stroke-linejoin="round"/>
<path d="M187.5 140.0L187.5 140.0L187.9 138.3L188.4 138.3L189.0 135.7L189.4 134.1L189.9 131.4L190.3 131.5L190.8 127.2L191.4 121.7L191.9 115.2L192.5 108.9L193.0 105.3L193.5 102.7L194.0 102.6L194.5 98.0L195.0 99.1L195.5 104.8L196.1 93.0L196.6 96.5L197.1 97.3L197.5 94.8L198.0 95.1L198.5 95.8L199.0 98.2L199.5 95.4L200.0 99.6L200.5 91.8L201.0 98.5L201.5 95.5L202.0 94.7L202.5 93.9L203.0 94.9L203.5 92.8L204.0 103.5L204.5 94.8L205.0 95.3L205.5 96.4L206.0 91.7L206.5 98.3L207.0 96.0L207.5 100.8L208.0 94.7L208.5 99.4L209.0 99.4L209.5 89.8L210.1 94.8L210.5 97.5L211.0 97.9L211.6 103.1L212.1 103.5L212.6 101.3L213.1 108.4L213.5 103.9L214.0 109.6L214.5 106.5L215.0 110.4L215.5 105.2L216.0 108.0L216.5 112.4L217.0 116.3L217.5 115.1L218.0 114.8L218.5 117.7L219.0 116.2L219.5 115.9L220.0 118.8L220.5 120.5L221.0 119.4L221.5 122.2L222.0 121.3L222.5 124.2L223.0 122.1L223.4 125.9L223.9 127.9L224.5 127.1L225.0 129.0L225.5 130.1L226.0 129.8L226.5 129.5L227.0 133.7L227.5 132.0L228.0 132.8L228.5 133.5L229.0 133.3L229.5 135.9L230.0 134.8L230.5 136.2L231.0 136.5L231.5 137.4L232.0 138.0L232.5 138.6L233.0 138.7L233.5 138.5L234.0 139.2L234.6 139.7L235.2 139.8L235.7 139.9L236.0 140.0L236.0 140.0Z" fill="#983a37" stroke="#161616" stroke-width="0.7" stroke-linejoin="round"/>
<path d="M200.5 87.9L201.0 89.5L201.4 90.9L201.7 91.8L202.1 88.0L202.5 92.3L203.0 91.6L203.4 93.5L203.8 91.2L204.2 93.0L204.7 93.3L205.1 93.1L205.6 96.6L206.0 92.2L206.4 92.1L206.9 90.3L207.3 93.1L207.7 94.1L208.1 92.0L208.6 94.2L209.0 95.8L209.4 95.3L209.9 99.1L210.3 97.3L210.7 98.0L211.1 95.3L211.6 97.2L212.0 101.2L212.4 99.7L212.9 101.3L213.3 101.4L213.7 100.5L214.1 104.1L214.6 101.5L215.0 103.6L215.4 105.5L215.9 105.7L216.3 106.2L216.7 107.0L217.1 108.2L217.6 109.2L218.0 109.2L218.4 109.6L218.9 109.4L219.3 112.0L219.8 111.6L220.2 112.1L220.6 113.0L221.0 112.8L221.5 113.4L222.0 113.4" fill="none" stroke="#1a1a1a" stroke-width="0.5" stroke-linejoin="round"/>
<path d="M200.5 90.9L201.0 88.9L201.4 92.7L201.7 91.7L202.1 89.7L202.5 95.5L203.0 92.9L203.4 94.4L203.8 93.5L204.2 92.7L204.7 89.1L205.1 96.9L205.6 94.4L206.0 93.5L206.4 89.7L206.9 91.7L207.3 94.6L207.7 95.2L208.1 92.7L208.6 92.3L209.0 95.2L209.4 95.5L209.9 97.6L210.3 94.7L210.7 96.1L211.1 99.5L211.6 99.4L212.0 101.5L212.4 99.1L212.9 100.4L213.3 101.0L213.7 101.3L214.1 100.8L214.6 104.2L215.0 103.9L215.4 104.1L215.9 105.4L216.3 105.2L216.7 107.4L217.1 108.1L217.6 109.2L218.0 110.0L218.4 110.7L218.9 108.7L219.3 110.4L219.8 112.3L220.2 111.9L220.6 112.9L221.0 112.8L221.5 113.2L222.0 113.4" fill="none" stroke="#1a1a1a" stroke-width="0.45" stroke-linejoin="round"/>
<path d="M193.3 100.1L193.7 103.0L194.1 102.5L194.5 100.1L194.9 95.9L195.3 95.3L195.7 95.7L196.2 94.5L196.6 95.1L197.0 94.7L197.4 96.8L197.8 96.1L198.2 97.8L198.6 97.9L199.0 92.4L199.4 98.3L199.8 95.2L200.2 99.8L200.7 95.3L201.1 102.2L201.5 93.2L201.9 94.8L202.3 95.3L202.8 92.0L203.2 93.0L203.6 89.0L204.0 93.0L204.4 94.6L204.8 91.1L205.2 88.9L205.7 94.1L206.1 94.6L206.5 93.6L206.9 97.0L207.4 91.5L207.8 94.8L208.2 93.9L208.6 92.2L209.0 97.5L209.4 90.5L209.9 88.9L210.3 99.1L210.6 103.9L211.0 97.9L211.6 100.6L212.1 103.8L212.6 104.4L213.1 106.2L213.5 102.5L214.0 106.4L214.5 102.2L214.9 109.9L215.3 110.6L215.7 111.1" fill="none" stroke="#1a1a1a" stroke-width="0.5" stroke-linejoin="round"/>
<path d="M193.3 104.1L193.7 101.7L194.1 100.7L194.5 96.0L194.9 94.6L195.3 96.7L195.7 93.4L196.2 96.8L196.6 91.7L197.0 101.8L197.4 95.0L197.8 95.5L198.2 102.7L198.6 93.0L199.0 101.0L199.4 94.4L199.8 96.2L200.2 96.4L200.7 99.5L201.1 94.3L201.5 94.2L201.9 93.5L202.3 95.8L202.8 96.5L203.2 95.0L203.6 96.3L204.0 91.4L204.4 92.8L204.8 93.7L205.2 97.4L205.7 100.0L206.1 96.8L206.5 96.5L206.9 89.7L207.4 92.2L207.8 94.3L208.2 94.9L208.6 93.1L209.0 93.6L209.4 96.4L209.9 95.3L210.3 99.8L210.6 91.6L211.0 100.0L211.6 92.3L212.1 99.9L212.6 106.1L213.1 104.7L213.5 100.9L214.0 102.8L214.5 107.7L214.9 113.8L215.3 108.9L215.7 109.6" fill="none" stroke="#1a1a1a" stroke-width="0.45" stroke-linejoin="round"/>
<path d="M192.3 166.4L192.3 166.4L192.7 165.2L193.3 163.2L193.9 162.0L194.5 159.6L195.0 158.7L195.5 157.4L196.1 155.2L196.6 154.7L197.1 153.7L197.5 152.2L198.0 150.9L198.5 150.5L199.0 149.2L199.5 149.2L200.0 148.0L200.6 147.3L201.1 147.2L201.6 146.7L202.1 146.2L202.6 144.8L203.0 144.3L203.5 143.9L204.0 143.3L204.5 143.8L205.0 142.6L205.6 142.1L206.1 141.4L206.6 142.1L207.1 141.3L207.6 141.9L208.0 140.2L208.5 140.8L209.0 139.6L209.5 137.0L210.0 138.8L210.6 135.8L211.1 135.5L211.6 135.1L212.2 133.4L212.7 132.1L213.2 130.4L213.7 130.2L214.2 129.2L214.7 127.9L215.2 127.0L215.7 124.9L216.2 124.5L216.6 121.8L217.1 123.6L217.5 122.0L218.0 120.9L218.5 121.1L219.1 116.3L219.6 120.0L220.1 117.3L220.6 116.9L221.1 114.3L221.6 117.8L222.2 115.1L222.8 117.7L223.3 118.2L223.8 119.7L224.4 119.7L224.9 122.7L225.4 123.0L226.0 124.1L226.5 124.4L227.0 129.7L227.6 128.1L228.2 130.7L228.7 133.4L229.2 134.5L229.7 136.9L230.3 137.0L230.7 139.7L231.4 143.6L232.0 147.1L232.6 151.1L233.2 154.9L233.8 158.4L234.5 160.3L235.2 164.5L235.7 166.4L235.7 166.4Z" fill="#6e332d" stroke="#161616" stroke-width="0.65" stroke-linejoin="round"/>
<line x1="204.3" y1="59.6" x2="204.3" y2="166" stroke="#3c3535" stroke-width="1.0" stroke-dasharray="1.4 2.5"/>
</g>
<text x="259.2" y="108" font-size="7.45" text-anchor="end" fill="#262626" stroke="#262626" stroke-width="0.22" font-style="italic">Day 0</text>
<text x="259.2" y="130" font-size="7.45" text-anchor="end" fill="#b14a3d" stroke="#b14a3d" stroke-width="0.22" font-style="italic">Day 4</text>
<text x="259.2" y="154" font-size="7.45" text-anchor="end" fill="#7d3a33" stroke="#7d3a33" stroke-width="0.22" font-style="italic">Day 7</text>
<rect x="175.5" y="58.4" width="86.7" height="108" fill="none" stroke="#262626" stroke-width="1.4"/>
<path d="M187.0 166.4v1.8M188.5 166.4v1.8M190.0 166.4v1.8M191.5 166.4v1.8M193.0 166.4v1.8M194.5 166.4v1.8M196.0 166.4v1.8M197.5 166.4v1.8M199.0 166.4v1.8M200.5 166.4v1.8M202.0 166.4v1.8M183.5 166.4v1.8M180.5 166.4v1.8M178.0 166.4v1.8M222.9 166.4v1.8M226.6 166.4v1.8M229.2 166.4v1.8M231.2 166.4v1.8M232.9 166.4v1.8M234.3 166.4v1.8M235.5 166.4v1.8M236.5 166.4v1.8M243.8 166.4v1.8M247.5 166.4v1.8M250.1 166.4v1.8M252.1 166.4v1.8M253.8 166.4v1.8M255.2 166.4v1.8M256.4 166.4v1.8M257.4 166.4v1.8M261.4 166.4v1.8M208.6 166.4v1.8M210.6 166.4v1.8M212.0 166.4v1.8M213.1 166.4v1.8M214.0 166.4v1.8M214.8 166.4v1.8M215.5 166.4v1.8M216.1 166.4v1.8" stroke="#222" stroke-width="0.5" fill="none"/>
<line x1="194.5" y1="166.4" x2="194.5" y2="169.2" stroke="#222" stroke-width="0.8"/>
<line x1="216.6" y1="166.4" x2="216.6" y2="169.2" stroke="#222" stroke-width="0.8"/>
<line x1="237.5" y1="166.4" x2="237.5" y2="169.2" stroke="#222" stroke-width="0.8"/>
<line x1="255.1" y1="166.4" x2="255.1" y2="169.2" stroke="#222" stroke-width="0.8"/>
<clipPath id="cl2"><rect x="175.5" y="176.4" width="86.7" height="107.7"/></clipPath>
<g clip-path="url(#cl2)">
<rect x="175.5" y="176.4" width="86.7" height="33.6" fill="url(#gw)"/>
<rect x="175.5" y="210" width="86.7" height="21.6" fill="#f3f3e9"/>
<rect x="175.5" y="237" width="86.7" height="21.9" fill="#f8ddcc"/>
<rect x="175.5" y="262.9" width="86.7" height="21.2" fill="#dfccc3"/>
<line x1="175.5" y1="231.6" x2="262.2" y2="231.6" stroke="#444" stroke-width="0.7"/>
<line x1="175.5" y1="259" x2="262.2" y2="259" stroke="#444" stroke-width="0.7"/>
<path d="M184.0 231.6L184.0 231.6L184.3 231.6L184.8 231.5L185.3 231.5L185.9 231.4L186.5 231.3L187.1 231.1L187.6 230.8L188.1 230.4L188.7 230.0L189.2 229.4L189.7 228.9L190.3 228.2L190.8 227.4L191.2 226.6L191.9 224.9L192.5 222.8L193.0 220.6L193.5 218.4L194.1 215.5L194.7 212.4L195.3 209.0L195.9 204.9L196.4 200.4L197.0 196.1L197.6 191.8L198.2 187.7L198.8 184.4L199.4 181.2L200.0 180.3L200.5 181.6L201.2 184.0L201.7 186.7L202.3 190.4L202.9 195.0L203.4 199.0L204.0 203.6L204.6 207.9L205.2 211.7L205.8 215.2L206.4 218.4L206.9 220.7L207.5 222.9L208.1 224.9L208.8 226.6L209.2 227.4L209.7 228.1L210.2 228.7L210.7 229.3L211.2 229.9L211.8 230.3L212.3 230.8L212.9 231.1L213.4 231.3L213.9 231.5L214.5 231.6L215.1 231.6L215.7 231.6L216.3 231.6L216.8 231.6L217.3 231.6L217.7 231.6L218.0 231.6L218.0 231.6Z" fill="#c7c8c2" stroke="#2a2a2a" stroke-width="0.7" stroke-linejoin="round"/>
<path d="M185.1 259.0L185.1 259.0L185.4 258.6L185.9 258.2L186.5 257.5L187.1 256.2L187.6 256.3L188.1 254.6L188.6 254.4L189.2 251.7L189.7 250.7L190.2 248.4L190.7 247.5L191.2 244.6L191.7 242.7L192.2 240.6L192.7 237.6L193.2 236.2L193.7 232.8L194.1 229.2L194.6 227.4L195.1 225.6L195.6 220.6L196.1 220.8L196.5 219.7L197.0 216.5L197.5 215.4L198.0 213.5L198.5 211.8L198.9 207.4L199.4 209.4L199.9 209.6L200.5 210.1L201.0 209.4L201.5 212.9L202.0 213.9L202.5 210.9L203.0 217.2L203.5 217.7L204.0 218.2L204.5 218.0L205.0 223.3L205.5 226.7L206.0 224.7L206.4 227.4L207.0 228.8L207.5 229.5L208.0 231.1L208.4 232.5L208.9 234.6L209.5 234.5L210.0 235.7L210.5 238.1L210.9 239.5L211.4 239.6L211.9 240.8L212.5 242.9L213.0 243.3L213.5 242.9L213.9 244.4L214.4 245.1L214.9 245.3L215.4 246.0L216.0 246.5L216.5 248.2L216.9 246.3L217.4 247.7L217.9 248.7L218.4 248.0L218.9 248.8L219.3 249.3L219.8 249.1L220.3 248.8L220.7 250.1L221.2 250.0L221.7 250.1L222.1 252.0L222.6 252.1L223.0 251.8L223.5 253.4L224.0 253.1L224.5 252.8L224.9 253.4L225.4 254.1L225.9 255.5L226.5 254.4L227.0 255.5L227.5 255.9L228.0 256.4L228.5 257.3L229.0 257.5L229.5 257.8L230.1 257.4L230.6 258.3L231.1 258.4L231.5 258.6L231.9 258.8L232.2 259.0L232.2 259.0Z" fill="#983a37" stroke="#161616" stroke-width="0.65" stroke-linejoin="round"/>
<path d="M194.1 229.8L194.6 229.2L195.1 223.3L195.6 223.0L196.1 220.1L196.5 219.3L197.0 217.6L197.5 214.7L198.0 212.3L198.5 211.3L198.9 210.2L199.4 208.2L199.9 211.8L200.5 211.8L201.0 211.1L201.5 210.2L202.0 215.0L202.5 211.8L203.0 216.2L203.5 216.6L204.0 217.4L204.5 217.0L205.0 223.8L205.5 225.4L205.9 226.6L206.2 227.3L206.6 226.2L207.1 226.8L207.5 231.1L207.9 233.6L208.3 232.5L208.7 233.5L209.1 235.8L209.5 234.8L210.0 237.9" fill="none" stroke="#1a1a1a" stroke-width="0.45" stroke-linejoin="round"/>
<path d="M214.2 246.4L214.7 243.3L215.1 246.2L215.6 245.6L216.0 245.8L216.5 248.7L216.9 247.4L217.3 247.9L217.7 248.8L218.2 248.0L218.6 248.8L219.1 248.2L219.5 249.6L219.9 248.7L220.3 248.9L220.7 250.3L221.2 249.7L221.6 251.2L222.0 251.9L222.4 250.5L222.8 253.0L223.1 250.9L223.6 251.6L224.0 253.9L224.4 253.5L224.8 253.7L225.1 253.3L225.5 254.1L225.9 254.5L226.4 255.7L226.8 254.7L227.2 255.9L227.6 255.7L228.0 256.1L228.4 256.4L228.9 257.1L229.4 257.1L229.9 258.1L230.3 258.0L230.8 257.7L231.2 258.4L231.6 258.5L231.9 258.9L232.2 259.0" fill="none" stroke="#1a1a1a" stroke-width="0.45" stroke-linejoin="round"/>
<path d="M194.0 284.1L194.0 284.1L194.3 283.4L194.8 282.7L195.4 281.5L196.0 280.1L196.5 278.7L197.0 278.0L197.5 277.4L198.0 275.8L198.5 275.1L199.1 272.9L199.5 272.2L200.0 270.1L200.5 269.3L200.9 268.1L201.4 266.7L201.9 264.8L202.3 263.0L202.8 260.8L203.3 259.5L203.8 258.3L204.3 255.9L204.8 255.1L205.2 252.6L205.7 251.8L206.2 248.9L206.6 247.6L207.1 246.5L207.6 245.9L208.0 243.8L208.5 242.5L209.0 242.0L209.5 241.1L210.0 239.0L210.5 239.3L210.9 238.1L211.4 236.8L211.9 238.1L212.4 235.3L212.9 235.3L213.3 236.0L213.7 235.9L214.4 235.3L215.0 233.8L215.4 236.7L215.9 235.0L216.4 236.5L216.9 238.2L217.4 239.1L217.9 240.1L218.4 241.3L218.9 242.0L219.4 244.6L219.9 245.3L220.5 247.4L221.0 250.4L221.5 252.0L222.0 254.6L222.5 256.3L223.0 257.9L223.4 259.0L223.9 261.9L224.4 263.7L224.9 265.4L225.4 267.3L225.9 269.5L226.4 270.1L226.9 272.6L227.5 274.2L228.0 275.8L228.5 276.8L229.0 277.7L229.6 279.5L230.1 281.6L230.6 283.1L230.9 284.1L230.9 284.1Z" fill="#6e332d" stroke="#161616" stroke-width="0.65" stroke-linejoin="round"/>
<line x1="204.3" y1="177.6" x2="204.3" y2="284" stroke="#3c3535" stroke-width="1.0" stroke-dasharray="1.4 2.5"/>
</g>
<text x="259.2" y="225.7" font-size="7.45" text-anchor="end" fill="#262626" stroke="#262626" stroke-width="0.22" font-style="italic">Day 0</text>
<text x="259.2" y="247.7" font-size="7.45" text-anchor="end" fill="#b14a3d" stroke="#b14a3d" stroke-width="0.22" font-style="italic">Day 4</text>
<text x="259.2" y="272.7" font-size="7.45" text-anchor="end" fill="#7d3a33" stroke="#7d3a33" stroke-width="0.22" font-style="italic">Day 7</text>
<rect x="175.5" y="176.4" width="86.7" height="107.7" fill="none" stroke="#262626" stroke-width="1.4"/>
<path d="M187.0 284.1v1.8M188.5 284.1v1.8M190.0 284.1v1.8M191.5 284.1v1.8M193.0 284.1v1.8M194.5 284.1v1.8M196.0 284.1v1.8M197.5 284.1v1.8M199.0 284.1v1.8M200.5 284.1v1.8M202.0 284.1v1.8M183.5 284.1v1.8M180.5 284.1v1.8M178.0 284.1v1.8M222.9 284.1v1.8M226.6 284.1v1.8M229.2 284.1v1.8M231.2 284.1v1.8M232.9 284.1v1.8M234.3 284.1v1.8M235.5 284.1v1.8M236.5 284.1v1.8M243.8 284.1v1.8M247.5 284.1v1.8M250.1 284.1v1.8M252.1 284.1v1.8M253.8 284.1v1.8M255.2 284.1v1.8M256.4 284.1v1.8M257.4 284.1v1.8M261.4 284.1v1.8M208.6 284.1v1.8M210.6 284.1v1.8M212.0 284.1v1.8M213.1 284.1v1.8M214.0 284.1v1.8M214.8 284.1v1.8M215.5 284.1v1.8M216.1 284.1v1.8" stroke="#222" stroke-width="0.5" fill="none"/>
<line x1="194.5" y1="284.1" x2="194.5" y2="286.9" stroke="#222" stroke-width="0.8"/>
<line x1="216.6" y1="284.1" x2="216.6" y2="286.9" stroke="#222" stroke-width="0.8"/>
<line x1="237.5" y1="284.1" x2="237.5" y2="286.9" stroke="#222" stroke-width="0.8"/>
<line x1="255.1" y1="284.1" x2="255.1" y2="286.9" stroke="#222" stroke-width="0.8"/>
<text x="194.5" y="296.2" font-size="7.8" text-anchor="middle" fill="#1c1c1c" stroke="#1c1c1c" stroke-width="0.22">0</text>
<text x="217.4" y="296.2" font-size="7.8" text-anchor="middle" fill="#1c1c1c">10<tspan font-size="5.4" dy="-3">3</tspan></text>
<text x="238.3" y="296.2" font-size="7.8" text-anchor="middle" fill="#1c1c1c">10<tspan font-size="5.4" dy="-3">4</tspan></text>
<text x="256" y="296.2" font-size="7.8" text-anchor="middle" fill="#1c1c1c">10<tspan font-size="5.4" dy="-3">5</tspan></text>
<text x="218.5" y="308.8" font-size="8.6" text-anchor="middle" fill="#1c1c1c" stroke="#1c1c1c" stroke-width="0.36" textLength="13.5" lengthAdjust="spacingAndGlyphs">ICOS</text>
<clipPath id="cl3"><rect x="175.5" y="368.7" width="86.7" height="107.8"/></clipPath>
<g clip-path="url(#cl3)">
<rect x="175.5" y="368.7" width="86.7" height="38.5" fill="url(#gw)"/>
<rect x="175.5" y="407.2" width="86.7" height="36.2" fill="#f3f3e9"/>
<rect x="175.5" y="445.3" width="86.7" height="31.2" fill="#dfccc3"/>
<line x1="175.5" y1="443.4" x2="262.2" y2="443.4" stroke="#444" stroke-width="0.7"/>
<path d="M181.0 443.4L181.0 443.4L181.3 443.4L181.7 443.3L182.2 443.2L182.7 443.2L183.2 443.1L183.8 443.0L184.4 442.9L185.0 442.8L185.5 442.7L186.0 442.6L186.6 442.5L187.1 442.3L187.7 442.1L188.2 441.9L188.7 441.7L189.2 441.6L189.7 441.4L190.1 441.2L190.8 441.0L191.4 440.7L191.9 440.5L192.5 440.3L193.0 440.0L193.5 439.8L194.1 439.6L194.6 439.3L195.1 439.0L195.6 438.3L196.2 437.2L196.8 435.8L197.4 434.1L197.9 431.8L198.5 427.9L199.0 423.1L199.5 417.7L200.0 411.2L200.6 404.0L201.1 397.3L201.6 391.4L202.1 386.0L202.6 381.7L203.2 378.4L203.9 376.1L204.5 375.4L205.1 376.7L205.6 379.6L206.1 383.2L206.7 390.2L207.3 397.3L207.8 400.8L208.4 403.7L208.9 406.7L209.5 411.3L210.0 416.0L210.6 420.9L211.2 425.5L211.8 427.9L212.4 430.0L213.0 432.0L213.7 434.7L214.4 437.2L214.8 438.2L215.3 439.1L215.9 440.0L216.4 440.8L217.0 441.5L217.5 441.9L217.9 442.2L218.4 442.5L218.9 442.7L219.4 442.8L220.0 443.0L220.5 443.1L221.0 443.2L221.6 443.2L222.2 443.3L222.7 443.3L223.3 443.4L223.7 443.4L224.0 443.4L224.0 443.4Z" fill="#c7c8c2" stroke="#2a2a2a" stroke-width="0.7" stroke-linejoin="round"/>
<path d="M191.5 476.5L191.5 476.5L191.8 476.4L192.1 476.2L192.6 476.0L193.1 475.8L193.6 475.1L194.1 475.1L194.5 474.8L194.9 474.5L195.4 474.2L195.8 473.7L196.2 473.5L196.6 473.3L197.0 472.9L197.4 472.4L197.9 471.0L198.3 469.9L198.7 468.3L199.1 467.8L199.5 466.8L200.0 465.1L200.4 464.1L200.9 463.8L201.3 460.2L201.7 459.5L202.2 457.0L202.6 455.5L203.0 450.8L203.5 450.1L203.9 448.7L204.4 448.0L204.9 443.7L205.4 443.4L205.9 438.6L206.4 438.9L206.9 434.2L207.5 429.7L207.9 429.3L208.4 425.3L208.9 422.5L209.3 419.0L209.7 419.2L210.1 415.9L210.6 412.5L211.0 416.5L211.4 414.6L211.8 411.8L212.2 412.7L212.6 413.0L213.0 408.1L213.4 408.3L213.8 407.7L214.2 407.4L214.6 407.7L215.0 409.9L215.4 412.1L215.8 407.4L216.2 409.8L216.6 407.9L217.0 407.4L217.4 410.0L217.8 408.6L218.2 405.4L218.6 407.1L219.0 411.1L219.4 409.4L219.9 409.6L220.3 409.4L220.8 409.9L221.2 411.9L221.7 413.3L222.1 412.9L222.6 417.6L223.0 415.1L223.5 418.1L224.0 421.1L224.5 423.1L225.0 424.0L225.5 428.3L226.0 431.4L226.4 429.3L226.8 429.3L227.3 432.7L227.7 433.8L228.1 435.4L228.6 438.1L229.0 438.0L229.5 439.0L230.0 441.2L230.4 441.4L230.9 444.7L231.3 444.6L231.7 447.1L232.1 448.2L232.6 449.0L233.0 450.8L233.4 451.6L233.8 453.5L234.1 456.7L234.6 456.3L235.0 460.2L235.4 460.3L235.8 461.2L236.2 462.6L236.6 463.3L237.0 464.8L237.5 466.6L237.9 466.6L238.3 468.1L238.8 469.6L239.2 470.2L239.6 471.3L240.1 472.1L240.5 473.2L240.9 473.7L241.4 474.4L241.9 474.6L242.4 475.5L242.8 475.7L243.1 476.2L243.4 476.5L243.4 476.5Z" fill="#5e2320" stroke="#161616" stroke-width="0.65" stroke-linejoin="round" fill-opacity="0.9"/>
<line x1="210.1" y1="369.9" x2="210.1" y2="476" stroke="#3c3535" stroke-width="1.0" stroke-dasharray="1.4 2.5"/>
</g>
<text x="259.2" y="425.8" font-size="7.45" text-anchor="end" fill="#262626" stroke="#262626" stroke-width="0.22" font-style="italic">Day 0</text>
<text x="259.5" y="460" font-size="7.45" text-anchor="end" fill="#7d3a33" stroke="#7d3a33" stroke-width="0.22" font-style="italic">Day 14</text>
<rect x="175.5" y="368.7" width="86.7" height="107.8" fill="none" stroke="#262626" stroke-width="1.4"/>
<path d="M198.1 476.5v1.8M199.6 476.5v1.8M201.1 476.5v1.8M202.6 476.5v1.8M204.1 476.5v1.8M205.6 476.5v1.8M207.1 476.5v1.8M208.6 476.5v1.8M210.1 476.5v1.8M211.6 476.5v1.8M213.1 476.5v1.8M194.6 476.5v1.8M191.6 476.5v1.8M189.1 476.5v1.8M225.3 476.5v1.8M228.4 476.5v1.8M230.7 476.5v1.8M232.4 476.5v1.8M233.8 476.5v1.8M235.0 476.5v1.8M236.0 476.5v1.8M236.9 476.5v1.8M243.0 476.5v1.8M246.1 476.5v1.8M248.4 476.5v1.8M250.1 476.5v1.8M251.5 476.5v1.8M252.7 476.5v1.8M253.7 476.5v1.8M254.6 476.5v1.8M260.9 476.5v1.8M213.2 476.5v1.8M214.9 476.5v1.8M216.1 476.5v1.8M217.1 476.5v1.8M217.8 476.5v1.8M218.5 476.5v1.8M219.1 476.5v1.8M219.6 476.5v1.8" stroke="#222" stroke-width="0.5" fill="none"/>
<line x1="205.6" y1="476.5" x2="205.6" y2="479.3" stroke="#222" stroke-width="0.8"/>
<line x1="237.7" y1="476.5" x2="237.7" y2="479.3" stroke="#222" stroke-width="0.8"/>
<line x1="255.6" y1="476.5" x2="255.6" y2="479.3" stroke="#222" stroke-width="0.8"/>
<text x="205.6" y="489" font-size="7.8" text-anchor="middle" fill="#1c1c1c" stroke="#1c1c1c" stroke-width="0.22">0</text>
<text x="238.5" y="489" font-size="7.8" text-anchor="middle" fill="#1c1c1c">10<tspan font-size="5.4" dy="-3">4</tspan></text>
<text x="256.4" y="489" font-size="7.8" text-anchor="middle" fill="#1c1c1c">10<tspan font-size="5.4" dy="-3">5</tspan></text>
<text x="219" y="501.3" font-size="8.6" text-anchor="middle" fill="#1c1c1c" stroke="#1c1c1c" stroke-width="0.36" textLength="13.5" lengthAdjust="spacingAndGlyphs">ICOS</text>
<clipPath id="cr1"><rect x="268.2" y="58.4" width="86.3" height="108"/></clipPath><g clip-path="url(#cr1)">
<rect x="268.2" y="58.4" width="86.3" height="33.6" fill="url(#gw)"/>
<rect x="268.2" y="92" width="86.3" height="21" fill="#f3f3e9"/>
<rect x="268.2" y="118.4" width="86.3" height="21.6" fill="#f8ddcc"/>
<rect x="268.2" y="144.7" width="86.3" height="21.7" fill="#dfccc3"/>
</g>
<rect x="278.3" y="94.1" width="7.5" height="18.2" fill="#d6d6d4" stroke="#1c1c1c" stroke-width="0.6"/>
<line x1="277.1" y1="94.1" x2="277.1" y2="112.3" stroke="#0a0a0a" stroke-width="2.4"/>
<circle cx="274.8" cy="103.2" r="1.9" fill="#a3a3a0" stroke="#202020" stroke-width="0.5"/>
<circle cx="277.7" cy="100.2" r="1.9" fill="#a3a3a0" stroke="#202020" stroke-width="0.5"/>
<circle cx="278.2" cy="106.1" r="1.9" fill="#a3a3a0" stroke="#202020" stroke-width="0.5"/>
<circle cx="283.1" cy="103.2" r="1.9" fill="#a3a3a0" stroke="#202020" stroke-width="0.5"/>
<circle cx="285.5" cy="99.7" r="1.9" fill="#a3a3a0" stroke="#202020" stroke-width="0.5"/>
<circle cx="290" cy="98.8" r="1.9" fill="#a3a3a0" stroke="#202020" stroke-width="0.5"/>
<circle cx="286" cy="106.1" r="1.9" fill="#a3a3a0" stroke="#202020" stroke-width="0.5"/>
<circle cx="289.5" cy="107.6" r="1.9" fill="#a3a3a0" stroke="#202020" stroke-width="0.5"/>
<circle cx="275.3" cy="105.6" r="1.9" fill="#a3a3a0" stroke="#202020" stroke-width="0.5"/>
<circle cx="280.6" cy="102.5" r="1.9" fill="#a3a3a0" stroke="#202020" stroke-width="0.5"/>
<line x1="300.2" y1="129.4" x2="307.6" y2="129.4" stroke="#333" stroke-width="0.8"/>
<line x1="322.9" y1="129.4" x2="326.4" y2="129.4" stroke="#333" stroke-width="0.8"/>
<rect x="307.6" y="121.2" width="15.3" height="18.1" fill="#a8412f" stroke="#1c1c1c" stroke-width="0.6"/>
<line x1="318.8" y1="121.2" x2="318.8" y2="139.3" stroke="#0a0a0a" stroke-width="2.0"/>
<circle cx="312.3" cy="127.6" r="1.9" fill="#c24a3a" stroke="#202020" stroke-width="0.5"/>
<circle cx="318.2" cy="125.3" r="1.9" fill="#c24a3a" stroke="#202020" stroke-width="0.5"/>
<circle cx="321.1" cy="122.3" r="1.9" fill="#c24a3a" stroke="#202020" stroke-width="0.5"/>
<circle cx="322.3" cy="125.8" r="1.9" fill="#c24a3a" stroke="#202020" stroke-width="0.5"/>
<circle cx="326.8" cy="125" r="1.9" fill="#c24a3a" stroke="#202020" stroke-width="0.5"/>
<circle cx="318.8" cy="129" r="1.9" fill="#c24a3a" stroke="#202020" stroke-width="0.5"/>
<circle cx="307" cy="132.9" r="1.9" fill="#c24a3a" stroke="#202020" stroke-width="0.5"/>
<circle cx="308.2" cy="131.7" r="1.9" fill="#c24a3a" stroke="#202020" stroke-width="0.5"/>
<circle cx="300" cy="134.6" r="1.9" fill="#c24a3a" stroke="#202020" stroke-width="0.5"/>
<circle cx="315.6" cy="126.2" r="1.9" fill="#c24a3a" stroke="#202020" stroke-width="0.5"/>
<line x1="315.3" y1="154.6" x2="323.5" y2="154.6" stroke="#333" stroke-width="0.8"/>
<rect x="323.5" y="146.4" width="13.5" height="17.8" fill="#7b2d24" stroke="#1c1c1c" stroke-width="0.6"/>
<line x1="333.5" y1="146.4" x2="333.5" y2="164.2" stroke="#0a0a0a" stroke-width="2.0"/>
<circle cx="314.1" cy="150.5" r="1.9" fill="#8e3428" stroke="#202020" stroke-width="0.5"/>
<circle cx="318.8" cy="152.3" r="1.9" fill="#8e3428" stroke="#202020" stroke-width="0.5"/>
<circle cx="320.5" cy="153.2" r="1.9" fill="#8e3428" stroke="#202020" stroke-width="0.5"/>
<circle cx="328.8" cy="154.4" r="1.9" fill="#8e3428" stroke="#202020" stroke-width="0.5"/>
<circle cx="331.1" cy="158.1" r="1.9" fill="#8e3428" stroke="#202020" stroke-width="0.5"/>
<circle cx="335.2" cy="155.2" r="1.9" fill="#8e3428" stroke="#202020" stroke-width="0.5"/>
<circle cx="336.4" cy="157.5" r="1.9" fill="#8e3428" stroke="#202020" stroke-width="0.5"/>
<circle cx="335.2" cy="158.7" r="1.9" fill="#8e3428" stroke="#202020" stroke-width="0.5"/>
<circle cx="329.3" cy="156.4" r="1.9" fill="#8e3428" stroke="#202020" stroke-width="0.5"/>
<path d="M330.5 105.6H332.5V129.9H330.5" fill="none" stroke="#333" stroke-width="0.7"/>
<text transform="translate(338.3,117.4) rotate(90)" x="0" y="0" font-size="6.9" text-anchor="middle" dominant-baseline="central" fill="#222"><tspan font-style="italic">p</tspan>=0.00002</text>
<path d="M341 105.6H343V155.3H341" fill="none" stroke="#333" stroke-width="0.7"/>
<text transform="translate(348.3,130.5) rotate(90)" x="0" y="0" font-size="6.95" text-anchor="middle" dominant-baseline="central" fill="#222"><tspan font-style="italic">p</tspan>=0.0000057</text>
<rect x="268.2" y="58.4" width="86.3" height="108" fill="none" stroke="#262626" stroke-width="1.4"/>
<line x1="265.4" y1="106.3" x2="268.2" y2="106.3" stroke="#222" stroke-width="0.8"/>
<line x1="265.4" y1="129.4" x2="268.2" y2="129.4" stroke="#222" stroke-width="0.8"/>
<line x1="265.4" y1="152.6" x2="268.2" y2="152.6" stroke="#222" stroke-width="0.8"/>
<line x1="271.6" y1="166.4" x2="271.6" y2="169" stroke="#222" stroke-width="0.8"/>
<line x1="289.6" y1="166.4" x2="289.6" y2="169" stroke="#222" stroke-width="0.8"/>
<line x1="307.6" y1="166.4" x2="307.6" y2="169" stroke="#222" stroke-width="0.8"/>
<line x1="325.6" y1="166.4" x2="325.6" y2="169" stroke="#222" stroke-width="0.8"/>
<line x1="343.6" y1="166.4" x2="343.6" y2="169" stroke="#222" stroke-width="0.8"/>
<clipPath id="cr2"><rect x="268.2" y="176.4" width="86.3" height="107.7"/></clipPath><g clip-path="url(#cr2)">
<rect x="268.2" y="176.4" width="86.3" height="33.8" fill="url(#gw)"/>
<rect x="268.2" y="210.2" width="86.3" height="21.8" fill="#f3f3e9"/>
<rect x="268.2" y="237" width="86.3" height="21.8" fill="#f8ddcc"/>
<rect x="268.2" y="263" width="86.3" height="21.1" fill="#dfccc3"/>
</g>
<rect x="274.7" y="212.3" width="9.5" height="18.7" fill="#d6d6d4" stroke="#1c1c1c" stroke-width="0.6"/>
<line x1="279" y1="212.3" x2="279" y2="231" stroke="#0a0a0a" stroke-width="1.6"/>
<circle cx="273.5" cy="219" r="1.9" fill="#a3a3a0" stroke="#202020" stroke-width="0.5"/>
<circle cx="276.3" cy="222.5" r="1.9" fill="#a3a3a0" stroke="#202020" stroke-width="0.5"/>
<circle cx="281" cy="216" r="1.9" fill="#a3a3a0" stroke="#202020" stroke-width="0.5"/>
<circle cx="283.5" cy="221" r="1.9" fill="#a3a3a0" stroke="#202020" stroke-width="0.5"/>
<circle cx="288.5" cy="218" r="1.9" fill="#a3a3a0" stroke="#202020" stroke-width="0.5"/>
<circle cx="289.5" cy="225.5" r="1.9" fill="#a3a3a0" stroke="#202020" stroke-width="0.5"/>
<circle cx="285" cy="226" r="1.9" fill="#a3a3a0" stroke="#202020" stroke-width="0.5"/>
<circle cx="277.5" cy="227" r="1.9" fill="#a3a3a0" stroke="#202020" stroke-width="0.5"/>
<circle cx="274.5" cy="224.5" r="1.9" fill="#a3a3a0" stroke="#202020" stroke-width="0.5"/>
<circle cx="279.5" cy="220" r="1.9" fill="#a3a3a0" stroke="#202020" stroke-width="0.5"/>
<line x1="297.5" y1="247.4" x2="302" y2="247.4" stroke="#333" stroke-width="0.8"/>
<line x1="316.2" y1="247.4" x2="320.5" y2="247.4" stroke="#333" stroke-width="0.8"/>
<rect x="302" y="238.4" width="14.2" height="18.2" fill="#a8412f" stroke="#1c1c1c" stroke-width="0.6"/>
<line x1="308.4" y1="238.4" x2="308.4" y2="256.6" stroke="#0a0a0a" stroke-width="2.0"/>
<circle cx="296.8" cy="250.9" r="1.9" fill="#c24a3a" stroke="#202020" stroke-width="0.5"/>
<circle cx="301.5" cy="251.7" r="1.9" fill="#c24a3a" stroke="#202020" stroke-width="0.5"/>
<circle cx="305.5" cy="245.2" r="1.9" fill="#c24a3a" stroke="#202020" stroke-width="0.5"/>
<circle cx="309.3" cy="240.5" r="1.9" fill="#c24a3a" stroke="#202020" stroke-width="0.5"/>
<circle cx="313.6" cy="241.3" r="1.9" fill="#c24a3a" stroke="#202020" stroke-width="0.5"/>
<circle cx="316.2" cy="243.9" r="1.9" fill="#c24a3a" stroke="#202020" stroke-width="0.5"/>
<circle cx="320" cy="242.2" r="1.9" fill="#c24a3a" stroke="#202020" stroke-width="0.5"/>
<circle cx="316.5" cy="246.5" r="1.9" fill="#c24a3a" stroke="#202020" stroke-width="0.5"/>
<line x1="307.5" y1="272.5" x2="318.8" y2="272.5" stroke="#333" stroke-width="0.8"/>
<rect x="318.8" y="263.8" width="10.4" height="18.2" fill="#7b2d24" stroke="#1c1c1c" stroke-width="0.6"/>
<line x1="326.6" y1="263.8" x2="326.6" y2="282" stroke="#0a0a0a" stroke-width="2.0"/>
<circle cx="307.2" cy="268.7" r="1.9" fill="#8e3428" stroke="#202020" stroke-width="0.5"/>
<circle cx="316.2" cy="269.9" r="1.9" fill="#8e3428" stroke="#202020" stroke-width="0.5"/>
<circle cx="317.4" cy="271.8" r="1.9" fill="#8e3428" stroke="#202020" stroke-width="0.5"/>
<circle cx="325.7" cy="276" r="1.9" fill="#8e3428" stroke="#202020" stroke-width="0.5"/>
<circle cx="329.2" cy="272.5" r="1.9" fill="#8e3428" stroke="#202020" stroke-width="0.5"/>
<circle cx="330" cy="276.8" r="1.9" fill="#8e3428" stroke="#202020" stroke-width="0.5"/>
<circle cx="333.5" cy="276" r="1.9" fill="#8e3428" stroke="#202020" stroke-width="0.5"/>
<circle cx="324.8" cy="270.8" r="1.9" fill="#8e3428" stroke="#202020" stroke-width="0.5"/>
<path d="M324.6 223.2H326.6V247.4H324.6" fill="none" stroke="#333" stroke-width="0.7"/>
<text transform="translate(330.4,236.2) rotate(90)" x="0" y="0" font-size="6.9" text-anchor="middle" dominant-baseline="central" fill="#222"><tspan font-style="italic">p</tspan>=0.0002</text>
<path d="M337.6 223.2H339.6V271.6H337.6" fill="none" stroke="#333" stroke-width="0.7"/>
<text transform="translate(343.2,246.6) rotate(90)" x="0" y="0" font-size="6.95" text-anchor="middle" dominant-baseline="central" fill="#222"><tspan font-style="italic">p</tspan>=0.0000057</text>
<rect x="268.2" y="176.4" width="86.3" height="107.7" fill="none" stroke="#262626" stroke-width="1.4"/>
<line x1="265.4" y1="223.6" x2="268.2" y2="223.6" stroke="#222" stroke-width="0.8"/>
<line x1="265.4" y1="247.3" x2="268.2" y2="247.3" stroke="#222" stroke-width="0.8"/>
<line x1="265.4" y1="270.5" x2="268.2" y2="270.5" stroke="#222" stroke-width="0.8"/>
<line x1="271.6" y1="284.1" x2="271.6" y2="287.1" stroke="#222" stroke-width="0.8"/>
<text x="271.6" y="295.8" font-size="7.8" text-anchor="middle" fill="#1c1c1c" stroke="#1c1c1c" stroke-width="0.22">0</text>
<line x1="289.6" y1="284.1" x2="289.6" y2="287.1" stroke="#222" stroke-width="0.8"/>
<text x="289.6" y="295.8" font-size="7.8" text-anchor="middle" fill="#1c1c1c" stroke="#1c1c1c" stroke-width="0.22">25</text>
<line x1="307.6" y1="284.1" x2="307.6" y2="287.1" stroke="#222" stroke-width="0.8"/>
<text x="307.6" y="295.8" font-size="7.8" text-anchor="middle" fill="#1c1c1c" stroke="#1c1c1c" stroke-width="0.22">50</text>
<line x1="325.6" y1="284.1" x2="325.6" y2="287.1" stroke="#222" stroke-width="0.8"/>
<text x="325.6" y="295.8" font-size="7.8" text-anchor="middle" fill="#1c1c1c" stroke="#1c1c1c" stroke-width="0.22">75</text>
<line x1="343.6" y1="284.1" x2="343.6" y2="287.1" stroke="#222" stroke-width="0.8"/>
<text x="343.6" y="295.8" font-size="7.8" text-anchor="middle" fill="#1c1c1c" stroke="#1c1c1c" stroke-width="0.22">100</text>
<text x="295.5" y="308" font-size="8.6" text-anchor="start" fill="#1c1c1c" stroke="#1c1c1c" stroke-width="0.36" textLength="31" lengthAdjust="spacingAndGlyphs">ICOS+ (%)</text>
<clipPath id="cr3"><rect x="266.3" y="368.7" width="87.4" height="107.8"/></clipPath><g clip-path="url(#cr3)">
<rect x="266.3" y="368.7" width="87.4" height="38.3" fill="url(#gw)"/>
<rect x="266.3" y="407" width="87.4" height="35.4" fill="#f3f3e9"/>
<rect x="266.3" y="445.7" width="87.4" height="30.8" fill="#dfccc3"/>
</g>
<line x1="275.7" y1="411" x2="275.7" y2="438" stroke="#111" stroke-width="1.3"/>
<circle cx="275.2" cy="416.2" r="1.9" fill="#9d9d9a" stroke="#202020" stroke-width="0.5"/>
<rect x="276.89" y="421.89" width="3.42" height="3.42" fill="#9d9d9a" stroke="#202020" stroke-width="0.5"/>
<path d="M274.8 434.62L276.99 436.8L274.8 438.99L272.62 436.8Z" fill="#9d9d9a" stroke="#202020" stroke-width="0.5"/>
<line x1="306.7" y1="459.1" x2="310.4" y2="459.1" stroke="#333" stroke-width="0.8"/>
<rect x="310.4" y="447.4" width="15.9" height="26.5" fill="#6f2a22" stroke="#1c1c1c" stroke-width="0.6"/>
<line x1="316.1" y1="447.4" x2="316.1" y2="473.9" stroke="#0a0a0a" stroke-width="2.0"/>
<circle cx="310.8" cy="449.2" r="1.9" fill="#8e3428" stroke="#202020" stroke-width="0.5"/>
<circle cx="314.2" cy="449.4" r="1.9" fill="#8e3428" stroke="#202020" stroke-width="0.5"/>
<circle cx="318.6" cy="461.6" r="1.9" fill="#8e3428" stroke="#202020" stroke-width="0.5"/>
<rect x="319.89" y="458.89" width="3.42" height="3.42" fill="#8e3428" stroke="#202020" stroke-width="0.5"/>
<rect x="322.79" y="457.79" width="3.42" height="3.42" fill="#8e3428" stroke="#202020" stroke-width="0.5"/>
<rect x="321.69" y="460.59" width="3.42" height="3.42" fill="#8e3428" stroke="#202020" stroke-width="0.5"/>
<rect x="314.89" y="457.79" width="3.42" height="3.42" fill="#8e3428" stroke="#202020" stroke-width="0.5"/>
<path d="M312.3 464.42L314.49 466.6L312.3 468.79L310.12 466.6Z" fill="#8e3428" stroke="#202020" stroke-width="0.5"/>
<path d="M307.4 468.81L309.58 471L307.4 473.19L305.21 471Z" fill="#8e3428" stroke="#202020" stroke-width="0.5"/>
<path d="M333 421.7H335V460.9H333" fill="none" stroke="#333" stroke-width="0.7"/>
<text transform="translate(339.3,441.2) rotate(90)" x="0" y="0" font-size="6.9" text-anchor="middle" dominant-baseline="central" fill="#222"><tspan font-style="italic">p</tspan>=0.0091</text>
<rect x="266.3" y="368.7" width="87.4" height="107.8" fill="none" stroke="#262626" stroke-width="1.4"/>
<line x1="263.5" y1="425" x2="266.3" y2="425" stroke="#222" stroke-width="0.8"/>
<line x1="263.5" y1="459.1" x2="266.3" y2="459.1" stroke="#222" stroke-width="0.8"/>
<line x1="272" y1="476.5" x2="272" y2="479.5" stroke="#222" stroke-width="0.8"/>
<text x="272" y="489.9" font-size="7.8" text-anchor="middle" fill="#1c1c1c" stroke="#1c1c1c" stroke-width="0.22">0</text>
<line x1="289.6" y1="476.5" x2="289.6" y2="479.5" stroke="#222" stroke-width="0.8"/>
<text x="289.6" y="489.9" font-size="7.8" text-anchor="middle" fill="#1c1c1c" stroke="#1c1c1c" stroke-width="0.22">25</text>
<line x1="307.4" y1="476.5" x2="307.4" y2="479.5" stroke="#222" stroke-width="0.8"/>
<text x="307.4" y="489.9" font-size="7.8" text-anchor="middle" fill="#1c1c1c" stroke="#1c1c1c" stroke-width="0.22">50</text>
<line x1="324.8" y1="476.5" x2="324.8" y2="479.5" stroke="#222" stroke-width="0.8"/>
<text x="324.8" y="489.9" font-size="7.8" text-anchor="middle" fill="#1c1c1c" stroke="#1c1c1c" stroke-width="0.22">75</text>
<line x1="342.6" y1="476.5" x2="342.6" y2="479.5" stroke="#222" stroke-width="0.8"/>
<text x="342.6" y="489.9" font-size="7.8" text-anchor="middle" fill="#1c1c1c" stroke="#1c1c1c" stroke-width="0.22">100</text>
<text x="294.6" y="501.8" font-size="8.6" text-anchor="start" fill="#1c1c1c" stroke="#1c1c1c" stroke-width="0.36" textLength="31" lengthAdjust="spacingAndGlyphs">ICOS+ (%)</text>
<circle cx="321.3" cy="375.4" r="2.0" fill="#ffffff" stroke="#202020" stroke-width="0.6"/>
<rect x="319.5" y="381" width="3.6" height="3.6" fill="#ffffff" stroke="#202020" stroke-width="0.6"/>
<path d="M321.3 388.13L323.37 390.2L321.3 392.27L319.23 390.2Z" fill="#ffffff" stroke="#202020" stroke-width="0.6"/>
<text x="326" y="377.9" font-size="6.95" text-anchor="start" fill="#222" stroke="#222" stroke-width="0.22">Donor 1</text>
<text x="326" y="385.3" font-size="6.95" text-anchor="start" fill="#222" stroke="#222" stroke-width="0.22">Donor 2</text>
<text x="326" y="392.7" font-size="6.95" text-anchor="start" fill="#222" stroke="#222" stroke-width="0.22">Donor 3</text>
<pattern id="tg" width="30" height="30" patternUnits="userSpaceOnUse"><rect width="30" height="30" fill="#878a83"/><path d="M0 0h1v1h-1zM8 0h1v1h-1zM9 0h1v1h-1zM13 0h1v1h-1zM19 0h1v1h-1zM20 0h1v1h-1zM24 0h1v1h-1zM26 0h1v1h-1zM2 1h1v1h-1zM5 1h1v1h-1zM9 1h1v1h-1zM12 1h1v1h-1zM26 1h1v1h-1zM0 2h1v1h-1zM11 2h1v1h-1zM12 2h1v1h-1zM17 2h1v1h-1zM1 3h1v1h-1zM10 3h1v1h-1zM13 3h1v1h-1zM22 3h1v1h-1zM24 3h1v1h-1zM3 4h1v1h-1zM4 4h1v1h-1zM5 4h1v1h-1zM8 4h1v1h-1zM11 4h1v1h-1zM12 4h1v1h-1zM14 4h1v1h-1zM20 4h1v1h-1zM23 4h1v1h-1zM24 4h1v1h-1zM27 4h1v1h-1zM0 5h1v1h-1zM1 5h1v1h-1zM2 5h1v1h-1zM4 5h1v1h-1zM18 5h1v1h-1zM29 5h1v1h-1zM1 6h1v1h-1zM5 6h1v1h-1zM12 6h1v1h-1zM15 6h1v1h-1zM16 6h1v1h-1zM23 6h1v1h-1zM24 6h1v1h-1zM29 6h1v1h-1zM10 7h1v1h-1zM11 7h1v1h-1zM13 7h1v1h-1zM24 7h1v1h-1zM26 7h1v1h-1zM27 7h1v1h-1zM28 7h1v1h-1zM8 8h1v1h-1zM17 8h1v1h-1zM19 8h1v1h-1zM20 8h1v1h-1zM22 8h1v1h-1zM26 8h1v1h-1zM27 8h1v1h-1zM0 9h1v1h-1zM8 9h1v1h-1zM10 9h1v1h-1zM11 9h1v1h-1zM17 9h1v1h-1zM21 9h1v1h-1zM22 9h1v1h-1zM2 10h1v1h-1zM21 10h1v1h-1zM23 10h1v1h-1zM25 10h1v1h-1zM26 10h1v1h-1zM2 11h1v1h-1zM5 11h1v1h-1zM7 11h1v1h-1zM12 11h1v1h-1zM17 11h1v1h-1zM19 11h1v1h-1zM27 11h1v1h-1zM29 11h1v1h-1zM3 12h1v1h-1zM13 12h1v1h-1zM17 12h1v1h-1zM19 12h1v1h-1zM20 12h1v1h-1zM27 12h1v1h-1zM14 13h1v1h-1zM15 13h1v1h-1zM18 13h1v1h-1zM2 14h1v1h-1zM4 14h1v1h-1zM7 14h1v1h-1zM12 14h1v1h-1zM14 14h1v1h-1zM21 14h1v1h-1zM2 15h1v1h-1zM4 15h1v1h-1zM7 15h1v1h-1zM10 15h1v1h-1zM14 15h1v1h-1zM15 15h1v1h-1zM17 15h1v1h-1zM21 15h1v1h-1zM8 16h1v1h-1zM10 16h1v1h-1zM16 16h1v1h-1zM23 16h1v1h-1zM3 17h1v1h-1zM4 17h1v1h-1zM17 17h1v1h-1zM21 17h1v1h-1zM19 18h1v1h-1zM23 18h1v1h-1zM29 18h1v1h-1zM6 19h1v1h-1zM7 19h1v1h-1zM10 19h1v1h-1zM16 19h1v1h-1zM24 19h1v1h-1zM2 20h1v1h-1zM9 20h1v1h-1zM11 20h1v1h-1zM19 20h1v1h-1zM20 20h1v1h-1zM28 20h1v1h-1zM1 21h1v1h-1zM2 21h1v1h-1zM3 21h1v1h-1zM6 21h1v1h-1zM7 21h1v1h-1zM14 21h1v1h-1zM16 21h1v1h-1zM20 21h1v1h-1zM25 21h1v1h-1zM1 22h1v1h-1zM11 22h1v1h-1zM13 22h1v1h-1zM14 22h1v1h-1zM16 22h1v1h-1zM18 22h1v1h-1zM22 22h1v1h-1zM23 22h1v1h-1zM25 22h1v1h-1zM27 22h1v1h-1zM28 22h1v1h-1zM29 22h1v1h-1zM10 23h1v1h-1zM17 23h1v1h-1zM20 23h1v1h-1zM0 24h1v1h-1zM4 24h1v1h-1zM5 24h1v1h-1zM10 24h1v1h-1zM13 24h1v1h-1zM17 24h1v1h-1zM19 24h1v1h-1zM21 24h1v1h-1zM22 24h1v1h-1zM26 24h1v1h-1zM9 25h1v1h-1zM20 25h1v1h-1zM23 25h1v1h-1zM26 25h1v1h-1zM6 26h1v1h-1zM10 26h1v1h-1zM20 26h1v1h-1zM4 27h1v1h-1zM5 27h1v1h-1zM9 27h1v1h-1zM12 27h1v1h-1zM13 27h1v1h-1zM16 27h1v1h-1zM20 27h1v1h-1zM21 27h1v1h-1zM24 27h1v1h-1zM26 27h1v1h-1zM14 28h1v1h-1zM23 28h1v1h-1zM26 28h1v1h-1zM29 28h1v1h-1zM0 29h1v1h-1zM20 29h1v1h-1z" fill="#a7a9a2"/><path d="M3 0h1v1h-1zM16 0h1v1h-1zM27 0h1v1h-1zM0 1h1v1h-1zM1 1h1v1h-1zM27 1h1v1h-1zM23 2h1v1h-1zM28 2h1v1h-1zM23 3h1v1h-1zM0 4h1v1h-1zM7 4h1v1h-1zM15 4h1v1h-1zM8 5h1v1h-1zM12 5h1v1h-1zM28 5h1v1h-1zM8 7h1v1h-1zM7 8h1v1h-1zM9 8h1v1h-1zM14 8h1v1h-1zM23 8h1v1h-1zM28 8h1v1h-1zM6 9h1v1h-1zM28 9h1v1h-1zM1 10h1v1h-1zM20 10h1v1h-1zM22 10h1v1h-1zM2 12h1v1h-1zM12 12h1v1h-1zM21 12h1v1h-1zM26 12h1v1h-1zM4 13h1v1h-1zM7 13h1v1h-1zM12 13h1v1h-1zM3 14h1v1h-1zM18 14h1v1h-1zM12 15h1v1h-1zM24 15h1v1h-1zM26 15h1v1h-1zM5 17h1v1h-1zM15 18h1v1h-1zM9 19h1v1h-1zM20 19h1v1h-1zM22 19h1v1h-1zM28 19h1v1h-1zM17 20h1v1h-1zM24 20h1v1h-1zM21 21h1v1h-1zM26 22h1v1h-1zM9 23h1v1h-1zM28 23h1v1h-1zM2 25h1v1h-1zM15 27h1v1h-1zM17 27h1v1h-1zM13 28h1v1h-1z" fill="#c4c6bf"/><path d="M5 0h1v1h-1zM11 0h1v1h-1zM14 0h1v1h-1zM23 0h1v1h-1zM25 0h1v1h-1zM28 0h1v1h-1zM3 1h1v1h-1zM4 1h1v1h-1zM13 1h1v1h-1zM17 1h1v1h-1zM20 1h1v1h-1zM29 1h1v1h-1zM4 2h1v1h-1zM5 2h1v1h-1zM9 2h1v1h-1zM16 2h1v1h-1zM27 2h1v1h-1zM9 3h1v1h-1zM16 3h1v1h-1zM17 3h1v1h-1zM21 3h1v1h-1zM10 4h1v1h-1zM17 4h1v1h-1zM18 4h1v1h-1zM21 4h1v1h-1zM22 4h1v1h-1zM14 5h1v1h-1zM16 5h1v1h-1zM19 5h1v1h-1zM22 5h1v1h-1zM24 5h1v1h-1zM27 5h1v1h-1zM10 6h1v1h-1zM11 6h1v1h-1zM14 6h1v1h-1zM18 6h1v1h-1zM20 6h1v1h-1zM25 6h1v1h-1zM28 6h1v1h-1zM3 7h1v1h-1zM17 7h1v1h-1zM18 7h1v1h-1zM19 7h1v1h-1zM2 8h1v1h-1zM5 8h1v1h-1zM13 8h1v1h-1zM25 8h1v1h-1zM2 9h1v1h-1zM5 9h1v1h-1zM13 9h1v1h-1zM15 9h1v1h-1zM16 9h1v1h-1zM0 10h1v1h-1zM3 10h1v1h-1zM5 10h1v1h-1zM9 10h1v1h-1zM10 10h1v1h-1zM11 10h1v1h-1zM12 10h1v1h-1zM15 10h1v1h-1zM16 10h1v1h-1zM28 10h1v1h-1zM11 11h1v1h-1zM15 11h1v1h-1zM20 11h1v1h-1zM28 11h1v1h-1zM9 12h1v1h-1zM10 12h1v1h-1zM11 12h1v1h-1zM15 12h1v1h-1zM18 12h1v1h-1zM23 12h1v1h-1zM24 12h1v1h-1zM1 13h1v1h-1zM8 13h1v1h-1zM21 13h1v1h-1zM24 13h1v1h-1zM10 14h1v1h-1zM26 14h1v1h-1zM29 14h1v1h-1zM1 15h1v1h-1zM3 15h1v1h-1zM9 15h1v1h-1zM11 15h1v1h-1zM16 15h1v1h-1zM22 15h1v1h-1zM6 16h1v1h-1zM7 16h1v1h-1zM19 16h1v1h-1zM21 16h1v1h-1zM24 16h1v1h-1zM25 16h1v1h-1zM26 16h1v1h-1zM27 16h1v1h-1zM2 17h1v1h-1zM13 17h1v1h-1zM16 17h1v1h-1zM20 17h1v1h-1zM22 17h1v1h-1zM23 17h1v1h-1zM24 17h1v1h-1zM5 18h1v1h-1zM14 18h1v1h-1zM26 18h1v1h-1zM27 18h1v1h-1zM3 19h1v1h-1zM13 19h1v1h-1zM27 19h1v1h-1zM5 20h1v1h-1zM6 20h1v1h-1zM13 20h1v1h-1zM22 20h1v1h-1zM27 20h1v1h-1zM29 20h1v1h-1zM12 21h1v1h-1zM17 21h1v1h-1zM19 21h1v1h-1zM27 21h1v1h-1zM4 22h1v1h-1zM5 22h1v1h-1zM8 22h1v1h-1zM17 22h1v1h-1zM5 23h1v1h-1zM13 23h1v1h-1zM18 23h1v1h-1zM19 23h1v1h-1zM22 23h1v1h-1zM8 24h1v1h-1zM12 24h1v1h-1zM14 24h1v1h-1zM23 24h1v1h-1zM25 24h1v1h-1zM0 25h1v1h-1zM1 25h1v1h-1zM4 25h1v1h-1zM5 25h1v1h-1zM11 25h1v1h-1zM19 25h1v1h-1zM21 25h1v1h-1zM24 25h1v1h-1zM29 25h1v1h-1zM0 26h1v1h-1zM1 26h1v1h-1zM2 26h1v1h-1zM8 26h1v1h-1zM9 26h1v1h-1zM27 26h1v1h-1zM0 27h1v1h-1zM10 27h1v1h-1zM27 27h1v1h-1zM0 28h1v1h-1zM5 28h1v1h-1zM19 28h1v1h-1zM25 28h1v1h-1zM27 28h1v1h-1zM1 29h1v1h-1zM12 29h1v1h-1zM14 29h1v1h-1zM15 29h1v1h-1zM25 29h1v1h-1zM26 29h1v1h-1z" fill="#6b6d67"/><path d="M4 0h1v1h-1zM29 0h1v1h-1zM10 2h1v1h-1zM15 3h1v1h-1zM19 4h1v1h-1zM19 6h1v1h-1zM6 7h1v1h-1zM7 9h1v1h-1zM0 11h1v1h-1zM5 13h1v1h-1zM6 13h1v1h-1zM2 16h1v1h-1zM0 17h1v1h-1zM11 17h1v1h-1zM0 18h1v1h-1zM21 18h1v1h-1zM22 18h1v1h-1zM0 21h1v1h-1zM18 21h1v1h-1zM23 21h1v1h-1zM19 22h1v1h-1zM7 24h1v1h-1zM12 26h1v1h-1zM1 27h1v1h-1zM18 28h1v1h-1z" fill="#83605f"/></pattern>
<pattern id="trm" width="30" height="30" patternUnits="userSpaceOnUse"><rect width="30" height="30" fill="#6f2927"/><path d="M4 0h1v1h-1zM14 1h1v1h-1zM1 2h1v1h-1zM3 2h1v1h-1zM12 2h1v1h-1zM5 3h1v1h-1zM5 4h1v1h-1zM7 4h1v1h-1zM8 4h1v1h-1zM15 4h1v1h-1zM26 5h1v1h-1zM7 6h1v1h-1zM12 6h1v1h-1zM15 6h1v1h-1zM0 7h1v1h-1zM5 8h1v1h-1zM6 8h1v1h-1zM12 8h1v1h-1zM27 8h1v1h-1zM20 9h1v1h-1zM24 9h1v1h-1zM29 9h1v1h-1zM1 10h1v1h-1zM2 10h1v1h-1zM3 10h1v1h-1zM17 11h1v1h-1zM10 12h1v1h-1zM14 13h1v1h-1zM16 13h1v1h-1zM19 13h1v1h-1zM2 14h1v1h-1zM7 14h1v1h-1zM27 14h1v1h-1zM1 15h1v1h-1zM6 15h1v1h-1zM7 15h1v1h-1zM11 15h1v1h-1zM1 17h1v1h-1zM14 17h1v1h-1zM15 17h1v1h-1zM29 17h1v1h-1zM4 18h1v1h-1zM26 19h1v1h-1zM29 20h1v1h-1zM1 21h1v1h-1zM2 21h1v1h-1zM3 21h1v1h-1zM12 21h1v1h-1zM2 22h1v1h-1zM19 22h1v1h-1zM24 22h1v1h-1zM15 23h1v1h-1zM5 24h1v1h-1zM6 24h1v1h-1zM9 24h1v1h-1zM14 24h1v1h-1zM4 25h1v1h-1zM6 25h1v1h-1zM15 25h1v1h-1zM2 26h1v1h-1zM2 27h1v1h-1zM5 27h1v1h-1zM6 27h1v1h-1zM14 27h1v1h-1zM0 28h1v1h-1zM29 28h1v1h-1zM1 29h1v1h-1zM2 29h1v1h-1zM16 29h1v1h-1zM25 29h1v1h-1z" fill="#ffffff"/><path d="M24 0h1v1h-1zM28 0h1v1h-1zM19 1h1v1h-1zM22 1h1v1h-1zM10 2h1v1h-1zM29 2h1v1h-1zM6 3h1v1h-1zM10 4h1v1h-1zM24 4h1v1h-1zM1 5h1v1h-1zM2 5h1v1h-1zM8 5h1v1h-1zM10 5h1v1h-1zM1 6h1v1h-1zM8 6h1v1h-1zM21 6h1v1h-1zM23 6h1v1h-1zM27 6h1v1h-1zM28 6h1v1h-1zM8 8h1v1h-1zM10 8h1v1h-1zM24 8h1v1h-1zM25 8h1v1h-1zM18 9h1v1h-1zM22 9h1v1h-1zM5 10h1v1h-1zM27 10h1v1h-1zM19 11h1v1h-1zM23 11h1v1h-1zM25 11h1v1h-1zM12 12h1v1h-1zM17 12h1v1h-1zM20 12h1v1h-1zM23 12h1v1h-1zM4 13h1v1h-1zM24 13h1v1h-1zM5 14h1v1h-1zM12 14h1v1h-1zM13 14h1v1h-1zM18 15h1v1h-1zM29 15h1v1h-1zM25 16h1v1h-1zM26 16h1v1h-1zM23 17h1v1h-1zM26 17h1v1h-1zM3 18h1v1h-1zM15 18h1v1h-1zM0 19h1v1h-1zM17 19h1v1h-1zM9 20h1v1h-1zM11 20h1v1h-1zM11 21h1v1h-1zM5 22h1v1h-1zM6 22h1v1h-1zM11 22h1v1h-1zM25 22h1v1h-1zM23 24h1v1h-1zM25 24h1v1h-1zM27 25h1v1h-1zM0 26h1v1h-1zM16 26h1v1h-1zM20 26h1v1h-1zM25 26h1v1h-1zM26 26h1v1h-1zM26 27h1v1h-1zM5 28h1v1h-1zM26 28h1v1h-1zM9 29h1v1h-1zM15 29h1v1h-1z" fill="#c9a3a2"/><path d="M16 0h1v1h-1zM29 0h1v1h-1zM4 1h1v1h-1zM25 1h1v1h-1zM27 1h1v1h-1zM28 1h1v1h-1zM4 3h1v1h-1zM19 3h1v1h-1zM16 4h1v1h-1zM26 4h1v1h-1zM29 4h1v1h-1zM18 5h1v1h-1zM13 6h1v1h-1zM2 7h1v1h-1zM4 7h1v1h-1zM12 7h1v1h-1zM18 7h1v1h-1zM2 8h1v1h-1zM22 8h1v1h-1zM5 9h1v1h-1zM0 10h1v1h-1zM8 10h1v1h-1zM10 10h1v1h-1zM18 10h1v1h-1zM20 10h1v1h-1zM7 11h1v1h-1zM13 11h1v1h-1zM11 12h1v1h-1zM15 12h1v1h-1zM25 12h1v1h-1zM28 12h1v1h-1zM29 12h1v1h-1zM28 13h1v1h-1zM5 15h1v1h-1zM8 15h1v1h-1zM10 15h1v1h-1zM21 15h1v1h-1zM22 15h1v1h-1zM19 16h1v1h-1zM29 16h1v1h-1zM18 17h1v1h-1zM25 17h1v1h-1zM1 18h1v1h-1zM2 18h1v1h-1zM13 18h1v1h-1zM14 18h1v1h-1zM17 18h1v1h-1zM24 18h1v1h-1zM19 19h1v1h-1zM26 20h1v1h-1zM9 21h1v1h-1zM22 21h1v1h-1zM26 21h1v1h-1zM9 22h1v1h-1zM28 22h1v1h-1zM10 23h1v1h-1zM17 23h1v1h-1zM28 23h1v1h-1zM17 24h1v1h-1zM3 25h1v1h-1zM9 25h1v1h-1zM21 25h1v1h-1zM22 25h1v1h-1zM26 25h1v1h-1zM28 26h1v1h-1zM12 27h1v1h-1zM13 27h1v1h-1zM19 27h1v1h-1zM16 28h1v1h-1zM28 28h1v1h-1zM3 29h1v1h-1z" fill="#9a6b6a"/></pattern>
<pattern id="tgE" width="30" height="30" patternUnits="userSpaceOnUse"><rect width="30" height="30" fill="#929490"/><path d="M6 0h1v1h-1zM11 0h1v1h-1zM16 0h1v1h-1zM17 0h1v1h-1zM21 0h1v1h-1zM23 0h1v1h-1zM25 0h1v1h-1zM26 0h1v1h-1zM28 0h1v1h-1zM29 0h1v1h-1zM6 1h1v1h-1zM13 1h1v1h-1zM14 1h1v1h-1zM15 1h1v1h-1zM18 1h1v1h-1zM27 1h1v1h-1zM29 1h1v1h-1zM2 2h1v1h-1zM6 2h1v1h-1zM7 2h1v1h-1zM8 2h1v1h-1zM10 2h1v1h-1zM18 2h1v1h-1zM22 2h1v1h-1zM24 2h1v1h-1zM3 3h1v1h-1zM4 3h1v1h-1zM5 3h1v1h-1zM8 3h1v1h-1zM9 3h1v1h-1zM13 3h1v1h-1zM18 3h1v1h-1zM20 3h1v1h-1zM23 3h1v1h-1zM28 3h1v1h-1zM0 4h1v1h-1zM13 4h1v1h-1zM20 4h1v1h-1zM10 5h1v1h-1zM0 6h1v1h-1zM7 6h1v1h-1zM16 6h1v1h-1zM17 6h1v1h-1zM20 6h1v1h-1zM23 6h1v1h-1zM25 6h1v1h-1zM26 6h1v1h-1zM27 6h1v1h-1zM29 6h1v1h-1zM0 7h1v1h-1zM1 7h1v1h-1zM6 7h1v1h-1zM8 7h1v1h-1zM12 7h1v1h-1zM15 7h1v1h-1zM17 7h1v1h-1zM27 7h1v1h-1zM5 8h1v1h-1zM6 8h1v1h-1zM9 8h1v1h-1zM14 8h1v1h-1zM0 9h1v1h-1zM6 9h1v1h-1zM13 9h1v1h-1zM21 9h1v1h-1zM2 10h1v1h-1zM8 10h1v1h-1zM19 10h1v1h-1zM22 10h1v1h-1zM29 10h1v1h-1zM4 11h1v1h-1zM7 11h1v1h-1zM8 11h1v1h-1zM12 11h1v1h-1zM17 11h1v1h-1zM19 11h1v1h-1zM23 11h1v1h-1zM26 11h1v1h-1zM29 11h1v1h-1zM1 12h1v1h-1zM2 12h1v1h-1zM4 12h1v1h-1zM5 12h1v1h-1zM9 12h1v1h-1zM16 12h1v1h-1zM18 12h1v1h-1zM29 12h1v1h-1zM0 13h1v1h-1zM3 13h1v1h-1zM6 13h1v1h-1zM8 13h1v1h-1zM9 13h1v1h-1zM11 13h1v1h-1zM16 13h1v1h-1zM18 13h1v1h-1zM19 13h1v1h-1zM22 13h1v1h-1zM23 13h1v1h-1zM27 13h1v1h-1zM0 14h1v1h-1zM5 14h1v1h-1zM16 14h1v1h-1zM17 14h1v1h-1zM18 14h1v1h-1zM19 14h1v1h-1zM23 14h1v1h-1zM29 14h1v1h-1zM0 15h1v1h-1zM1 15h1v1h-1zM5 15h1v1h-1zM8 15h1v1h-1zM10 15h1v1h-1zM12 15h1v1h-1zM20 15h1v1h-1zM25 15h1v1h-1zM26 15h1v1h-1zM27 15h1v1h-1zM28 15h1v1h-1zM29 15h1v1h-1zM8 16h1v1h-1zM15 16h1v1h-1zM16 16h1v1h-1zM19 16h1v1h-1zM24 16h1v1h-1zM25 16h1v1h-1zM29 16h1v1h-1zM1 17h1v1h-1zM3 17h1v1h-1zM7 17h1v1h-1zM8 17h1v1h-1zM10 17h1v1h-1zM14 17h1v1h-1zM16 17h1v1h-1zM21 17h1v1h-1zM22 17h1v1h-1zM3 18h1v1h-1zM4 18h1v1h-1zM6 18h1v1h-1zM10 18h1v1h-1zM11 18h1v1h-1zM13 18h1v1h-1zM17 18h1v1h-1zM19 18h1v1h-1zM20 18h1v1h-1zM23 18h1v1h-1zM11 19h1v1h-1zM12 19h1v1h-1zM13 19h1v1h-1zM17 19h1v1h-1zM20 19h1v1h-1zM21 19h1v1h-1zM22 19h1v1h-1zM27 19h1v1h-1zM1 20h1v1h-1zM5 20h1v1h-1zM7 20h1v1h-1zM12 20h1v1h-1zM23 20h1v1h-1zM26 20h1v1h-1zM28 20h1v1h-1zM3 21h1v1h-1zM5 21h1v1h-1zM17 21h1v1h-1zM20 21h1v1h-1zM21 21h1v1h-1zM22 21h1v1h-1zM25 21h1v1h-1zM3 22h1v1h-1zM6 22h1v1h-1zM9 22h1v1h-1zM27 22h1v1h-1zM28 22h1v1h-1zM7 23h1v1h-1zM16 23h1v1h-1zM19 23h1v1h-1zM23 23h1v1h-1zM25 23h1v1h-1zM1 24h1v1h-1zM7 24h1v1h-1zM12 24h1v1h-1zM15 24h1v1h-1zM16 24h1v1h-1zM29 24h1v1h-1zM0 25h1v1h-1zM1 25h1v1h-1zM4 25h1v1h-1zM5 25h1v1h-1zM10 25h1v1h-1zM18 25h1v1h-1zM22 25h1v1h-1zM23 25h1v1h-1zM24 25h1v1h-1zM25 25h1v1h-1zM26 25h1v1h-1zM28 25h1v1h-1zM8 26h1v1h-1zM9 26h1v1h-1zM10 26h1v1h-1zM11 26h1v1h-1zM16 26h1v1h-1zM20 26h1v1h-1zM27 26h1v1h-1zM1 27h1v1h-1zM16 27h1v1h-1zM18 27h1v1h-1zM20 27h1v1h-1zM22 27h1v1h-1zM28 27h1v1h-1zM1 28h1v1h-1zM4 28h1v1h-1zM9 28h1v1h-1zM10 28h1v1h-1zM14 28h1v1h-1zM19 28h1v1h-1zM27 28h1v1h-1zM28 28h1v1h-1zM8 29h1v1h-1zM13 29h1v1h-1zM19 29h1v1h-1zM20 29h1v1h-1zM22 29h1v1h-1zM26 29h1v1h-1zM27 29h1v1h-1z" fill="#b0b2ab"/><path d="M13 0h1v1h-1zM18 0h1v1h-1zM2 1h1v1h-1zM11 1h1v1h-1zM16 1h1v1h-1zM20 1h1v1h-1zM21 1h1v1h-1zM24 1h1v1h-1zM28 2h1v1h-1zM1 3h1v1h-1zM2 3h1v1h-1zM2 4h1v1h-1zM11 4h1v1h-1zM19 4h1v1h-1zM21 4h1v1h-1zM2 5h1v1h-1zM6 5h1v1h-1zM12 5h1v1h-1zM28 6h1v1h-1zM10 7h1v1h-1zM19 7h1v1h-1zM15 8h1v1h-1zM21 8h1v1h-1zM25 8h1v1h-1zM28 8h1v1h-1zM3 9h1v1h-1zM8 9h1v1h-1zM11 9h1v1h-1zM12 9h1v1h-1zM15 9h1v1h-1zM23 9h1v1h-1zM25 9h1v1h-1zM26 9h1v1h-1zM3 10h1v1h-1zM20 10h1v1h-1zM26 10h1v1h-1zM3 11h1v1h-1zM24 11h1v1h-1zM11 12h1v1h-1zM24 12h1v1h-1zM26 12h1v1h-1zM14 13h1v1h-1zM1 14h1v1h-1zM6 15h1v1h-1zM7 15h1v1h-1zM9 15h1v1h-1zM22 15h1v1h-1zM3 16h1v1h-1zM5 16h1v1h-1zM9 16h1v1h-1zM0 17h1v1h-1zM4 17h1v1h-1zM6 17h1v1h-1zM15 17h1v1h-1zM0 18h1v1h-1zM5 18h1v1h-1zM9 18h1v1h-1zM12 18h1v1h-1zM16 18h1v1h-1zM21 18h1v1h-1zM25 18h1v1h-1zM8 19h1v1h-1zM14 19h1v1h-1zM16 19h1v1h-1zM0 20h1v1h-1zM13 20h1v1h-1zM4 21h1v1h-1zM9 21h1v1h-1zM11 21h1v1h-1zM27 21h1v1h-1zM8 22h1v1h-1zM10 22h1v1h-1zM26 22h1v1h-1zM3 23h1v1h-1zM5 23h1v1h-1zM8 24h1v1h-1zM9 24h1v1h-1zM25 24h1v1h-1zM26 24h1v1h-1zM14 25h1v1h-1zM0 27h1v1h-1zM7 27h1v1h-1zM12 27h1v1h-1zM13 27h1v1h-1zM21 27h1v1h-1zM5 28h1v1h-1zM15 28h1v1h-1zM15 29h1v1h-1zM17 29h1v1h-1z" fill="#cfd1ca"/><path d="M7 0h1v1h-1zM12 0h1v1h-1zM12 1h1v1h-1zM23 1h1v1h-1zM25 1h1v1h-1zM4 2h1v1h-1zM14 2h1v1h-1zM15 2h1v1h-1zM25 2h1v1h-1zM12 3h1v1h-1zM16 3h1v1h-1zM17 3h1v1h-1zM29 3h1v1h-1zM3 4h1v1h-1zM7 4h1v1h-1zM8 4h1v1h-1zM10 4h1v1h-1zM12 4h1v1h-1zM14 4h1v1h-1zM24 4h1v1h-1zM0 5h1v1h-1zM3 5h1v1h-1zM14 5h1v1h-1zM18 5h1v1h-1zM22 5h1v1h-1zM3 6h1v1h-1zM11 6h1v1h-1zM18 6h1v1h-1zM24 6h1v1h-1zM2 7h1v1h-1zM3 7h1v1h-1zM9 7h1v1h-1zM11 7h1v1h-1zM14 7h1v1h-1zM23 7h1v1h-1zM26 7h1v1h-1zM3 8h1v1h-1zM12 8h1v1h-1zM13 8h1v1h-1zM17 8h1v1h-1zM24 8h1v1h-1zM29 8h1v1h-1zM2 9h1v1h-1zM17 9h1v1h-1zM28 9h1v1h-1zM29 9h1v1h-1zM4 10h1v1h-1zM10 10h1v1h-1zM14 10h1v1h-1zM16 10h1v1h-1zM17 10h1v1h-1zM25 10h1v1h-1zM0 11h1v1h-1zM28 11h1v1h-1zM3 12h1v1h-1zM10 12h1v1h-1zM13 12h1v1h-1zM15 12h1v1h-1zM1 13h1v1h-1zM13 13h1v1h-1zM29 13h1v1h-1zM3 14h1v1h-1zM4 14h1v1h-1zM9 14h1v1h-1zM15 14h1v1h-1zM21 14h1v1h-1zM24 14h1v1h-1zM27 14h1v1h-1zM28 14h1v1h-1zM2 15h1v1h-1zM3 15h1v1h-1zM11 15h1v1h-1zM14 15h1v1h-1zM18 15h1v1h-1zM0 16h1v1h-1zM2 16h1v1h-1zM4 16h1v1h-1zM13 16h1v1h-1zM18 16h1v1h-1zM23 16h1v1h-1zM2 17h1v1h-1zM5 17h1v1h-1zM12 17h1v1h-1zM24 17h1v1h-1zM26 17h1v1h-1zM1 18h1v1h-1zM14 18h1v1h-1zM22 18h1v1h-1zM24 18h1v1h-1zM2 19h1v1h-1zM10 19h1v1h-1zM23 19h1v1h-1zM28 19h1v1h-1zM29 19h1v1h-1zM9 20h1v1h-1zM15 20h1v1h-1zM16 20h1v1h-1zM17 20h1v1h-1zM25 20h1v1h-1zM0 21h1v1h-1zM2 21h1v1h-1zM7 21h1v1h-1zM10 21h1v1h-1zM16 21h1v1h-1zM2 22h1v1h-1zM7 22h1v1h-1zM11 22h1v1h-1zM12 22h1v1h-1zM14 22h1v1h-1zM22 22h1v1h-1zM29 22h1v1h-1zM22 23h1v1h-1zM24 23h1v1h-1zM0 24h1v1h-1zM5 24h1v1h-1zM21 24h1v1h-1zM22 24h1v1h-1zM11 25h1v1h-1zM21 25h1v1h-1zM12 26h1v1h-1zM13 26h1v1h-1zM17 26h1v1h-1zM19 26h1v1h-1zM22 26h1v1h-1zM2 27h1v1h-1zM3 27h1v1h-1zM6 27h1v1h-1zM17 27h1v1h-1zM23 27h1v1h-1zM26 27h1v1h-1zM29 27h1v1h-1zM3 28h1v1h-1zM6 28h1v1h-1zM7 28h1v1h-1zM12 28h1v1h-1zM13 28h1v1h-1zM20 28h1v1h-1zM22 28h1v1h-1zM0 29h1v1h-1zM4 29h1v1h-1zM10 29h1v1h-1zM14 29h1v1h-1zM16 29h1v1h-1zM21 29h1v1h-1zM23 29h1v1h-1z" fill="#6c6e68"/><path d="M4 1h1v1h-1zM16 2h1v1h-1zM11 3h1v1h-1zM21 3h1v1h-1zM18 4h1v1h-1zM28 5h1v1h-1zM29 5h1v1h-1zM23 8h1v1h-1zM27 8h1v1h-1zM7 9h1v1h-1zM24 9h1v1h-1zM27 9h1v1h-1zM2 11h1v1h-1zM20 12h1v1h-1zM28 12h1v1h-1zM11 14h1v1h-1zM22 16h1v1h-1zM27 16h1v1h-1zM11 17h1v1h-1zM13 17h1v1h-1zM23 17h1v1h-1zM6 20h1v1h-1zM20 20h1v1h-1zM19 21h1v1h-1zM4 22h1v1h-1zM20 22h1v1h-1zM25 22h1v1h-1zM17 23h1v1h-1zM23 24h1v1h-1zM24 26h1v1h-1zM8 27h1v1h-1zM15 27h1v1h-1zM8 28h1v1h-1zM18 28h1v1h-1z" fill="#86605e"/></pattern>
<pattern id="tgM" width="30" height="30" patternUnits="userSpaceOnUse"><rect width="30" height="30" fill="#82857e"/><path d="M1 0h1v1h-1zM3 0h1v1h-1zM4 0h1v1h-1zM12 0h1v1h-1zM13 0h1v1h-1zM19 0h1v1h-1zM25 0h1v1h-1zM29 0h1v1h-1zM1 1h1v1h-1zM14 1h1v1h-1zM17 1h1v1h-1zM18 1h1v1h-1zM25 1h1v1h-1zM5 2h1v1h-1zM6 2h1v1h-1zM12 2h1v1h-1zM14 2h1v1h-1zM20 2h1v1h-1zM29 2h1v1h-1zM1 3h1v1h-1zM5 3h1v1h-1zM6 3h1v1h-1zM7 3h1v1h-1zM11 3h1v1h-1zM15 3h1v1h-1zM16 3h1v1h-1zM17 3h1v1h-1zM19 3h1v1h-1zM20 3h1v1h-1zM24 3h1v1h-1zM2 4h1v1h-1zM8 4h1v1h-1zM14 4h1v1h-1zM15 4h1v1h-1zM25 4h1v1h-1zM11 5h1v1h-1zM15 5h1v1h-1zM17 5h1v1h-1zM20 5h1v1h-1zM21 5h1v1h-1zM27 5h1v1h-1zM29 5h1v1h-1zM1 6h1v1h-1zM14 6h1v1h-1zM15 6h1v1h-1zM20 6h1v1h-1zM24 6h1v1h-1zM27 6h1v1h-1zM5 7h1v1h-1zM6 7h1v1h-1zM13 7h1v1h-1zM15 7h1v1h-1zM20 7h1v1h-1zM22 7h1v1h-1zM23 7h1v1h-1zM29 7h1v1h-1zM5 8h1v1h-1zM23 8h1v1h-1zM27 8h1v1h-1zM28 8h1v1h-1zM29 8h1v1h-1zM1 9h1v1h-1zM7 9h1v1h-1zM10 9h1v1h-1zM14 9h1v1h-1zM15 9h1v1h-1zM21 9h1v1h-1zM28 9h1v1h-1zM21 10h1v1h-1zM22 10h1v1h-1zM29 10h1v1h-1zM0 11h1v1h-1zM6 11h1v1h-1zM12 11h1v1h-1zM16 11h1v1h-1zM23 11h1v1h-1zM24 11h1v1h-1zM25 11h1v1h-1zM27 11h1v1h-1zM28 11h1v1h-1zM13 12h1v1h-1zM16 12h1v1h-1zM17 12h1v1h-1zM26 12h1v1h-1zM28 12h1v1h-1zM0 13h1v1h-1zM1 13h1v1h-1zM8 13h1v1h-1zM18 13h1v1h-1zM25 13h1v1h-1zM14 14h1v1h-1zM21 14h1v1h-1zM25 14h1v1h-1zM29 14h1v1h-1zM3 15h1v1h-1zM5 15h1v1h-1zM7 15h1v1h-1zM15 15h1v1h-1zM25 15h1v1h-1zM26 15h1v1h-1zM8 16h1v1h-1zM12 16h1v1h-1zM14 16h1v1h-1zM16 16h1v1h-1zM17 16h1v1h-1zM23 16h1v1h-1zM27 16h1v1h-1zM0 17h1v1h-1zM6 17h1v1h-1zM8 17h1v1h-1zM10 17h1v1h-1zM12 17h1v1h-1zM14 17h1v1h-1zM21 17h1v1h-1zM27 17h1v1h-1zM2 18h1v1h-1zM3 18h1v1h-1zM4 18h1v1h-1zM12 18h1v1h-1zM13 18h1v1h-1zM17 18h1v1h-1zM23 18h1v1h-1zM27 18h1v1h-1zM28 18h1v1h-1zM3 19h1v1h-1zM7 19h1v1h-1zM12 19h1v1h-1zM13 19h1v1h-1zM17 19h1v1h-1zM24 19h1v1h-1zM29 19h1v1h-1zM2 20h1v1h-1zM3 20h1v1h-1zM4 20h1v1h-1zM9 20h1v1h-1zM21 20h1v1h-1zM23 20h1v1h-1zM27 20h1v1h-1zM0 21h1v1h-1zM3 21h1v1h-1zM9 21h1v1h-1zM20 21h1v1h-1zM24 21h1v1h-1zM26 21h1v1h-1zM7 22h1v1h-1zM8 22h1v1h-1zM12 22h1v1h-1zM19 22h1v1h-1zM21 22h1v1h-1zM22 22h1v1h-1zM28 22h1v1h-1zM0 23h1v1h-1zM2 23h1v1h-1zM13 23h1v1h-1zM19 23h1v1h-1zM10 24h1v1h-1zM11 24h1v1h-1zM13 24h1v1h-1zM14 24h1v1h-1zM16 24h1v1h-1zM27 24h1v1h-1zM29 24h1v1h-1zM0 25h1v1h-1zM1 25h1v1h-1zM10 25h1v1h-1zM19 25h1v1h-1zM22 25h1v1h-1zM24 25h1v1h-1zM4 26h1v1h-1zM18 26h1v1h-1zM23 26h1v1h-1zM0 27h1v1h-1zM2 27h1v1h-1zM8 27h1v1h-1zM29 27h1v1h-1zM1 28h1v1h-1zM2 28h1v1h-1zM6 28h1v1h-1zM9 28h1v1h-1zM14 28h1v1h-1zM15 28h1v1h-1zM21 28h1v1h-1zM23 28h1v1h-1zM24 28h1v1h-1zM25 28h1v1h-1zM28 28h1v1h-1zM7 29h1v1h-1zM9 29h1v1h-1zM19 29h1v1h-1z" fill="#a2a49d"/><path d="M0 0h1v1h-1zM9 0h1v1h-1zM14 0h1v1h-1zM27 1h1v1h-1zM7 2h1v1h-1zM10 2h1v1h-1zM14 3h1v1h-1zM22 3h1v1h-1zM0 4h1v1h-1zM4 4h1v1h-1zM10 4h1v1h-1zM11 4h1v1h-1zM12 4h1v1h-1zM26 4h1v1h-1zM26 5h1v1h-1zM7 6h1v1h-1zM2 7h1v1h-1zM6 8h1v1h-1zM11 10h1v1h-1zM8 11h1v1h-1zM13 11h1v1h-1zM4 13h1v1h-1zM19 14h1v1h-1zM20 14h1v1h-1zM18 16h1v1h-1zM28 16h1v1h-1zM13 17h1v1h-1zM22 17h1v1h-1zM14 18h1v1h-1zM15 18h1v1h-1zM26 18h1v1h-1zM12 21h1v1h-1zM3 22h1v1h-1zM11 23h1v1h-1zM0 24h1v1h-1zM19 24h1v1h-1zM20 24h1v1h-1zM23 24h1v1h-1zM21 25h1v1h-1zM22 26h1v1h-1zM19 28h1v1h-1zM27 28h1v1h-1zM15 29h1v1h-1zM16 29h1v1h-1z" fill="#bfc1ba"/><path d="M2 0h1v1h-1zM5 0h1v1h-1zM11 0h1v1h-1zM20 0h1v1h-1zM5 1h1v1h-1zM11 1h1v1h-1zM13 1h1v1h-1zM15 1h1v1h-1zM20 1h1v1h-1zM23 1h1v1h-1zM26 1h1v1h-1zM29 1h1v1h-1zM0 2h1v1h-1zM2 2h1v1h-1zM11 2h1v1h-1zM21 2h1v1h-1zM24 2h1v1h-1zM28 2h1v1h-1zM0 3h1v1h-1zM2 3h1v1h-1zM4 3h1v1h-1zM9 3h1v1h-1zM10 3h1v1h-1zM13 3h1v1h-1zM27 3h1v1h-1zM1 4h1v1h-1zM3 4h1v1h-1zM9 4h1v1h-1zM19 4h1v1h-1zM0 5h1v1h-1zM8 5h1v1h-1zM9 6h1v1h-1zM21 6h1v1h-1zM29 6h1v1h-1zM1 7h1v1h-1zM10 7h1v1h-1zM16 7h1v1h-1zM18 7h1v1h-1zM25 7h1v1h-1zM0 8h1v1h-1zM8 8h1v1h-1zM14 8h1v1h-1zM18 8h1v1h-1zM22 8h1v1h-1zM25 8h1v1h-1zM3 9h1v1h-1zM5 9h1v1h-1zM8 9h1v1h-1zM12 9h1v1h-1zM13 9h1v1h-1zM4 10h1v1h-1zM6 10h1v1h-1zM10 10h1v1h-1zM12 10h1v1h-1zM16 10h1v1h-1zM17 10h1v1h-1zM19 10h1v1h-1zM20 10h1v1h-1zM26 10h1v1h-1zM5 11h1v1h-1zM7 11h1v1h-1zM14 11h1v1h-1zM21 11h1v1h-1zM26 11h1v1h-1zM0 12h1v1h-1zM19 12h1v1h-1zM20 12h1v1h-1zM23 12h1v1h-1zM24 12h1v1h-1zM25 12h1v1h-1zM14 13h1v1h-1zM21 13h1v1h-1zM27 13h1v1h-1zM0 14h1v1h-1zM3 14h1v1h-1zM13 14h1v1h-1zM8 15h1v1h-1zM12 15h1v1h-1zM13 15h1v1h-1zM16 15h1v1h-1zM20 15h1v1h-1zM24 15h1v1h-1zM29 15h1v1h-1zM1 16h1v1h-1zM4 16h1v1h-1zM6 16h1v1h-1zM9 16h1v1h-1zM10 16h1v1h-1zM24 16h1v1h-1zM2 17h1v1h-1zM15 17h1v1h-1zM16 17h1v1h-1zM19 17h1v1h-1zM8 18h1v1h-1zM19 18h1v1h-1zM20 18h1v1h-1zM24 18h1v1h-1zM4 19h1v1h-1zM6 19h1v1h-1zM8 19h1v1h-1zM10 19h1v1h-1zM11 19h1v1h-1zM16 19h1v1h-1zM18 19h1v1h-1zM0 20h1v1h-1zM5 20h1v1h-1zM6 20h1v1h-1zM7 20h1v1h-1zM10 20h1v1h-1zM15 20h1v1h-1zM16 20h1v1h-1zM19 20h1v1h-1zM8 21h1v1h-1zM14 21h1v1h-1zM18 21h1v1h-1zM19 21h1v1h-1zM25 21h1v1h-1zM27 21h1v1h-1zM29 21h1v1h-1zM9 22h1v1h-1zM11 22h1v1h-1zM20 22h1v1h-1zM24 22h1v1h-1zM25 22h1v1h-1zM26 22h1v1h-1zM5 23h1v1h-1zM6 23h1v1h-1zM7 23h1v1h-1zM25 23h1v1h-1zM26 23h1v1h-1zM27 23h1v1h-1zM28 23h1v1h-1zM29 23h1v1h-1zM2 24h1v1h-1zM3 24h1v1h-1zM5 24h1v1h-1zM8 24h1v1h-1zM22 24h1v1h-1zM24 24h1v1h-1zM26 24h1v1h-1zM3 25h1v1h-1zM7 25h1v1h-1zM8 25h1v1h-1zM11 25h1v1h-1zM16 25h1v1h-1zM18 25h1v1h-1zM20 25h1v1h-1zM23 25h1v1h-1zM29 25h1v1h-1zM2 26h1v1h-1zM10 26h1v1h-1zM16 26h1v1h-1zM17 26h1v1h-1zM26 26h1v1h-1zM27 26h1v1h-1zM28 26h1v1h-1zM7 27h1v1h-1zM9 27h1v1h-1zM10 27h1v1h-1zM20 27h1v1h-1zM27 27h1v1h-1zM5 28h1v1h-1zM13 28h1v1h-1zM16 28h1v1h-1zM0 29h1v1h-1zM5 29h1v1h-1zM8 29h1v1h-1zM11 29h1v1h-1zM14 29h1v1h-1zM18 29h1v1h-1zM27 29h1v1h-1z" fill="#666862"/></pattern>
<pattern id="tgL" width="30" height="30" patternUnits="userSpaceOnUse"><rect width="30" height="30" fill="#979992"/><path d="M5 0h1v1h-1zM6 0h1v1h-1zM15 0h1v1h-1zM21 0h1v1h-1zM25 0h1v1h-1zM7 1h1v1h-1zM8 1h1v1h-1zM9 1h1v1h-1zM25 1h1v1h-1zM1 2h1v1h-1zM5 2h1v1h-1zM8 2h1v1h-1zM11 2h1v1h-1zM15 2h1v1h-1zM17 2h1v1h-1zM25 2h1v1h-1zM27 2h1v1h-1zM28 2h1v1h-1zM1 3h1v1h-1zM2 3h1v1h-1zM23 3h1v1h-1zM26 3h1v1h-1zM29 3h1v1h-1zM6 4h1v1h-1zM7 4h1v1h-1zM21 4h1v1h-1zM28 4h1v1h-1zM1 5h1v1h-1zM7 5h1v1h-1zM13 5h1v1h-1zM15 5h1v1h-1zM18 5h1v1h-1zM24 5h1v1h-1zM3 6h1v1h-1zM4 6h1v1h-1zM19 6h1v1h-1zM23 6h1v1h-1zM0 7h1v1h-1zM2 7h1v1h-1zM15 7h1v1h-1zM18 7h1v1h-1zM23 7h1v1h-1zM26 7h1v1h-1zM3 8h1v1h-1zM4 8h1v1h-1zM5 8h1v1h-1zM6 8h1v1h-1zM7 8h1v1h-1zM10 8h1v1h-1zM18 8h1v1h-1zM20 8h1v1h-1zM24 8h1v1h-1zM25 8h1v1h-1zM12 9h1v1h-1zM22 9h1v1h-1zM0 10h1v1h-1zM2 10h1v1h-1zM3 10h1v1h-1zM5 10h1v1h-1zM6 10h1v1h-1zM7 10h1v1h-1zM9 10h1v1h-1zM10 10h1v1h-1zM12 10h1v1h-1zM19 10h1v1h-1zM23 10h1v1h-1zM26 10h1v1h-1zM1 11h1v1h-1zM10 11h1v1h-1zM15 11h1v1h-1zM23 11h1v1h-1zM24 11h1v1h-1zM0 12h1v1h-1zM2 12h1v1h-1zM14 12h1v1h-1zM15 12h1v1h-1zM18 12h1v1h-1zM22 12h1v1h-1zM14 13h1v1h-1zM16 13h1v1h-1zM25 13h1v1h-1zM26 13h1v1h-1zM2 14h1v1h-1zM6 14h1v1h-1zM11 14h1v1h-1zM14 14h1v1h-1zM17 14h1v1h-1zM1 15h1v1h-1zM7 15h1v1h-1zM10 15h1v1h-1zM13 15h1v1h-1zM15 15h1v1h-1zM23 15h1v1h-1zM24 15h1v1h-1zM3 16h1v1h-1zM14 16h1v1h-1zM16 16h1v1h-1zM17 16h1v1h-1zM20 16h1v1h-1zM21 16h1v1h-1zM27 16h1v1h-1zM29 16h1v1h-1zM2 17h1v1h-1zM5 17h1v1h-1zM20 17h1v1h-1zM26 17h1v1h-1zM28 17h1v1h-1zM5 18h1v1h-1zM8 18h1v1h-1zM11 18h1v1h-1zM17 18h1v1h-1zM0 19h1v1h-1zM1 19h1v1h-1zM2 19h1v1h-1zM3 19h1v1h-1zM4 19h1v1h-1zM14 19h1v1h-1zM22 19h1v1h-1zM23 19h1v1h-1zM25 19h1v1h-1zM27 19h1v1h-1zM28 19h1v1h-1zM29 19h1v1h-1zM1 20h1v1h-1zM2 20h1v1h-1zM3 20h1v1h-1zM4 20h1v1h-1zM6 20h1v1h-1zM7 20h1v1h-1zM11 20h1v1h-1zM14 20h1v1h-1zM16 20h1v1h-1zM17 20h1v1h-1zM19 20h1v1h-1zM22 20h1v1h-1zM23 20h1v1h-1zM5 21h1v1h-1zM9 21h1v1h-1zM10 21h1v1h-1zM11 21h1v1h-1zM12 21h1v1h-1zM13 21h1v1h-1zM14 21h1v1h-1zM17 21h1v1h-1zM23 21h1v1h-1zM27 21h1v1h-1zM0 22h1v1h-1zM5 22h1v1h-1zM17 22h1v1h-1zM23 22h1v1h-1zM25 22h1v1h-1zM29 22h1v1h-1zM10 23h1v1h-1zM13 23h1v1h-1zM15 23h1v1h-1zM16 23h1v1h-1zM19 23h1v1h-1zM20 23h1v1h-1zM23 23h1v1h-1zM3 24h1v1h-1zM4 24h1v1h-1zM5 24h1v1h-1zM7 24h1v1h-1zM8 24h1v1h-1zM10 24h1v1h-1zM12 24h1v1h-1zM23 24h1v1h-1zM27 24h1v1h-1zM1 25h1v1h-1zM4 25h1v1h-1zM10 25h1v1h-1zM15 25h1v1h-1zM16 25h1v1h-1zM17 25h1v1h-1zM6 26h1v1h-1zM7 26h1v1h-1zM12 26h1v1h-1zM20 26h1v1h-1zM23 26h1v1h-1zM24 26h1v1h-1zM1 27h1v1h-1zM15 27h1v1h-1zM16 27h1v1h-1zM19 27h1v1h-1zM20 27h1v1h-1zM21 27h1v1h-1zM27 27h1v1h-1zM28 27h1v1h-1zM29 27h1v1h-1zM2 28h1v1h-1zM4 28h1v1h-1zM10 28h1v1h-1zM17 28h1v1h-1zM24 28h1v1h-1zM25 28h1v1h-1zM6 29h1v1h-1zM7 29h1v1h-1zM17 29h1v1h-1zM25 29h1v1h-1z" fill="#c0c2bb"/><path d="M0 0h1v1h-1zM8 0h1v1h-1zM9 0h1v1h-1zM24 0h1v1h-1zM13 1h1v1h-1zM4 2h1v1h-1zM12 2h1v1h-1zM24 2h1v1h-1zM4 3h1v1h-1zM18 3h1v1h-1zM19 3h1v1h-1zM10 4h1v1h-1zM15 4h1v1h-1zM18 4h1v1h-1zM24 4h1v1h-1zM25 4h1v1h-1zM27 4h1v1h-1zM12 5h1v1h-1zM19 5h1v1h-1zM25 5h1v1h-1zM27 5h1v1h-1zM11 6h1v1h-1zM16 6h1v1h-1zM18 6h1v1h-1zM21 6h1v1h-1zM3 7h1v1h-1zM10 7h1v1h-1zM27 7h1v1h-1zM28 7h1v1h-1zM12 8h1v1h-1zM13 8h1v1h-1zM9 9h1v1h-1zM20 9h1v1h-1zM0 11h1v1h-1zM2 11h1v1h-1zM1 12h1v1h-1zM4 12h1v1h-1zM5 12h1v1h-1zM8 12h1v1h-1zM13 12h1v1h-1zM7 13h1v1h-1zM8 13h1v1h-1zM13 13h1v1h-1zM15 13h1v1h-1zM20 13h1v1h-1zM22 13h1v1h-1zM28 13h1v1h-1zM12 14h1v1h-1zM22 14h1v1h-1zM26 14h1v1h-1zM22 15h1v1h-1zM0 16h1v1h-1zM5 16h1v1h-1zM15 16h1v1h-1zM3 17h1v1h-1zM15 17h1v1h-1zM10 18h1v1h-1zM10 19h1v1h-1zM21 19h1v1h-1zM25 20h1v1h-1zM29 20h1v1h-1zM0 21h1v1h-1zM1 21h1v1h-1zM24 21h1v1h-1zM28 21h1v1h-1zM13 22h1v1h-1zM16 22h1v1h-1zM0 23h1v1h-1zM18 23h1v1h-1zM24 23h1v1h-1zM26 23h1v1h-1zM14 24h1v1h-1zM4 26h1v1h-1zM9 26h1v1h-1zM14 26h1v1h-1zM19 26h1v1h-1zM21 26h1v1h-1zM2 27h1v1h-1zM8 27h1v1h-1zM12 27h1v1h-1zM13 27h1v1h-1zM5 28h1v1h-1zM6 28h1v1h-1zM9 28h1v1h-1zM16 28h1v1h-1zM23 28h1v1h-1zM18 29h1v1h-1zM29 29h1v1h-1z" fill="#e6e6e2"/><path d="M2 0h1v1h-1zM11 0h1v1h-1zM13 0h1v1h-1zM27 0h1v1h-1zM2 1h1v1h-1zM4 1h1v1h-1zM11 1h1v1h-1zM15 1h1v1h-1zM16 1h1v1h-1zM10 2h1v1h-1zM19 2h1v1h-1zM29 2h1v1h-1zM7 3h1v1h-1zM8 3h1v1h-1zM16 3h1v1h-1zM24 3h1v1h-1zM1 4h1v1h-1zM3 4h1v1h-1zM11 4h1v1h-1zM13 4h1v1h-1zM14 4h1v1h-1zM16 4h1v1h-1zM19 4h1v1h-1zM29 4h1v1h-1zM2 5h1v1h-1zM3 5h1v1h-1zM5 5h1v1h-1zM8 5h1v1h-1zM11 5h1v1h-1zM23 5h1v1h-1zM28 5h1v1h-1zM29 5h1v1h-1zM0 6h1v1h-1zM1 6h1v1h-1zM8 6h1v1h-1zM17 6h1v1h-1zM6 7h1v1h-1zM9 7h1v1h-1zM12 7h1v1h-1zM14 7h1v1h-1zM0 8h1v1h-1zM1 8h1v1h-1zM14 8h1v1h-1zM17 8h1v1h-1zM19 8h1v1h-1zM23 8h1v1h-1zM26 8h1v1h-1zM29 8h1v1h-1zM2 9h1v1h-1zM3 9h1v1h-1zM6 9h1v1h-1zM8 9h1v1h-1zM13 9h1v1h-1zM14 9h1v1h-1zM17 9h1v1h-1zM21 9h1v1h-1zM27 10h1v1h-1zM5 11h1v1h-1zM6 11h1v1h-1zM7 11h1v1h-1zM8 11h1v1h-1zM9 11h1v1h-1zM13 11h1v1h-1zM28 11h1v1h-1zM10 12h1v1h-1zM16 12h1v1h-1zM17 12h1v1h-1zM19 12h1v1h-1zM20 12h1v1h-1zM24 12h1v1h-1zM26 12h1v1h-1zM3 13h1v1h-1zM6 13h1v1h-1zM23 13h1v1h-1zM29 13h1v1h-1zM3 14h1v1h-1zM4 14h1v1h-1zM9 14h1v1h-1zM19 14h1v1h-1zM3 15h1v1h-1zM16 15h1v1h-1zM21 15h1v1h-1zM29 15h1v1h-1zM1 16h1v1h-1zM7 16h1v1h-1zM8 16h1v1h-1zM9 16h1v1h-1zM12 16h1v1h-1zM22 16h1v1h-1zM28 16h1v1h-1zM9 17h1v1h-1zM25 17h1v1h-1zM1 18h1v1h-1zM9 18h1v1h-1zM14 18h1v1h-1zM23 18h1v1h-1zM27 18h1v1h-1zM8 19h1v1h-1zM11 19h1v1h-1zM13 19h1v1h-1zM17 19h1v1h-1zM18 19h1v1h-1zM26 19h1v1h-1zM0 20h1v1h-1zM8 20h1v1h-1zM9 20h1v1h-1zM12 20h1v1h-1zM13 20h1v1h-1zM18 20h1v1h-1zM21 20h1v1h-1zM27 20h1v1h-1zM4 21h1v1h-1zM19 21h1v1h-1zM1 22h1v1h-1zM2 22h1v1h-1zM11 22h1v1h-1zM12 22h1v1h-1zM21 22h1v1h-1zM26 22h1v1h-1zM5 23h1v1h-1zM8 23h1v1h-1zM9 23h1v1h-1zM11 23h1v1h-1zM28 23h1v1h-1zM13 24h1v1h-1zM20 24h1v1h-1zM22 24h1v1h-1zM29 24h1v1h-1zM2 25h1v1h-1zM7 25h1v1h-1zM11 25h1v1h-1zM13 25h1v1h-1zM14 25h1v1h-1zM25 25h1v1h-1zM1 26h1v1h-1zM15 26h1v1h-1zM16 26h1v1h-1zM22 26h1v1h-1zM0 27h1v1h-1zM3 27h1v1h-1zM6 27h1v1h-1zM9 27h1v1h-1zM23 27h1v1h-1zM0 28h1v1h-1zM1 28h1v1h-1zM8 28h1v1h-1zM11 28h1v1h-1zM29 28h1v1h-1zM4 29h1v1h-1zM11 29h1v1h-1zM12 29h1v1h-1zM13 29h1v1h-1zM15 29h1v1h-1zM20 29h1v1h-1z" fill="#73756f"/><path d="M4 9h1v1h-1zM20 11h1v1h-1zM0 13h1v1h-1zM5 14h1v1h-1zM2 15h1v1h-1zM17 17h1v1h-1zM23 17h1v1h-1zM29 18h1v1h-1zM5 19h1v1h-1zM5 20h1v1h-1zM15 22h1v1h-1zM22 22h1v1h-1zM3 25h1v1h-1zM29 25h1v1h-1zM28 29h1v1h-1z" fill="#8a6a6a"/></pattern>
<clipPath id="ce"><rect x="405.4" y="120" width="108.8" height="111.5"/></clipPath><g clip-path="url(#ce)">
<path d="M449.7 157.2h0M464.3 215.3h0M488.5 155.9h0M456.5 206.6h0M489.4 206.8h0M447.0 158.8h0M445.8 169.8h0M499.2 173.1h0M485.0 155.9h0M490.7 207.2h0M503.0 177.8h0M448.2 160.5h0M451.5 181.8h0M454.4 195.7h0M472.0 215.7h0M500.8 173.0h0M472.3 213.2h0M447.8 162.5h0M499.2 168.4h0M488.7 207.2h0M483.0 152.0h0M463.0 214.4h0M446.7 172.1h0M480.5 153.7h0M502.8 191.8h0M470.2 150.4h0M468.2 149.5h0M459.7 210.9h0M496.4 200.9h0M502.1 178.0h0M453.3 153.6h0M456.8 207.3h0M455.1 203.9h0M446.2 161.0h0M503.3 180.2h0M455.5 154.0h0M454.3 151.6h0M482.2 151.9h0M478.5 152.3h0M492.9 204.1h0M492.0 203.7h0M457.8 211.7h0M469.1 147.0h0M445.6 167.5h0M477.3 150.1h0M503.6 190.1h0M497.0 168.0h0M489.6 209.0h0M457.3 207.9h0M477.7 213.8h0M483.7 152.7h0M504.0 183.6h0M482.9 154.3h0M460.3 214.9h0M457.7 152.2h0M495.9 198.8h0M495.1 162.8h0M497.7 200.4h0M448.9 157.3h0M455.0 206.2h0M481.6 212.2h0M487.0 155.3h0M489.4 207.5h0M484.5 211.6h0M490.9 206.6h0M493.6 203.6h0M503.3 180.7h0M484.9 156.6h0M490.2 157.2h0M444.9 165.8h0M446.3 160.9h0M487.4 158.3h0M472.9 149.7h0M452.8 153.2h0M502.7 192.5h0M453.3 195.6h0M497.7 196.4h0M453.7 189.4h0M479.3 151.8h0M453.9 150.4h0M499.5 170.3h0M445.2 166.6h0M452.8 151.9h0M504.3 183.0h0M448.5 172.4h0M501.0 189.2h0M502.4 195.7h0M452.2 181.5h0M503.9 181.7h0M444.2 166.2h0M492.8 162.4h0M502.0 174.1h0M493.4 159.5h0M457.5 205.8h0M493.8 159.6h0M461.5 150.7h0M488.5 207.3h0M462.3 214.2h0M478.7 215.2h0M488.5 207.5h0M458.4 211.2h0M449.4 179.1h0M455.1 203.5h0M453.6 197.5h0M453.3 184.7h0M458.8 149.5h0M444.2 164.1h0M454.6 191.8h0M502.0 195.7h0M471.3 148.4h0M505.5 181.0h0M499.7 172.1h0M482.3 153.9h0M475.7 148.6h0M479.9 214.1h0M456.8 199.4h0M472.6 215.8h0M464.6 146.9h0M502.1 174.7h0M503.1 187.5h0M497.6 165.4h0M502.9 185.1h0M453.1 153.7h0M446.9 161.6h0M449.1 177.5h0M449.9 180.6h0M501.1 177.4h0M451.3 180.6h0M446.8 155.4h0M486.2 211.3h0M472.1 217.2h0M467.3 216.2h0M474.8 150.5h0M487.7 155.3h0M446.5 166.5h0M457.7 212.5h0M485.7 209.8h0M499.3 197.8h0M445.2 167.5h0M479.2 211.8h0M453.5 200.6h0M456.0 202.2h0M466.0 214.2h0M496.3 163.1h0M502.3 195.7h0M502.7 180.2h0M468.7 147.7h0M497.1 162.6h0M461.7 213.4h0M448.5 177.4h0M484.6 209.7h0M499.0 195.1h0M447.4 171.5h0M444.8 166.9h0M451.6 180.6h0M457.7 149.3h0M497.5 167.1h0M459.8 211.3h0M453.3 182.8h0M475.5 150.9h0M462.1 149.5h0M503.9 179.0h0M468.7 146.7h0M447.4 158.9h0M504.1 190.9h0M451.0 180.9h0M463.7 216.0h0M454.6 189.2h0M455.2 190.0h0M491.5 158.6h0M446.6 172.6h0M451.3 180.6h0M482.9 212.2h0M502.2 172.0h0M478.2 214.2h0M504.9 181.7h0M449.1 174.2h0M496.1 201.1h0M501.8 175.6h0M451.0 175.2h0M465.8 217.0h0M451.7 181.7h0M501.1 169.6h0M502.3 190.6h0M493.3 160.4h0M451.1 177.7h0M458.5 211.3h0M496.5 167.4h0M501.4 171.2h0M444.6 168.8h0M475.0 213.6h0M483.6 155.1h0M459.3 149.3h0M446.0 174.9h0M456.7 211.7h0M448.3 158.7h0M497.2 168.2h0M497.8 196.6h0M455.1 190.0h0M456.8 207.1h0M483.0 153.5h0M445.9 159.0h0M479.1 150.5h0M490.5 156.5h0M445.4 160.9h0M482.6 152.3h0M500.6 168.4h0M501.8 184.7h0M471.2 216.0h0M497.4 164.0h0M472.1 214.2h0M455.4 208.1h0M487.5 206.9h0M485.3 154.7h0M460.1 213.9h0M479.7 150.4h0M465.3 148.8h0M481.3 151.2h0M451.4 152.4h0M454.3 199.4h0" stroke="#9a9c95" stroke-width="1.0" stroke-linecap="square" fill="none"/>
<path d="M503.3 180.6h0M446.5 155.8h0M454.0 201.3h0M444.9 171.5h0M449.0 177.8h0M484.9 206.2h0M490.2 154.9h0M478.7 217.1h0M494.6 156.2h0M492.5 206.3h0M458.5 152.2h0M484.3 210.0h0M458.8 208.2h0M446.1 159.9h0M453.2 181.8h0M449.2 175.9h0M492.4 162.1h0M474.4 153.4h0M454.7 202.5h0M468.7 147.4h0M450.3 156.3h0M491.3 158.2h0M501.5 174.7h0M503.3 194.2h0M505.8 170.3h0M499.0 165.4h0M449.2 162.0h0M502.3 183.3h0M485.2 212.3h0M452.0 192.1h0M444.2 163.7h0M495.3 204.0h0M444.1 162.8h0M450.7 178.4h0M502.0 186.5h0M452.8 200.2h0M471.5 150.6h0M493.2 206.3h0M505.0 175.3h0M491.3 205.9h0M450.7 182.7h0M443.3 173.3h0M482.4 211.8h0M488.5 209.9h0M449.7 173.3h0M460.2 149.9h0M451.4 189.0h0M460.2 214.3h0M503.1 178.7h0M444.9 159.4h0M465.8 149.5h0M464.5 214.7h0M473.8 211.0h0M471.2 147.4h0M480.5 210.6h0M478.9 213.8h0M491.8 208.3h0M492.5 154.5h0M501.9 185.8h0M448.0 161.1h0M450.0 159.4h0M506.0 189.7h0M501.9 189.6h0M499.0 169.1h0M447.5 166.0h0M508.7 190.3h0M458.7 210.1h0M461.7 216.8h0M484.2 211.9h0M502.4 184.4h0M501.8 196.6h0M505.5 194.3h0M477.8 214.1h0M484.8 155.1h0M491.7 162.1h0M501.3 177.2h0M440.6 167.6h0M496.3 166.5h0M458.6 210.3h0M486.4 155.9h0M496.3 201.1h0M454.8 195.5h0M445.5 160.4h0M450.5 151.2h0M503.4 186.3h0M452.5 183.2h0M499.4 175.4h0M492.3 203.9h0M502.1 192.2h0M486.2 209.2h0M448.6 157.2h0M496.2 197.2h0M453.7 151.2h0M470.0 216.8h0M451.4 184.2h0M502.8 190.8h0M446.5 164.8h0M462.0 149.8h0M463.1 147.8h0M456.0 201.9h0M503.5 188.3h0M480.7 154.4h0M501.8 179.7h0M495.9 204.6h0M474.1 149.6h0M497.7 162.3h0M502.8 173.5h0M455.8 189.7h0M476.4 149.5h0M471.4 153.2h0" stroke="#aeb0a9" stroke-width="1.0" stroke-linecap="square" fill="none"/>
<path d="M447 158C448.38 155.8 451.13 154.2 453.3 152.8C455.47 151.4 457.78 150.35 460 149.6C462.22 148.85 463.55 148.1 466.6 148.3C469.65 148.5 474.13 149.13 478.3 150.8C482.47 152.47 487.87 155.12 491.6 158.3C495.33 161.48 498.63 166.02 500.7 169.9C502.77 173.78 503.72 177.72 504 181.6C504.28 185.48 503.65 189.88 502.4 193.2C501.15 196.52 498.87 199 496.5 201.5C494.13 204 491.23 206.12 488.2 208.2C485.17 210.28 481.9 212.62 478.3 214C474.7 215.38 469.93 216.92 466.6 216.5C463.27 216.08 460.23 214 458.3 211.5C456.37 209 455.7 204.83 455 201.5C454.3 198.17 454.65 194.82 454.1 191.5C453.55 188.18 452.67 184.52 451.7 181.6C450.73 178.68 449.42 176.6 448.3 174C447.18 171.4 445.22 168.67 445 166C444.78 163.33 445.62 160.2 447 158Z" fill="url(#tgL)"/>
<path d="M448.67 159.57C449.96 157.53 452.51 156.04 454.53 154.74C456.54 153.43 458.7 152.46 460.76 151.76C462.82 151.06 464.06 150.37 466.9 150.55C469.73 150.74 473.9 151.33 477.78 152.88C481.65 154.43 486.67 156.89 490.15 159.85C493.62 162.81 496.69 167.03 498.61 170.64C500.53 174.25 501.42 177.91 501.68 181.52C501.94 185.13 501.35 189.22 500.19 192.31C499.03 195.39 496.9 197.7 494.7 200.03C492.5 202.35 489.81 204.32 486.98 206.26C484.16 208.2 481.13 210.37 477.78 211.65C474.43 212.94 470 214.36 466.9 213.98C463.8 213.59 460.98 211.65 459.18 209.33C457.38 207 456.76 203.13 456.11 200.03C455.46 196.93 455.78 193.81 455.27 190.73C454.76 187.64 453.94 184.23 453.04 181.52C452.14 178.81 450.92 176.87 449.88 174.45C448.84 172.03 447.01 169.49 446.81 167.01C446.61 164.53 447.38 161.62 448.67 159.57Z" fill="url(#tgE)"/>
<path d="M478.6 152.9h0M473.3 164.6h0M453.5 178.5h0M470.4 170.3h0M449.4 164.1h0M459.7 197.3h0M465.2 155.5h0M454.8 164.9h0M457.8 153.9h0M459.5 166.3h0M478.1 167.5h0M456.0 178.3h0M450.8 174.5h0M465.2 171.2h0M466.7 170.3h0M472.6 154.9h0M451.9 176.8h0M472.0 157.5h0M462.7 192.2h0M449.1 174.2h0M454.3 159.3h0M460.2 161.4h0M474.8 151.6h0M476.7 163.5h0M449.7 175.8h0M456.6 153.3h0M470.5 195.2h0M472.0 165.3h0M456.7 196.2h0M462.3 163.0h0M466.3 175.9h0M470.9 168.2h0M478.4 154.4h0M462.8 193.4h0M460.4 178.5h0M468.4 160.7h0M453.3 160.8h0M459.2 169.5h0M460.2 185.1h0M467.7 159.9h0M467.9 188.4h0M454.2 153.3h0M457.2 156.4h0M476.1 179.5h0M456.7 167.1h0M469.2 183.2h0M484.6 158.4h0M454.6 176.4h0M467.7 164.9h0M463.6 172.2h0M452.2 181.5h0M447.3 164.9h0M456.2 170.4h0M459.2 173.7h0M460.5 159.5h0M464.0 163.8h0M472.1 180.0h0M452.7 182.9h0M466.9 190.0h0M474.5 187.4h0M460.7 157.5h0M458.8 184.6h0M467.8 160.6h0M462.7 199.3h0M466.4 158.9h0M481.8 170.6h0M460.9 171.1h0M464.8 196.2h0M458.7 152.8h0M471.6 174.0h0M467.4 161.8h0M474.2 152.1h0M453.4 164.2h0M459.4 162.7h0M465.7 159.4h0M476.8 166.1h0M481.2 170.9h0M446.2 165.1h0M457.1 160.2h0M454.9 174.6h0M475.3 168.2h0M471.5 188.5h0M468.4 168.6h0M454.2 156.3h0M458.0 166.2h0M469.0 158.9h0M460.6 182.7h0M463.9 193.1h0M458.5 180.2h0M470.6 177.1h0M460.3 196.3h0M466.7 184.4h0M471.6 150.0h0M454.8 179.9h0M455.7 162.9h0M464.7 149.5h0M452.2 155.9h0M457.0 180.8h0M476.3 165.6h0M454.6 187.3h0M466.4 172.7h0M479.1 169.7h0M477.5 178.5h0M467.4 155.4h0M456.0 155.2h0M454.6 180.7h0M467.5 161.7h0M475.3 185.8h0M457.3 163.9h0M468.9 172.0h0M465.1 153.5h0M464.0 170.5h0M469.7 169.2h0M448.6 172.8h0M482.2 173.3h0M458.9 166.5h0M454.2 186.8h0M460.5 187.9h0M456.2 169.2h0M453.8 169.1h0" stroke="#7a3f3e" stroke-width="1.0" stroke-linecap="square" fill="none"/>
<path d="M427.7 159.2h0M461.0 160.0h0M434.2 161.4h0M433.2 163.6h0M461.5 168.5h0M449.2 159.5h0M447.5 158.3h0M435.5 162.2h0M440.9 163.1h0M446.8 160.7h0M438.6 159.2h0M426.2 166.9h0M451.4 159.0h0M429.6 165.6h0M445.7 166.9h0M441.4 160.5h0M427.9 162.3h0M439.4 171.4h0M419.7 171.8h0M451.9 159.1h0M455.7 166.3h0M436.7 159.8h0M427.5 169.5h0M443.1 159.3h0M449.0 169.1h0M449.2 164.3h0M455.5 158.6h0M419.2 175.1h0M437.6 165.9h0M447.3 173.6h0M425.4 177.9h0M455.4 159.3h0M437.1 162.9h0M436.1 169.3h0M431.6 169.3h0M453.6 167.3h0M445.3 163.6h0M458.3 160.9h0M443.0 162.3h0M441.2 165.1h0M437.5 165.8h0M433.4 158.6h0M437.8 171.6h0M449.3 165.8h0M455.6 159.9h0M436.8 162.9h0M432.0 160.8h0M435.8 173.6h0M432.5 171.0h0M449.4 163.0h0M460.2 168.6h0M431.4 170.9h0M449.0 159.7h0M434.5 165.5h0M456.9 159.1h0M437.3 159.9h0M445.1 160.7h0M430.3 171.4h0M433.2 164.7h0M448.2 160.7h0M446.2 171.3h0M436.4 173.5h0M446.6 164.0h0M426.9 166.2h0M434.1 169.3h0M435.3 163.4h0M444.3 162.4h0M434.7 164.3h0M437.3 170.4h0M438.2 170.5h0M428.4 167.6h0M452.4 159.8h0M448.2 170.4h0M435.4 171.2h0M455.1 163.0h0M431.5 171.9h0M461.7 160.2h0M439.3 160.3h0M429.8 169.8h0M436.8 164.9h0M433.3 171.9h0M426.3 166.5h0M434.2 160.2h0M424.3 167.7h0M440.8 163.8h0M449.5 163.2h0M446.9 158.4h0M429.0 160.8h0M444.6 162.1h0M431.9 163.2h0M449.3 164.1h0M443.4 166.3h0M437.0 172.8h0M437.4 158.9h0M434.0 164.2h0M438.6 165.7h0M444.0 162.3h0M433.2 165.2h0M431.7 163.9h0M419.7 164.2h0M441.7 162.5h0M426.7 161.5h0M460.6 159.8h0M447.2 169.8h0M428.8 158.5h0M440.4 164.5h0M427.2 166.0h0M430.1 168.3h0M428.2 157.3h0M459.3 157.5h0M450.9 161.9h0M431.1 174.8h0M451.3 158.3h0M446.4 157.6h0M432.1 173.9h0M448.2 166.9h0M438.9 164.3h0M453.5 160.7h0M441.6 166.4h0M445.3 165.3h0M422.5 166.0h0M436.4 168.5h0M455.2 161.5h0M434.6 160.7h0M449.1 164.4h0M426.3 170.7h0M442.0 162.4h0M441.7 168.5h0M421.1 165.3h0M432.6 164.8h0M447.4 162.2h0M455.7 166.0h0M429.7 164.6h0M451.9 158.7h0M438.2 165.0h0M419.5 178.5h0M455.0 165.7h0M434.3 170.9h0M425.3 167.6h0M419.6 170.5h0M453.0 164.0h0M449.6 159.0h0M452.3 164.2h0M437.1 165.1h0M435.1 174.5h0M434.5 169.3h0M428.3 171.8h0M450.7 163.2h0M431.2 166.2h0M440.0 168.3h0M454.3 163.8h0M424.2 165.4h0M430.4 159.3h0M429.3 163.1h0M448.2 163.5h0M451.4 157.3h0M461.2 161.0h0M450.0 159.4h0M456.2 170.1h0M450.0 165.5h0M430.8 166.9h0M440.8 164.9h0M426.1 172.3h0M449.1 164.0h0M452.3 166.3h0M442.0 160.7h0M430.8 164.9h0M426.8 168.5h0M460.2 167.9h0M430.8 159.8h0M434.9 167.8h0M434.1 163.2h0M437.2 160.6h0M433.1 167.6h0M428.6 162.4h0M427.2 165.2h0M460.2 164.8h0M429.6 160.3h0M422.7 168.1h0M437.5 161.0h0M440.2 163.4h0M431.7 162.4h0M458.8 163.1h0M434.2 170.8h0M432.1 160.3h0M438.2 166.5h0M438.2 164.0h0M430.1 169.4h0M428.7 158.8h0M452.8 165.7h0M439.3 171.0h0M437.4 162.7h0M448.8 170.9h0M426.0 166.3h0M436.9 175.3h0M426.5 169.5h0M440.9 169.0h0M424.4 167.5h0M435.7 164.3h0M421.7 165.8h0" stroke="#6f2927" stroke-width="1.0" stroke-linecap="square" fill="none"/>
<path d="M450.5 167.8h0M464.5 174.4h0M431.6 167.1h0M445.2 167.9h0M428.9 162.9h0M442.0 172.3h0M445.9 180.4h0M455.0 172.0h0M466.2 172.5h0M454.6 165.9h0M464.0 181.2h0M458.0 165.9h0M460.1 160.4h0M461.4 176.1h0M443.8 171.7h0M423.9 165.3h0M424.8 170.8h0M458.4 174.2h0M450.7 166.1h0M458.1 173.4h0M449.9 164.9h0M462.4 171.2h0M427.6 165.7h0M463.2 173.8h0M443.7 173.2h0M445.9 174.1h0M462.0 180.9h0M441.6 181.4h0M436.8 163.1h0M459.7 168.5h0M436.8 167.5h0M457.9 183.4h0M444.5 169.3h0M431.7 161.6h0M440.7 168.7h0M466.1 178.6h0M448.3 168.1h0M451.5 170.7h0M450.0 167.5h0M446.4 170.4h0M462.1 179.2h0M453.2 173.0h0M453.0 169.3h0M459.2 174.5h0M467.0 170.3h0M467.4 169.9h0M461.9 168.8h0M451.3 168.0h0M462.0 175.2h0M464.0 183.1h0M462.2 181.7h0M462.4 172.5h0M455.0 164.5h0M443.8 170.3h0M466.2 178.3h0M447.0 169.4h0M464.0 167.2h0M457.1 169.9h0M456.3 179.1h0M438.7 170.8h0M448.6 165.8h0M453.8 168.1h0M448.0 173.7h0M423.3 161.7h0M431.2 177.0h0M441.1 172.1h0M461.1 179.5h0M433.3 165.6h0M454.2 182.6h0M447.5 175.3h0M445.7 181.7h0M462.1 173.6h0M432.5 174.1h0M465.7 180.6h0M442.3 175.3h0M465.7 175.9h0M450.9 170.5h0M430.5 174.2h0M451.8 174.9h0M452.7 172.1h0M444.6 176.5h0M465.1 179.5h0M442.9 176.4h0M444.8 176.6h0M447.7 173.2h0M431.4 166.9h0M456.0 171.8h0M444.5 175.3h0M458.1 168.1h0M440.7 173.0h0M464.4 165.6h0M438.9 170.6h0M450.1 178.0h0M459.4 164.1h0M429.4 161.8h0M461.9 180.3h0M444.9 177.7h0M461.4 177.6h0M449.0 180.7h0M456.2 172.1h0M460.3 177.0h0M443.5 173.7h0M453.4 177.1h0M421.9 179.4h0M461.9 160.4h0M466.1 168.5h0M461.6 172.6h0M454.6 165.9h0M448.2 174.9h0M440.1 164.4h0M466.3 179.0h0M440.8 171.2h0M465.5 176.5h0M448.0 168.9h0M428.0 170.4h0M461.1 171.6h0M444.1 173.7h0M447.2 172.1h0M466.0 168.6h0M444.2 182.3h0M453.8 182.7h0M432.0 168.9h0M441.7 179.2h0M432.0 171.5h0M453.1 169.6h0M451.0 176.1h0M455.8 163.6h0M456.1 171.3h0M461.9 171.1h0M448.4 162.4h0M463.1 174.6h0M444.1 170.2h0M437.9 180.2h0M441.5 168.3h0M468.0 169.7h0M427.8 165.7h0M460.1 169.3h0M450.5 173.0h0M461.1 176.2h0M467.3 170.6h0M464.1 164.0h0M456.6 167.0h0M420.4 162.8h0M459.2 171.7h0M464.0 167.5h0M426.0 177.8h0M431.4 173.9h0M463.5 174.7h0M451.9 178.6h0M467.5 165.0h0M443.2 174.4h0M443.9 173.7h0M458.8 173.6h0M433.3 170.1h0M441.9 180.2h0M457.8 181.6h0M456.9 169.2h0M461.3 176.4h0M433.2 165.4h0M457.1 162.5h0M448.3 169.5h0M460.8 166.2h0M451.5 173.5h0M440.9 178.1h0M442.1 171.8h0M444.0 165.3h0M445.6 175.9h0M466.0 177.2h0M454.6 165.7h0M463.5 175.5h0M444.8 182.0h0M463.1 171.7h0M449.3 173.4h0M460.4 174.8h0M431.4 176.6h0M448.9 164.5h0M448.3 170.7h0M447.4 174.9h0M451.6 167.7h0M437.0 170.4h0M457.9 171.6h0M441.4 173.7h0M461.1 167.7h0M446.4 178.2h0M445.2 178.7h0M460.6 168.7h0M435.2 166.0h0M450.0 166.8h0M464.0 179.6h0M434.2 167.5h0M461.2 179.1h0M424.1 177.0h0M463.6 172.3h0M453.3 169.5h0M459.7 173.2h0M458.5 166.5h0M451.1 169.3h0M441.0 177.3h0M448.2 170.1h0M439.1 177.2h0" stroke="#8e908a" stroke-width="1.0" stroke-linecap="square" fill="none"/>
<path d="M425.5 162.5C426.08 161.47 428.25 160.52 430 159.8C431.75 159.08 434 158.8 436 158.2C438 157.6 440.17 156.8 442 156.2C443.83 155.6 445.25 154.77 447 154.6C448.75 154.43 451.5 154.38 452.5 155.2C453.5 156.02 454.08 158.33 453 159.5C451.92 160.67 448.5 161.25 446 162.2C443.5 163.15 440.67 164.43 438 165.2C435.33 165.97 431.92 166.67 430 166.8C428.08 166.93 427.25 166.72 426.5 166C425.75 165.28 424.92 163.53 425.5 162.5Z" fill="#6f2927"/>
<path d="M447.2 156.6h0M450.0 163.5h0M432.7 160.2h0M426.9 157.1h0M442.9 164.0h0M430.9 163.2h0M435.8 161.5h0M447.7 158.1h0M430.5 160.2h0M451.4 160.0h0M447.9 157.4h0M445.6 164.9h0M435.5 157.8h0M428.6 157.1h0M433.6 162.1h0M448.7 158.3h0M450.2 157.3h0M439.0 163.7h0" stroke="#ffffff" stroke-width="0.9" stroke-linecap="square" fill="none" stroke-opacity="0.8"/>
<path d="M445.7 155.4h0M446.9 149.6h0M444.9 149.0h0M435.5 151.6h0M434.9 149.6h0M434.4 153.7h0M440.4 149.0h0M443.3 151.2h0M437.4 151.1h0M440.5 152.5h0M445.1 149.4h0M434.1 155.9h0M425.5 149.8h0M441.6 155.9h0" stroke="#ffffff" stroke-width="0.9" stroke-linecap="square" fill="none" stroke-opacity="0.8"/>
<path d="M424.5 152.2C426 150.6 430 150.4 432 152C432.5 154 431 155.8 428.5 156.2C426 156.2 424.2 154.5 424.5 152.2Z" fill="#6f2927"/>
<path d="M434 149.5L442 149.2L447.5 151L445 154.5L437 155.5L434 153.5Z" fill="#6f2927"/>
<ellipse cx="446.5" cy="178" rx="2" ry="1.8" fill="#6f2927"/>
<path d="M424.6 144.5C424.7 143.25 424.78 141.05 425.6 139.5C426.42 137.95 427.77 136.35 429.5 135.2C431.23 134.05 433.92 133.1 436 132.6C438.08 132.1 440 132.05 442 132.2C444 132.35 446.25 132.7 448 133.5C449.75 134.3 451.47 135.58 452.5 137C453.53 138.42 454.03 140.33 454.2 142C454.37 143.67 454.1 145.5 453.5 147C452.9 148.5 451.77 149.97 450.6 151C449.43 152.03 447.85 153.12 446.5 153.2C445.15 153.28 443.67 152.3 442.5 151.5C441.33 150.7 441.08 149 439.5 148.4C437.92 147.8 435 147.93 433 147.9C431 147.87 428.83 148.35 427.5 148.2C426.17 148.05 425.48 147.62 425 147C424.52 146.38 424.5 145.75 424.6 144.5Z" fill="#6f2927" stroke="#6f2927" stroke-width="0.8" stroke-opacity="0.6"/>
<path d="M453.7 144.8h0M432.9 149.3h0M453.4 146.2h0M427.9 148.7h0M443.0 151.6h0M447.8 133.4h0M443.4 152.0h0M447.4 153.1h0M444.7 133.0h0M426.3 138.6h0M432.6 134.9h0M454.4 144.2h0M453.6 141.8h0M438.5 131.6h0M454.2 140.9h0M435.7 147.5h0M426.8 138.1h0M452.4 137.0h0M452.8 149.2h0M438.2 148.3h0M427.7 137.4h0M429.8 135.0h0M423.8 143.9h0M431.9 133.8h0M452.5 137.4h0M448.6 134.5h0" stroke="#6f2927" stroke-width="0.9" stroke-linecap="square" fill="none"/>
<circle cx="470.5" cy="134.8" r="2.1" fill="#6f2927"/>
<path d="M443.64 194.6C443.88 195.76 443.96 196.97 444.04 198.15C444.13 199.32 444.15 200.51 444.13 201.65C444.1 202.8 444.02 203.95 443.88 205.04C443.75 206.13 443.56 207.21 443.32 208.22C443.09 209.23 442.8 210.2 442.46 211.11C442.13 212.01 441.74 212.87 441.32 213.64C440.89 214.42 440.42 215.13 439.92 215.76C439.41 216.38 438.87 216.94 438.3 217.4C437.73 217.86 437.12 218.24 436.5 218.53C435.88 218.82 435.23 219.01 434.57 219.12C433.91 219.22 433.23 219.24 432.55 219.16C431.86 219.07 431.17 218.9 430.49 218.64C429.8 218.37 429.11 218.01 428.44 217.57C427.77 217.13 427.1 216.6 426.45 216C425.81 215.39 425.18 214.7 424.58 213.94C423.98 213.18 423.41 212.35 422.87 211.46C422.33 210.57 421.82 209.61 421.35 208.61C420.89 207.61 420.46 206.55 420.08 205.46C419.7 204.38 419.36 203.24 419.07 202.1C418.78 200.96 418.49 199.78 418.36 198.6C418.22 197.42 418.25 196.2 418.27 195.01C418.29 193.81 418.36 192.61 418.47 191.45C418.58 190.29 418.74 189.13 418.93 188.03C419.13 186.93 419.37 185.85 419.64 184.83C419.91 183.81 420.22 182.84 420.55 181.93C420.88 181.03 421.25 180.18 421.65 179.41C422.04 178.64 422.46 177.93 422.9 177.31C423.34 176.7 423.81 176.16 424.3 175.71C424.78 175.26 425.29 174.89 425.81 174.62C426.33 174.35 426.88 174.17 427.43 174.08C427.99 173.99 428.56 174 429.14 174.09C429.72 174.19 430.32 174.38 430.92 174.66C431.52 174.94 432.13 175.31 432.74 175.76C433.35 176.21 433.97 176.75 434.58 177.36C435.19 177.97 435.81 178.66 436.41 179.42C437 180.18 437.6 181.01 438.17 181.9C438.74 182.78 439.3 183.73 439.83 184.72C440.35 185.71 440.86 186.76 441.33 187.83C441.79 188.9 442.23 190.02 442.62 191.15C443 192.28 443.4 193.43 443.64 194.6Z" fill="#6f2927" stroke="#6f2927" stroke-width="0.8" stroke-opacity="0.6"/>
<path d="M428.2 216.1h0M440.7 184.9h0M443.4 194.3h0M424.5 175.4h0M417.4 194.0h0M442.5 193.4h0M438.7 183.3h0M418.6 198.9h0M440.5 214.2h0M439.1 183.5h0M423.1 211.3h0M437.9 182.5h0M437.7 216.8h0M444.3 194.2h0M435.6 218.5h0M430.1 218.3h0M436.6 218.8h0M444.2 202.3h0M440.7 187.9h0M425.6 215.3h0M425.6 175.7h0M438.6 216.4h0M443.1 211.8h0M419.3 195.3h0M431.9 219.0h0M428.4 217.7h0M429.4 218.2h0M421.8 179.3h0M433.2 217.8h0M442.5 210.1h0M427.4 174.0h0M421.6 179.8h0M417.9 191.7h0M426.5 216.4h0M421.2 207.9h0M443.1 206.6h0" stroke="#6f2927" stroke-width="0.9" stroke-linecap="square" fill="none"/>
</g>
<line x1="452.9" y1="131.1" x2="445.5" y2="136.8" stroke="#333" stroke-width="0.7"/>
<line x1="459.4" y1="131.1" x2="469.2" y2="134.3" stroke="#333" stroke-width="0.7"/>
<line x1="491.6" y1="216.9" x2="482.2" y2="195.7" stroke="#333" stroke-width="0.7"/>
<line x1="430.7" y1="219.5" x2="434.7" y2="207" stroke="#333" stroke-width="0.7"/>
<text x="436" y="129.8" font-size="7.5" text-anchor="start" fill="#222" stroke="#222" stroke-width="0.22">Donor CD4</text>
<text x="447.9" y="225" font-size="7.55" text-anchor="start" fill="#222" stroke="#222" stroke-width="0.22">BM cells/host cells</text>
<text x="406.6" y="229.6" font-size="7.5" text-anchor="start" fill="#222" stroke="#222" stroke-width="0.22">Donor CD8</text>
<rect x="481" y="130.3" width="3" height="3.1" fill="#7d7e78"/>
<rect x="481" y="139" width="3" height="3.1" fill="#6f2927"/>
<text x="487.4" y="134.8" font-size="7.4" text-anchor="start" fill="#222" stroke="#222" stroke-width="0.22">ICOS−</text>
<text x="487.4" y="143.4" font-size="7.4" text-anchor="start" fill="#222" stroke="#222" stroke-width="0.22">ICOS+</text>
<rect x="405.4" y="120" width="108.8" height="111.5" fill="none" stroke="#262626" stroke-width="1.4"/>
<path d="M402.2 222H405.4M403.2 214.08H405.4M403.2 206.16H405.4M403.2 198.24H405.4M402.2 190.32H405.4M403.2 182.4H405.4M403.2 174.48H405.4M403.2 166.56H405.4M402.2 158.64H405.4M403.2 150.72H405.4M403.2 142.8H405.4M403.2 134.88H405.4M402.2 126.96H405.4M413.8 231.5v3.2M423.47 231.5v2.2M433.14 231.5v3.2M442.81 231.5v2.2M452.48 231.5v3.2M462.15 231.5v2.2M471.82 231.5v3.2M481.49 231.5v2.2M491.16 231.5v3.2M500.83 231.5v2.2M510.5 231.5v3.2" stroke="#222" stroke-width="0.8" fill="none"/>
<text x="399.9" y="129.8" font-size="7.6" text-anchor="end" fill="#222" stroke="#222" stroke-width="0.22">30</text>
<text x="399.9" y="161.2" font-size="7.6" text-anchor="end" fill="#222" stroke="#222" stroke-width="0.22">20</text>
<text x="399.9" y="192.9" font-size="7.6" text-anchor="end" fill="#222" stroke="#222" stroke-width="0.22">10</text>
<text x="399.9" y="224.8" font-size="7.6" text-anchor="end" fill="#222" stroke="#222" stroke-width="0.22">0</text>
<text x="413.8" y="243.4" font-size="7.6" text-anchor="middle" fill="#222" stroke="#222" stroke-width="0.22">0</text>
<text x="433.1" y="243.4" font-size="7.6" text-anchor="middle" fill="#222" stroke="#222" stroke-width="0.22">5.0</text>
<text x="452.5" y="243.4" font-size="7.6" text-anchor="middle" fill="#222" stroke="#222" stroke-width="0.22">10</text>
<text x="471.8" y="243.4" font-size="7.6" text-anchor="middle" fill="#222" stroke="#222" stroke-width="0.22">15</text>
<text x="491.2" y="243.4" font-size="7.6" text-anchor="middle" fill="#222" stroke="#222" stroke-width="0.22">20</text>
<text x="510.5" y="243.4" font-size="7.6" text-anchor="middle" fill="#222" stroke="#222" stroke-width="0.22">25</text>
<text x="459.4" y="255" font-size="8.8" text-anchor="middle" fill="#1c1c1c" stroke="#1c1c1c" stroke-width="0.36" textLength="24.5" lengthAdjust="spacingAndGlyphs">UMAP_1</text>
<text transform="translate(382.7,176.8) rotate(-90)" x="0" y="0" font-size="8.8" text-anchor="middle" dominant-baseline="central" fill="#1c1c1c" stroke="#1c1c1c" stroke-width="0.1" textLength="24.5" lengthAdjust="spacingAndGlyphs">UMAP_2</text>
<clipPath id="cf"><rect x="405.3" y="369.2" width="109" height="108.3"/></clipPath><g clip-path="url(#cf)">
<path d="M466.9 437.3h0M455.2 418.1h0M432.3 412.9h0M468.8 436.5h0M433.1 408.0h0M467.8 437.5h0M462.1 450.6h0M433.2 409.9h0M431.5 428.5h0M431.3 432.7h0M447.1 415.6h0M455.7 419.7h0M420.6 415.1h0M466.6 436.0h0M457.3 447.0h0M460.3 449.5h0M470.8 440.8h0M420.4 424.6h0M450.6 418.5h0M438.3 434.7h0M434.7 412.4h0M447.0 442.0h0M444.1 412.7h0M427.4 423.0h0M437.4 434.8h0M420.6 418.6h0M457.1 424.0h0M442.2 411.0h0M461.3 434.5h0M454.9 424.8h0M441.5 437.0h0M439.2 409.3h0M437.0 435.9h0M448.7 445.0h0M423.8 408.9h0M447.3 417.2h0M427.6 422.6h0M462.3 448.7h0M446.4 441.6h0M463.5 446.9h0M421.8 412.3h0M441.4 412.1h0M443.9 437.8h0M456.2 448.0h0M441.2 411.7h0M424.9 421.8h0M444.3 442.0h0M457.1 429.1h0M432.5 425.8h0M469.2 442.7h0M454.5 447.1h0M425.1 406.2h0M417.4 410.7h0M427.3 424.6h0M462.5 449.1h0M459.1 429.2h0M434.5 411.6h0M443.5 439.2h0M467.3 436.6h0M455.8 420.1h0M464.2 446.6h0M428.5 411.8h0M420.8 411.5h0M438.9 437.0h0M451.9 420.3h0M466.1 437.7h0M440.1 437.9h0M424.3 410.6h0M427.8 407.3h0M455.0 419.7h0M461.3 430.8h0M462.2 436.2h0M437.3 412.6h0M449.9 441.9h0M462.8 449.4h0M442.9 436.7h0M431.2 408.9h0M453.4 418.5h0M442.1 438.3h0M454.0 424.3h0M467.9 441.5h0M469.6 439.2h0M468.0 440.9h0M444.3 411.3h0M423.6 409.0h0M439.9 411.2h0M465.5 444.3h0M453.1 420.8h0M450.0 445.0h0M431.4 427.4h0M454.5 447.0h0M461.2 431.0h0M433.9 433.3h0M441.6 408.8h0M431.3 409.1h0M423.5 411.7h0M421.9 412.8h0M467.2 440.7h0M436.8 432.9h0M469.7 441.6h0M468.8 442.3h0M441.6 414.1h0M451.6 420.0h0M455.8 426.7h0M462.4 447.5h0M452.7 448.0h0M442.7 435.4h0M424.9 427.0h0M427.4 425.3h0M451.1 419.7h0M470.6 439.3h0M464.9 437.6h0M467.7 441.1h0M429.0 410.5h0M420.0 419.2h0M465.7 437.9h0M415.4 413.0h0M446.5 441.0h0M459.3 429.2h0M460.6 435.8h0M456.6 446.9h0M417.5 418.9h0M437.7 434.6h0M456.5 444.8h0M434.8 410.9h0M438.4 412.4h0M463.5 431.3h0M465.1 436.6h0M454.4 421.5h0M469.3 441.9h0M447.9 440.8h0M467.6 441.5h0M442.0 438.1h0M435.5 409.1h0M448.8 445.7h0M466.9 439.2h0M455.2 448.8h0M460.4 430.9h0M458.6 425.0h0M430.4 432.2h0M435.7 434.8h0M451.6 443.8h0M462.5 433.4h0M447.1 441.5h0M457.5 424.8h0M435.5 412.8h0M433.6 409.3h0M467.1 449.0h0M425.1 409.4h0M437.1 431.8h0M437.6 431.0h0M456.0 423.8h0M433.7 433.9h0M431.1 425.6h0M426.2 410.7h0M457.4 425.1h0M437.9 433.0h0M440.5 437.0h0M427.6 408.0h0M435.8 431.9h0" stroke="#a9aba4" stroke-width="1.0" stroke-linecap="square" fill="none"/>
<path d="M419.2 414.5C419.45 413.17 420.78 411.78 422 411C423.22 410.22 424.83 410.03 426.5 409.8C428.17 409.57 430.08 409.5 432 409.6C433.92 409.7 436.22 409.88 438 410.4C439.78 410.92 441.03 411.85 442.7 412.7C444.37 413.55 446.28 414.45 448 415.5C449.72 416.55 451.5 417.5 453 419C454.5 420.5 455.67 422.5 457 424.5C458.33 426.5 459.5 428.92 461 431C462.5 433.08 464.5 435.25 466 437C467.5 438.75 470 440 470 441.5C470 443 467.47 444.83 466 446C464.53 447.17 463.35 448.57 461.2 448.5C459.05 448.43 455.8 446.95 453.1 445.6C450.4 444.25 447.52 442.23 445 440.4C442.48 438.57 440.5 436.72 438 434.6C435.5 432.48 432.25 429.63 430 427.7C427.75 425.77 426.08 424.45 424.5 423C422.92 421.55 421.38 420.42 420.5 419C419.62 417.58 418.95 415.83 419.2 414.5Z" fill="url(#tgL)"/>
<path d="M497.7 393.3h0M454.6 428.2h0M500.8 422.2h0M501.0 423.2h0M460.0 441.4h0M461.6 388.7h0M489.8 433.1h0M471.6 443.3h0M460.8 442.6h0M479.0 440.4h0M460.6 392.2h0M456.0 417.8h0M494.8 429.8h0M457.4 432.8h0M460.7 388.9h0M487.6 434.1h0M455.9 411.1h0M476.8 439.7h0M504.0 417.7h0M490.1 386.3h0M456.6 405.3h0M476.0 441.6h0M460.7 391.5h0M474.1 439.7h0M460.7 439.6h0M502.1 399.6h0M497.8 397.8h0M482.7 385.0h0M483.2 382.8h0M454.1 428.7h0M474.7 439.8h0M464.5 388.0h0M489.0 434.6h0M501.9 424.2h0M473.7 382.9h0M453.6 413.4h0M499.2 421.0h0M456.9 432.3h0M500.5 425.9h0M503.6 413.7h0M478.6 438.5h0M503.1 413.1h0M488.0 434.4h0M488.9 386.5h0M497.3 427.3h0M482.1 383.0h0M467.0 442.6h0M503.2 411.6h0M466.0 386.1h0M505.7 410.4h0M456.0 402.9h0M483.5 437.8h0M468.8 384.2h0M497.0 392.7h0M473.8 382.8h0M460.8 388.4h0M455.5 408.5h0M455.3 408.0h0M498.7 394.5h0M499.0 424.9h0M501.2 422.8h0M464.3 386.4h0M467.1 442.2h0M481.7 438.5h0M457.9 398.5h0M487.8 433.5h0M468.6 444.0h0M494.5 388.2h0M464.8 389.5h0M489.6 384.8h0M461.6 443.8h0M456.3 417.5h0M459.1 430.6h0M483.3 381.8h0M494.5 390.3h0M501.4 406.7h0M503.7 410.8h0M503.0 419.2h0M456.5 432.7h0M473.7 440.6h0M488.3 435.0h0M459.4 439.5h0M461.0 440.2h0M498.4 395.4h0M454.6 411.2h0M453.4 427.8h0M502.9 403.1h0M469.4 385.8h0M464.6 387.2h0M503.5 422.7h0M496.8 430.3h0M492.8 431.8h0M458.3 431.4h0M485.8 433.5h0M455.1 418.7h0M454.1 422.7h0M501.8 400.5h0M495.1 429.7h0M457.6 426.2h0M502.0 419.2h0M498.8 390.6h0M455.3 431.5h0M484.9 436.7h0M454.9 417.5h0M504.9 411.4h0M463.4 387.9h0M466.3 445.1h0M467.4 443.0h0M455.7 417.5h0M454.6 412.7h0M503.7 420.6h0M493.9 434.5h0M496.3 390.3h0M487.9 383.7h0M465.6 386.0h0M478.2 383.6h0M503.1 414.2h0M503.1 409.3h0M473.0 441.8h0M502.5 404.0h0" stroke="#9a9c95" stroke-width="1.0" stroke-linecap="square" fill="none"/>
<path d="M462.1 436.9h0M456.1 429.5h0M457.6 396.2h0M473.8 387.0h0M505.8 413.4h0M474.0 438.3h0M454.0 426.0h0M475.7 384.5h0M503.3 399.4h0M453.8 411.4h0M502.8 392.5h0M498.7 391.3h0M483.2 385.1h0M459.5 445.2h0M465.7 383.4h0M453.5 411.1h0M501.9 396.2h0M500.9 419.3h0M454.4 423.1h0M503.0 401.5h0M503.8 408.1h0M464.0 390.4h0M465.5 441.1h0M453.8 409.9h0M492.0 389.1h0M475.9 384.5h0M453.4 410.5h0M464.5 441.0h0M454.3 410.1h0M494.8 431.8h0M498.4 394.5h0M496.3 433.0h0M495.8 428.2h0M485.9 435.9h0M474.2 444.1h0M466.1 386.5h0M454.5 411.5h0M456.4 421.8h0M456.3 439.1h0M461.0 392.2h0M475.2 383.4h0M452.7 407.9h0M453.4 414.4h0M483.7 383.6h0M482.8 439.9h0M483.3 434.7h0M460.9 435.0h0M464.4 386.5h0M453.1 422.4h0M457.0 402.7h0M487.4 438.0h0M491.4 434.5h0M463.5 442.4h0M476.2 440.3h0M493.3 430.5h0M470.9 437.8h0M502.5 398.9h0M489.1 433.7h0M504.6 417.3h0M496.2 429.5h0" stroke="#aeb0a9" stroke-width="1.0" stroke-linecap="square" fill="none"/>
<path d="M455 414C455 410.67 454.78 407.08 455.2 404C455.62 400.92 456.45 397.92 457.5 395.5C458.55 393.08 459.92 391.15 461.5 389.5C463.08 387.85 464.92 386.62 467 385.6C469.08 384.58 471.67 383.83 474 383.4C476.33 382.97 478.67 382.77 481 383C483.33 383.23 485.75 383.8 488 384.8C490.25 385.8 492.5 387.22 494.5 389C496.5 390.78 498.5 392.92 500 395.5C501.5 398.08 502.83 401.25 503.5 404.5C504.17 407.75 504.42 411.67 504 415C503.58 418.33 502.58 421.83 501 424.5C499.42 427.17 497.17 429.08 494.5 431C491.83 432.92 488.08 434.5 485 436C481.92 437.5 478.83 438.75 476 440C473.17 441.25 470.5 443.17 468 443.5C465.5 443.83 462.83 443.58 461 442C459.17 440.42 457.97 437 457 434C456.03 431 455.53 427.33 455.2 424C454.87 420.67 455 417.33 455 414Z" fill="url(#tgL)"/>
<path d="M456.1 413.85C456.1 410.68 455.89 407.28 456.29 404.35C456.68 401.42 457.47 398.57 458.47 396.27C459.47 393.98 460.77 392.14 462.27 390.57C463.78 389 465.52 387.83 467.5 386.87C469.48 385.9 471.93 385.19 474.15 384.78C476.36 384.37 478.58 384.18 480.8 384.4C483.01 384.62 485.31 385.16 487.45 386.11C489.58 387.06 491.72 388.4 493.62 390.1C495.52 391.79 497.42 393.82 498.85 396.27C500.27 398.73 501.54 401.73 502.17 404.82C502.81 407.91 503.04 411.63 502.65 414.8C502.25 417.96 501.3 421.29 499.8 423.82C498.29 426.36 496.16 428.18 493.62 430C491.09 431.82 487.53 433.32 484.6 434.75C481.67 436.17 478.74 437.36 476.05 438.55C473.36 439.73 470.82 441.56 468.45 441.87C466.07 442.19 463.54 441.95 461.8 440.45C460.06 438.94 458.92 435.7 458 432.85C457.08 430 456.6 426.51 456.29 423.35C455.97 420.18 456.1 417.01 456.1 413.85Z" fill="url(#tgM)"/>
<path d="M442.1 399.3h0M447.6 400.1h0M428.7 401.8h0M440.0 401.9h0M443.4 403.4h0M449.1 403.4h0M445.8 408.5h0M449.4 403.9h0M440.7 408.2h0M433.0 402.8h0M433.1 400.3h0M442.0 403.7h0M442.3 406.9h0M444.0 401.1h0M449.8 407.3h0M433.0 399.4h0M436.7 410.9h0M433.8 402.2h0M439.2 400.2h0M437.3 399.8h0M443.0 406.0h0M442.1 400.5h0M433.8 405.5h0M448.1 410.3h0M442.1 406.9h0M439.7 399.0h0M446.3 403.0h0M447.3 411.3h0M444.8 400.7h0M437.3 401.8h0M444.1 401.6h0M449.9 407.4h0M439.4 400.6h0M435.4 406.6h0M445.8 401.5h0M437.5 404.5h0M430.2 404.2h0M447.0 402.2h0M437.9 404.5h0M433.5 411.0h0" stroke="#a9aba4" stroke-width="1.0" stroke-linecap="square" fill="none"/>
<path d="M426.0 407.7h0M437.2 405.0h0M438.7 406.1h0M451.2 405.7h0M441.3 399.2h0M427.3 407.3h0M437.0 398.5h0M449.4 411.7h0M447.8 410.0h0M444.2 399.3h0M449.6 402.6h0M450.9 401.1h0M431.1 404.4h0M450.7 406.1h0M428.5 408.7h0M425.2 407.8h0M425.4 403.3h0M443.7 400.8h0M432.2 407.8h0M437.8 407.0h0M447.1 406.5h0M449.4 410.5h0M437.5 402.2h0M437.0 401.7h0M446.7 403.0h0M433.4 409.1h0M446.3 401.0h0M449.7 400.6h0M428.6 409.7h0M445.4 401.6h0M443.7 403.5h0M438.1 409.5h0M450.7 403.0h0M426.6 406.9h0M431.6 408.8h0M428.0 402.3h0M442.7 401.1h0M437.4 406.3h0M425.5 409.4h0M428.3 406.8h0M431.2 408.7h0M433.5 399.4h0M425.3 405.3h0M434.6 410.4h0M432.6 404.0h0" stroke="#6f2927" stroke-width="1.0" stroke-linecap="square" fill="none"/>
<path d="M418.5 390.3C418.68 387.45 419.53 385.97 420.8 384.4C422.07 382.83 424.03 381.83 426.1 380.9C428.17 379.97 430.85 379.08 433.2 378.8C435.55 378.52 438.05 378.55 440.2 379.2C442.35 379.85 444.53 381.05 446.1 382.7C447.67 384.35 448.92 386.85 449.6 389.1C450.28 391.35 450.3 393.97 450.2 396.2C450.1 398.43 450.03 401.67 449 402.5C447.97 403.33 445.47 401.52 444 401.2C442.53 400.88 442.2 400.6 440.2 400.6C438.2 400.6 434.35 400.63 432 401.2C429.65 401.77 427.87 403.07 426.1 404C424.33 404.93 422.47 407.22 421.4 406.8C420.33 406.38 420.18 404.25 419.7 401.5C419.22 398.75 418.32 393.15 418.5 390.3Z" fill="#6f2927" stroke="#6f2927" stroke-width="0.8" stroke-opacity="0.6"/>
<path d="M448.5 388.8h0M431.0 379.6h0M425.7 381.4h0M450.4 399.5h0M447.4 386.9h0M446.1 382.6h0M441.9 401.0h0M423.7 382.6h0M441.1 400.7h0M447.3 387.2h0M432.2 379.5h0M419.8 384.8h0M450.7 392.1h0M429.6 401.8h0M421.1 406.1h0M449.1 402.8h0M424.6 404.3h0M422.7 406.0h0M429.2 380.1h0M428.0 402.4h0M418.3 391.1h0M424.3 382.6h0M443.3 401.2h0M420.1 385.6h0M430.6 378.5h0M441.3 401.6h0M440.9 379.4h0M434.4 400.8h0M421.4 405.7h0M418.9 394.4h0M450.1 398.9h0M448.3 402.5h0M442.3 381.2h0M419.5 396.2h0M419.0 395.8h0M449.2 391.4h0M423.4 382.7h0M440.1 379.5h0M437.4 378.4h0M421.6 384.4h0" stroke="#6f2927" stroke-width="0.9" stroke-linecap="square" fill="none"/>
<path d="M427.9 380.3h0M435.9 378.6h0M444.3 382.4h0M420.6 400.0h0M418.7 395.5h0M449.3 386.5h0M434.4 401.1h0M434.3 401.0h0M443.5 381.3h0M426.5 380.9h0M425.1 381.6h0M439.5 400.9h0M418.7 397.6h0M434.2 401.7h0M443.9 380.9h0M419.2 388.5h0M419.8 389.1h0M421.0 404.3h0M450.9 390.7h0M422.0 406.9h0M428.3 380.8h0M424.3 404.6h0M430.0 379.8h0M450.4 394.6h0M419.4 402.5h0M450.2 393.5h0M433.0 378.4h0M439.4 400.8h0M435.7 379.0h0M441.2 379.2h0M418.8 389.4h0M430.1 378.9h0M444.7 380.9h0M446.2 383.0h0M444.1 402.1h0M427.5 403.9h0M419.6 397.0h0M450.4 395.9h0M448.6 387.2h0M419.1 401.2h0" stroke="#ffffff" stroke-width="0.8" stroke-linecap="square" fill="none" stroke-opacity="0.7"/>
<path d="M423.3 444.2C424.12 443.23 425.87 441.32 427.9 441.2C429.93 441.08 433.22 442.48 435.5 443.5C437.78 444.52 439.95 445.65 441.6 447.3C443.25 448.95 444.68 451.5 445.4 453.4C446.12 455.3 446.4 457.13 445.9 458.7C445.4 460.27 444.13 461.9 442.4 462.8C440.67 463.7 437.67 464.53 435.5 464.1C433.33 463.67 431.18 462.12 429.4 460.2C427.62 458.28 425.87 454.8 424.8 452.6C423.73 450.4 423.25 448.4 423 447C422.75 445.6 422.48 445.17 423.3 444.2Z" fill="#6f2927" stroke="#6f2927" stroke-width="0.8" stroke-opacity="0.6"/>
<path d="M440.1 446.5h0M443.4 450.1h0M441.4 447.3h0M430.5 460.6h0M432.0 441.5h0M437.2 443.5h0M427.0 441.8h0M424.0 449.8h0M428.7 458.6h0M428.7 441.0h0M445.7 452.3h0M435.3 462.9h0M426.8 456.0h0M427.8 441.2h0M443.7 450.7h0M444.2 459.9h0M445.7 454.5h0M446.3 457.9h0M424.6 452.1h0M425.1 453.1h0M441.2 447.5h0M438.5 464.2h0M429.1 441.2h0M444.1 452.0h0M443.7 449.3h0M443.4 460.7h0" stroke="#6f2927" stroke-width="0.9" stroke-linecap="square" fill="none"/>
<path d="M434.2 442.9h0M426.6 455.0h0M428.3 458.0h0M430.9 442.8h0M427.9 440.3h0M446.1 456.5h0M425.9 455.6h0M444.4 451.1h0M426.6 440.8h0M432.9 463.0h0M424.9 453.4h0M444.3 453.1h0M432.5 462.2h0M436.7 463.6h0M440.8 463.8h0" stroke="#ffffff" stroke-width="0.8" stroke-linecap="square" fill="none" stroke-opacity="0.7"/>
<path d="M430.7 432.2h0M430.3 430.8h0M427.0 436.6h0M421.1 436.8h0M421.9 432.7h0M429.0 433.4h0M423.3 429.9h0M422.4 429.9h0M420.8 431.3h0M426.8 433.7h0M426.5 429.5h0M430.3 430.4h0M428.6 430.5h0M426.9 436.5h0M424.4 429.7h0M427.8 430.1h0M425.7 434.6h0M424.6 431.5h0M420.7 431.0h0M423.7 433.4h0M431.1 434.3h0M431.0 435.8h0M420.2 436.3h0M428.6 429.7h0M420.2 434.2h0M424.1 430.2h0M423.1 434.0h0M421.4 431.6h0M423.5 437.0h0M425.9 432.8h0" stroke="#6f2927" stroke-width="1.0" stroke-linecap="square" fill="none"/>
</g>
<line x1="455.5" y1="379.2" x2="436.1" y2="388.5" stroke="#222" stroke-width="0.7"/>
<line x1="494" y1="442.8" x2="485.7" y2="425.8" stroke="#222" stroke-width="0.7"/>
<line x1="471.6" y1="462.2" x2="435.2" y2="417.5" stroke="#222" stroke-width="0.7"/>
<line x1="428.2" y1="466" x2="438.8" y2="452.8" stroke="#222" stroke-width="0.7"/>
<text x="431.3" y="376.6" font-size="7.5" text-anchor="start" fill="#222" stroke="#222" stroke-width="0.22">Human CD4</text>
<text x="473.2" y="451.5" font-size="7.4" text-anchor="start" fill="#222" stroke="#222" stroke-width="0.22">Mouse cells</text>
<text x="451.1" y="467.8" font-size="7.3" text-anchor="start" fill="#222" stroke="#222" stroke-width="0.22">Human non-T cells</text>
<text x="407.4" y="473.1" font-size="7.4" text-anchor="start" fill="#222" stroke="#222" stroke-width="0.22">Human CD8</text>
<rect x="481" y="372.5" width="3" height="3.1" fill="#7d7e78"/>
<rect x="481" y="381.3" width="3" height="3.1" fill="#6f2927"/>
<text x="486.6" y="376.9" font-size="7.4" text-anchor="start" fill="#222" stroke="#222" stroke-width="0.22">ICOS−</text>
<text x="486.6" y="385.7" font-size="7.4" text-anchor="start" fill="#222" stroke="#222" stroke-width="0.22">ICOS+</text>
<rect x="405.3" y="369.2" width="109" height="108.3" fill="none" stroke="#262626" stroke-width="1.4"/>
<path d="M402.1 467.8H405.3M403.1 459.08H405.3M403.1 450.36H405.3M403.1 441.64H405.3M402.1 432.92H405.3M403.1 424.2H405.3M403.1 415.48H405.3M403.1 406.76H405.3M402.1 398.04H405.3M403.1 389.32H405.3M403.1 380.6H405.3M414.7 477.5v3.2M423.3 477.5v2.2M431.9 477.5v2.2M440.5 477.5v2.2M449.1 477.5v3.2M457.7 477.5v2.2M466.3 477.5v2.2M474.9 477.5v2.2M483.5 477.5v3.2M492.1 477.5v2.2M500.7 477.5v2.2M509.3 477.5v2.2" stroke="#222" stroke-width="0.8" fill="none"/>
<text x="399.9" y="400.8" font-size="7.6" text-anchor="end" fill="#222" stroke="#222" stroke-width="0.22">20</text>
<text x="399.9" y="435.6" font-size="7.6" text-anchor="end" fill="#222" stroke="#222" stroke-width="0.22">10</text>
<text x="399.9" y="470.6" font-size="7.6" text-anchor="end" fill="#222" stroke="#222" stroke-width="0.22">0</text>
<text x="414.7" y="489" font-size="7.6" text-anchor="middle" fill="#222" stroke="#222" stroke-width="0.22">0</text>
<text x="449.3" y="489" font-size="7.6" text-anchor="middle" fill="#222" stroke="#222" stroke-width="0.22">10</text>
<text x="483.1" y="489" font-size="7.6" text-anchor="middle" fill="#222" stroke="#222" stroke-width="0.22">20</text>
<text x="460" y="501.2" font-size="8.8" text-anchor="middle" fill="#1c1c1c" stroke="#1c1c1c" stroke-width="0.36" textLength="24.5" lengthAdjust="spacingAndGlyphs">UMAP_1</text>
<text transform="translate(382.4,423.3) rotate(-90)" x="0" y="0" font-size="8.8" text-anchor="middle" dominant-baseline="central" fill="#1c1c1c" stroke="#1c1c1c" stroke-width="0.1" textLength="25" lengthAdjust="spacingAndGlyphs">UMAP_2</text>
<rect x="0.5" y="0.5" width="519" height="510" fill="none" stroke="#000" stroke-width="1"/>
</svg>
</body></html>
